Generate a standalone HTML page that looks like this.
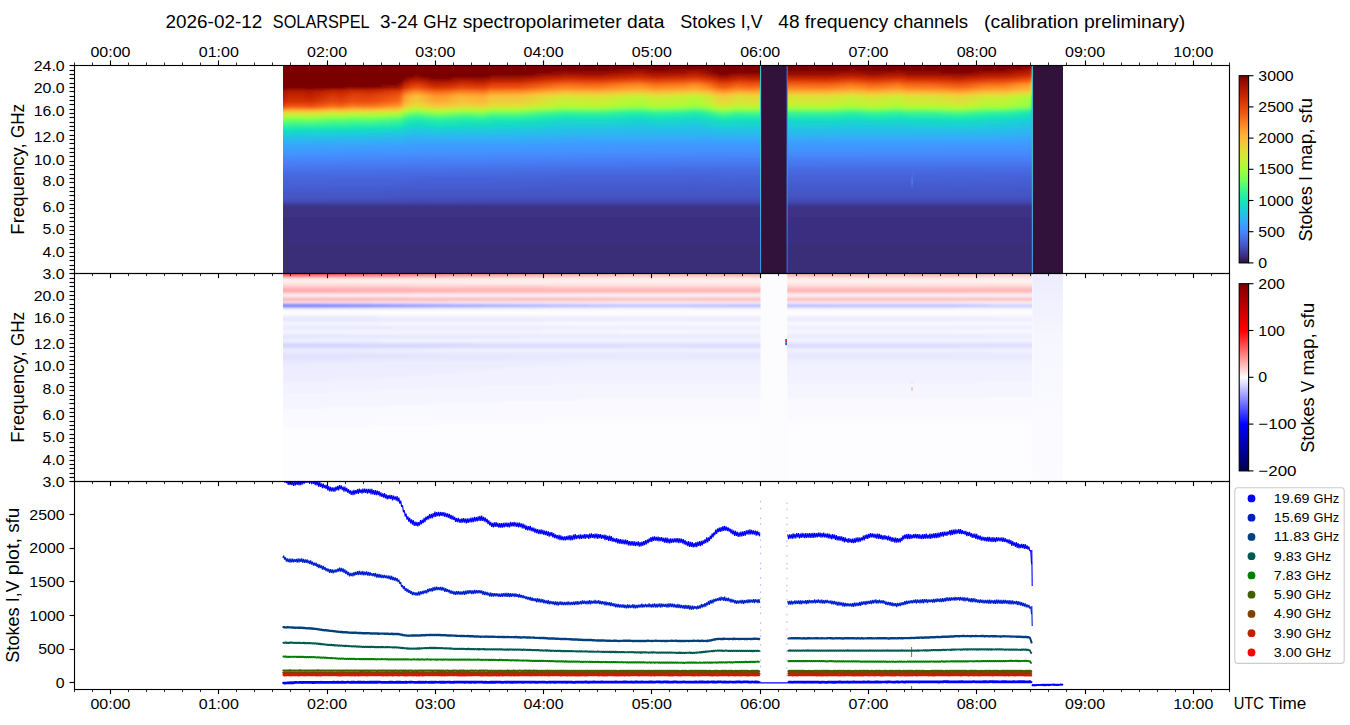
<!DOCTYPE html>
<html><head><meta charset="utf-8"><style>html,body{margin:0;padding:0;background:#fff;}svg{display:block;}</style></head>
<body><svg width="1350" height="725" viewBox="0 0 1350 725"><defs><linearGradient id="cbg0" x1="0" y1="0" x2="0" y2="1"><stop offset="0.000" stop-color="#7a0403"/><stop offset="0.031" stop-color="#920b01"/><stop offset="0.062" stop-color="#a91601"/><stop offset="0.094" stop-color="#be2102"/><stop offset="0.125" stop-color="#d02f05"/><stop offset="0.156" stop-color="#df3f08"/><stop offset="0.188" stop-color="#eb500e"/><stop offset="0.219" stop-color="#f46617"/><stop offset="0.250" stop-color="#fb7e21"/><stop offset="0.281" stop-color="#fe962b"/><stop offset="0.312" stop-color="#fdac34"/><stop offset="0.344" stop-color="#f8be39"/><stop offset="0.375" stop-color="#eecf3a"/><stop offset="0.406" stop-color="#dfdf37"/><stop offset="0.438" stop-color="#cdec34"/><stop offset="0.469" stop-color="#b9f635"/><stop offset="0.500" stop-color="#a4fc3c"/><stop offset="0.531" stop-color="#8bff4b"/><stop offset="0.562" stop-color="#6dfe62"/><stop offset="0.594" stop-color="#4ef97d"/><stop offset="0.625" stop-color="#32f298"/><stop offset="0.656" stop-color="#1fe9af"/><stop offset="0.688" stop-color="#18ddc2"/><stop offset="0.719" stop-color="#1ccdd8"/><stop offset="0.750" stop-color="#28bceb"/><stop offset="0.781" stop-color="#37a8fa"/><stop offset="0.812" stop-color="#4294ff"/><stop offset="0.844" stop-color="#4680f6"/><stop offset="0.875" stop-color="#466be3"/><stop offset="0.906" stop-color="#4456c7"/><stop offset="0.938" stop-color="#4040a2"/><stop offset="0.969" stop-color="#392a73"/><stop offset="1.000" stop-color="#30123b"/></linearGradient><linearGradient id="cbg1" x1="0" y1="0" x2="0" y2="1"><stop offset="0.000" stop-color="#800000"/><stop offset="0.031" stop-color="#8e0000"/><stop offset="0.062" stop-color="#9e0000"/><stop offset="0.094" stop-color="#ae0000"/><stop offset="0.125" stop-color="#be0000"/><stop offset="0.156" stop-color="#ce0000"/><stop offset="0.188" stop-color="#de0000"/><stop offset="0.219" stop-color="#ee0000"/><stop offset="0.250" stop-color="#fe0000"/><stop offset="0.281" stop-color="#ff1d1d"/><stop offset="0.312" stop-color="#ff3d3d"/><stop offset="0.344" stop-color="#ff5d5d"/><stop offset="0.375" stop-color="#ff7d7d"/><stop offset="0.406" stop-color="#ff9d9d"/><stop offset="0.438" stop-color="#ffbdbd"/><stop offset="0.469" stop-color="#ffdddd"/><stop offset="0.500" stop-color="#fffdfd"/><stop offset="0.531" stop-color="#e1e1ff"/><stop offset="0.562" stop-color="#c1c1ff"/><stop offset="0.594" stop-color="#a1a1ff"/><stop offset="0.625" stop-color="#8181ff"/><stop offset="0.656" stop-color="#6161ff"/><stop offset="0.688" stop-color="#4141ff"/><stop offset="0.719" stop-color="#2121ff"/><stop offset="0.750" stop-color="#0101ff"/><stop offset="0.781" stop-color="#0000e9"/><stop offset="0.812" stop-color="#0000d3"/><stop offset="0.844" stop-color="#0000bc"/><stop offset="0.875" stop-color="#0000a6"/><stop offset="0.906" stop-color="#000090"/><stop offset="0.938" stop-color="#000079"/><stop offset="0.969" stop-color="#000063"/><stop offset="1.000" stop-color="#00004c"/></linearGradient><linearGradient id="s0" gradientUnits="userSpaceOnUse" x1="282.8" y1="0" x2="1032.3" y2="0"><stop offset="0.0000" stop-color="#7a0403"/><stop offset="0.9980" stop-color="#7a0403"/><stop offset="1.0000" stop-color="#c12302"/></linearGradient><linearGradient id="s1" gradientUnits="userSpaceOnUse" x1="282.8" y1="0" x2="1032.3" y2="0"><stop offset="0.0000" stop-color="#7a0403"/><stop offset="0.9980" stop-color="#7a0403"/><stop offset="1.0000" stop-color="#cc2b04"/></linearGradient><linearGradient id="s2" gradientUnits="userSpaceOnUse" x1="282.8" y1="0" x2="1032.3" y2="0"><stop offset="0.0000" stop-color="#7a0403"/><stop offset="0.9953" stop-color="#7a0403"/><stop offset="0.9980" stop-color="#880802"/><stop offset="1.0000" stop-color="#d63506"/></linearGradient><linearGradient id="s3" gradientUnits="userSpaceOnUse" x1="282.8" y1="0" x2="1032.3" y2="0"><stop offset="0.0000" stop-color="#7a0403"/><stop offset="0.5444" stop-color="#7a0403"/><stop offset="0.5497" stop-color="#7e0502"/><stop offset="0.5684" stop-color="#7a0403"/><stop offset="0.9767" stop-color="#7a0403"/><stop offset="0.9953" stop-color="#8b0902"/><stop offset="0.9980" stop-color="#a11201"/><stop offset="1.0000" stop-color="#e14109"/></linearGradient><linearGradient id="s4" gradientUnits="userSpaceOnUse" x1="282.8" y1="0" x2="1032.3" y2="0"><stop offset="0.0000" stop-color="#7a0403"/><stop offset="0.4350" stop-color="#7a0403"/><stop offset="0.4643" stop-color="#8e0a01"/><stop offset="0.4777" stop-color="#920b01"/><stop offset="0.4963" stop-color="#7e0502"/><stop offset="0.5097" stop-color="#810602"/><stop offset="0.5337" stop-color="#880802"/><stop offset="0.5470" stop-color="#950d01"/><stop offset="0.5550" stop-color="#920b01"/><stop offset="0.5710" stop-color="#7a0403"/><stop offset="0.7418" stop-color="#7a0403"/><stop offset="0.7605" stop-color="#850702"/><stop offset="0.7792" stop-color="#7a0403"/><stop offset="0.8085" stop-color="#7a0403"/><stop offset="0.8219" stop-color="#850702"/><stop offset="0.8272" stop-color="#7a0403"/><stop offset="0.9313" stop-color="#7a0403"/><stop offset="0.9500" stop-color="#7e0502"/><stop offset="0.9633" stop-color="#810602"/><stop offset="0.9767" stop-color="#950d01"/><stop offset="0.9953" stop-color="#a11201"/><stop offset="0.9980" stop-color="#b41b01"/><stop offset="1.0000" stop-color="#eb500e"/></linearGradient><linearGradient id="s5" gradientUnits="userSpaceOnUse" x1="282.8" y1="0" x2="1032.3" y2="0"><stop offset="0.0000" stop-color="#7a0403"/><stop offset="0.3496" stop-color="#7a0403"/><stop offset="0.3736" stop-color="#8e0a01"/><stop offset="0.4163" stop-color="#880802"/><stop offset="0.4296" stop-color="#8b0902"/><stop offset="0.4563" stop-color="#9e1001"/><stop offset="0.4777" stop-color="#a41301"/><stop offset="0.4830" stop-color="#a11201"/><stop offset="0.4937" stop-color="#920b01"/><stop offset="0.5284" stop-color="#980e01"/><stop offset="0.5470" stop-color="#a71401"/><stop offset="0.5577" stop-color="#a11201"/><stop offset="0.5684" stop-color="#920b01"/><stop offset="0.5764" stop-color="#7a0403"/><stop offset="0.6031" stop-color="#7a0403"/><stop offset="0.6084" stop-color="#810602"/><stop offset="0.6217" stop-color="#7a0403"/><stop offset="0.6378" stop-color="#7e0502"/><stop offset="0.6644" stop-color="#880802"/><stop offset="0.7258" stop-color="#850702"/><stop offset="0.7552" stop-color="#980e01"/><stop offset="0.7685" stop-color="#950d01"/><stop offset="0.7872" stop-color="#850702"/><stop offset="0.8112" stop-color="#920b01"/><stop offset="0.8192" stop-color="#980e01"/><stop offset="0.8245" stop-color="#950d01"/><stop offset="0.8326" stop-color="#880802"/><stop offset="0.8672" stop-color="#880802"/><stop offset="0.8939" stop-color="#7a0403"/><stop offset="0.9153" stop-color="#7e0502"/><stop offset="0.9340" stop-color="#920b01"/><stop offset="0.9660" stop-color="#980e01"/><stop offset="0.9767" stop-color="#a71401"/><stop offset="0.9953" stop-color="#b21a01"/><stop offset="0.9980" stop-color="#c32503"/><stop offset="1.0000" stop-color="#f15d13"/></linearGradient><linearGradient id="s6" gradientUnits="userSpaceOnUse" x1="282.8" y1="0" x2="1032.3" y2="0"><stop offset="0.0000" stop-color="#7a0403"/><stop offset="0.3282" stop-color="#7a0403"/><stop offset="0.3442" stop-color="#8b0902"/><stop offset="0.3656" stop-color="#9b0f01"/><stop offset="0.3763" stop-color="#a11201"/><stop offset="0.4083" stop-color="#9b0f01"/><stop offset="0.4296" stop-color="#9e1001"/><stop offset="0.4590" stop-color="#af1801"/><stop offset="0.4777" stop-color="#b41b01"/><stop offset="0.4963" stop-color="#a41301"/><stop offset="0.5284" stop-color="#a91601"/><stop offset="0.5497" stop-color="#b71d02"/><stop offset="0.5657" stop-color="#a71401"/><stop offset="0.5737" stop-color="#980e01"/><stop offset="0.5817" stop-color="#810602"/><stop offset="0.5924" stop-color="#7e0502"/><stop offset="0.6084" stop-color="#950d01"/><stop offset="0.6217" stop-color="#8b0902"/><stop offset="0.6671" stop-color="#9b0f01"/><stop offset="0.7205" stop-color="#950d01"/><stop offset="0.7605" stop-color="#a91601"/><stop offset="0.7765" stop-color="#9e1001"/><stop offset="0.7845" stop-color="#980e01"/><stop offset="0.8112" stop-color="#a41301"/><stop offset="0.8219" stop-color="#a91601"/><stop offset="0.8352" stop-color="#9b0f01"/><stop offset="0.8726" stop-color="#980e01"/><stop offset="0.9019" stop-color="#880802"/><stop offset="0.9366" stop-color="#a41301"/><stop offset="0.9633" stop-color="#a71401"/><stop offset="0.9847" stop-color="#b91e02"/><stop offset="0.9953" stop-color="#c12302"/><stop offset="0.9980" stop-color="#ce2d04"/><stop offset="1.0000" stop-color="#f66c19"/></linearGradient><linearGradient id="s7" gradientUnits="userSpaceOnUse" x1="282.8" y1="0" x2="1032.3" y2="0"><stop offset="0.0000" stop-color="#7a0403"/><stop offset="0.1708" stop-color="#7a0403"/><stop offset="0.1761" stop-color="#850702"/><stop offset="0.1815" stop-color="#850702"/><stop offset="0.1868" stop-color="#7a0403"/><stop offset="0.2722" stop-color="#7a0403"/><stop offset="0.2802" stop-color="#880802"/><stop offset="0.3122" stop-color="#850702"/><stop offset="0.3469" stop-color="#a41301"/><stop offset="0.3629" stop-color="#af1801"/><stop offset="0.3789" stop-color="#b41b01"/><stop offset="0.4216" stop-color="#af1801"/><stop offset="0.4643" stop-color="#c32503"/><stop offset="0.4830" stop-color="#c32503"/><stop offset="0.4963" stop-color="#b71d02"/><stop offset="0.5337" stop-color="#be2102"/><stop offset="0.5470" stop-color="#c82803"/><stop offset="0.5604" stop-color="#c12302"/><stop offset="0.5710" stop-color="#b21a01"/><stop offset="0.5817" stop-color="#9b0f01"/><stop offset="0.5897" stop-color="#950d01"/><stop offset="0.5924" stop-color="#950d01"/><stop offset="0.6031" stop-color="#a71401"/><stop offset="0.6137" stop-color="#a71401"/><stop offset="0.6244" stop-color="#a11201"/><stop offset="0.6644" stop-color="#af1801"/><stop offset="0.7312" stop-color="#af1801"/><stop offset="0.7578" stop-color="#bc2002"/><stop offset="0.7792" stop-color="#b21a01"/><stop offset="0.7872" stop-color="#ac1701"/><stop offset="0.8219" stop-color="#bc2002"/><stop offset="0.8352" stop-color="#af1801"/><stop offset="0.8753" stop-color="#ac1701"/><stop offset="0.8993" stop-color="#a11201"/><stop offset="0.9099" stop-color="#a41301"/><stop offset="0.9393" stop-color="#b91e02"/><stop offset="0.9660" stop-color="#bc2002"/><stop offset="0.9820" stop-color="#ca2a04"/><stop offset="0.9953" stop-color="#d02f05"/><stop offset="0.9980" stop-color="#dc3b07"/><stop offset="1.0000" stop-color="#fb8122"/></linearGradient><linearGradient id="s8" gradientUnits="userSpaceOnUse" x1="282.8" y1="0" x2="1032.3" y2="0"><stop offset="0.0000" stop-color="#7a0403"/><stop offset="0.1628" stop-color="#7a0403"/><stop offset="0.1734" stop-color="#980e01"/><stop offset="0.1761" stop-color="#9e1001"/><stop offset="0.1841" stop-color="#9b0f01"/><stop offset="0.1948" stop-color="#850702"/><stop offset="0.2055" stop-color="#7a0403"/><stop offset="0.2215" stop-color="#7e0502"/><stop offset="0.2348" stop-color="#920b01"/><stop offset="0.2562" stop-color="#8e0a01"/><stop offset="0.2668" stop-color="#880802"/><stop offset="0.2775" stop-color="#a11201"/><stop offset="0.3149" stop-color="#a11201"/><stop offset="0.3442" stop-color="#b91e02"/><stop offset="0.3763" stop-color="#ca2a04"/><stop offset="0.4243" stop-color="#c52603"/><stop offset="0.4723" stop-color="#d83706"/><stop offset="0.4990" stop-color="#cc2b04"/><stop offset="0.5364" stop-color="#d43305"/><stop offset="0.5524" stop-color="#da3907"/><stop offset="0.5710" stop-color="#c82803"/><stop offset="0.5817" stop-color="#b21a01"/><stop offset="0.5897" stop-color="#ac1701"/><stop offset="0.6084" stop-color="#be2102"/><stop offset="0.6271" stop-color="#b91e02"/><stop offset="0.6698" stop-color="#c52603"/><stop offset="0.7231" stop-color="#c12302"/><stop offset="0.7605" stop-color="#d02f05"/><stop offset="0.7872" stop-color="#c32503"/><stop offset="0.8219" stop-color="#d02f05"/><stop offset="0.8352" stop-color="#c52603"/><stop offset="0.8726" stop-color="#c32503"/><stop offset="0.9019" stop-color="#b71d02"/><stop offset="0.9366" stop-color="#cc2b04"/><stop offset="0.9633" stop-color="#ce2d04"/><stop offset="0.9953" stop-color="#e14109"/><stop offset="0.9980" stop-color="#eb500e"/><stop offset="1.0000" stop-color="#fe9e2f"/></linearGradient><linearGradient id="s9" gradientUnits="userSpaceOnUse" x1="282.8" y1="0" x2="1032.3" y2="0"><stop offset="0.0000" stop-color="#7a0403"/><stop offset="0.1601" stop-color="#7a0403"/><stop offset="0.1628" stop-color="#920b01"/><stop offset="0.1708" stop-color="#a91601"/><stop offset="0.1761" stop-color="#b41b01"/><stop offset="0.1815" stop-color="#b41b01"/><stop offset="0.2028" stop-color="#920b01"/><stop offset="0.2188" stop-color="#950d01"/><stop offset="0.2348" stop-color="#a91601"/><stop offset="0.2535" stop-color="#a71401"/><stop offset="0.2668" stop-color="#a11201"/><stop offset="0.2722" stop-color="#a71401"/><stop offset="0.2802" stop-color="#b71d02"/><stop offset="0.3149" stop-color="#b71d02"/><stop offset="0.3496" stop-color="#ce2d04"/><stop offset="0.3763" stop-color="#da3907"/><stop offset="0.4243" stop-color="#d63506"/><stop offset="0.4723" stop-color="#e5470b"/><stop offset="0.4857" stop-color="#e2430a"/><stop offset="0.4990" stop-color="#dc3b07"/><stop offset="0.5364" stop-color="#e2430a"/><stop offset="0.5497" stop-color="#e84b0c"/><stop offset="0.5684" stop-color="#dc3b07"/><stop offset="0.5844" stop-color="#c32503"/><stop offset="0.5924" stop-color="#c32503"/><stop offset="0.6084" stop-color="#d23105"/><stop offset="0.6271" stop-color="#cc2b04"/><stop offset="0.6724" stop-color="#d63506"/><stop offset="0.7258" stop-color="#d43305"/><stop offset="0.7605" stop-color="#df3f08"/><stop offset="0.7819" stop-color="#d63506"/><stop offset="0.8032" stop-color="#d83706"/><stop offset="0.8219" stop-color="#df3f08"/><stop offset="0.8352" stop-color="#d63506"/><stop offset="0.8726" stop-color="#d43305"/><stop offset="0.9019" stop-color="#ca2a04"/><stop offset="0.9420" stop-color="#dd3d08"/><stop offset="0.9633" stop-color="#df3f08"/><stop offset="0.9900" stop-color="#eb500e"/><stop offset="0.9953" stop-color="#ed5510"/><stop offset="0.9980" stop-color="#f46617"/><stop offset="1.0000" stop-color="#fbb637"/></linearGradient><linearGradient id="s10" gradientUnits="userSpaceOnUse" x1="282.8" y1="0" x2="1032.3" y2="0"><stop offset="0.0000" stop-color="#7a0403"/><stop offset="0.1548" stop-color="#7a0403"/><stop offset="0.1574" stop-color="#7e0502"/><stop offset="0.1628" stop-color="#a91601"/><stop offset="0.1681" stop-color="#b91e02"/><stop offset="0.1761" stop-color="#c82803"/><stop offset="0.1841" stop-color="#c52603"/><stop offset="0.2028" stop-color="#a91601"/><stop offset="0.2188" stop-color="#ac1701"/><stop offset="0.2402" stop-color="#c12302"/><stop offset="0.2668" stop-color="#b71d02"/><stop offset="0.2775" stop-color="#ca2a04"/><stop offset="0.3175" stop-color="#cc2b04"/><stop offset="0.3522" stop-color="#e14109"/><stop offset="0.3789" stop-color="#ea4e0d"/><stop offset="0.4189" stop-color="#e5470b"/><stop offset="0.4723" stop-color="#f26014"/><stop offset="0.4830" stop-color="#f05b12"/><stop offset="0.4963" stop-color="#eb500e"/><stop offset="0.5337" stop-color="#ef5811"/><stop offset="0.5470" stop-color="#f36315"/><stop offset="0.5577" stop-color="#f15d13"/><stop offset="0.5710" stop-color="#e84b0c"/><stop offset="0.5817" stop-color="#d83706"/><stop offset="0.5924" stop-color="#d63506"/><stop offset="0.6084" stop-color="#e2430a"/><stop offset="0.6271" stop-color="#dd3d08"/><stop offset="0.6724" stop-color="#e7490c"/><stop offset="0.7258" stop-color="#e4450a"/><stop offset="0.7605" stop-color="#ed5510"/><stop offset="0.7872" stop-color="#e4450a"/><stop offset="0.8219" stop-color="#ed5510"/><stop offset="0.8299" stop-color="#e7490c"/><stop offset="0.8699" stop-color="#e5470b"/><stop offset="0.9019" stop-color="#dc3b07"/><stop offset="0.9393" stop-color="#eb500e"/><stop offset="0.9633" stop-color="#ec530f"/><stop offset="0.9847" stop-color="#f56918"/><stop offset="0.9927" stop-color="#f66c19"/><stop offset="0.9953" stop-color="#f8721c"/><stop offset="0.9980" stop-color="#fc8725"/><stop offset="1.0000" stop-color="#eecf3a"/></linearGradient><linearGradient id="s11" gradientUnits="userSpaceOnUse" x1="282.8" y1="0" x2="1032.3" y2="0"><stop offset="0.0000" stop-color="#7a0403"/><stop offset="0.1441" stop-color="#7a0403"/><stop offset="0.1521" stop-color="#810602"/><stop offset="0.1548" stop-color="#880802"/><stop offset="0.1574" stop-color="#950d01"/><stop offset="0.1628" stop-color="#bc2002"/><stop offset="0.1708" stop-color="#d23105"/><stop offset="0.1815" stop-color="#da3907"/><stop offset="0.2001" stop-color="#c12302"/><stop offset="0.2081" stop-color="#bc2002"/><stop offset="0.2268" stop-color="#c82803"/><stop offset="0.2402" stop-color="#d23105"/><stop offset="0.2588" stop-color="#cc2b04"/><stop offset="0.2695" stop-color="#cc2b04"/><stop offset="0.2802" stop-color="#dc3b07"/><stop offset="0.3149" stop-color="#dc3b07"/><stop offset="0.3629" stop-color="#f15d13"/><stop offset="0.3789" stop-color="#f46617"/><stop offset="0.4109" stop-color="#f15d13"/><stop offset="0.4270" stop-color="#f26014"/><stop offset="0.4590" stop-color="#f9781e"/><stop offset="0.4803" stop-color="#fa7b1f"/><stop offset="0.4937" stop-color="#f56918"/><stop offset="0.5097" stop-color="#f66c19"/><stop offset="0.5337" stop-color="#f8721c"/><stop offset="0.5497" stop-color="#fb8122"/><stop offset="0.5577" stop-color="#fa7b1f"/><stop offset="0.5710" stop-color="#f36315"/><stop offset="0.5817" stop-color="#e5470b"/><stop offset="0.5951" stop-color="#e5470b"/><stop offset="0.6084" stop-color="#ef5811"/><stop offset="0.6244" stop-color="#eb500e"/><stop offset="0.6644" stop-color="#f15d13"/><stop offset="0.6858" stop-color="#f15d13"/><stop offset="0.7312" stop-color="#f15d13"/><stop offset="0.7552" stop-color="#f76f1a"/><stop offset="0.7712" stop-color="#f56918"/><stop offset="0.7872" stop-color="#f05b12"/><stop offset="0.8112" stop-color="#f56918"/><stop offset="0.8219" stop-color="#f76f1a"/><stop offset="0.8299" stop-color="#f26014"/><stop offset="0.8672" stop-color="#f15d13"/><stop offset="0.9019" stop-color="#ea4e0d"/><stop offset="0.9233" stop-color="#f15d13"/><stop offset="0.9366" stop-color="#f56918"/><stop offset="0.9633" stop-color="#f66c19"/><stop offset="0.9820" stop-color="#fc8423"/><stop offset="0.9953" stop-color="#fd8d27"/><stop offset="0.9980" stop-color="#fea431"/><stop offset="1.0000" stop-color="#d9e436"/></linearGradient><linearGradient id="s12" gradientUnits="userSpaceOnUse" x1="282.8" y1="0" x2="1032.3" y2="0"><stop offset="0.0000" stop-color="#7a0403"/><stop offset="0.1227" stop-color="#7a0403"/><stop offset="0.1308" stop-color="#810602"/><stop offset="0.1388" stop-color="#8e0a01"/><stop offset="0.1521" stop-color="#950d01"/><stop offset="0.1574" stop-color="#a71401"/><stop offset="0.1628" stop-color="#cc2b04"/><stop offset="0.1708" stop-color="#dd3d08"/><stop offset="0.1788" stop-color="#e5470b"/><stop offset="0.2028" stop-color="#cc2b04"/><stop offset="0.2215" stop-color="#d02f05"/><stop offset="0.2375" stop-color="#dd3d08"/><stop offset="0.2588" stop-color="#da3907"/><stop offset="0.2695" stop-color="#da3907"/><stop offset="0.2775" stop-color="#e5470b"/><stop offset="0.3175" stop-color="#e7490c"/><stop offset="0.3469" stop-color="#f36315"/><stop offset="0.3656" stop-color="#f8721c"/><stop offset="0.3763" stop-color="#fa7b1f"/><stop offset="0.4029" stop-color="#f8721c"/><stop offset="0.4296" stop-color="#f9751d"/><stop offset="0.4510" stop-color="#fc8725"/><stop offset="0.4777" stop-color="#fe9029"/><stop offset="0.4990" stop-color="#fa7b1f"/><stop offset="0.5203" stop-color="#fc8423"/><stop offset="0.5337" stop-color="#fc8725"/><stop offset="0.5497" stop-color="#fe962b"/><stop offset="0.5657" stop-color="#fb8122"/><stop offset="0.5764" stop-color="#f46617"/><stop offset="0.5844" stop-color="#ed5510"/><stop offset="0.5924" stop-color="#ed5510"/><stop offset="0.6057" stop-color="#f56918"/><stop offset="0.6244" stop-color="#f26014"/><stop offset="0.6564" stop-color="#f76f1a"/><stop offset="0.7018" stop-color="#f76f1a"/><stop offset="0.7285" stop-color="#f76f1a"/><stop offset="0.7578" stop-color="#fc8423"/><stop offset="0.7765" stop-color="#f9781e"/><stop offset="0.7819" stop-color="#f76f1a"/><stop offset="0.8005" stop-color="#f9751d"/><stop offset="0.8192" stop-color="#fb8122"/><stop offset="0.8272" stop-color="#fa7b1f"/><stop offset="0.8326" stop-color="#f8721c"/><stop offset="0.8726" stop-color="#f76f1a"/><stop offset="0.8993" stop-color="#f26014"/><stop offset="0.9099" stop-color="#f36315"/><stop offset="0.9393" stop-color="#fb7e21"/><stop offset="0.9633" stop-color="#fb8122"/><stop offset="0.9793" stop-color="#fe962b"/><stop offset="0.9953" stop-color="#fea130"/><stop offset="0.9980" stop-color="#fcb336"/><stop offset="1.0000" stop-color="#c8ef34"/></linearGradient><linearGradient id="s13" gradientUnits="userSpaceOnUse" x1="282.8" y1="0" x2="1032.3" y2="0"><stop offset="0.0000" stop-color="#7a0403"/><stop offset="0.0587" stop-color="#7a0403"/><stop offset="0.0667" stop-color="#810602"/><stop offset="0.0774" stop-color="#7a0403"/><stop offset="0.0907" stop-color="#8e0a01"/><stop offset="0.1094" stop-color="#880802"/><stop offset="0.1227" stop-color="#8e0a01"/><stop offset="0.1441" stop-color="#a41301"/><stop offset="0.1521" stop-color="#a71401"/><stop offset="0.1574" stop-color="#b71d02"/><stop offset="0.1628" stop-color="#d63506"/><stop offset="0.1734" stop-color="#ea4e0d"/><stop offset="0.1788" stop-color="#ec530f"/><stop offset="0.2028" stop-color="#d83706"/><stop offset="0.2135" stop-color="#d83706"/><stop offset="0.2402" stop-color="#e7490c"/><stop offset="0.2668" stop-color="#e14109"/><stop offset="0.2775" stop-color="#ec530f"/><stop offset="0.3149" stop-color="#ed5510"/><stop offset="0.3549" stop-color="#f9781e"/><stop offset="0.3736" stop-color="#fc8725"/><stop offset="0.4083" stop-color="#fb8122"/><stop offset="0.4189" stop-color="#fb7e21"/><stop offset="0.4403" stop-color="#fd8d27"/><stop offset="0.4643" stop-color="#fe9b2d"/><stop offset="0.4803" stop-color="#fe9b2d"/><stop offset="0.4963" stop-color="#fd8a26"/><stop offset="0.5230" stop-color="#fe9029"/><stop offset="0.5364" stop-color="#fe962b"/><stop offset="0.5470" stop-color="#fea130"/><stop offset="0.5577" stop-color="#fe9b2d"/><stop offset="0.5710" stop-color="#fc8423"/><stop offset="0.5791" stop-color="#f66c19"/><stop offset="0.5897" stop-color="#f26014"/><stop offset="0.6057" stop-color="#f9781e"/><stop offset="0.6137" stop-color="#f9751d"/><stop offset="0.6244" stop-color="#f76f1a"/><stop offset="0.6564" stop-color="#fb7e21"/><stop offset="0.6805" stop-color="#fb8122"/><stop offset="0.7205" stop-color="#fa7b1f"/><stop offset="0.7445" stop-color="#fd8a26"/><stop offset="0.7605" stop-color="#fe9029"/><stop offset="0.7738" stop-color="#fd8a26"/><stop offset="0.7819" stop-color="#fb7e21"/><stop offset="0.7979" stop-color="#fb8122"/><stop offset="0.8192" stop-color="#fe9029"/><stop offset="0.8245" stop-color="#fd8d27"/><stop offset="0.8326" stop-color="#fb8122"/><stop offset="0.8699" stop-color="#fb7e21"/><stop offset="0.8993" stop-color="#f76f1a"/><stop offset="0.9099" stop-color="#f8721c"/><stop offset="0.9393" stop-color="#fd8d27"/><stop offset="0.9633" stop-color="#fe9029"/><stop offset="0.9873" stop-color="#fea732"/><stop offset="0.9953" stop-color="#fdac34"/><stop offset="0.9980" stop-color="#f8be39"/><stop offset="1.0000" stop-color="#bef434"/></linearGradient><linearGradient id="s14" gradientUnits="userSpaceOnUse" x1="282.8" y1="0" x2="1032.3" y2="0"><stop offset="0.0000" stop-color="#950d01"/><stop offset="0.0080" stop-color="#a41301"/><stop offset="0.0240" stop-color="#a41301"/><stop offset="0.0374" stop-color="#9e1001"/><stop offset="0.0667" stop-color="#b71d02"/><stop offset="0.0774" stop-color="#b21a01"/><stop offset="0.0934" stop-color="#c12302"/><stop offset="0.1121" stop-color="#bc2002"/><stop offset="0.1361" stop-color="#ca2a04"/><stop offset="0.1548" stop-color="#d23105"/><stop offset="0.1601" stop-color="#e2430a"/><stop offset="0.1628" stop-color="#ec530f"/><stop offset="0.1734" stop-color="#f76f1a"/><stop offset="0.1841" stop-color="#f76f1a"/><stop offset="0.1921" stop-color="#f26014"/><stop offset="0.2055" stop-color="#ec530f"/><stop offset="0.2215" stop-color="#ef5811"/><stop offset="0.2375" stop-color="#f56918"/><stop offset="0.2668" stop-color="#f26014"/><stop offset="0.2722" stop-color="#f46617"/><stop offset="0.2775" stop-color="#f9751d"/><stop offset="0.3175" stop-color="#f9781e"/><stop offset="0.3469" stop-color="#fe9029"/><stop offset="0.3736" stop-color="#fea130"/><stop offset="0.4189" stop-color="#fe9b2d"/><stop offset="0.4670" stop-color="#fcb136"/><stop offset="0.4803" stop-color="#fcb136"/><stop offset="0.4963" stop-color="#fea431"/><stop offset="0.5337" stop-color="#fdac34"/><stop offset="0.5497" stop-color="#fbb637"/><stop offset="0.5684" stop-color="#fea431"/><stop offset="0.5817" stop-color="#fc8725"/><stop offset="0.5897" stop-color="#fb8122"/><stop offset="0.6031" stop-color="#fe932a"/><stop offset="0.6137" stop-color="#fe932a"/><stop offset="0.6244" stop-color="#fd8d27"/><stop offset="0.6538" stop-color="#fe992c"/><stop offset="0.7312" stop-color="#fe9b2d"/><stop offset="0.7605" stop-color="#fea933"/><stop offset="0.7765" stop-color="#fea130"/><stop offset="0.7845" stop-color="#fe992c"/><stop offset="0.8112" stop-color="#fea431"/><stop offset="0.8219" stop-color="#fea933"/><stop offset="0.8352" stop-color="#fe9b2d"/><stop offset="0.8753" stop-color="#fe992c"/><stop offset="0.8993" stop-color="#fd8d27"/><stop offset="0.9099" stop-color="#fe9029"/><stop offset="0.9366" stop-color="#fea431"/><stop offset="0.9660" stop-color="#fea933"/><stop offset="0.9847" stop-color="#fbb838"/><stop offset="0.9953" stop-color="#f8be39"/><stop offset="0.9980" stop-color="#f1cb3a"/><stop offset="1.0000" stop-color="#b9f635"/></linearGradient><linearGradient id="s15" gradientUnits="userSpaceOnUse" x1="282.8" y1="0" x2="1032.3" y2="0"><stop offset="0.0000" stop-color="#a91601"/><stop offset="0.0107" stop-color="#b91e02"/><stop offset="0.0347" stop-color="#b21a01"/><stop offset="0.0667" stop-color="#ca2a04"/><stop offset="0.0774" stop-color="#c52603"/><stop offset="0.0934" stop-color="#d23105"/><stop offset="0.1174" stop-color="#ce2d04"/><stop offset="0.1548" stop-color="#e14109"/><stop offset="0.1574" stop-color="#e5470b"/><stop offset="0.1628" stop-color="#f56918"/><stop offset="0.1734" stop-color="#fc8725"/><stop offset="0.1788" stop-color="#fd8d27"/><stop offset="0.1868" stop-color="#fb8122"/><stop offset="0.2001" stop-color="#f66c19"/><stop offset="0.2161" stop-color="#f66c19"/><stop offset="0.2268" stop-color="#f9751d"/><stop offset="0.2348" stop-color="#fb8122"/><stop offset="0.2535" stop-color="#fb7e21"/><stop offset="0.2668" stop-color="#f9781e"/><stop offset="0.2722" stop-color="#fb7e21"/><stop offset="0.2775" stop-color="#fd8d27"/><stop offset="0.3175" stop-color="#fe9029"/><stop offset="0.3496" stop-color="#fea933"/><stop offset="0.3763" stop-color="#fbb838"/><stop offset="0.4216" stop-color="#fcb136"/><stop offset="0.4616" stop-color="#f6c33a"/><stop offset="0.4830" stop-color="#f6c33a"/><stop offset="0.4963" stop-color="#fbb838"/><stop offset="0.5390" stop-color="#f6c33a"/><stop offset="0.5524" stop-color="#f4c73a"/><stop offset="0.5684" stop-color="#faba39"/><stop offset="0.5844" stop-color="#fe9b2d"/><stop offset="0.5924" stop-color="#fe9b2d"/><stop offset="0.6084" stop-color="#fdac34"/><stop offset="0.6271" stop-color="#fea732"/><stop offset="0.6698" stop-color="#fcb336"/><stop offset="0.7231" stop-color="#fdae35"/><stop offset="0.7578" stop-color="#f8be39"/><stop offset="0.7792" stop-color="#fcb336"/><stop offset="0.7979" stop-color="#fcb336"/><stop offset="0.8219" stop-color="#f9bc39"/><stop offset="0.8326" stop-color="#fcb336"/><stop offset="0.8699" stop-color="#fcb136"/><stop offset="0.9046" stop-color="#fea431"/><stop offset="0.9393" stop-color="#faba39"/><stop offset="0.9633" stop-color="#f9bc39"/><stop offset="0.9873" stop-color="#f1cb3a"/><stop offset="0.9953" stop-color="#eecf3a"/><stop offset="0.9980" stop-color="#e1dd37"/><stop offset="1.0000" stop-color="#a1fd3d"/></linearGradient><linearGradient id="s16" gradientUnits="userSpaceOnUse" x1="282.8" y1="0" x2="1032.3" y2="0"><stop offset="0.0000" stop-color="#af1801"/><stop offset="0.0080" stop-color="#be2102"/><stop offset="0.0240" stop-color="#be2102"/><stop offset="0.0374" stop-color="#b91e02"/><stop offset="0.0694" stop-color="#d23105"/><stop offset="0.0774" stop-color="#cc2b04"/><stop offset="0.0961" stop-color="#da3907"/><stop offset="0.1147" stop-color="#d63506"/><stop offset="0.1521" stop-color="#e7490c"/><stop offset="0.1574" stop-color="#ed5510"/><stop offset="0.1628" stop-color="#fb7e21"/><stop offset="0.1681" stop-color="#fe932a"/><stop offset="0.1788" stop-color="#fea732"/><stop offset="0.1895" stop-color="#fe962b"/><stop offset="0.2055" stop-color="#fb7e21"/><stop offset="0.2188" stop-color="#fc8423"/><stop offset="0.2348" stop-color="#fe992c"/><stop offset="0.2562" stop-color="#fe962b"/><stop offset="0.2668" stop-color="#fe9029"/><stop offset="0.2722" stop-color="#fe962b"/><stop offset="0.2775" stop-color="#fea732"/><stop offset="0.3175" stop-color="#fea933"/><stop offset="0.3442" stop-color="#f8be39"/><stop offset="0.3789" stop-color="#eecf3a"/><stop offset="0.4189" stop-color="#f2c93a"/><stop offset="0.4750" stop-color="#e1dd37"/><stop offset="0.4990" stop-color="#eecf3a"/><stop offset="0.5364" stop-color="#e5d938"/><stop offset="0.5524" stop-color="#dfdf37"/><stop offset="0.5710" stop-color="#efcd3a"/><stop offset="0.5791" stop-color="#faba39"/><stop offset="0.5897" stop-color="#fcb336"/><stop offset="0.6084" stop-color="#f5c53a"/><stop offset="0.6271" stop-color="#f8be39"/><stop offset="0.6698" stop-color="#f2c93a"/><stop offset="0.7258" stop-color="#f4c73a"/><stop offset="0.7605" stop-color="#e9d539"/><stop offset="0.7872" stop-color="#f4c73a"/><stop offset="0.8219" stop-color="#ebd339"/><stop offset="0.8352" stop-color="#f2c93a"/><stop offset="0.8726" stop-color="#f4c73a"/><stop offset="0.9046" stop-color="#f9bc39"/><stop offset="0.9393" stop-color="#ecd13a"/><stop offset="0.9633" stop-color="#ebd339"/><stop offset="0.9847" stop-color="#dbe236"/><stop offset="0.9927" stop-color="#d9e436"/><stop offset="0.9953" stop-color="#d4e735"/><stop offset="0.9980" stop-color="#c3f134"/><stop offset="1.0000" stop-color="#69fd66"/></linearGradient><linearGradient id="s17" gradientUnits="userSpaceOnUse" x1="282.8" y1="0" x2="1032.3" y2="0"><stop offset="0.0000" stop-color="#b41b01"/><stop offset="0.0080" stop-color="#c32503"/><stop offset="0.0187" stop-color="#c82803"/><stop offset="0.0347" stop-color="#be2102"/><stop offset="0.0667" stop-color="#da3907"/><stop offset="0.0774" stop-color="#d43305"/><stop offset="0.0934" stop-color="#e14109"/><stop offset="0.1121" stop-color="#dd3d08"/><stop offset="0.1361" stop-color="#e84b0c"/><stop offset="0.1521" stop-color="#ed5510"/><stop offset="0.1548" stop-color="#f05b12"/><stop offset="0.1574" stop-color="#f56918"/><stop offset="0.1628" stop-color="#fe962b"/><stop offset="0.1654" stop-color="#fea431"/><stop offset="0.1734" stop-color="#fbb838"/><stop offset="0.1788" stop-color="#f8be39"/><stop offset="0.1841" stop-color="#faba39"/><stop offset="0.2028" stop-color="#fe992c"/><stop offset="0.2161" stop-color="#fe9b2d"/><stop offset="0.2375" stop-color="#fcb336"/><stop offset="0.2562" stop-color="#fdae35"/><stop offset="0.2668" stop-color="#fea933"/><stop offset="0.2775" stop-color="#f8be39"/><stop offset="0.3149" stop-color="#f7c13a"/><stop offset="0.3496" stop-color="#e5d938"/><stop offset="0.3763" stop-color="#d7e535"/><stop offset="0.4216" stop-color="#dde037"/><stop offset="0.4643" stop-color="#c3f134"/><stop offset="0.4803" stop-color="#c3f134"/><stop offset="0.4990" stop-color="#d4e735"/><stop offset="0.5203" stop-color="#cdec34"/><stop offset="0.5337" stop-color="#cbed34"/><stop offset="0.5470" stop-color="#bef434"/><stop offset="0.5577" stop-color="#c3f134"/><stop offset="0.5737" stop-color="#dfdf37"/><stop offset="0.5817" stop-color="#eecf3a"/><stop offset="0.5897" stop-color="#f1cb3a"/><stop offset="0.6084" stop-color="#e1dd37"/><stop offset="0.6271" stop-color="#e7d739"/><stop offset="0.6751" stop-color="#dbe236"/><stop offset="0.7258" stop-color="#dfdf37"/><stop offset="0.7578" stop-color="#cdec34"/><stop offset="0.7765" stop-color="#d7e535"/><stop offset="0.7845" stop-color="#dde037"/><stop offset="0.8112" stop-color="#d4e735"/><stop offset="0.8219" stop-color="#cdec34"/><stop offset="0.8326" stop-color="#dbe236"/><stop offset="0.8699" stop-color="#dde037"/><stop offset="0.9046" stop-color="#e9d539"/><stop offset="0.9393" stop-color="#d2e935"/><stop offset="0.9633" stop-color="#d0ea34"/><stop offset="0.9793" stop-color="#bcf534"/><stop offset="0.9953" stop-color="#b1f936"/><stop offset="0.9980" stop-color="#9cfe40"/><stop offset="1.0000" stop-color="#25eca7"/></linearGradient><linearGradient id="s18" gradientUnits="userSpaceOnUse" x1="282.8" y1="0" x2="1032.3" y2="0"><stop offset="0.0000" stop-color="#bc2002"/><stop offset="0.0080" stop-color="#ca2a04"/><stop offset="0.0240" stop-color="#ca2a04"/><stop offset="0.0374" stop-color="#c52603"/><stop offset="0.0667" stop-color="#dd3d08"/><stop offset="0.0774" stop-color="#d83706"/><stop offset="0.0934" stop-color="#e5470b"/><stop offset="0.1067" stop-color="#e14109"/><stop offset="0.1281" stop-color="#e7490c"/><stop offset="0.1441" stop-color="#ef5811"/><stop offset="0.1521" stop-color="#f05b12"/><stop offset="0.1548" stop-color="#f26014"/><stop offset="0.1574" stop-color="#f76f1a"/><stop offset="0.1628" stop-color="#fe9e2f"/><stop offset="0.1708" stop-color="#fbb838"/><stop offset="0.1788" stop-color="#f6c33a"/><stop offset="0.2028" stop-color="#fe9e2f"/><stop offset="0.2161" stop-color="#fea130"/><stop offset="0.2375" stop-color="#fbb838"/><stop offset="0.2562" stop-color="#fcb336"/><stop offset="0.2668" stop-color="#fdae35"/><stop offset="0.2775" stop-color="#f6c33a"/><stop offset="0.3149" stop-color="#f5c53a"/><stop offset="0.3576" stop-color="#dde037"/><stop offset="0.3736" stop-color="#d2e935"/><stop offset="0.4243" stop-color="#d9e436"/><stop offset="0.4670" stop-color="#bef434"/><stop offset="0.4830" stop-color="#c1f334"/><stop offset="0.4937" stop-color="#d0ea34"/><stop offset="0.5337" stop-color="#c6f034"/><stop offset="0.5497" stop-color="#b9f635"/><stop offset="0.5604" stop-color="#c3f134"/><stop offset="0.5737" stop-color="#dbe236"/><stop offset="0.5817" stop-color="#ebd339"/><stop offset="0.5924" stop-color="#eecf3a"/><stop offset="0.6057" stop-color="#dfdf37"/><stop offset="0.6271" stop-color="#e3db38"/><stop offset="0.6724" stop-color="#d7e535"/><stop offset="0.7205" stop-color="#dde037"/><stop offset="0.7578" stop-color="#c8ef34"/><stop offset="0.7792" stop-color="#d7e535"/><stop offset="0.7872" stop-color="#dbe236"/><stop offset="0.8219" stop-color="#cbed34"/><stop offset="0.8326" stop-color="#d7e535"/><stop offset="0.8672" stop-color="#d9e436"/><stop offset="0.9019" stop-color="#e7d739"/><stop offset="0.9420" stop-color="#cdec34"/><stop offset="0.9633" stop-color="#cbed34"/><stop offset="0.9873" stop-color="#b4f836"/><stop offset="0.9953" stop-color="#acfb38"/><stop offset="0.9980" stop-color="#96fe44"/><stop offset="1.0000" stop-color="#22ebaa"/></linearGradient><linearGradient id="s19" gradientUnits="userSpaceOnUse" x1="282.8" y1="0" x2="1032.3" y2="0"><stop offset="0.0000" stop-color="#c12302"/><stop offset="0.0080" stop-color="#d02f05"/><stop offset="0.0213" stop-color="#d02f05"/><stop offset="0.0374" stop-color="#cc2b04"/><stop offset="0.0667" stop-color="#e2430a"/><stop offset="0.0774" stop-color="#dd3d08"/><stop offset="0.0934" stop-color="#e84b0c"/><stop offset="0.1147" stop-color="#e5470b"/><stop offset="0.1281" stop-color="#ea4e0d"/><stop offset="0.1441" stop-color="#f15d13"/><stop offset="0.1548" stop-color="#f56918"/><stop offset="0.1574" stop-color="#f9751d"/><stop offset="0.1628" stop-color="#fea431"/><stop offset="0.1708" stop-color="#f9bc39"/><stop offset="0.1788" stop-color="#f4c73a"/><stop offset="0.2028" stop-color="#fea431"/><stop offset="0.2161" stop-color="#fea732"/><stop offset="0.2375" stop-color="#f9bc39"/><stop offset="0.2588" stop-color="#fbb637"/><stop offset="0.2695" stop-color="#fbb637"/><stop offset="0.2775" stop-color="#f4c73a"/><stop offset="0.3175" stop-color="#f2c93a"/><stop offset="0.3522" stop-color="#dde037"/><stop offset="0.3763" stop-color="#cdec34"/><stop offset="0.4109" stop-color="#d4e735"/><stop offset="0.4323" stop-color="#d0ea34"/><stop offset="0.4643" stop-color="#bcf534"/><stop offset="0.4803" stop-color="#bcf534"/><stop offset="0.4963" stop-color="#cbed34"/><stop offset="0.5337" stop-color="#c3f134"/><stop offset="0.5470" stop-color="#b7f735"/><stop offset="0.5577" stop-color="#bcf534"/><stop offset="0.5737" stop-color="#d7e535"/><stop offset="0.5817" stop-color="#e9d539"/><stop offset="0.5924" stop-color="#ebd339"/><stop offset="0.6057" stop-color="#dbe236"/><stop offset="0.6271" stop-color="#e1dd37"/><stop offset="0.6671" stop-color="#d4e735"/><stop offset="0.7231" stop-color="#d9e436"/><stop offset="0.7578" stop-color="#c6f034"/><stop offset="0.7738" stop-color="#cdec34"/><stop offset="0.7845" stop-color="#d7e535"/><stop offset="0.8112" stop-color="#cbed34"/><stop offset="0.8219" stop-color="#c6f034"/><stop offset="0.8326" stop-color="#d4e735"/><stop offset="0.8726" stop-color="#d7e535"/><stop offset="0.9046" stop-color="#e3db38"/><stop offset="0.9366" stop-color="#cbed34"/><stop offset="0.9633" stop-color="#c8ef34"/><stop offset="0.9793" stop-color="#b4f836"/><stop offset="0.9953" stop-color="#a9fb39"/><stop offset="0.9980" stop-color="#92ff47"/><stop offset="1.0000" stop-color="#20eaac"/></linearGradient><linearGradient id="s20" gradientUnits="userSpaceOnUse" x1="282.8" y1="0" x2="1032.3" y2="0"><stop offset="0.0000" stop-color="#cc2b04"/><stop offset="0.0080" stop-color="#d83706"/><stop offset="0.0240" stop-color="#d83706"/><stop offset="0.0400" stop-color="#d63506"/><stop offset="0.0667" stop-color="#e84b0c"/><stop offset="0.0774" stop-color="#e4450a"/><stop offset="0.0934" stop-color="#ed5510"/><stop offset="0.1121" stop-color="#eb500e"/><stop offset="0.1281" stop-color="#ef5811"/><stop offset="0.1441" stop-color="#f56918"/><stop offset="0.1521" stop-color="#f76f1a"/><stop offset="0.1548" stop-color="#f9751d"/><stop offset="0.1574" stop-color="#fb8122"/><stop offset="0.1628" stop-color="#fdac34"/><stop offset="0.1708" stop-color="#f6c33a"/><stop offset="0.1788" stop-color="#efcd3a"/><stop offset="0.1868" stop-color="#f6c33a"/><stop offset="0.2055" stop-color="#fdac34"/><stop offset="0.2215" stop-color="#fcb336"/><stop offset="0.2375" stop-color="#f6c33a"/><stop offset="0.2562" stop-color="#f8be39"/><stop offset="0.2668" stop-color="#f9bc39"/><stop offset="0.2722" stop-color="#f7c13a"/><stop offset="0.2775" stop-color="#efcd3a"/><stop offset="0.3149" stop-color="#eecf3a"/><stop offset="0.3682" stop-color="#cbed34"/><stop offset="0.3763" stop-color="#c6f034"/><stop offset="0.4056" stop-color="#cdec34"/><stop offset="0.4243" stop-color="#cdec34"/><stop offset="0.4616" stop-color="#b7f735"/><stop offset="0.4830" stop-color="#b7f735"/><stop offset="0.4990" stop-color="#c6f034"/><stop offset="0.5203" stop-color="#bef434"/><stop offset="0.5337" stop-color="#bcf534"/><stop offset="0.5497" stop-color="#affa37"/><stop offset="0.5630" stop-color="#bcf534"/><stop offset="0.5764" stop-color="#d9e436"/><stop offset="0.5844" stop-color="#e5d938"/><stop offset="0.5951" stop-color="#e1dd37"/><stop offset="0.6084" stop-color="#d4e735"/><stop offset="0.6271" stop-color="#dbe236"/><stop offset="0.6698" stop-color="#cdec34"/><stop offset="0.7231" stop-color="#d2e935"/><stop offset="0.7578" stop-color="#bef434"/><stop offset="0.7765" stop-color="#c8ef34"/><stop offset="0.7845" stop-color="#d0ea34"/><stop offset="0.8059" stop-color="#c8ef34"/><stop offset="0.8219" stop-color="#bef434"/><stop offset="0.8326" stop-color="#cdec34"/><stop offset="0.8699" stop-color="#d0ea34"/><stop offset="0.9046" stop-color="#dde037"/><stop offset="0.9393" stop-color="#c3f134"/><stop offset="0.9633" stop-color="#c1f334"/><stop offset="0.9873" stop-color="#a9fb39"/><stop offset="0.9953" stop-color="#a1fd3d"/><stop offset="0.9980" stop-color="#8bff4b"/><stop offset="1.0000" stop-color="#1de7b2"/></linearGradient><linearGradient id="s21" gradientUnits="userSpaceOnUse" x1="282.8" y1="0" x2="1032.3" y2="0"><stop offset="0.0000" stop-color="#da3907"/><stop offset="0.0080" stop-color="#e4450a"/><stop offset="0.0240" stop-color="#e4450a"/><stop offset="0.0374" stop-color="#e14109"/><stop offset="0.0667" stop-color="#f05b12"/><stop offset="0.0801" stop-color="#ed5510"/><stop offset="0.0907" stop-color="#f46617"/><stop offset="0.1094" stop-color="#f26014"/><stop offset="0.1254" stop-color="#f56918"/><stop offset="0.1441" stop-color="#fa7b1f"/><stop offset="0.1521" stop-color="#fb8122"/><stop offset="0.1574" stop-color="#fe932a"/><stop offset="0.1628" stop-color="#fbb838"/><stop offset="0.1681" stop-color="#f2c93a"/><stop offset="0.1788" stop-color="#e7d739"/><stop offset="0.1868" stop-color="#eecf3a"/><stop offset="0.2028" stop-color="#faba39"/><stop offset="0.2215" stop-color="#f8be39"/><stop offset="0.2375" stop-color="#efcd3a"/><stop offset="0.2562" stop-color="#f2c93a"/><stop offset="0.2695" stop-color="#f2c93a"/><stop offset="0.2722" stop-color="#f1cb3a"/><stop offset="0.2775" stop-color="#e7d739"/><stop offset="0.3175" stop-color="#e5d938"/><stop offset="0.3656" stop-color="#c1f334"/><stop offset="0.3789" stop-color="#bcf534"/><stop offset="0.4163" stop-color="#c3f134"/><stop offset="0.4270" stop-color="#c1f334"/><stop offset="0.4643" stop-color="#a9fb39"/><stop offset="0.4803" stop-color="#a9fb39"/><stop offset="0.4963" stop-color="#b9f635"/><stop offset="0.5337" stop-color="#b1f936"/><stop offset="0.5470" stop-color="#a4fc3c"/><stop offset="0.5577" stop-color="#a9fb39"/><stop offset="0.5710" stop-color="#bef434"/><stop offset="0.5817" stop-color="#d9e436"/><stop offset="0.5897" stop-color="#dde037"/><stop offset="0.6057" stop-color="#cbed34"/><stop offset="0.6298" stop-color="#d0ea34"/><stop offset="0.6644" stop-color="#c3f134"/><stop offset="0.6858" stop-color="#c3f134"/><stop offset="0.7205" stop-color="#c6f034"/><stop offset="0.7418" stop-color="#bcf534"/><stop offset="0.7578" stop-color="#b4f836"/><stop offset="0.7738" stop-color="#bcf534"/><stop offset="0.7872" stop-color="#c6f034"/><stop offset="0.8112" stop-color="#b9f635"/><stop offset="0.8219" stop-color="#b4f836"/><stop offset="0.8299" stop-color="#c1f334"/><stop offset="0.8672" stop-color="#c3f134"/><stop offset="0.9019" stop-color="#d2e935"/><stop offset="0.9206" stop-color="#c6f034"/><stop offset="0.9366" stop-color="#b9f635"/><stop offset="0.9633" stop-color="#b7f735"/><stop offset="0.9873" stop-color="#9ffd3f"/><stop offset="0.9927" stop-color="#9cfe40"/><stop offset="0.9953" stop-color="#96fe44"/><stop offset="0.9980" stop-color="#7dff56"/><stop offset="1.0000" stop-color="#19e3b9"/></linearGradient><linearGradient id="s22" gradientUnits="userSpaceOnUse" x1="282.8" y1="0" x2="1032.3" y2="0"><stop offset="0.0000" stop-color="#e4450a"/><stop offset="0.0080" stop-color="#ec530f"/><stop offset="0.0267" stop-color="#ec530f"/><stop offset="0.0374" stop-color="#ea4e0d"/><stop offset="0.0667" stop-color="#f66c19"/><stop offset="0.0774" stop-color="#f46617"/><stop offset="0.0934" stop-color="#fa7b1f"/><stop offset="0.1067" stop-color="#f8721c"/><stop offset="0.1254" stop-color="#fa7b1f"/><stop offset="0.1441" stop-color="#fd8d27"/><stop offset="0.1548" stop-color="#fe962b"/><stop offset="0.1574" stop-color="#fea130"/><stop offset="0.1628" stop-color="#f5c53a"/><stop offset="0.1708" stop-color="#e7d739"/><stop offset="0.1788" stop-color="#dde037"/><stop offset="0.2001" stop-color="#f2c93a"/><stop offset="0.2108" stop-color="#f5c53a"/><stop offset="0.2295" stop-color="#ecd13a"/><stop offset="0.2402" stop-color="#e7d739"/><stop offset="0.2668" stop-color="#ecd13a"/><stop offset="0.2722" stop-color="#e9d539"/><stop offset="0.2775" stop-color="#dde037"/><stop offset="0.3175" stop-color="#dbe236"/><stop offset="0.3549" stop-color="#bef434"/><stop offset="0.3736" stop-color="#b1f936"/><stop offset="0.4163" stop-color="#b7f735"/><stop offset="0.4323" stop-color="#b1f936"/><stop offset="0.4643" stop-color="#9ffd3f"/><stop offset="0.4803" stop-color="#9ffd3f"/><stop offset="0.4990" stop-color="#affa37"/><stop offset="0.5284" stop-color="#a7fc3a"/><stop offset="0.5470" stop-color="#99fe42"/><stop offset="0.5577" stop-color="#9ffd3f"/><stop offset="0.5737" stop-color="#b9f635"/><stop offset="0.5791" stop-color="#c8ef34"/><stop offset="0.5897" stop-color="#d2e935"/><stop offset="0.6057" stop-color="#bef434"/><stop offset="0.6244" stop-color="#c6f034"/><stop offset="0.6671" stop-color="#b7f735"/><stop offset="0.7231" stop-color="#bcf534"/><stop offset="0.7578" stop-color="#a9fb39"/><stop offset="0.7738" stop-color="#affa37"/><stop offset="0.7845" stop-color="#b9f635"/><stop offset="0.8059" stop-color="#b1f936"/><stop offset="0.8219" stop-color="#a9fb39"/><stop offset="0.8352" stop-color="#b7f735"/><stop offset="0.8699" stop-color="#b9f635"/><stop offset="0.8993" stop-color="#c6f034"/><stop offset="0.9099" stop-color="#c3f134"/><stop offset="0.9393" stop-color="#acfb38"/><stop offset="0.9633" stop-color="#a9fb39"/><stop offset="0.9847" stop-color="#92ff47"/><stop offset="0.9927" stop-color="#8fff49"/><stop offset="0.9953" stop-color="#88ff4e"/><stop offset="0.9980" stop-color="#6dfe62"/><stop offset="1.0000" stop-color="#18dec0"/></linearGradient><linearGradient id="s23" gradientUnits="userSpaceOnUse" x1="282.8" y1="0" x2="1032.3" y2="0"><stop offset="0.0000" stop-color="#f46617"/><stop offset="0.0107" stop-color="#f9781e"/><stop offset="0.0240" stop-color="#f9751d"/><stop offset="0.0374" stop-color="#f76f1a"/><stop offset="0.0667" stop-color="#fe9029"/><stop offset="0.0774" stop-color="#fc8725"/><stop offset="0.0934" stop-color="#fe9b2d"/><stop offset="0.1094" stop-color="#fe962b"/><stop offset="0.1254" stop-color="#fe9b2d"/><stop offset="0.1441" stop-color="#fdac34"/><stop offset="0.1521" stop-color="#fdae35"/><stop offset="0.1574" stop-color="#f9bc39"/><stop offset="0.1601" stop-color="#f2c93a"/><stop offset="0.1628" stop-color="#e5d938"/><stop offset="0.1734" stop-color="#cdec34"/><stop offset="0.1788" stop-color="#c8ef34"/><stop offset="0.2028" stop-color="#e5d938"/><stop offset="0.2241" stop-color="#dfdf37"/><stop offset="0.2402" stop-color="#d2e935"/><stop offset="0.2668" stop-color="#dbe236"/><stop offset="0.2775" stop-color="#c8ef34"/><stop offset="0.3175" stop-color="#c6f034"/><stop offset="0.3442" stop-color="#affa37"/><stop offset="0.3602" stop-color="#a4fc3c"/><stop offset="0.3763" stop-color="#99fe42"/><stop offset="0.4056" stop-color="#a1fd3d"/><stop offset="0.4270" stop-color="#9ffd3f"/><stop offset="0.4590" stop-color="#88ff4e"/><stop offset="0.4777" stop-color="#80ff53"/><stop offset="0.4963" stop-color="#99fe42"/><stop offset="0.5230" stop-color="#8fff49"/><stop offset="0.5337" stop-color="#8bff4b"/><stop offset="0.5470" stop-color="#7dff56"/><stop offset="0.5550" stop-color="#80ff53"/><stop offset="0.5710" stop-color="#9cfe40"/><stop offset="0.5791" stop-color="#b4f836"/><stop offset="0.5897" stop-color="#bcf534"/><stop offset="0.6084" stop-color="#a7fc3a"/><stop offset="0.6244" stop-color="#affa37"/><stop offset="0.6644" stop-color="#a1fd3d"/><stop offset="0.7312" stop-color="#a1fd3d"/><stop offset="0.7525" stop-color="#92ff47"/><stop offset="0.7578" stop-color="#8fff49"/><stop offset="0.7765" stop-color="#9cfe40"/><stop offset="0.7872" stop-color="#a4fc3c"/><stop offset="0.8139" stop-color="#96fe44"/><stop offset="0.8219" stop-color="#92ff47"/><stop offset="0.8326" stop-color="#a1fd3d"/><stop offset="0.8726" stop-color="#a4fc3c"/><stop offset="0.9046" stop-color="#b1f936"/><stop offset="0.9366" stop-color="#96fe44"/><stop offset="0.9633" stop-color="#92ff47"/><stop offset="0.9820" stop-color="#79fe59"/><stop offset="0.9927" stop-color="#71fe5f"/><stop offset="0.9953" stop-color="#6dfe62"/><stop offset="0.9980" stop-color="#52fa7a"/><stop offset="1.0000" stop-color="#19d5cd"/></linearGradient><linearGradient id="s24" gradientUnits="userSpaceOnUse" x1="282.8" y1="0" x2="1032.3" y2="0"><stop offset="0.0000" stop-color="#fe992c"/><stop offset="0.0107" stop-color="#fea933"/><stop offset="0.0294" stop-color="#fea431"/><stop offset="0.0400" stop-color="#fea431"/><stop offset="0.0667" stop-color="#faba39"/><stop offset="0.0774" stop-color="#fbb637"/><stop offset="0.0961" stop-color="#f6c33a"/><stop offset="0.1121" stop-color="#f8be39"/><stop offset="0.1361" stop-color="#f1cb3a"/><stop offset="0.1521" stop-color="#ecd13a"/><stop offset="0.1574" stop-color="#e3db38"/><stop offset="0.1628" stop-color="#c6f034"/><stop offset="0.1681" stop-color="#b7f735"/><stop offset="0.1788" stop-color="#a7fc3a"/><stop offset="0.1868" stop-color="#affa37"/><stop offset="0.1975" stop-color="#bef434"/><stop offset="0.2081" stop-color="#c6f034"/><stop offset="0.2268" stop-color="#bcf534"/><stop offset="0.2375" stop-color="#b1f936"/><stop offset="0.2562" stop-color="#b4f836"/><stop offset="0.2668" stop-color="#b9f635"/><stop offset="0.2722" stop-color="#b4f836"/><stop offset="0.2802" stop-color="#a4fc3c"/><stop offset="0.3149" stop-color="#a4fc3c"/><stop offset="0.3629" stop-color="#79fe59"/><stop offset="0.3736" stop-color="#6dfe62"/><stop offset="0.3976" stop-color="#75fe5c"/><stop offset="0.4189" stop-color="#79fe59"/><stop offset="0.4403" stop-color="#69fd66"/><stop offset="0.4616" stop-color="#59fb73"/><stop offset="0.4803" stop-color="#55fa76"/><stop offset="0.4963" stop-color="#6dfe62"/><stop offset="0.5177" stop-color="#65fd69"/><stop offset="0.5284" stop-color="#65fd69"/><stop offset="0.5497" stop-color="#4ef97d"/><stop offset="0.5577" stop-color="#55fa76"/><stop offset="0.5710" stop-color="#71fe5f"/><stop offset="0.5791" stop-color="#8fff49"/><stop offset="0.5897" stop-color="#99fe42"/><stop offset="0.6004" stop-color="#8bff4b"/><stop offset="0.6057" stop-color="#80ff53"/><stop offset="0.6191" stop-color="#88ff4e"/><stop offset="0.6244" stop-color="#8bff4b"/><stop offset="0.6404" stop-color="#80ff53"/><stop offset="0.6644" stop-color="#79fe59"/><stop offset="0.6751" stop-color="#75fe5c"/><stop offset="0.6858" stop-color="#79fe59"/><stop offset="0.7205" stop-color="#7dff56"/><stop offset="0.7312" stop-color="#79fe59"/><stop offset="0.7552" stop-color="#65fd69"/><stop offset="0.7658" stop-color="#65fd69"/><stop offset="0.7845" stop-color="#79fe59"/><stop offset="0.7952" stop-color="#79fe59"/><stop offset="0.8192" stop-color="#65fd69"/><stop offset="0.8272" stop-color="#6dfe62"/><stop offset="0.8299" stop-color="#75fe5c"/><stop offset="0.8619" stop-color="#75fe5c"/><stop offset="0.8859" stop-color="#84ff51"/><stop offset="0.9019" stop-color="#8bff4b"/><stop offset="0.9153" stop-color="#80ff53"/><stop offset="0.9366" stop-color="#69fd66"/><stop offset="0.9606" stop-color="#69fd66"/><stop offset="0.9793" stop-color="#4ef97d"/><stop offset="0.9927" stop-color="#46f884"/><stop offset="0.9953" stop-color="#3ff68a"/><stop offset="0.9980" stop-color="#2cf09e"/><stop offset="1.0000" stop-color="#23c3e4"/></linearGradient><linearGradient id="s25" gradientUnits="userSpaceOnUse" x1="282.8" y1="0" x2="1032.3" y2="0"><stop offset="0.0000" stop-color="#f6c33a"/><stop offset="0.0133" stop-color="#efcd3a"/><stop offset="0.0400" stop-color="#f1cb3a"/><stop offset="0.0694" stop-color="#e3db38"/><stop offset="0.0801" stop-color="#e7d739"/><stop offset="0.0934" stop-color="#dde037"/><stop offset="0.1227" stop-color="#dde037"/><stop offset="0.1468" stop-color="#d0ea34"/><stop offset="0.1548" stop-color="#cbed34"/><stop offset="0.1601" stop-color="#b4f836"/><stop offset="0.1654" stop-color="#99fe42"/><stop offset="0.1761" stop-color="#80ff53"/><stop offset="0.1788" stop-color="#7dff56"/><stop offset="0.1895" stop-color="#8fff49"/><stop offset="0.2028" stop-color="#a1fd3d"/><stop offset="0.2188" stop-color="#9ffd3f"/><stop offset="0.2375" stop-color="#8bff4b"/><stop offset="0.2562" stop-color="#8fff49"/><stop offset="0.2642" stop-color="#96fe44"/><stop offset="0.2695" stop-color="#92ff47"/><stop offset="0.2775" stop-color="#7dff56"/><stop offset="0.2989" stop-color="#79fe59"/><stop offset="0.3095" stop-color="#7dff56"/><stop offset="0.3202" stop-color="#75fe5c"/><stop offset="0.3416" stop-color="#5dfc6f"/><stop offset="0.3576" stop-color="#52fa7a"/><stop offset="0.3736" stop-color="#43f787"/><stop offset="0.3949" stop-color="#46f884"/><stop offset="0.4083" stop-color="#4af880"/><stop offset="0.4243" stop-color="#4af880"/><stop offset="0.4563" stop-color="#32f298"/><stop offset="0.4803" stop-color="#2ff19b"/><stop offset="0.4963" stop-color="#3ff68a"/><stop offset="0.5097" stop-color="#3cf58e"/><stop offset="0.5337" stop-color="#35f394"/><stop offset="0.5497" stop-color="#2aefa1"/><stop offset="0.5630" stop-color="#35f394"/><stop offset="0.5764" stop-color="#55fa76"/><stop offset="0.5791" stop-color="#61fc6c"/><stop offset="0.5897" stop-color="#6dfe62"/><stop offset="0.6057" stop-color="#52fa7a"/><stop offset="0.6164" stop-color="#55fa76"/><stop offset="0.6271" stop-color="#59fb73"/><stop offset="0.6431" stop-color="#52fa7a"/><stop offset="0.6644" stop-color="#4af880"/><stop offset="0.6858" stop-color="#4af880"/><stop offset="0.6965" stop-color="#4ef97d"/><stop offset="0.7258" stop-color="#4ef97d"/><stop offset="0.7578" stop-color="#38f491"/><stop offset="0.7765" stop-color="#43f787"/><stop offset="0.7872" stop-color="#4ef97d"/><stop offset="0.8112" stop-color="#3ff68a"/><stop offset="0.8219" stop-color="#38f491"/><stop offset="0.8326" stop-color="#4af880"/><stop offset="0.8672" stop-color="#4af880"/><stop offset="0.9019" stop-color="#5dfc6f"/><stop offset="0.9126" stop-color="#55fa76"/><stop offset="0.9366" stop-color="#3ff68a"/><stop offset="0.9660" stop-color="#38f491"/><stop offset="0.9847" stop-color="#27eea4"/><stop offset="0.9953" stop-color="#22ebaa"/><stop offset="0.9980" stop-color="#19e3b9"/><stop offset="1.0000" stop-color="#31aff5"/></linearGradient><linearGradient id="s26" gradientUnits="userSpaceOnUse" x1="282.8" y1="0" x2="1032.3" y2="0"><stop offset="0.0000" stop-color="#dbe236"/><stop offset="0.0053" stop-color="#d2e935"/><stop offset="0.0294" stop-color="#d2e935"/><stop offset="0.0400" stop-color="#d2e935"/><stop offset="0.0667" stop-color="#c1f334"/><stop offset="0.0774" stop-color="#c6f034"/><stop offset="0.0934" stop-color="#b9f635"/><stop offset="0.1121" stop-color="#bef434"/><stop offset="0.1334" stop-color="#b4f836"/><stop offset="0.1548" stop-color="#a9fb39"/><stop offset="0.1574" stop-color="#a1fd3d"/><stop offset="0.1628" stop-color="#80ff53"/><stop offset="0.1708" stop-color="#65fd69"/><stop offset="0.1788" stop-color="#59fb73"/><stop offset="0.2001" stop-color="#7dff56"/><stop offset="0.2108" stop-color="#80ff53"/><stop offset="0.2215" stop-color="#79fe59"/><stop offset="0.2322" stop-color="#69fd66"/><stop offset="0.2428" stop-color="#65fd69"/><stop offset="0.2668" stop-color="#71fe5f"/><stop offset="0.2748" stop-color="#61fc6c"/><stop offset="0.2775" stop-color="#59fb73"/><stop offset="0.3149" stop-color="#59fb73"/><stop offset="0.3389" stop-color="#43f787"/><stop offset="0.3763" stop-color="#2cf09e"/><stop offset="0.4003" stop-color="#32f298"/><stop offset="0.4323" stop-color="#2ff19b"/><stop offset="0.4563" stop-color="#25eca7"/><stop offset="0.4777" stop-color="#20eaac"/><stop offset="0.4963" stop-color="#2cf09e"/><stop offset="0.5257" stop-color="#27eea4"/><stop offset="0.5364" stop-color="#25eca7"/><stop offset="0.5497" stop-color="#1fe9af"/><stop offset="0.5710" stop-color="#2ff19b"/><stop offset="0.5817" stop-color="#46f884"/><stop offset="0.5897" stop-color="#4ef97d"/><stop offset="0.6057" stop-color="#38f491"/><stop offset="0.6271" stop-color="#3ff68a"/><stop offset="0.6538" stop-color="#35f394"/><stop offset="0.6805" stop-color="#32f298"/><stop offset="0.7151" stop-color="#35f394"/><stop offset="0.7338" stop-color="#32f298"/><stop offset="0.7578" stop-color="#27eea4"/><stop offset="0.7765" stop-color="#2ff19b"/><stop offset="0.7845" stop-color="#35f394"/><stop offset="0.8165" stop-color="#2aefa1"/><stop offset="0.8245" stop-color="#2aefa1"/><stop offset="0.8299" stop-color="#32f298"/><stop offset="0.8672" stop-color="#32f298"/><stop offset="0.9019" stop-color="#43f787"/><stop offset="0.9420" stop-color="#2aefa1"/><stop offset="0.9660" stop-color="#27eea4"/><stop offset="0.9873" stop-color="#1de7b2"/><stop offset="0.9953" stop-color="#1ae4b6"/><stop offset="0.9980" stop-color="#18ddc2"/><stop offset="1.0000" stop-color="#31aff5"/></linearGradient><linearGradient id="s27" gradientUnits="userSpaceOnUse" x1="282.8" y1="0" x2="1032.3" y2="0"><stop offset="0.0000" stop-color="#b9f635"/><stop offset="0.0107" stop-color="#affa37"/><stop offset="0.0347" stop-color="#b4f836"/><stop offset="0.0694" stop-color="#a1fd3d"/><stop offset="0.0774" stop-color="#a7fc3a"/><stop offset="0.0934" stop-color="#9cfe40"/><stop offset="0.1227" stop-color="#9cfe40"/><stop offset="0.1548" stop-color="#88ff4e"/><stop offset="0.1574" stop-color="#80ff53"/><stop offset="0.1628" stop-color="#5dfc6f"/><stop offset="0.1708" stop-color="#4af880"/><stop offset="0.1788" stop-color="#3ff68a"/><stop offset="0.1841" stop-color="#43f787"/><stop offset="0.1948" stop-color="#55fa76"/><stop offset="0.2055" stop-color="#5dfc6f"/><stop offset="0.2215" stop-color="#59fb73"/><stop offset="0.2348" stop-color="#4af880"/><stop offset="0.2535" stop-color="#4af880"/><stop offset="0.2642" stop-color="#52fa7a"/><stop offset="0.2722" stop-color="#4af880"/><stop offset="0.2775" stop-color="#3ff68a"/><stop offset="0.3149" stop-color="#3ff68a"/><stop offset="0.3389" stop-color="#2ff19b"/><stop offset="0.3789" stop-color="#20eaac"/><stop offset="0.4189" stop-color="#25eca7"/><stop offset="0.4750" stop-color="#1ae4b6"/><stop offset="0.5017" stop-color="#20eaac"/><stop offset="0.5417" stop-color="#1ae4b6"/><stop offset="0.5577" stop-color="#1ae4b6"/><stop offset="0.5764" stop-color="#2aefa1"/><stop offset="0.5844" stop-color="#35f394"/><stop offset="0.5951" stop-color="#32f298"/><stop offset="0.6084" stop-color="#27eea4"/><stop offset="0.6271" stop-color="#2cf09e"/><stop offset="0.6644" stop-color="#25eca7"/><stop offset="0.7312" stop-color="#25eca7"/><stop offset="0.7578" stop-color="#1de7b2"/><stop offset="0.7899" stop-color="#25eca7"/><stop offset="0.8245" stop-color="#1fe9af"/><stop offset="0.8352" stop-color="#25eca7"/><stop offset="0.8806" stop-color="#27eea4"/><stop offset="0.8993" stop-color="#2cf09e"/><stop offset="0.9153" stop-color="#2aefa1"/><stop offset="0.9393" stop-color="#1fe9af"/><stop offset="0.9686" stop-color="#1de7b2"/><stop offset="0.9953" stop-color="#18dec0"/><stop offset="0.9980" stop-color="#18d7ca"/><stop offset="1.0000" stop-color="#31aff5"/></linearGradient><linearGradient id="s28" gradientUnits="userSpaceOnUse" x1="282.8" y1="0" x2="1032.3" y2="0"><stop offset="0.0000" stop-color="#9cfe40"/><stop offset="0.0053" stop-color="#92ff47"/><stop offset="0.0187" stop-color="#8fff49"/><stop offset="0.0374" stop-color="#96fe44"/><stop offset="0.0614" stop-color="#84ff51"/><stop offset="0.0694" stop-color="#80ff53"/><stop offset="0.0801" stop-color="#84ff51"/><stop offset="0.0934" stop-color="#79fe59"/><stop offset="0.1174" stop-color="#7dff56"/><stop offset="0.1414" stop-color="#6dfe62"/><stop offset="0.1521" stop-color="#69fd66"/><stop offset="0.1574" stop-color="#5dfc6f"/><stop offset="0.1628" stop-color="#43f787"/><stop offset="0.1708" stop-color="#32f298"/><stop offset="0.1788" stop-color="#2cf09e"/><stop offset="0.2081" stop-color="#43f787"/><stop offset="0.2268" stop-color="#38f491"/><stop offset="0.2402" stop-color="#32f298"/><stop offset="0.2588" stop-color="#35f394"/><stop offset="0.2668" stop-color="#38f491"/><stop offset="0.2829" stop-color="#2aefa1"/><stop offset="0.3095" stop-color="#2cf09e"/><stop offset="0.3469" stop-color="#1fe9af"/><stop offset="0.3816" stop-color="#19e3b9"/><stop offset="0.4216" stop-color="#1ce6b4"/><stop offset="0.4777" stop-color="#18ddc2"/><stop offset="0.5017" stop-color="#19e3b9"/><stop offset="0.5337" stop-color="#18e0bd"/><stop offset="0.5524" stop-color="#18ddc2"/><stop offset="0.5737" stop-color="#1ce6b4"/><stop offset="0.5871" stop-color="#25eca7"/><stop offset="0.6111" stop-color="#1de7b2"/><stop offset="0.6431" stop-color="#1de7b2"/><stop offset="0.6778" stop-color="#1ae4b6"/><stop offset="0.7392" stop-color="#1ae4b6"/><stop offset="0.7605" stop-color="#19e2bb"/><stop offset="0.7738" stop-color="#19e3b9"/><stop offset="0.7925" stop-color="#1ce6b4"/><stop offset="0.8245" stop-color="#19e2bb"/><stop offset="0.8379" stop-color="#1ae4b6"/><stop offset="0.8753" stop-color="#1ce6b4"/><stop offset="0.9019" stop-color="#20eaac"/><stop offset="0.9446" stop-color="#19e2bb"/><stop offset="0.9686" stop-color="#18e0bd"/><stop offset="0.9847" stop-color="#18dbc5"/><stop offset="0.9953" stop-color="#18d7ca"/><stop offset="0.9980" stop-color="#1ad2d2"/><stop offset="1.0000" stop-color="#33adf7"/></linearGradient><linearGradient id="s29" gradientUnits="userSpaceOnUse" x1="282.8" y1="0" x2="1032.3" y2="0"><stop offset="0.0000" stop-color="#7dff56"/><stop offset="0.0107" stop-color="#71fe5f"/><stop offset="0.0160" stop-color="#6dfe62"/><stop offset="0.0374" stop-color="#75fe5c"/><stop offset="0.0480" stop-color="#6dfe62"/><stop offset="0.0694" stop-color="#61fc6c"/><stop offset="0.0801" stop-color="#65fd69"/><stop offset="0.0907" stop-color="#59fb73"/><stop offset="0.1174" stop-color="#5dfc6f"/><stop offset="0.1414" stop-color="#4ef97d"/><stop offset="0.1521" stop-color="#4af880"/><stop offset="0.1574" stop-color="#43f787"/><stop offset="0.1628" stop-color="#2cf09e"/><stop offset="0.1761" stop-color="#1fe9af"/><stop offset="0.1921" stop-color="#25eca7"/><stop offset="0.2081" stop-color="#2cf09e"/><stop offset="0.2295" stop-color="#25eca7"/><stop offset="0.2722" stop-color="#22ebaa"/><stop offset="0.2802" stop-color="#1de7b2"/><stop offset="0.3175" stop-color="#1de7b2"/><stop offset="0.3789" stop-color="#18dbc5"/><stop offset="0.4376" stop-color="#18dbc5"/><stop offset="0.4696" stop-color="#19d5cd"/><stop offset="0.4883" stop-color="#18d7ca"/><stop offset="0.5017" stop-color="#18dbc5"/><stop offset="0.5364" stop-color="#18d7ca"/><stop offset="0.5524" stop-color="#1ad4d0"/><stop offset="0.5710" stop-color="#18dbc5"/><stop offset="0.5871" stop-color="#1ae4b6"/><stop offset="0.6084" stop-color="#18dec0"/><stop offset="0.6271" stop-color="#19e2bb"/><stop offset="0.6778" stop-color="#18ddc2"/><stop offset="0.7365" stop-color="#18ddc2"/><stop offset="0.7605" stop-color="#18d9c8"/><stop offset="0.7819" stop-color="#18ddc2"/><stop offset="0.8005" stop-color="#18ddc2"/><stop offset="0.8245" stop-color="#18d9c8"/><stop offset="0.8352" stop-color="#18ddc2"/><stop offset="0.8806" stop-color="#18dec0"/><stop offset="0.9073" stop-color="#19e2bb"/><stop offset="0.9446" stop-color="#18d9c8"/><stop offset="0.9686" stop-color="#18d7ca"/><stop offset="0.9873" stop-color="#1ad2d2"/><stop offset="0.9953" stop-color="#1bd0d5"/><stop offset="0.9980" stop-color="#20c7df"/><stop offset="1.0000" stop-color="#38a5fb"/></linearGradient><linearGradient id="s30" gradientUnits="userSpaceOnUse" x1="282.8" y1="0" x2="1032.3" y2="0"><stop offset="0.0000" stop-color="#61fc6c"/><stop offset="0.0107" stop-color="#55fa76"/><stop offset="0.0213" stop-color="#55fa76"/><stop offset="0.0320" stop-color="#59fb73"/><stop offset="0.0480" stop-color="#55fa76"/><stop offset="0.0640" stop-color="#4af880"/><stop offset="0.0774" stop-color="#4ef97d"/><stop offset="0.0934" stop-color="#43f787"/><stop offset="0.1174" stop-color="#46f884"/><stop offset="0.1468" stop-color="#38f491"/><stop offset="0.1548" stop-color="#35f394"/><stop offset="0.1654" stop-color="#1de7b2"/><stop offset="0.1788" stop-color="#19e2bb"/><stop offset="0.2081" stop-color="#20eaac"/><stop offset="0.2455" stop-color="#1ae4b6"/><stop offset="0.2695" stop-color="#1ce6b4"/><stop offset="0.2829" stop-color="#19e2bb"/><stop offset="0.3229" stop-color="#18e0bd"/><stop offset="0.3789" stop-color="#1ad4d0"/><stop offset="0.4403" stop-color="#1ad4d0"/><stop offset="0.4750" stop-color="#1ccdd8"/><stop offset="0.5043" stop-color="#1ad4d0"/><stop offset="0.5390" stop-color="#1bd0d5"/><stop offset="0.5604" stop-color="#1bd0d5"/><stop offset="0.5871" stop-color="#18dec0"/><stop offset="0.6111" stop-color="#18d9c8"/><stop offset="0.6404" stop-color="#18d9c8"/><stop offset="0.6805" stop-color="#19d5cd"/><stop offset="0.7392" stop-color="#19d5cd"/><stop offset="0.7632" stop-color="#1ad2d2"/><stop offset="0.7925" stop-color="#18d7ca"/><stop offset="0.8219" stop-color="#1ad2d2"/><stop offset="0.8379" stop-color="#19d5cd"/><stop offset="0.8779" stop-color="#18d7ca"/><stop offset="0.9073" stop-color="#18dbc5"/><stop offset="0.9393" stop-color="#1ad4d0"/><stop offset="0.9660" stop-color="#1ad2d2"/><stop offset="0.9873" stop-color="#1ecbda"/><stop offset="0.9953" stop-color="#1fc9dd"/><stop offset="0.9980" stop-color="#23c3e4"/><stop offset="1.0000" stop-color="#3aa3fc"/></linearGradient><linearGradient id="s31" gradientUnits="userSpaceOnUse" x1="282.8" y1="0" x2="1032.3" y2="0"><stop offset="0.0000" stop-color="#4af880"/><stop offset="0.0080" stop-color="#43f787"/><stop offset="0.0294" stop-color="#43f787"/><stop offset="0.0374" stop-color="#46f884"/><stop offset="0.0560" stop-color="#3cf58e"/><stop offset="0.0747" stop-color="#38f491"/><stop offset="0.0774" stop-color="#3cf58e"/><stop offset="0.0961" stop-color="#32f298"/><stop offset="0.1174" stop-color="#35f394"/><stop offset="0.1441" stop-color="#2cf09e"/><stop offset="0.1574" stop-color="#25eca7"/><stop offset="0.1654" stop-color="#19e3b9"/><stop offset="0.1788" stop-color="#18dec0"/><stop offset="0.2108" stop-color="#1ce6b4"/><stop offset="0.2455" stop-color="#18e0bd"/><stop offset="0.2722" stop-color="#19e2bb"/><stop offset="0.2802" stop-color="#18ddc2"/><stop offset="0.3202" stop-color="#18ddc2"/><stop offset="0.3736" stop-color="#1ad2d2"/><stop offset="0.4350" stop-color="#1ad2d2"/><stop offset="0.4777" stop-color="#1ecbda"/><stop offset="0.5070" stop-color="#1bd0d5"/><stop offset="0.5364" stop-color="#1ccdd8"/><stop offset="0.5497" stop-color="#1fc9dd"/><stop offset="0.5737" stop-color="#1ad4d0"/><stop offset="0.5844" stop-color="#18d9c8"/><stop offset="0.5951" stop-color="#18d9c8"/><stop offset="0.6111" stop-color="#19d5cd"/><stop offset="0.6431" stop-color="#19d5cd"/><stop offset="0.7418" stop-color="#1ad2d2"/><stop offset="0.7792" stop-color="#1ad2d2"/><stop offset="0.8085" stop-color="#1ad2d2"/><stop offset="0.8299" stop-color="#1ad2d2"/><stop offset="0.8913" stop-color="#19d5cd"/><stop offset="0.9153" stop-color="#19d5cd"/><stop offset="0.9446" stop-color="#1bd0d5"/><stop offset="0.9713" stop-color="#1ccdd8"/><stop offset="0.9953" stop-color="#20c7df"/><stop offset="0.9980" stop-color="#25c0e7"/><stop offset="1.0000" stop-color="#38a5fb"/></linearGradient><linearGradient id="s32" gradientUnits="userSpaceOnUse" x1="282.8" y1="0" x2="1032.3" y2="0"><stop offset="0.0000" stop-color="#32f298"/><stop offset="0.0187" stop-color="#2cf09e"/><stop offset="0.0400" stop-color="#2ff19b"/><stop offset="0.0694" stop-color="#27eea4"/><stop offset="0.0881" stop-color="#25eca7"/><stop offset="0.1308" stop-color="#22ebaa"/><stop offset="0.1574" stop-color="#1ce6b4"/><stop offset="0.1654" stop-color="#18ddc2"/><stop offset="0.1815" stop-color="#18d7ca"/><stop offset="0.2028" stop-color="#18dec0"/><stop offset="0.2268" stop-color="#18ddc2"/><stop offset="0.2428" stop-color="#18d9c8"/><stop offset="0.2668" stop-color="#18dbc5"/><stop offset="0.2909" stop-color="#18d7ca"/><stop offset="0.3256" stop-color="#19d5cd"/><stop offset="0.3816" stop-color="#1ecbda"/><stop offset="0.4403" stop-color="#1ecbda"/><stop offset="0.4830" stop-color="#20c7df"/><stop offset="0.5070" stop-color="#1ecbda"/><stop offset="0.5524" stop-color="#22c5e2"/><stop offset="0.5764" stop-color="#1bd0d5"/><stop offset="0.5871" stop-color="#1ad4d0"/><stop offset="0.6164" stop-color="#1bd0d5"/><stop offset="0.6484" stop-color="#1bd0d5"/><stop offset="0.7365" stop-color="#1ccdd8"/><stop offset="0.7658" stop-color="#1fc9dd"/><stop offset="0.7952" stop-color="#1ccdd8"/><stop offset="0.8219" stop-color="#1fc9dd"/><stop offset="0.8406" stop-color="#1ccdd8"/><stop offset="0.8886" stop-color="#1bd0d5"/><stop offset="0.9179" stop-color="#1bd0d5"/><stop offset="0.9420" stop-color="#1ecbda"/><stop offset="0.9686" stop-color="#1fc9dd"/><stop offset="0.9953" stop-color="#23c3e4"/><stop offset="0.9980" stop-color="#27bee9"/><stop offset="1.0000" stop-color="#38a5fb"/></linearGradient><linearGradient id="s33" gradientUnits="userSpaceOnUse" x1="282.8" y1="0" x2="1032.3" y2="0"><stop offset="0.0000" stop-color="#20eaac"/><stop offset="0.0560" stop-color="#1de7b2"/><stop offset="0.0694" stop-color="#1ce6b4"/><stop offset="0.0987" stop-color="#1ae4b6"/><stop offset="0.1548" stop-color="#18e0bd"/><stop offset="0.1708" stop-color="#1ad2d2"/><stop offset="0.1868" stop-color="#1ad2d2"/><stop offset="0.2108" stop-color="#18d7ca"/><stop offset="0.2482" stop-color="#1ad2d2"/><stop offset="0.2748" stop-color="#1ad2d2"/><stop offset="0.3309" stop-color="#1ccdd8"/><stop offset="0.3843" stop-color="#22c5e2"/><stop offset="0.4430" stop-color="#22c5e2"/><stop offset="0.4803" stop-color="#25c0e7"/><stop offset="0.5070" stop-color="#22c5e2"/><stop offset="0.5577" stop-color="#25c0e7"/><stop offset="0.5897" stop-color="#1ccdd8"/><stop offset="0.6137" stop-color="#1fc9dd"/><stop offset="0.7498" stop-color="#22c5e2"/><stop offset="0.7765" stop-color="#22c5e2"/><stop offset="0.8165" stop-color="#22c5e2"/><stop offset="0.8272" stop-color="#22c5e2"/><stop offset="0.9046" stop-color="#1fc9dd"/><stop offset="0.9606" stop-color="#22c5e2"/><stop offset="0.9953" stop-color="#27bee9"/><stop offset="0.9980" stop-color="#2ab9ee"/><stop offset="1.0000" stop-color="#38a5fb"/></linearGradient><linearGradient id="s34" gradientUnits="userSpaceOnUse" x1="282.8" y1="0" x2="1032.3" y2="0"><stop offset="0.0000" stop-color="#19e3b9"/><stop offset="0.0213" stop-color="#18e0bd"/><stop offset="0.0507" stop-color="#18e0bd"/><stop offset="0.0694" stop-color="#18ddc2"/><stop offset="0.0881" stop-color="#18ddc2"/><stop offset="0.1334" stop-color="#18dbc5"/><stop offset="0.1574" stop-color="#19d5cd"/><stop offset="0.1734" stop-color="#1fc9dd"/><stop offset="0.1975" stop-color="#1ccdd8"/><stop offset="0.2295" stop-color="#1ccdd8"/><stop offset="0.2722" stop-color="#1ecbda"/><stop offset="0.3309" stop-color="#20c7df"/><stop offset="0.3843" stop-color="#25c0e7"/><stop offset="0.4563" stop-color="#27bee9"/><stop offset="0.4937" stop-color="#27bee9"/><stop offset="0.5657" stop-color="#27bee9"/><stop offset="0.5924" stop-color="#20c7df"/><stop offset="0.6191" stop-color="#23c3e4"/><stop offset="0.7445" stop-color="#25c0e7"/><stop offset="0.7819" stop-color="#25c0e7"/><stop offset="0.8699" stop-color="#25c0e7"/><stop offset="0.9073" stop-color="#22c5e2"/><stop offset="0.9553" stop-color="#27bee9"/><stop offset="0.9953" stop-color="#2ab9ee"/><stop offset="0.9980" stop-color="#2eb4f2"/><stop offset="1.0000" stop-color="#3aa3fc"/></linearGradient><linearGradient id="s35" gradientUnits="userSpaceOnUse" x1="282.8" y1="0" x2="1032.3" y2="0"><stop offset="0.0000" stop-color="#18dbc5"/><stop offset="0.0160" stop-color="#18d7ca"/><stop offset="0.0560" stop-color="#18d7ca"/><stop offset="0.1281" stop-color="#1ad4d0"/><stop offset="0.1548" stop-color="#1bd0d5"/><stop offset="0.1708" stop-color="#22c5e2"/><stop offset="0.1895" stop-color="#22c5e2"/><stop offset="0.2161" stop-color="#1fc9dd"/><stop offset="0.2535" stop-color="#22c5e2"/><stop offset="0.2748" stop-color="#22c5e2"/><stop offset="0.3976" stop-color="#28bceb"/><stop offset="0.4857" stop-color="#2ab9ee"/><stop offset="0.5390" stop-color="#2ab9ee"/><stop offset="0.5657" stop-color="#2ab9ee"/><stop offset="0.5871" stop-color="#25c0e7"/><stop offset="0.7098" stop-color="#28bceb"/><stop offset="0.7445" stop-color="#28bceb"/><stop offset="0.8726" stop-color="#28bceb"/><stop offset="0.9340" stop-color="#28bceb"/><stop offset="0.9953" stop-color="#2eb4f2"/><stop offset="0.9980" stop-color="#2fb2f4"/><stop offset="1.0000" stop-color="#3aa3fc"/></linearGradient><linearGradient id="s36" gradientUnits="userSpaceOnUse" x1="282.8" y1="0" x2="1032.3" y2="0"><stop offset="0.0000" stop-color="#1ad2d2"/><stop offset="0.0534" stop-color="#1bd0d5"/><stop offset="0.1574" stop-color="#20c7df"/><stop offset="0.1734" stop-color="#27bee9"/><stop offset="0.2188" stop-color="#23c3e4"/><stop offset="0.2455" stop-color="#27bee9"/><stop offset="0.3175" stop-color="#27bee9"/><stop offset="0.3949" stop-color="#2cb7f0"/><stop offset="0.5737" stop-color="#2cb7f0"/><stop offset="0.5951" stop-color="#28bceb"/><stop offset="0.6965" stop-color="#2cb7f0"/><stop offset="0.7525" stop-color="#2cb7f0"/><stop offset="0.8699" stop-color="#2cb7f0"/><stop offset="0.9633" stop-color="#2cb7f0"/><stop offset="0.9980" stop-color="#31aff5"/><stop offset="1.0000" stop-color="#3aa3fc"/></linearGradient><linearGradient id="s37" gradientUnits="userSpaceOnUse" x1="282.8" y1="0" x2="1032.3" y2="0"><stop offset="0.0000" stop-color="#1fc9dd"/><stop offset="0.0560" stop-color="#20c7df"/><stop offset="0.1574" stop-color="#25c0e7"/><stop offset="0.1761" stop-color="#2cb7f0"/><stop offset="0.2188" stop-color="#28bceb"/><stop offset="0.4083" stop-color="#2fb2f4"/><stop offset="0.5684" stop-color="#31aff5"/><stop offset="0.5951" stop-color="#2eb4f2"/><stop offset="0.7872" stop-color="#2fb2f4"/><stop offset="0.8886" stop-color="#2fb2f4"/><stop offset="0.9313" stop-color="#2fb2f4"/><stop offset="0.9980" stop-color="#35abf8"/><stop offset="1.0000" stop-color="#3ba0fd"/></linearGradient><linearGradient id="s38" gradientUnits="userSpaceOnUse" x1="282.8" y1="0" x2="1032.3" y2="0"><stop offset="0.0000" stop-color="#25c0e7"/><stop offset="0.1574" stop-color="#2ab9ee"/><stop offset="0.1708" stop-color="#2fb2f4"/><stop offset="0.1948" stop-color="#2fb2f4"/><stop offset="0.2748" stop-color="#2fb2f4"/><stop offset="0.3896" stop-color="#35abf8"/><stop offset="0.4670" stop-color="#35abf8"/><stop offset="0.5710" stop-color="#35abf8"/><stop offset="0.5951" stop-color="#31aff5"/><stop offset="0.7765" stop-color="#35abf8"/><stop offset="0.9713" stop-color="#35abf8"/><stop offset="0.9980" stop-color="#38a5fb"/><stop offset="1.0000" stop-color="#3d9efe"/></linearGradient><linearGradient id="s39" gradientUnits="userSpaceOnUse" x1="282.8" y1="0" x2="1032.3" y2="0"><stop offset="0.0000" stop-color="#2ab9ee"/><stop offset="0.1574" stop-color="#2fb2f4"/><stop offset="0.1761" stop-color="#35abf8"/><stop offset="0.3256" stop-color="#35abf8"/><stop offset="0.4163" stop-color="#38a5fb"/><stop offset="0.5710" stop-color="#38a5fb"/><stop offset="0.9740" stop-color="#38a5fb"/><stop offset="0.9980" stop-color="#3ba0fd"/><stop offset="1.0000" stop-color="#4099ff"/></linearGradient><linearGradient id="s40" gradientUnits="userSpaceOnUse" x1="282.8" y1="0" x2="1032.3" y2="0"><stop offset="0.0000" stop-color="#2fb2f4"/><stop offset="0.1574" stop-color="#35abf8"/><stop offset="0.1761" stop-color="#38a5fb"/><stop offset="0.3175" stop-color="#38a5fb"/><stop offset="0.4216" stop-color="#3ba0fd"/><stop offset="0.5737" stop-color="#3ba0fd"/><stop offset="0.9740" stop-color="#3ba0fd"/><stop offset="0.9980" stop-color="#3e9bfe"/><stop offset="1.0000" stop-color="#4196ff"/></linearGradient><linearGradient id="s41" gradientUnits="userSpaceOnUse" x1="282.8" y1="0" x2="1032.3" y2="0"><stop offset="0.0000" stop-color="#35abf8"/><stop offset="0.1574" stop-color="#38a5fb"/><stop offset="0.1761" stop-color="#3ba0fd"/><stop offset="0.3149" stop-color="#3ba0fd"/><stop offset="0.4323" stop-color="#3e9bfe"/><stop offset="0.9820" stop-color="#3e9bfe"/><stop offset="0.9980" stop-color="#4099ff"/><stop offset="1.0000" stop-color="#4391fe"/></linearGradient><linearGradient id="s42" gradientUnits="userSpaceOnUse" x1="282.8" y1="0" x2="1032.3" y2="0"><stop offset="0.0000" stop-color="#38a5fb"/><stop offset="0.1574" stop-color="#3ba0fd"/><stop offset="0.1815" stop-color="#3e9bfe"/><stop offset="0.3309" stop-color="#3e9bfe"/><stop offset="0.4857" stop-color="#4196ff"/><stop offset="0.5817" stop-color="#4099ff"/><stop offset="0.9953" stop-color="#4196ff"/><stop offset="1.0000" stop-color="#448ffe"/></linearGradient><linearGradient id="s43" gradientUnits="userSpaceOnUse" x1="282.8" y1="0" x2="1032.3" y2="0"><stop offset="0.0000" stop-color="#3ba0fd"/><stop offset="0.1601" stop-color="#3e9bfe"/><stop offset="0.3682" stop-color="#4196ff"/><stop offset="0.9953" stop-color="#4294ff"/><stop offset="1.0000" stop-color="#458cfd"/></linearGradient><linearGradient id="s44" gradientUnits="userSpaceOnUse" x1="282.8" y1="0" x2="1032.3" y2="0"><stop offset="0.0000" stop-color="#3e9bfe"/><stop offset="0.1574" stop-color="#4099ff"/><stop offset="0.1868" stop-color="#4294ff"/><stop offset="0.3549" stop-color="#4294ff"/><stop offset="0.9927" stop-color="#4391fe"/><stop offset="1.0000" stop-color="#458afc"/></linearGradient><linearGradient id="s45" gradientUnits="userSpaceOnUse" x1="282.8" y1="0" x2="1032.3" y2="0"><stop offset="0.0000" stop-color="#4099ff"/><stop offset="0.1601" stop-color="#4294ff"/><stop offset="0.4937" stop-color="#448ffe"/><stop offset="0.9980" stop-color="#458cfd"/><stop offset="1.0000" stop-color="#4687fb"/></linearGradient><linearGradient id="s46" gradientUnits="userSpaceOnUse" x1="282.8" y1="0" x2="1032.3" y2="0"><stop offset="0.0000" stop-color="#4294ff"/><stop offset="0.1654" stop-color="#448ffe"/><stop offset="0.5737" stop-color="#458afc"/><stop offset="0.9953" stop-color="#458afc"/><stop offset="1.0000" stop-color="#4685fa"/></linearGradient><linearGradient id="s47" gradientUnits="userSpaceOnUse" x1="282.8" y1="0" x2="1032.3" y2="0"><stop offset="0.0000" stop-color="#448ffe"/><stop offset="0.1734" stop-color="#458afc"/><stop offset="0.5203" stop-color="#4687fb"/><stop offset="0.9980" stop-color="#4685fa"/><stop offset="1.0000" stop-color="#4680f6"/></linearGradient><linearGradient id="s48" gradientUnits="userSpaceOnUse" x1="282.8" y1="0" x2="1032.3" y2="0"><stop offset="0.0000" stop-color="#458afc"/><stop offset="0.5604" stop-color="#4682f8"/><stop offset="0.9980" stop-color="#4680f6"/><stop offset="1.0000" stop-color="#467df4"/></linearGradient><linearGradient id="s49" gradientUnits="userSpaceOnUse" x1="282.8" y1="0" x2="1032.3" y2="0"><stop offset="0.0000" stop-color="#4685fa"/><stop offset="0.1654" stop-color="#4682f8"/><stop offset="0.5657" stop-color="#467df4"/><stop offset="0.9980" stop-color="#467df4"/><stop offset="1.0000" stop-color="#477bf2"/></linearGradient><linearGradient id="s50" gradientUnits="userSpaceOnUse" x1="282.8" y1="0" x2="1032.3" y2="0"><stop offset="0.0000" stop-color="#4682f8"/><stop offset="0.5390" stop-color="#477bf2"/><stop offset="0.9980" stop-color="#4778f0"/><stop offset="1.0000" stop-color="#4776ee"/></linearGradient><linearGradient id="s51" gradientUnits="userSpaceOnUse" x1="282.8" y1="0" x2="1032.3" y2="0"><stop offset="0.0000" stop-color="#467df4"/><stop offset="0.1628" stop-color="#477bf2"/><stop offset="0.4189" stop-color="#4778f0"/><stop offset="0.9980" stop-color="#4776ee"/><stop offset="1.0000" stop-color="#4773eb"/></linearGradient><linearGradient id="s52" gradientUnits="userSpaceOnUse" x1="282.8" y1="0" x2="1032.3" y2="0"><stop offset="0.0000" stop-color="#477bf2"/><stop offset="0.5310" stop-color="#4773eb"/><stop offset="0.9980" stop-color="#4771e9"/><stop offset="1.0000" stop-color="#476ee6"/></linearGradient><linearGradient id="s53" gradientUnits="userSpaceOnUse" x1="282.8" y1="0" x2="1032.3" y2="0"><stop offset="0.0000" stop-color="#4776ee"/><stop offset="0.1628" stop-color="#4773eb"/><stop offset="0.4857" stop-color="#476ee6"/><stop offset="0.9980" stop-color="#476ee6"/><stop offset="1.0000" stop-color="#466be3"/></linearGradient><linearGradient id="s54" gradientUnits="userSpaceOnUse" x1="282.8" y1="0" x2="1032.3" y2="0"><stop offset="0.0000" stop-color="#4773eb"/><stop offset="0.5577" stop-color="#466be3"/><stop offset="0.9980" stop-color="#466be3"/><stop offset="1.0000" stop-color="#4669e0"/></linearGradient><linearGradient id="s55" gradientUnits="userSpaceOnUse" x1="282.8" y1="0" x2="1032.3" y2="0"><stop offset="0.0000" stop-color="#476ee6"/><stop offset="0.5844" stop-color="#4669e0"/><stop offset="0.5897" stop-color="#466be3"/><stop offset="0.8886" stop-color="#4669e0"/><stop offset="0.9980" stop-color="#4669e0"/><stop offset="1.0000" stop-color="#4666dd"/></linearGradient><linearGradient id="s56" gradientUnits="userSpaceOnUse" x1="282.8" y1="0" x2="1032.3" y2="0"><stop offset="0.0000" stop-color="#466be3"/><stop offset="0.3229" stop-color="#4669e0"/><stop offset="0.3709" stop-color="#4666dd"/><stop offset="0.9980" stop-color="#4666dd"/><stop offset="1.0000" stop-color="#4664da"/></linearGradient><linearGradient id="s57" gradientUnits="userSpaceOnUse" x1="282.8" y1="0" x2="1032.3" y2="0"><stop offset="0.0000" stop-color="#4669e0"/><stop offset="0.1494" stop-color="#4669e0"/><stop offset="0.1975" stop-color="#4666dd"/><stop offset="0.3309" stop-color="#4666dd"/><stop offset="0.3576" stop-color="#4664da"/><stop offset="0.5844" stop-color="#4664da"/><stop offset="0.5924" stop-color="#4666dd"/><stop offset="0.6191" stop-color="#4664da"/><stop offset="0.9980" stop-color="#4664da"/><stop offset="1.0000" stop-color="#4661d6"/></linearGradient><linearGradient id="s58" gradientUnits="userSpaceOnUse" x1="282.8" y1="0" x2="1032.3" y2="0"><stop offset="0.0000" stop-color="#4666dd"/><stop offset="0.1574" stop-color="#4666dd"/><stop offset="0.1841" stop-color="#4664da"/><stop offset="0.3576" stop-color="#4664da"/><stop offset="0.3763" stop-color="#4661d6"/><stop offset="0.5737" stop-color="#4661d6"/><stop offset="0.5924" stop-color="#4664da"/><stop offset="0.6458" stop-color="#4664da"/><stop offset="0.6644" stop-color="#4661d6"/><stop offset="0.8753" stop-color="#4661d6"/><stop offset="0.8939" stop-color="#4664da"/><stop offset="0.9179" stop-color="#4664da"/><stop offset="0.9366" stop-color="#4661d6"/><stop offset="0.9980" stop-color="#4661d6"/><stop offset="1.0000" stop-color="#455ed3"/></linearGradient><linearGradient id="s59" gradientUnits="userSpaceOnUse" x1="282.8" y1="0" x2="1032.3" y2="0"><stop offset="0.0000" stop-color="#4664da"/><stop offset="0.1601" stop-color="#4664da"/><stop offset="0.1788" stop-color="#4661d6"/><stop offset="0.5417" stop-color="#4661d6"/><stop offset="0.5524" stop-color="#455ed3"/><stop offset="0.5657" stop-color="#4661d6"/><stop offset="0.9740" stop-color="#4661d6"/><stop offset="0.9873" stop-color="#455ed3"/><stop offset="1.0000" stop-color="#455ed3"/></linearGradient><linearGradient id="s60" gradientUnits="userSpaceOnUse" x1="282.8" y1="0" x2="1032.3" y2="0"><stop offset="0.0000" stop-color="#4664da"/><stop offset="0.0534" stop-color="#4664da"/><stop offset="0.0720" stop-color="#4661d6"/><stop offset="0.1708" stop-color="#4661d6"/><stop offset="0.1841" stop-color="#455ed3"/><stop offset="0.1975" stop-color="#4661d6"/><stop offset="0.2722" stop-color="#4661d6"/><stop offset="0.2855" stop-color="#455ed3"/><stop offset="0.9980" stop-color="#455ed3"/><stop offset="1.0000" stop-color="#455ccf"/></linearGradient><linearGradient id="s61" gradientUnits="userSpaceOnUse" x1="282.8" y1="0" x2="1032.3" y2="0"><stop offset="0.0000" stop-color="#4661d6"/><stop offset="0.1441" stop-color="#4661d6"/><stop offset="0.1574" stop-color="#455ed3"/><stop offset="0.3549" stop-color="#455ed3"/><stop offset="0.3682" stop-color="#455ccf"/><stop offset="0.5737" stop-color="#455ccf"/><stop offset="0.5871" stop-color="#455ed3"/><stop offset="0.6057" stop-color="#455ed3"/><stop offset="0.6084" stop-color="#455ccf"/><stop offset="0.6217" stop-color="#455ed3"/><stop offset="0.6378" stop-color="#455ed3"/><stop offset="0.6511" stop-color="#455ccf"/><stop offset="0.8806" stop-color="#455ccf"/><stop offset="0.8939" stop-color="#455ed3"/><stop offset="0.9126" stop-color="#455ed3"/><stop offset="0.9260" stop-color="#455ccf"/><stop offset="0.9980" stop-color="#455ccf"/><stop offset="1.0000" stop-color="#4559cb"/></linearGradient><linearGradient id="s62" gradientUnits="userSpaceOnUse" x1="282.8" y1="0" x2="1032.3" y2="0"><stop offset="0.0000" stop-color="#455ed3"/><stop offset="0.1601" stop-color="#455ed3"/><stop offset="0.1734" stop-color="#455ccf"/><stop offset="0.9953" stop-color="#455ccf"/><stop offset="1.0000" stop-color="#4559cb"/></linearGradient><linearGradient id="s63" gradientUnits="userSpaceOnUse" x1="282.8" y1="0" x2="1032.3" y2="0"><stop offset="0.0000" stop-color="#455ed3"/><stop offset="0.0240" stop-color="#455ccf"/><stop offset="0.0374" stop-color="#455ed3"/><stop offset="0.0640" stop-color="#455ccf"/><stop offset="0.3202" stop-color="#455ccf"/><stop offset="0.3309" stop-color="#4559cb"/><stop offset="0.9980" stop-color="#4559cb"/><stop offset="1.0000" stop-color="#4456c7"/></linearGradient><linearGradient id="s64" gradientUnits="userSpaceOnUse" x1="282.8" y1="0" x2="1032.3" y2="0"><stop offset="0.0000" stop-color="#455ccf"/><stop offset="0.1281" stop-color="#455ccf"/><stop offset="0.1388" stop-color="#4559cb"/><stop offset="0.5444" stop-color="#4559cb"/><stop offset="0.5497" stop-color="#4456c7"/><stop offset="0.5577" stop-color="#4559cb"/><stop offset="0.9767" stop-color="#4559cb"/><stop offset="0.9847" stop-color="#4456c7"/><stop offset="1.0000" stop-color="#4456c7"/></linearGradient><linearGradient id="s65" gradientUnits="userSpaceOnUse" x1="282.8" y1="0" x2="1032.3" y2="0"><stop offset="0.0000" stop-color="#4559cb"/><stop offset="0.1601" stop-color="#4559cb"/><stop offset="0.1681" stop-color="#4456c7"/><stop offset="0.9980" stop-color="#4456c7"/><stop offset="1.0000" stop-color="#4454c3"/></linearGradient><linearGradient id="s66" gradientUnits="userSpaceOnUse" x1="282.8" y1="0" x2="1032.3" y2="0"><stop offset="0.0000" stop-color="#4456c7"/><stop offset="0.3602" stop-color="#4456c7"/><stop offset="0.3682" stop-color="#4454c3"/><stop offset="0.5737" stop-color="#4454c3"/><stop offset="0.5817" stop-color="#4456c7"/><stop offset="0.6511" stop-color="#4456c7"/><stop offset="0.6591" stop-color="#4454c3"/><stop offset="0.6991" stop-color="#4454c3"/><stop offset="0.7071" stop-color="#4456c7"/><stop offset="0.7231" stop-color="#4456c7"/><stop offset="0.7312" stop-color="#4454c3"/><stop offset="0.8726" stop-color="#4454c3"/><stop offset="0.8806" stop-color="#4456c7"/><stop offset="0.9179" stop-color="#4456c7"/><stop offset="0.9260" stop-color="#4454c3"/><stop offset="1.0000" stop-color="#4454c3"/></linearGradient><linearGradient id="s67" gradientUnits="userSpaceOnUse" x1="282.8" y1="0" x2="1032.3" y2="0"><stop offset="0.0000" stop-color="#4456c7"/><stop offset="0.0534" stop-color="#4456c7"/><stop offset="0.0614" stop-color="#4454c3"/><stop offset="0.9980" stop-color="#4454c3"/><stop offset="1.0000" stop-color="#4451bf"/></linearGradient><linearGradient id="s68" gradientUnits="userSpaceOnUse" x1="282.8" y1="0" x2="1032.3" y2="0"><stop offset="0.0000" stop-color="#4454c3"/><stop offset="0.1414" stop-color="#4454c3"/><stop offset="0.1494" stop-color="#4451bf"/><stop offset="1.0000" stop-color="#4451bf"/></linearGradient><linearGradient id="s69" gradientUnits="userSpaceOnUse" x1="282.8" y1="0" x2="1032.3" y2="0"><stop offset="0.0000" stop-color="#4451bf"/><stop offset="0.0507" stop-color="#4451bf"/><stop offset="0.0587" stop-color="#434eba"/><stop offset="1.0000" stop-color="#434eba"/></linearGradient><linearGradient id="s70" gradientUnits="userSpaceOnUse" x1="282.8" y1="0" x2="1032.3" y2="0"><stop offset="0.0000" stop-color="#424bb5"/><stop offset="0.1681" stop-color="#424bb5"/><stop offset="0.1734" stop-color="#4249b1"/><stop offset="0.1868" stop-color="#4249b1"/><stop offset="0.1921" stop-color="#424bb5"/><stop offset="0.2322" stop-color="#424bb5"/><stop offset="0.2375" stop-color="#4249b1"/><stop offset="0.2508" stop-color="#4249b1"/><stop offset="0.2562" stop-color="#424bb5"/><stop offset="0.2695" stop-color="#424bb5"/><stop offset="0.2748" stop-color="#4249b1"/><stop offset="1.0000" stop-color="#4249b1"/></linearGradient><linearGradient id="s71" gradientUnits="userSpaceOnUse" x1="282.8" y1="0" x2="1032.3" y2="0"><stop offset="0.0000" stop-color="#3f3e9c"/><stop offset="1.0000" stop-color="#3f3e9c"/></linearGradient><linearGradient id="s72" gradientUnits="userSpaceOnUse" x1="282.8" y1="0" x2="1032.3" y2="0"><stop offset="0.0000" stop-color="#3d358b"/><stop offset="1.0000" stop-color="#3d358b"/></linearGradient><linearGradient id="s73" gradientUnits="userSpaceOnUse" x1="282.8" y1="0" x2="1032.3" y2="0"><stop offset="0.0000" stop-color="#3c3286"/><stop offset="1.0000" stop-color="#3c3286"/></linearGradient><linearGradient id="s74" gradientUnits="userSpaceOnUse" x1="282.8" y1="0" x2="1032.3" y2="0"><stop offset="0.0000" stop-color="#3c3286"/><stop offset="1.0000" stop-color="#3c3286"/></linearGradient><linearGradient id="s75" gradientUnits="userSpaceOnUse" x1="282.8" y1="0" x2="1032.3" y2="0"><stop offset="0.0000" stop-color="#3c3286"/><stop offset="1.0000" stop-color="#3c3286"/></linearGradient><linearGradient id="s76" gradientUnits="userSpaceOnUse" x1="282.8" y1="0" x2="1032.3" y2="0"><stop offset="0.0000" stop-color="#3c3286"/><stop offset="1.0000" stop-color="#3c3286"/></linearGradient><linearGradient id="s77" gradientUnits="userSpaceOnUse" x1="282.8" y1="0" x2="1032.3" y2="0"><stop offset="0.0000" stop-color="#3c3286"/><stop offset="1.0000" stop-color="#3c3286"/></linearGradient><linearGradient id="s78" gradientUnits="userSpaceOnUse" x1="282.8" y1="0" x2="1032.3" y2="0"><stop offset="0.0000" stop-color="#3b2f80"/><stop offset="1.0000" stop-color="#3b2f80"/></linearGradient><linearGradient id="s79" gradientUnits="userSpaceOnUse" x1="282.8" y1="0" x2="1032.3" y2="0"><stop offset="0.0000" stop-color="#3b2f80"/><stop offset="1.0000" stop-color="#3b2f80"/></linearGradient><linearGradient id="s80" gradientUnits="userSpaceOnUse" x1="282.8" y1="0" x2="1032.3" y2="0"><stop offset="0.0000" stop-color="#3b2f80"/><stop offset="1.0000" stop-color="#3b2f80"/></linearGradient><linearGradient id="s81" gradientUnits="userSpaceOnUse" x1="282.8" y1="0" x2="1032.3" y2="0"><stop offset="0.0000" stop-color="#3b2f80"/><stop offset="1.0000" stop-color="#3b2f80"/></linearGradient><linearGradient id="s82" gradientUnits="userSpaceOnUse" x1="282.8" y1="0" x2="1032.3" y2="0"><stop offset="0.0000" stop-color="#3b2f80"/><stop offset="1.0000" stop-color="#3b2f80"/></linearGradient><linearGradient id="s83" gradientUnits="userSpaceOnUse" x1="282.8" y1="0" x2="1032.3" y2="0"><stop offset="0.0000" stop-color="#3b2f80"/><stop offset="1.0000" stop-color="#3b2f80"/></linearGradient><linearGradient id="s84" gradientUnits="userSpaceOnUse" x1="282.8" y1="0" x2="1032.3" y2="0"><stop offset="0.0000" stop-color="#3b2f80"/><stop offset="1.0000" stop-color="#3b2f80"/></linearGradient><linearGradient id="s85" gradientUnits="userSpaceOnUse" x1="282.8" y1="0" x2="1032.3" y2="0"><stop offset="0.0000" stop-color="#3b2f80"/><stop offset="1.0000" stop-color="#3b2f80"/></linearGradient><linearGradient id="s86" gradientUnits="userSpaceOnUse" x1="282.8" y1="0" x2="1032.3" y2="0"><stop offset="0.0000" stop-color="#3b2f80"/><stop offset="1.0000" stop-color="#3b2f80"/></linearGradient><linearGradient id="s87" gradientUnits="userSpaceOnUse" x1="282.8" y1="0" x2="1032.3" y2="0"><stop offset="0.0000" stop-color="#3b2f80"/><stop offset="1.0000" stop-color="#3b2f80"/></linearGradient><linearGradient id="s88" gradientUnits="userSpaceOnUse" x1="282.8" y1="0" x2="1032.3" y2="0"><stop offset="0.0000" stop-color="#3b2f80"/><stop offset="1.0000" stop-color="#3b2f80"/></linearGradient><linearGradient id="s89" gradientUnits="userSpaceOnUse" x1="282.8" y1="0" x2="1032.3" y2="0"><stop offset="0.0000" stop-color="#3b2f80"/><stop offset="1.0000" stop-color="#3b2f80"/></linearGradient><linearGradient id="s90" gradientUnits="userSpaceOnUse" x1="282.8" y1="0" x2="1032.3" y2="0"><stop offset="0.0000" stop-color="#3b2f80"/><stop offset="1.0000" stop-color="#3b2f80"/></linearGradient><linearGradient id="s91" gradientUnits="userSpaceOnUse" x1="282.8" y1="0" x2="1032.3" y2="0"><stop offset="0.0000" stop-color="#3a2d79"/><stop offset="1.0000" stop-color="#3a2d79"/></linearGradient><linearGradient id="s92" gradientUnits="userSpaceOnUse" x1="282.8" y1="0" x2="1032.3" y2="0"><stop offset="0.0000" stop-color="#3a2d79"/><stop offset="1.0000" stop-color="#3a2d79"/></linearGradient><linearGradient id="s93" gradientUnits="userSpaceOnUse" x1="282.8" y1="0" x2="1032.3" y2="0"><stop offset="0.0000" stop-color="#3a2d79"/><stop offset="1.0000" stop-color="#3a2d79"/></linearGradient><linearGradient id="s94" gradientUnits="userSpaceOnUse" x1="282.8" y1="0" x2="1032.3" y2="0"><stop offset="0.0000" stop-color="#3a2d79"/><stop offset="1.0000" stop-color="#3a2d79"/></linearGradient><linearGradient id="s95" gradientUnits="userSpaceOnUse" x1="282.8" y1="0" x2="1032.3" y2="0"><stop offset="0.0000" stop-color="#3a2d79"/><stop offset="1.0000" stop-color="#3a2d79"/></linearGradient><linearGradient id="s96" gradientUnits="userSpaceOnUse" x1="282.8" y1="0" x2="1032.3" y2="0"><stop offset="0.0000" stop-color="#3a2d79"/><stop offset="1.0000" stop-color="#3a2d79"/></linearGradient><linearGradient id="s97" gradientUnits="userSpaceOnUse" x1="282.8" y1="0" x2="1032.3" y2="0"><stop offset="0.0000" stop-color="#3a2d79"/><stop offset="1.0000" stop-color="#3a2d79"/></linearGradient><linearGradient id="s98" gradientUnits="userSpaceOnUse" x1="282.8" y1="0" x2="1032.3" y2="0"><stop offset="0.0000" stop-color="#3a2d79"/><stop offset="1.0000" stop-color="#3a2d79"/></linearGradient><linearGradient id="s99" gradientUnits="userSpaceOnUse" x1="282.8" y1="0" x2="1032.3" y2="0"><stop offset="0.0000" stop-color="#3a2d79"/><stop offset="1.0000" stop-color="#3a2d79"/></linearGradient><linearGradient id="s100" gradientUnits="userSpaceOnUse" x1="282.8" y1="0" x2="1032.3" y2="0"><stop offset="0.0000" stop-color="#3a2d79"/><stop offset="1.0000" stop-color="#3a2d79"/></linearGradient><linearGradient id="s101" gradientUnits="userSpaceOnUse" x1="282.8" y1="0" x2="1032.3" y2="0"><stop offset="0.0000" stop-color="#3a2d79"/><stop offset="1.0000" stop-color="#3a2d79"/></linearGradient><linearGradient id="s102" gradientUnits="userSpaceOnUse" x1="282.8" y1="0" x2="1032.3" y2="0"><stop offset="0.0000" stop-color="#3a2d79"/><stop offset="1.0000" stop-color="#3a2d79"/></linearGradient><linearGradient id="s103" gradientUnits="userSpaceOnUse" x1="282.8" y1="0" x2="1032.3" y2="0"><stop offset="0.0000" stop-color="#3a2d79"/><stop offset="1.0000" stop-color="#3a2d79"/></linearGradient><linearGradient id="s104" gradientUnits="userSpaceOnUse" x1="282.8" y1="0" x2="1032.3" y2="0"><stop offset="0.0000" stop-color="#3a2d79"/><stop offset="1.0000" stop-color="#3a2d79"/></linearGradient><linearGradient id="s105" gradientUnits="userSpaceOnUse" x1="282.8" y1="0" x2="1032.3" y2="0"><stop offset="0.0000" stop-color="#3a2d79"/><stop offset="1.0000" stop-color="#3a2d79"/></linearGradient><linearGradient id="s106" gradientUnits="userSpaceOnUse" x1="282.8" y1="0" x2="1032.3" y2="0"><stop offset="0.0000" stop-color="#3a2d79"/><stop offset="1.0000" stop-color="#3a2d79"/></linearGradient><linearGradient id="s107" gradientUnits="userSpaceOnUse" x1="282.8" y1="0" x2="1032.3" y2="0"><stop offset="0.0000" stop-color="#3a2d79"/><stop offset="1.0000" stop-color="#3a2d79"/></linearGradient><linearGradient id="s108" gradientUnits="userSpaceOnUse" x1="282.8" y1="0" x2="1032.3" y2="0"><stop offset="0.0000" stop-color="#3a2d79"/><stop offset="1.0000" stop-color="#3a2d79"/></linearGradient><filter id="vb" x="-1%" y="-5%" width="102%" height="110%"><feGaussianBlur stdDeviation="0 1.3"/></filter><clipPath id="cps"><rect x="282.80" y="65.30" width="749.50" height="208.00"/></clipPath><clipPath id="cpv"><rect x="282.80" y="273.30" width="749.50" height="208.00"/></clipPath><linearGradient id="eg1" x1="0" y1="0" x2="0" y2="1"><stop offset="0" stop-color="#38d8d8"/><stop offset="0.5" stop-color="#40c8e8"/><stop offset="1" stop-color="#3c98f8"/></linearGradient><linearGradient id="eg2" x1="0" y1="0" x2="0" y2="1"><stop offset="0" stop-color="#3c88ff"/><stop offset="0.5" stop-color="#40a0ff"/><stop offset="1" stop-color="#4070e8"/></linearGradient><linearGradient id="stk" x1="0" y1="0" x2="0" y2="1"><stop offset="0" stop-color="#4878e8" stop-opacity="0"/><stop offset="0.6" stop-color="#4a80f4" stop-opacity="0.9"/><stop offset="1" stop-color="#4a80f4" stop-opacity="0"/></linearGradient><linearGradient id="v0" gradientUnits="userSpaceOnUse" x1="282.8" y1="0" x2="1032.3" y2="0"><stop offset="0.0000" stop-color="#ff6565"/><stop offset="0.0240" stop-color="#ff6565"/><stop offset="0.0347" stop-color="#ff6969"/><stop offset="0.0454" stop-color="#ff6969"/><stop offset="0.0534" stop-color="#ff6d6d"/><stop offset="0.0640" stop-color="#ff6d6d"/><stop offset="0.0747" stop-color="#ff7171"/><stop offset="0.1067" stop-color="#ff7979"/><stop offset="0.1147" stop-color="#ff7d7d"/><stop offset="0.1441" stop-color="#ff8585"/><stop offset="0.1521" stop-color="#ff8989"/><stop offset="0.1895" stop-color="#ff9595"/><stop offset="0.2215" stop-color="#ff9d9d"/><stop offset="0.2428" stop-color="#ffa1a1"/><stop offset="0.2535" stop-color="#ffa5a5"/><stop offset="0.2642" stop-color="#ffa5a5"/><stop offset="0.2722" stop-color="#ffa9a9"/><stop offset="0.2855" stop-color="#ffa9a9"/><stop offset="0.2935" stop-color="#ffadad"/><stop offset="0.3069" stop-color="#ffadad"/><stop offset="0.3175" stop-color="#ffb1b1"/><stop offset="0.3496" stop-color="#ffb5b5"/><stop offset="0.3576" stop-color="#ffb9b9"/><stop offset="0.3709" stop-color="#ffb9b9"/><stop offset="0.3816" stop-color="#ffbdbd"/><stop offset="0.3976" stop-color="#ffbdbd"/><stop offset="0.4083" stop-color="#ffc1c1"/><stop offset="0.4350" stop-color="#ffc1c1"/><stop offset="0.4456" stop-color="#ffc5c5"/><stop offset="0.5444" stop-color="#ffc5c5"/><stop offset="0.5550" stop-color="#ffc1c1"/><stop offset="0.5977" stop-color="#ffc1c1"/><stop offset="0.6084" stop-color="#ffbdbd"/><stop offset="0.7018" stop-color="#ffbdbd"/><stop offset="0.7125" stop-color="#ffc1c1"/><stop offset="0.8913" stop-color="#ffc1c1"/><stop offset="0.9019" stop-color="#ffc5c5"/><stop offset="0.9126" stop-color="#ffc5c5"/><stop offset="0.9233" stop-color="#ffc9c9"/><stop offset="0.9526" stop-color="#ffd1d1"/><stop offset="1.0000" stop-color="#ffd1d1"/></linearGradient><linearGradient id="v1" gradientUnits="userSpaceOnUse" x1="282.8" y1="0" x2="1032.3" y2="0"><stop offset="0.0000" stop-color="#ff6565"/><stop offset="0.0240" stop-color="#ff6565"/><stop offset="0.0347" stop-color="#ff6969"/><stop offset="0.0454" stop-color="#ff6969"/><stop offset="0.0534" stop-color="#ff6d6d"/><stop offset="0.0640" stop-color="#ff6d6d"/><stop offset="0.0747" stop-color="#ff7171"/><stop offset="0.1067" stop-color="#ff7979"/><stop offset="0.1147" stop-color="#ff7d7d"/><stop offset="0.1441" stop-color="#ff8585"/><stop offset="0.1521" stop-color="#ff8989"/><stop offset="0.1895" stop-color="#ff9595"/><stop offset="0.2215" stop-color="#ff9d9d"/><stop offset="0.2428" stop-color="#ffa1a1"/><stop offset="0.2535" stop-color="#ffa5a5"/><stop offset="0.2642" stop-color="#ffa5a5"/><stop offset="0.2722" stop-color="#ffa9a9"/><stop offset="0.2855" stop-color="#ffa9a9"/><stop offset="0.2935" stop-color="#ffadad"/><stop offset="0.3069" stop-color="#ffadad"/><stop offset="0.3175" stop-color="#ffb1b1"/><stop offset="0.3496" stop-color="#ffb5b5"/><stop offset="0.3576" stop-color="#ffb9b9"/><stop offset="0.3709" stop-color="#ffb9b9"/><stop offset="0.3816" stop-color="#ffbdbd"/><stop offset="0.3976" stop-color="#ffbdbd"/><stop offset="0.4083" stop-color="#ffc1c1"/><stop offset="0.4350" stop-color="#ffc1c1"/><stop offset="0.4456" stop-color="#ffc5c5"/><stop offset="0.5444" stop-color="#ffc5c5"/><stop offset="0.5550" stop-color="#ffc1c1"/><stop offset="0.5977" stop-color="#ffc1c1"/><stop offset="0.6084" stop-color="#ffbdbd"/><stop offset="0.7018" stop-color="#ffbdbd"/><stop offset="0.7125" stop-color="#ffc1c1"/><stop offset="0.8913" stop-color="#ffc1c1"/><stop offset="0.9019" stop-color="#ffc5c5"/><stop offset="0.9126" stop-color="#ffc5c5"/><stop offset="0.9233" stop-color="#ffc9c9"/><stop offset="0.9526" stop-color="#ffd1d1"/><stop offset="1.0000" stop-color="#ffd1d1"/></linearGradient><linearGradient id="v2" gradientUnits="userSpaceOnUse" x1="282.8" y1="0" x2="1032.3" y2="0"><stop offset="0.0000" stop-color="#ff6161"/><stop offset="0.0187" stop-color="#ff6161"/><stop offset="0.0267" stop-color="#ff6565"/><stop offset="0.0400" stop-color="#ff6565"/><stop offset="0.0507" stop-color="#ff6969"/><stop offset="0.0587" stop-color="#ff6969"/><stop offset="0.0667" stop-color="#ff6d6d"/><stop offset="0.0907" stop-color="#ff7171"/><stop offset="0.0987" stop-color="#ff7575"/><stop offset="0.1494" stop-color="#ff8585"/><stop offset="0.1574" stop-color="#ff8989"/><stop offset="0.2001" stop-color="#ff9595"/><stop offset="0.2081" stop-color="#ff9999"/><stop offset="0.2322" stop-color="#ff9d9d"/><stop offset="0.2428" stop-color="#ffa1a1"/><stop offset="0.2535" stop-color="#ffa1a1"/><stop offset="0.2642" stop-color="#ffa5a5"/><stop offset="0.2722" stop-color="#ffa5a5"/><stop offset="0.2802" stop-color="#ffa9a9"/><stop offset="0.2935" stop-color="#ffa9a9"/><stop offset="0.3015" stop-color="#ffadad"/><stop offset="0.3149" stop-color="#ffadad"/><stop offset="0.3256" stop-color="#ffb1b1"/><stop offset="0.3576" stop-color="#ffb5b5"/><stop offset="0.3656" stop-color="#ffb9b9"/><stop offset="0.3789" stop-color="#ffb9b9"/><stop offset="0.3896" stop-color="#ffbdbd"/><stop offset="0.4083" stop-color="#ffbdbd"/><stop offset="0.4189" stop-color="#ffc1c1"/><stop offset="0.4536" stop-color="#ffc1c1"/><stop offset="0.4643" stop-color="#ffc5c5"/><stop offset="0.5257" stop-color="#ffc5c5"/><stop offset="0.5364" stop-color="#ffc1c1"/><stop offset="0.5791" stop-color="#ffc1c1"/><stop offset="0.5897" stop-color="#ffbdbd"/><stop offset="0.7392" stop-color="#ffbdbd"/><stop offset="0.7498" stop-color="#ffc1c1"/><stop offset="0.8272" stop-color="#ffc1c1"/><stop offset="0.8379" stop-color="#ffbdbd"/><stop offset="0.8539" stop-color="#ffbdbd"/><stop offset="0.8646" stop-color="#ffc1c1"/><stop offset="0.8993" stop-color="#ffc1c1"/><stop offset="0.9099" stop-color="#ffc5c5"/><stop offset="0.9313" stop-color="#ffc9c9"/><stop offset="0.9526" stop-color="#ffd1d1"/><stop offset="1.0000" stop-color="#ffd1d1"/></linearGradient><linearGradient id="v3" gradientUnits="userSpaceOnUse" x1="282.8" y1="0" x2="1032.3" y2="0"><stop offset="0.0000" stop-color="#ff6161"/><stop offset="0.0160" stop-color="#ff6161"/><stop offset="0.0240" stop-color="#ff6565"/><stop offset="0.0400" stop-color="#ff6565"/><stop offset="0.0507" stop-color="#ff6969"/><stop offset="0.0587" stop-color="#ff6969"/><stop offset="0.0667" stop-color="#ff6d6d"/><stop offset="0.0881" stop-color="#ff7171"/><stop offset="0.0961" stop-color="#ff7575"/><stop offset="0.1147" stop-color="#ff7979"/><stop offset="0.1227" stop-color="#ff7d7d"/><stop offset="0.1708" stop-color="#ff8d8d"/><stop offset="0.2001" stop-color="#ff9595"/><stop offset="0.2081" stop-color="#ff9999"/><stop offset="0.2322" stop-color="#ff9d9d"/><stop offset="0.2428" stop-color="#ffa1a1"/><stop offset="0.2722" stop-color="#ffa5a5"/><stop offset="0.2802" stop-color="#ffa9a9"/><stop offset="0.2935" stop-color="#ffa9a9"/><stop offset="0.3015" stop-color="#ffadad"/><stop offset="0.3122" stop-color="#ffadad"/><stop offset="0.3229" stop-color="#ffb1b1"/><stop offset="0.3336" stop-color="#ffb1b1"/><stop offset="0.3442" stop-color="#ffb5b5"/><stop offset="0.3549" stop-color="#ffb5b5"/><stop offset="0.3629" stop-color="#ffb9b9"/><stop offset="0.3789" stop-color="#ffb9b9"/><stop offset="0.3896" stop-color="#ffbdbd"/><stop offset="0.4083" stop-color="#ffbdbd"/><stop offset="0.4189" stop-color="#ffc1c1"/><stop offset="0.4510" stop-color="#ffc1c1"/><stop offset="0.4616" stop-color="#ffc5c5"/><stop offset="0.5284" stop-color="#ffc5c5"/><stop offset="0.5390" stop-color="#ffc1c1"/><stop offset="0.5791" stop-color="#ffc1c1"/><stop offset="0.5897" stop-color="#ffbdbd"/><stop offset="0.7338" stop-color="#ffbdbd"/><stop offset="0.7445" stop-color="#ffc1c1"/><stop offset="0.8352" stop-color="#ffc1c1"/><stop offset="0.8459" stop-color="#ffbdbd"/><stop offset="0.8566" stop-color="#ffc1c1"/><stop offset="0.8993" stop-color="#ffc1c1"/><stop offset="0.9099" stop-color="#ffc5c5"/><stop offset="0.9313" stop-color="#ffc9c9"/><stop offset="0.9526" stop-color="#ffd1d1"/><stop offset="1.0000" stop-color="#ffd1d1"/></linearGradient><linearGradient id="v4" gradientUnits="userSpaceOnUse" x1="282.8" y1="0" x2="1032.3" y2="0"><stop offset="0.0000" stop-color="#ffd5d5"/><stop offset="0.0854" stop-color="#ffd5d5"/><stop offset="0.0961" stop-color="#ffd9d9"/><stop offset="0.1468" stop-color="#ffd9d9"/><stop offset="0.1574" stop-color="#ffdddd"/><stop offset="0.2081" stop-color="#ffdddd"/><stop offset="0.2188" stop-color="#ffe1e1"/><stop offset="0.3015" stop-color="#ffe1e1"/><stop offset="0.3122" stop-color="#ffe5e5"/><stop offset="0.4216" stop-color="#ffe5e5"/><stop offset="0.4323" stop-color="#ffe9e9"/><stop offset="0.5604" stop-color="#ffe9e9"/><stop offset="0.5710" stop-color="#ffe5e5"/><stop offset="0.8806" stop-color="#ffe5e5"/><stop offset="0.8913" stop-color="#ffe9e9"/><stop offset="1.0000" stop-color="#ffe9e9"/></linearGradient><linearGradient id="v5" gradientUnits="userSpaceOnUse" x1="282.8" y1="0" x2="1032.3" y2="0"><stop offset="0.0000" stop-color="#ffeded"/><stop offset="0.9313" stop-color="#ffeded"/><stop offset="0.9420" stop-color="#fff1f1"/><stop offset="1.0000" stop-color="#fff1f1"/></linearGradient><linearGradient id="v6" gradientUnits="userSpaceOnUse" x1="282.8" y1="0" x2="1032.3" y2="0"><stop offset="0.0000" stop-color="#ffeded"/><stop offset="0.2322" stop-color="#ffeded"/><stop offset="0.2428" stop-color="#fff1f1"/><stop offset="1.0000" stop-color="#fff1f1"/></linearGradient><linearGradient id="v7" gradientUnits="userSpaceOnUse" x1="282.8" y1="0" x2="1032.3" y2="0"><stop offset="0.0000" stop-color="#ffe1e1"/><stop offset="0.1681" stop-color="#ffe1e1"/><stop offset="0.1788" stop-color="#ffe5e5"/><stop offset="1.0000" stop-color="#ffe5e5"/></linearGradient><linearGradient id="v8" gradientUnits="userSpaceOnUse" x1="282.8" y1="0" x2="1032.3" y2="0"><stop offset="0.0000" stop-color="#ffd1d1"/><stop offset="0.0934" stop-color="#ffd1d1"/><stop offset="0.1041" stop-color="#ffd5d5"/><stop offset="0.3469" stop-color="#ffd5d5"/><stop offset="0.3576" stop-color="#ffd9d9"/><stop offset="1.0000" stop-color="#ffd9d9"/></linearGradient><linearGradient id="v9" gradientUnits="userSpaceOnUse" x1="282.8" y1="0" x2="1032.3" y2="0"><stop offset="0.0000" stop-color="#ffbdbd"/><stop offset="0.1654" stop-color="#ffbdbd"/><stop offset="0.1761" stop-color="#ffc1c1"/><stop offset="0.3576" stop-color="#ffc1c1"/><stop offset="0.3682" stop-color="#ffc5c5"/><stop offset="1.0000" stop-color="#ffc5c5"/></linearGradient><linearGradient id="v10" gradientUnits="userSpaceOnUse" x1="282.8" y1="0" x2="1032.3" y2="0"><stop offset="0.0000" stop-color="#ffa9a9"/><stop offset="0.0720" stop-color="#ffa9a9"/><stop offset="0.0801" stop-color="#ffadad"/><stop offset="0.1788" stop-color="#ffadad"/><stop offset="0.1895" stop-color="#ffb1b1"/><stop offset="0.3336" stop-color="#ffb1b1"/><stop offset="0.3442" stop-color="#ffb5b5"/><stop offset="1.0000" stop-color="#ffb5b5"/></linearGradient><linearGradient id="v11" gradientUnits="userSpaceOnUse" x1="282.8" y1="0" x2="1032.3" y2="0"><stop offset="0.0000" stop-color="#ffb5b5"/><stop offset="0.1014" stop-color="#ffb5b5"/><stop offset="0.1094" stop-color="#ffb9b9"/><stop offset="0.2268" stop-color="#ffb9b9"/><stop offset="0.2375" stop-color="#ffbdbd"/><stop offset="0.9099" stop-color="#ffbdbd"/><stop offset="0.9206" stop-color="#ffc1c1"/><stop offset="1.0000" stop-color="#ffc1c1"/></linearGradient><linearGradient id="v12" gradientUnits="userSpaceOnUse" x1="282.8" y1="0" x2="1032.3" y2="0"><stop offset="0.0000" stop-color="#ffe1e1"/><stop offset="0.1681" stop-color="#ffe1e1"/><stop offset="0.1788" stop-color="#ffe5e5"/><stop offset="1.0000" stop-color="#ffe5e5"/></linearGradient><linearGradient id="v13" gradientUnits="userSpaceOnUse" x1="282.8" y1="0" x2="1032.3" y2="0"><stop offset="0.0000" stop-color="#f1f1ff"/><stop offset="1.0000" stop-color="#f1f1ff"/></linearGradient><linearGradient id="v14" gradientUnits="userSpaceOnUse" x1="282.8" y1="0" x2="1032.3" y2="0"><stop offset="0.0000" stop-color="#ffc5c5"/><stop offset="0.1628" stop-color="#ffc5c5"/><stop offset="0.1734" stop-color="#ffc9c9"/><stop offset="0.3896" stop-color="#ffc9c9"/><stop offset="0.4003" stop-color="#ffcdcd"/><stop offset="0.6244" stop-color="#ffcdcd"/><stop offset="0.6351" stop-color="#ffc9c9"/><stop offset="0.6618" stop-color="#ffc9c9"/><stop offset="0.6724" stop-color="#ffcdcd"/><stop offset="1.0000" stop-color="#ffcdcd"/></linearGradient><linearGradient id="v15" gradientUnits="userSpaceOnUse" x1="282.8" y1="0" x2="1032.3" y2="0"><stop offset="0.0000" stop-color="#ffb1b1"/><stop offset="0.0987" stop-color="#ffb1b1"/><stop offset="0.1094" stop-color="#ffb5b5"/><stop offset="0.2161" stop-color="#ffb5b5"/><stop offset="0.2241" stop-color="#ffb9b9"/><stop offset="0.4243" stop-color="#ffb9b9"/><stop offset="0.4350" stop-color="#ffbdbd"/><stop offset="0.5577" stop-color="#ffbdbd"/><stop offset="0.5684" stop-color="#ffb9b9"/><stop offset="0.8833" stop-color="#ffb9b9"/><stop offset="0.8939" stop-color="#ffbdbd"/><stop offset="1.0000" stop-color="#ffbdbd"/></linearGradient><linearGradient id="v16" gradientUnits="userSpaceOnUse" x1="282.8" y1="0" x2="1032.3" y2="0"><stop offset="0.0000" stop-color="#ffe1e1"/><stop offset="0.1147" stop-color="#ffe1e1"/><stop offset="0.1254" stop-color="#ffe5e5"/><stop offset="0.2295" stop-color="#ffe5e5"/><stop offset="0.2402" stop-color="#ffe9e9"/><stop offset="0.4376" stop-color="#ffe9e9"/><stop offset="0.4456" stop-color="#ffeded"/><stop offset="0.5417" stop-color="#ffeded"/><stop offset="0.5497" stop-color="#ffe9e9"/><stop offset="0.8939" stop-color="#ffe9e9"/><stop offset="0.9019" stop-color="#ffeded"/><stop offset="1.0000" stop-color="#ffeded"/></linearGradient><linearGradient id="v17" gradientUnits="userSpaceOnUse" x1="282.8" y1="0" x2="1032.3" y2="0"><stop offset="0.0000" stop-color="#b1b1ff"/><stop offset="0.0480" stop-color="#b1b1ff"/><stop offset="0.0587" stop-color="#b5b5ff"/><stop offset="0.0827" stop-color="#b5b5ff"/><stop offset="0.0934" stop-color="#b9b9ff"/><stop offset="0.1121" stop-color="#b9b9ff"/><stop offset="0.1227" stop-color="#bdbdff"/><stop offset="0.1361" stop-color="#bdbdff"/><stop offset="0.1468" stop-color="#c1c1ff"/><stop offset="0.1601" stop-color="#c1c1ff"/><stop offset="0.1708" stop-color="#c5c5ff"/><stop offset="0.1868" stop-color="#c5c5ff"/><stop offset="0.1975" stop-color="#c9c9ff"/><stop offset="0.2188" stop-color="#c9c9ff"/><stop offset="0.2268" stop-color="#cdcdff"/><stop offset="0.2588" stop-color="#cdcdff"/><stop offset="0.2695" stop-color="#d1d1ff"/><stop offset="0.3042" stop-color="#d1d1ff"/><stop offset="0.3122" stop-color="#d5d5ff"/><stop offset="0.3469" stop-color="#d5d5ff"/><stop offset="0.3576" stop-color="#d9d9ff"/><stop offset="0.4003" stop-color="#d9d9ff"/><stop offset="0.4109" stop-color="#ddddff"/><stop offset="0.5924" stop-color="#ddddff"/><stop offset="0.6031" stop-color="#d9d9ff"/><stop offset="0.7098" stop-color="#d9d9ff"/><stop offset="0.7205" stop-color="#ddddff"/><stop offset="0.9153" stop-color="#ddddff"/><stop offset="0.9260" stop-color="#e1e1ff"/><stop offset="0.9420" stop-color="#e1e1ff"/><stop offset="0.9526" stop-color="#e5e5ff"/><stop offset="1.0000" stop-color="#e5e5ff"/></linearGradient><linearGradient id="v18" gradientUnits="userSpaceOnUse" x1="282.8" y1="0" x2="1032.3" y2="0"><stop offset="0.0000" stop-color="#6161ff"/><stop offset="0.0347" stop-color="#6161ff"/><stop offset="0.0454" stop-color="#6565ff"/><stop offset="0.0720" stop-color="#6969ff"/><stop offset="0.0801" stop-color="#6d6dff"/><stop offset="0.1014" stop-color="#7171ff"/><stop offset="0.1121" stop-color="#7575ff"/><stop offset="0.1494" stop-color="#8181ff"/><stop offset="0.1734" stop-color="#8989ff"/><stop offset="0.2028" stop-color="#9191ff"/><stop offset="0.2241" stop-color="#9595ff"/><stop offset="0.2348" stop-color="#9999ff"/><stop offset="0.2642" stop-color="#9d9dff"/><stop offset="0.2748" stop-color="#a1a1ff"/><stop offset="0.2855" stop-color="#a1a1ff"/><stop offset="0.2962" stop-color="#a5a5ff"/><stop offset="0.3069" stop-color="#a5a5ff"/><stop offset="0.3175" stop-color="#a9a9ff"/><stop offset="0.3282" stop-color="#a9a9ff"/><stop offset="0.3362" stop-color="#adadff"/><stop offset="0.3522" stop-color="#adadff"/><stop offset="0.3629" stop-color="#b1b1ff"/><stop offset="0.3763" stop-color="#b1b1ff"/><stop offset="0.3869" stop-color="#b5b5ff"/><stop offset="0.4056" stop-color="#b5b5ff"/><stop offset="0.4163" stop-color="#b9b9ff"/><stop offset="0.4510" stop-color="#b9b9ff"/><stop offset="0.4616" stop-color="#bdbdff"/><stop offset="0.5257" stop-color="#bdbdff"/><stop offset="0.5364" stop-color="#b9b9ff"/><stop offset="0.5844" stop-color="#b9b9ff"/><stop offset="0.5951" stop-color="#b5b5ff"/><stop offset="0.7285" stop-color="#b5b5ff"/><stop offset="0.7392" stop-color="#b9b9ff"/><stop offset="0.8993" stop-color="#b9b9ff"/><stop offset="0.9099" stop-color="#bdbdff"/><stop offset="0.9313" stop-color="#c1c1ff"/><stop offset="0.9526" stop-color="#c9c9ff"/><stop offset="1.0000" stop-color="#c9c9ff"/></linearGradient><linearGradient id="v19" gradientUnits="userSpaceOnUse" x1="282.8" y1="0" x2="1032.3" y2="0"><stop offset="0.0000" stop-color="#d1d1ff"/><stop offset="0.0560" stop-color="#d1d1ff"/><stop offset="0.0667" stop-color="#d5d5ff"/><stop offset="0.1094" stop-color="#d5d5ff"/><stop offset="0.1201" stop-color="#d9d9ff"/><stop offset="0.1521" stop-color="#d9d9ff"/><stop offset="0.1628" stop-color="#ddddff"/><stop offset="0.1975" stop-color="#ddddff"/><stop offset="0.2081" stop-color="#e1e1ff"/><stop offset="0.2588" stop-color="#e1e1ff"/><stop offset="0.2695" stop-color="#e5e5ff"/><stop offset="0.3362" stop-color="#e5e5ff"/><stop offset="0.3469" stop-color="#e9e9ff"/><stop offset="0.4376" stop-color="#e9e9ff"/><stop offset="0.4456" stop-color="#ededff"/><stop offset="0.5417" stop-color="#ededff"/><stop offset="0.5497" stop-color="#e9e9ff"/><stop offset="0.8913" stop-color="#e9e9ff"/><stop offset="0.8993" stop-color="#ededff"/><stop offset="1.0000" stop-color="#ededff"/></linearGradient><linearGradient id="v20" gradientUnits="userSpaceOnUse" x1="282.8" y1="0" x2="1032.3" y2="0"><stop offset="0.0000" stop-color="#f9f9ff"/><stop offset="1.0000" stop-color="#f9f9ff"/></linearGradient><linearGradient id="v21" gradientUnits="userSpaceOnUse" x1="282.8" y1="0" x2="1032.3" y2="0"><stop offset="0.0000" stop-color="#fffdfd"/><stop offset="1.0000" stop-color="#fffdfd"/></linearGradient><linearGradient id="v22" gradientUnits="userSpaceOnUse" x1="282.8" y1="0" x2="1032.3" y2="0"><stop offset="0.0000" stop-color="#fffdfd"/><stop offset="1.0000" stop-color="#fffdfd"/></linearGradient><linearGradient id="v23" gradientUnits="userSpaceOnUse" x1="282.8" y1="0" x2="1032.3" y2="0"><stop offset="0.0000" stop-color="#f1f1ff"/><stop offset="0.1227" stop-color="#f1f1ff"/><stop offset="0.1334" stop-color="#f5f5ff"/><stop offset="1.0000" stop-color="#f5f5ff"/></linearGradient><linearGradient id="v24" gradientUnits="userSpaceOnUse" x1="282.8" y1="0" x2="1032.3" y2="0"><stop offset="0.0000" stop-color="#e9e9ff"/><stop offset="0.1227" stop-color="#e9e9ff"/><stop offset="0.1308" stop-color="#ededff"/><stop offset="0.9420" stop-color="#ededff"/><stop offset="0.9526" stop-color="#f1f1ff"/><stop offset="1.0000" stop-color="#f1f1ff"/></linearGradient><linearGradient id="v25" gradientUnits="userSpaceOnUse" x1="282.8" y1="0" x2="1032.3" y2="0"><stop offset="0.0000" stop-color="#e5e5ff"/><stop offset="0.1227" stop-color="#e5e5ff"/><stop offset="0.1334" stop-color="#e9e9ff"/><stop offset="0.4430" stop-color="#e9e9ff"/><stop offset="0.4510" stop-color="#ededff"/><stop offset="0.5364" stop-color="#ededff"/><stop offset="0.5444" stop-color="#e9e9ff"/><stop offset="0.8939" stop-color="#e9e9ff"/><stop offset="0.9019" stop-color="#ededff"/><stop offset="1.0000" stop-color="#ededff"/></linearGradient><linearGradient id="v26" gradientUnits="userSpaceOnUse" x1="282.8" y1="0" x2="1032.3" y2="0"><stop offset="0.0000" stop-color="#f1f1ff"/><stop offset="0.3389" stop-color="#f1f1ff"/><stop offset="0.3496" stop-color="#f5f5ff"/><stop offset="1.0000" stop-color="#f5f5ff"/></linearGradient><linearGradient id="v27" gradientUnits="userSpaceOnUse" x1="282.8" y1="0" x2="1032.3" y2="0"><stop offset="0.0000" stop-color="#f5f5ff"/><stop offset="0.1227" stop-color="#f5f5ff"/><stop offset="0.1334" stop-color="#f9f9ff"/><stop offset="1.0000" stop-color="#f9f9ff"/></linearGradient><linearGradient id="v28" gradientUnits="userSpaceOnUse" x1="282.8" y1="0" x2="1032.3" y2="0"><stop offset="0.0000" stop-color="#ededff"/><stop offset="0.3736" stop-color="#ededff"/><stop offset="0.3843" stop-color="#f1f1ff"/><stop offset="1.0000" stop-color="#f1f1ff"/></linearGradient><linearGradient id="v29" gradientUnits="userSpaceOnUse" x1="282.8" y1="0" x2="1032.3" y2="0"><stop offset="0.0000" stop-color="#e9e9ff"/><stop offset="0.1441" stop-color="#e9e9ff"/><stop offset="0.1521" stop-color="#ededff"/><stop offset="1.0000" stop-color="#ededff"/></linearGradient><linearGradient id="v30" gradientUnits="userSpaceOnUse" x1="282.8" y1="0" x2="1032.3" y2="0"><stop offset="0.0000" stop-color="#f1f1ff"/><stop offset="0.3389" stop-color="#f1f1ff"/><stop offset="0.3496" stop-color="#f5f5ff"/><stop offset="1.0000" stop-color="#f5f5ff"/></linearGradient><linearGradient id="v31" gradientUnits="userSpaceOnUse" x1="282.8" y1="0" x2="1032.3" y2="0"><stop offset="0.0000" stop-color="#f5f5ff"/><stop offset="0.4430" stop-color="#f5f5ff"/><stop offset="0.4536" stop-color="#f9f9ff"/><stop offset="0.5364" stop-color="#f9f9ff"/><stop offset="0.5470" stop-color="#f5f5ff"/><stop offset="0.8939" stop-color="#f5f5ff"/><stop offset="0.9046" stop-color="#f9f9ff"/><stop offset="1.0000" stop-color="#f9f9ff"/></linearGradient><linearGradient id="v32" gradientUnits="userSpaceOnUse" x1="282.8" y1="0" x2="1032.3" y2="0"><stop offset="0.0000" stop-color="#ededff"/><stop offset="0.0827" stop-color="#ededff"/><stop offset="0.0934" stop-color="#f1f1ff"/><stop offset="1.0000" stop-color="#f1f1ff"/></linearGradient><linearGradient id="v33" gradientUnits="userSpaceOnUse" x1="282.8" y1="0" x2="1032.3" y2="0"><stop offset="0.0000" stop-color="#e5e5ff"/><stop offset="0.1548" stop-color="#e5e5ff"/><stop offset="0.1654" stop-color="#e9e9ff"/><stop offset="0.9313" stop-color="#e9e9ff"/><stop offset="0.9393" stop-color="#ededff"/><stop offset="1.0000" stop-color="#ededff"/></linearGradient><linearGradient id="v34" gradientUnits="userSpaceOnUse" x1="282.8" y1="0" x2="1032.3" y2="0"><stop offset="0.0000" stop-color="#e5e5ff"/><stop offset="0.0347" stop-color="#e5e5ff"/><stop offset="0.0454" stop-color="#e9e9ff"/><stop offset="0.3095" stop-color="#e9e9ff"/><stop offset="0.3175" stop-color="#ededff"/><stop offset="1.0000" stop-color="#ededff"/></linearGradient><linearGradient id="v35" gradientUnits="userSpaceOnUse" x1="282.8" y1="0" x2="1032.3" y2="0"><stop offset="0.0000" stop-color="#f1f1ff"/><stop offset="0.1227" stop-color="#f1f1ff"/><stop offset="0.1334" stop-color="#f5f5ff"/><stop offset="1.0000" stop-color="#f5f5ff"/></linearGradient><linearGradient id="v36" gradientUnits="userSpaceOnUse" x1="282.8" y1="0" x2="1032.3" y2="0"><stop offset="0.0000" stop-color="#e9e9ff"/><stop offset="0.1281" stop-color="#e9e9ff"/><stop offset="0.1361" stop-color="#ededff"/><stop offset="1.0000" stop-color="#ededff"/></linearGradient><linearGradient id="v37" gradientUnits="userSpaceOnUse" x1="282.8" y1="0" x2="1032.3" y2="0"><stop offset="0.0000" stop-color="#d9d9ff"/><stop offset="0.0907" stop-color="#d9d9ff"/><stop offset="0.1014" stop-color="#ddddff"/><stop offset="0.2482" stop-color="#ddddff"/><stop offset="0.2588" stop-color="#e1e1ff"/><stop offset="1.0000" stop-color="#e1e1ff"/></linearGradient><linearGradient id="v38" gradientUnits="userSpaceOnUse" x1="282.8" y1="0" x2="1032.3" y2="0"><stop offset="0.0000" stop-color="#d1d1ff"/><stop offset="0.1014" stop-color="#d1d1ff"/><stop offset="0.1121" stop-color="#d5d5ff"/><stop offset="0.2215" stop-color="#d5d5ff"/><stop offset="0.2322" stop-color="#d9d9ff"/><stop offset="0.4430" stop-color="#d9d9ff"/><stop offset="0.4536" stop-color="#ddddff"/><stop offset="0.5364" stop-color="#ddddff"/><stop offset="0.5470" stop-color="#d9d9ff"/><stop offset="0.8939" stop-color="#d9d9ff"/><stop offset="0.9046" stop-color="#ddddff"/><stop offset="1.0000" stop-color="#ddddff"/></linearGradient><linearGradient id="v39" gradientUnits="userSpaceOnUse" x1="282.8" y1="0" x2="1032.3" y2="0"><stop offset="0.0000" stop-color="#e1e1ff"/><stop offset="0.2081" stop-color="#e1e1ff"/><stop offset="0.2188" stop-color="#e5e5ff"/><stop offset="0.9446" stop-color="#e5e5ff"/><stop offset="0.9553" stop-color="#e9e9ff"/><stop offset="1.0000" stop-color="#e9e9ff"/></linearGradient><linearGradient id="v40" gradientUnits="userSpaceOnUse" x1="282.8" y1="0" x2="1032.3" y2="0"><stop offset="0.0000" stop-color="#ededff"/><stop offset="0.1815" stop-color="#ededff"/><stop offset="0.1921" stop-color="#f1f1ff"/><stop offset="1.0000" stop-color="#f1f1ff"/></linearGradient><linearGradient id="v41" gradientUnits="userSpaceOnUse" x1="282.8" y1="0" x2="1032.3" y2="0"><stop offset="0.0000" stop-color="#e9e9ff"/><stop offset="0.1174" stop-color="#e9e9ff"/><stop offset="0.1254" stop-color="#ededff"/><stop offset="0.9393" stop-color="#ededff"/><stop offset="0.9500" stop-color="#f1f1ff"/><stop offset="1.0000" stop-color="#f1f1ff"/></linearGradient><linearGradient id="v42" gradientUnits="userSpaceOnUse" x1="282.8" y1="0" x2="1032.3" y2="0"><stop offset="0.0000" stop-color="#e5e5ff"/><stop offset="0.2081" stop-color="#e5e5ff"/><stop offset="0.2188" stop-color="#e9e9ff"/><stop offset="1.0000" stop-color="#e9e9ff"/></linearGradient><linearGradient id="v43" gradientUnits="userSpaceOnUse" x1="282.8" y1="0" x2="1032.3" y2="0"><stop offset="0.0000" stop-color="#e1e1ff"/><stop offset="0.1574" stop-color="#e1e1ff"/><stop offset="0.1681" stop-color="#e5e5ff"/><stop offset="0.4430" stop-color="#e5e5ff"/><stop offset="0.4536" stop-color="#e9e9ff"/><stop offset="0.5364" stop-color="#e9e9ff"/><stop offset="0.5470" stop-color="#e5e5ff"/><stop offset="0.8939" stop-color="#e5e5ff"/><stop offset="0.9046" stop-color="#e9e9ff"/><stop offset="1.0000" stop-color="#e9e9ff"/></linearGradient><linearGradient id="v44" gradientUnits="userSpaceOnUse" x1="282.8" y1="0" x2="1032.3" y2="0"><stop offset="0.0000" stop-color="#e1e1ff"/><stop offset="0.0774" stop-color="#e1e1ff"/><stop offset="0.0881" stop-color="#e5e5ff"/><stop offset="0.2989" stop-color="#e5e5ff"/><stop offset="0.3095" stop-color="#e9e9ff"/><stop offset="1.0000" stop-color="#e9e9ff"/></linearGradient><linearGradient id="v45" gradientUnits="userSpaceOnUse" x1="282.8" y1="0" x2="1032.3" y2="0"><stop offset="0.0000" stop-color="#e5e5ff"/><stop offset="0.0881" stop-color="#e5e5ff"/><stop offset="0.0987" stop-color="#e9e9ff"/><stop offset="0.3656" stop-color="#e9e9ff"/><stop offset="0.3736" stop-color="#ededff"/><stop offset="1.0000" stop-color="#ededff"/></linearGradient><linearGradient id="v46" gradientUnits="userSpaceOnUse" x1="282.8" y1="0" x2="1032.3" y2="0"><stop offset="0.0000" stop-color="#e9e9ff"/><stop offset="0.1254" stop-color="#e9e9ff"/><stop offset="0.1334" stop-color="#ededff"/><stop offset="1.0000" stop-color="#ededff"/></linearGradient><linearGradient id="v47" gradientUnits="userSpaceOnUse" x1="282.8" y1="0" x2="1032.3" y2="0"><stop offset="0.0000" stop-color="#e9e9ff"/><stop offset="0.0294" stop-color="#e9e9ff"/><stop offset="0.0374" stop-color="#ededff"/><stop offset="0.3869" stop-color="#ededff"/><stop offset="0.3976" stop-color="#f1f1ff"/><stop offset="1.0000" stop-color="#f1f1ff"/></linearGradient><linearGradient id="v48" gradientUnits="userSpaceOnUse" x1="282.8" y1="0" x2="1032.3" y2="0"><stop offset="0.0000" stop-color="#ededff"/><stop offset="0.3309" stop-color="#ededff"/><stop offset="0.3416" stop-color="#f1f1ff"/><stop offset="1.0000" stop-color="#f1f1ff"/></linearGradient><linearGradient id="v49" gradientUnits="userSpaceOnUse" x1="282.8" y1="0" x2="1032.3" y2="0"><stop offset="0.0000" stop-color="#ededff"/><stop offset="0.2909" stop-color="#ededff"/><stop offset="0.3015" stop-color="#f1f1ff"/><stop offset="1.0000" stop-color="#f1f1ff"/></linearGradient><linearGradient id="v50" gradientUnits="userSpaceOnUse" x1="282.8" y1="0" x2="1032.3" y2="0"><stop offset="0.0000" stop-color="#ededff"/><stop offset="0.2588" stop-color="#ededff"/><stop offset="0.2695" stop-color="#f1f1ff"/><stop offset="1.0000" stop-color="#f1f1ff"/></linearGradient><linearGradient id="v51" gradientUnits="userSpaceOnUse" x1="282.8" y1="0" x2="1032.3" y2="0"><stop offset="0.0000" stop-color="#ededff"/><stop offset="0.2295" stop-color="#ededff"/><stop offset="0.2402" stop-color="#f1f1ff"/><stop offset="1.0000" stop-color="#f1f1ff"/></linearGradient><linearGradient id="v52" gradientUnits="userSpaceOnUse" x1="282.8" y1="0" x2="1032.3" y2="0"><stop offset="0.0000" stop-color="#ededff"/><stop offset="0.1975" stop-color="#ededff"/><stop offset="0.2081" stop-color="#f1f1ff"/><stop offset="1.0000" stop-color="#f1f1ff"/></linearGradient><linearGradient id="v53" gradientUnits="userSpaceOnUse" x1="282.8" y1="0" x2="1032.3" y2="0"><stop offset="0.0000" stop-color="#ededff"/><stop offset="0.1628" stop-color="#ededff"/><stop offset="0.1734" stop-color="#f1f1ff"/><stop offset="1.0000" stop-color="#f1f1ff"/></linearGradient><linearGradient id="v54" gradientUnits="userSpaceOnUse" x1="282.8" y1="0" x2="1032.3" y2="0"><stop offset="0.0000" stop-color="#ededff"/><stop offset="0.1201" stop-color="#ededff"/><stop offset="0.1308" stop-color="#f1f1ff"/><stop offset="1.0000" stop-color="#f1f1ff"/></linearGradient><linearGradient id="v55" gradientUnits="userSpaceOnUse" x1="282.8" y1="0" x2="1032.3" y2="0"><stop offset="0.0000" stop-color="#ededff"/><stop offset="0.0614" stop-color="#ededff"/><stop offset="0.0720" stop-color="#f1f1ff"/><stop offset="1.0000" stop-color="#f1f1ff"/></linearGradient><linearGradient id="v56" gradientUnits="userSpaceOnUse" x1="282.8" y1="0" x2="1032.3" y2="0"><stop offset="0.0000" stop-color="#f1f1ff"/><stop offset="0.9206" stop-color="#f1f1ff"/><stop offset="0.9313" stop-color="#f5f5ff"/><stop offset="1.0000" stop-color="#f5f5ff"/></linearGradient><linearGradient id="v57" gradientUnits="userSpaceOnUse" x1="282.8" y1="0" x2="1032.3" y2="0"><stop offset="0.0000" stop-color="#f1f1ff"/><stop offset="0.3549" stop-color="#f1f1ff"/><stop offset="0.3656" stop-color="#f5f5ff"/><stop offset="1.0000" stop-color="#f5f5ff"/></linearGradient><linearGradient id="v58" gradientUnits="userSpaceOnUse" x1="282.8" y1="0" x2="1032.3" y2="0"><stop offset="0.0000" stop-color="#f1f1ff"/><stop offset="0.2588" stop-color="#f1f1ff"/><stop offset="0.2695" stop-color="#f5f5ff"/><stop offset="1.0000" stop-color="#f5f5ff"/></linearGradient><linearGradient id="v59" gradientUnits="userSpaceOnUse" x1="282.8" y1="0" x2="1032.3" y2="0"><stop offset="0.0000" stop-color="#f1f1ff"/><stop offset="0.1815" stop-color="#f1f1ff"/><stop offset="0.1921" stop-color="#f5f5ff"/><stop offset="1.0000" stop-color="#f5f5ff"/></linearGradient><linearGradient id="v60" gradientUnits="userSpaceOnUse" x1="282.8" y1="0" x2="1032.3" y2="0"><stop offset="0.0000" stop-color="#f1f1ff"/><stop offset="0.1227" stop-color="#f1f1ff"/><stop offset="0.1334" stop-color="#f5f5ff"/><stop offset="1.0000" stop-color="#f5f5ff"/></linearGradient><linearGradient id="v61" gradientUnits="userSpaceOnUse" x1="282.8" y1="0" x2="1032.3" y2="0"><stop offset="0.0000" stop-color="#f1f1ff"/><stop offset="0.0560" stop-color="#f1f1ff"/><stop offset="0.0667" stop-color="#f5f5ff"/><stop offset="1.0000" stop-color="#f5f5ff"/></linearGradient><linearGradient id="v62" gradientUnits="userSpaceOnUse" x1="282.8" y1="0" x2="1032.3" y2="0"><stop offset="0.0000" stop-color="#f5f5ff"/><stop offset="1.0000" stop-color="#f5f5ff"/></linearGradient><linearGradient id="v63" gradientUnits="userSpaceOnUse" x1="282.8" y1="0" x2="1032.3" y2="0"><stop offset="0.0000" stop-color="#f5f5ff"/><stop offset="1.0000" stop-color="#f5f5ff"/></linearGradient><linearGradient id="v64" gradientUnits="userSpaceOnUse" x1="282.8" y1="0" x2="1032.3" y2="0"><stop offset="0.0000" stop-color="#f5f5ff"/><stop offset="0.9366" stop-color="#f5f5ff"/><stop offset="0.9473" stop-color="#f9f9ff"/><stop offset="1.0000" stop-color="#f9f9ff"/></linearGradient><linearGradient id="v65" gradientUnits="userSpaceOnUse" x1="282.8" y1="0" x2="1032.3" y2="0"><stop offset="0.0000" stop-color="#f5f5ff"/><stop offset="0.3869" stop-color="#f5f5ff"/><stop offset="0.3976" stop-color="#f9f9ff"/><stop offset="1.0000" stop-color="#f9f9ff"/></linearGradient><linearGradient id="v66" gradientUnits="userSpaceOnUse" x1="282.8" y1="0" x2="1032.3" y2="0"><stop offset="0.0000" stop-color="#f5f5ff"/><stop offset="0.2855" stop-color="#f5f5ff"/><stop offset="0.2962" stop-color="#f9f9ff"/><stop offset="1.0000" stop-color="#f9f9ff"/></linearGradient><linearGradient id="v67" gradientUnits="userSpaceOnUse" x1="282.8" y1="0" x2="1032.3" y2="0"><stop offset="0.0000" stop-color="#f5f5ff"/><stop offset="0.1948" stop-color="#f5f5ff"/><stop offset="0.2055" stop-color="#f9f9ff"/><stop offset="1.0000" stop-color="#f9f9ff"/></linearGradient><linearGradient id="v68" gradientUnits="userSpaceOnUse" x1="282.8" y1="0" x2="1032.3" y2="0"><stop offset="0.0000" stop-color="#f5f5ff"/><stop offset="0.1308" stop-color="#f5f5ff"/><stop offset="0.1414" stop-color="#f9f9ff"/><stop offset="1.0000" stop-color="#f9f9ff"/></linearGradient><linearGradient id="v69" gradientUnits="userSpaceOnUse" x1="282.8" y1="0" x2="1032.3" y2="0"><stop offset="0.0000" stop-color="#f5f5ff"/><stop offset="0.0507" stop-color="#f5f5ff"/><stop offset="0.0614" stop-color="#f9f9ff"/><stop offset="1.0000" stop-color="#f9f9ff"/></linearGradient><linearGradient id="v70" gradientUnits="userSpaceOnUse" x1="282.8" y1="0" x2="1032.3" y2="0"><stop offset="0.0000" stop-color="#f9f9ff"/><stop offset="1.0000" stop-color="#f9f9ff"/></linearGradient><linearGradient id="v71" gradientUnits="userSpaceOnUse" x1="282.8" y1="0" x2="1032.3" y2="0"><stop offset="0.0000" stop-color="#f9f9ff"/><stop offset="1.0000" stop-color="#f9f9ff"/></linearGradient><linearGradient id="v72" gradientUnits="userSpaceOnUse" x1="282.8" y1="0" x2="1032.3" y2="0"><stop offset="0.0000" stop-color="#f9f9ff"/><stop offset="1.0000" stop-color="#f9f9ff"/></linearGradient><linearGradient id="v73" gradientUnits="userSpaceOnUse" x1="282.8" y1="0" x2="1032.3" y2="0"><stop offset="0.0000" stop-color="#f9f9ff"/><stop offset="1.0000" stop-color="#f9f9ff"/></linearGradient><linearGradient id="v74" gradientUnits="userSpaceOnUse" x1="282.8" y1="0" x2="1032.3" y2="0"><stop offset="0.0000" stop-color="#f9f9ff"/><stop offset="1.0000" stop-color="#f9f9ff"/></linearGradient><linearGradient id="v75" gradientUnits="userSpaceOnUse" x1="282.8" y1="0" x2="1032.3" y2="0"><stop offset="0.0000" stop-color="#f9f9ff"/><stop offset="1.0000" stop-color="#f9f9ff"/></linearGradient><linearGradient id="v76" gradientUnits="userSpaceOnUse" x1="282.8" y1="0" x2="1032.3" y2="0"><stop offset="0.0000" stop-color="#f9f9ff"/><stop offset="0.3389" stop-color="#f9f9ff"/><stop offset="0.3496" stop-color="#fdfdff"/><stop offset="1.0000" stop-color="#fdfdff"/></linearGradient><linearGradient id="v77" gradientUnits="userSpaceOnUse" x1="282.8" y1="0" x2="1032.3" y2="0"><stop offset="0.0000" stop-color="#f9f9ff"/><stop offset="0.1975" stop-color="#f9f9ff"/><stop offset="0.2081" stop-color="#fdfdff"/><stop offset="1.0000" stop-color="#fdfdff"/></linearGradient><linearGradient id="v78" gradientUnits="userSpaceOnUse" x1="282.8" y1="0" x2="1032.3" y2="0"><stop offset="0.0000" stop-color="#f9f9ff"/><stop offset="0.1121" stop-color="#f9f9ff"/><stop offset="0.1227" stop-color="#fdfdff"/><stop offset="1.0000" stop-color="#fdfdff"/></linearGradient><linearGradient id="v79" gradientUnits="userSpaceOnUse" x1="282.8" y1="0" x2="1032.3" y2="0"><stop offset="0.0000" stop-color="#fdfdff"/><stop offset="1.0000" stop-color="#fdfdff"/></linearGradient><linearGradient id="v80" gradientUnits="userSpaceOnUse" x1="282.8" y1="0" x2="1032.3" y2="0"><stop offset="0.0000" stop-color="#fdfdff"/><stop offset="1.0000" stop-color="#fdfdff"/></linearGradient><linearGradient id="v81" gradientUnits="userSpaceOnUse" x1="282.8" y1="0" x2="1032.3" y2="0"><stop offset="0.0000" stop-color="#fdfdff"/><stop offset="1.0000" stop-color="#fdfdff"/></linearGradient><linearGradient id="v82" gradientUnits="userSpaceOnUse" x1="282.8" y1="0" x2="1032.3" y2="0"><stop offset="0.0000" stop-color="#fdfdff"/><stop offset="1.0000" stop-color="#fdfdff"/></linearGradient><linearGradient id="v83" gradientUnits="userSpaceOnUse" x1="282.8" y1="0" x2="1032.3" y2="0"><stop offset="0.0000" stop-color="#fdfdff"/><stop offset="1.0000" stop-color="#fdfdff"/></linearGradient><linearGradient id="v84" gradientUnits="userSpaceOnUse" x1="282.8" y1="0" x2="1032.3" y2="0"><stop offset="0.0000" stop-color="#fdfdff"/><stop offset="1.0000" stop-color="#fdfdff"/></linearGradient><linearGradient id="v85" gradientUnits="userSpaceOnUse" x1="282.8" y1="0" x2="1032.3" y2="0"><stop offset="0.0000" stop-color="#fdfdff"/><stop offset="1.0000" stop-color="#fdfdff"/></linearGradient><linearGradient id="v86" gradientUnits="userSpaceOnUse" x1="282.8" y1="0" x2="1032.3" y2="0"><stop offset="0.0000" stop-color="#fdfdff"/><stop offset="1.0000" stop-color="#fdfdff"/></linearGradient><linearGradient id="v87" gradientUnits="userSpaceOnUse" x1="282.8" y1="0" x2="1032.3" y2="0"><stop offset="0.0000" stop-color="#fdfdff"/><stop offset="1.0000" stop-color="#fdfdff"/></linearGradient><linearGradient id="v88" gradientUnits="userSpaceOnUse" x1="282.8" y1="0" x2="1032.3" y2="0"><stop offset="0.0000" stop-color="#fdfdff"/><stop offset="1.0000" stop-color="#fdfdff"/></linearGradient><linearGradient id="v89" gradientUnits="userSpaceOnUse" x1="282.8" y1="0" x2="1032.3" y2="0"><stop offset="0.0000" stop-color="#fdfdff"/><stop offset="1.0000" stop-color="#fdfdff"/></linearGradient><linearGradient id="v90" gradientUnits="userSpaceOnUse" x1="282.8" y1="0" x2="1032.3" y2="0"><stop offset="0.0000" stop-color="#fdfdff"/><stop offset="1.0000" stop-color="#fdfdff"/></linearGradient><linearGradient id="v91" gradientUnits="userSpaceOnUse" x1="282.8" y1="0" x2="1032.3" y2="0"><stop offset="0.0000" stop-color="#fdfdff"/><stop offset="1.0000" stop-color="#fdfdff"/></linearGradient><linearGradient id="v92" gradientUnits="userSpaceOnUse" x1="282.8" y1="0" x2="1032.3" y2="0"><stop offset="0.0000" stop-color="#fdfdff"/><stop offset="1.0000" stop-color="#fdfdff"/></linearGradient><linearGradient id="v93" gradientUnits="userSpaceOnUse" x1="282.8" y1="0" x2="1032.3" y2="0"><stop offset="0.0000" stop-color="#fdfdff"/><stop offset="1.0000" stop-color="#fdfdff"/></linearGradient><linearGradient id="v94" gradientUnits="userSpaceOnUse" x1="282.8" y1="0" x2="1032.3" y2="0"><stop offset="0.0000" stop-color="#fdfdff"/><stop offset="1.0000" stop-color="#fdfdff"/></linearGradient><linearGradient id="v95" gradientUnits="userSpaceOnUse" x1="282.8" y1="0" x2="1032.3" y2="0"><stop offset="0.0000" stop-color="#fdfdff"/><stop offset="1.0000" stop-color="#fdfdff"/></linearGradient><linearGradient id="v96" gradientUnits="userSpaceOnUse" x1="282.8" y1="0" x2="1032.3" y2="0"><stop offset="0.0000" stop-color="#fdfdff"/><stop offset="1.0000" stop-color="#fdfdff"/></linearGradient><linearGradient id="v97" gradientUnits="userSpaceOnUse" x1="282.8" y1="0" x2="1032.3" y2="0"><stop offset="0.0000" stop-color="#fdfdff"/><stop offset="1.0000" stop-color="#fdfdff"/></linearGradient><linearGradient id="v98" gradientUnits="userSpaceOnUse" x1="282.8" y1="0" x2="1032.3" y2="0"><stop offset="0.0000" stop-color="#fdfdff"/><stop offset="1.0000" stop-color="#fdfdff"/></linearGradient><linearGradient id="v99" gradientUnits="userSpaceOnUse" x1="282.8" y1="0" x2="1032.3" y2="0"><stop offset="0.0000" stop-color="#fdfdff"/><stop offset="1.0000" stop-color="#fdfdff"/></linearGradient><linearGradient id="v100" gradientUnits="userSpaceOnUse" x1="282.8" y1="0" x2="1032.3" y2="0"><stop offset="0.0000" stop-color="#fdfdff"/><stop offset="1.0000" stop-color="#fdfdff"/></linearGradient><linearGradient id="v101" gradientUnits="userSpaceOnUse" x1="282.8" y1="0" x2="1032.3" y2="0"><stop offset="0.0000" stop-color="#fdfdff"/><stop offset="1.0000" stop-color="#fdfdff"/></linearGradient><linearGradient id="v102" gradientUnits="userSpaceOnUse" x1="282.8" y1="0" x2="1032.3" y2="0"><stop offset="0.0000" stop-color="#fdfdff"/><stop offset="1.0000" stop-color="#fdfdff"/></linearGradient><linearGradient id="v103" gradientUnits="userSpaceOnUse" x1="282.8" y1="0" x2="1032.3" y2="0"><stop offset="0.0000" stop-color="#fdfdff"/><stop offset="1.0000" stop-color="#fdfdff"/></linearGradient><linearGradient id="v104" gradientUnits="userSpaceOnUse" x1="282.8" y1="0" x2="1032.3" y2="0"><stop offset="0.0000" stop-color="#fdfdff"/><stop offset="1.0000" stop-color="#fdfdff"/></linearGradient><linearGradient id="v105" gradientUnits="userSpaceOnUse" x1="282.8" y1="0" x2="1032.3" y2="0"><stop offset="0.0000" stop-color="#fdfdff"/><stop offset="1.0000" stop-color="#fdfdff"/></linearGradient><linearGradient id="v106" gradientUnits="userSpaceOnUse" x1="282.8" y1="0" x2="1032.3" y2="0"><stop offset="0.0000" stop-color="#fdfdff"/><stop offset="1.0000" stop-color="#fdfdff"/></linearGradient><linearGradient id="v107" gradientUnits="userSpaceOnUse" x1="282.8" y1="0" x2="1032.3" y2="0"><stop offset="0.0000" stop-color="#fdfdff"/><stop offset="1.0000" stop-color="#fdfdff"/></linearGradient><linearGradient id="v108" gradientUnits="userSpaceOnUse" x1="282.8" y1="0" x2="1032.3" y2="0"><stop offset="0.0000" stop-color="#fdfdff"/><stop offset="1.0000" stop-color="#fdfdff"/></linearGradient><linearGradient id="lav" x1="0" y1="0" x2="0" y2="1"><stop offset="0" stop-color="#ececff"/><stop offset="0.3" stop-color="#f6f6ff"/><stop offset="1" stop-color="#fcfcff"/></linearGradient><clipPath id="cp3"><rect x="74.40" y="481.30" width="1155.00" height="208.00"/></clipPath></defs><rect x="0" y="0" width="1350" height="725" fill="#fff"/><g clip-path="url(#cps)"><g filter="url(#vb)" shape-rendering="crispEdges"><rect x="282.80" y="61" width="749.50" height="2" fill="url(#s0)"/><rect x="282.80" y="63" width="749.50" height="2" fill="url(#s1)"/><rect x="282.80" y="65" width="749.50" height="2" fill="url(#s2)"/><rect x="282.80" y="67" width="749.50" height="2" fill="url(#s3)"/><rect x="282.80" y="69" width="749.50" height="2" fill="url(#s4)"/><rect x="282.80" y="71" width="749.50" height="2" fill="url(#s5)"/><rect x="282.80" y="73" width="749.50" height="2" fill="url(#s6)"/><rect x="282.80" y="75" width="749.50" height="2" fill="url(#s7)"/><rect x="282.80" y="77" width="749.50" height="2" fill="url(#s8)"/><rect x="282.80" y="79" width="749.50" height="2" fill="url(#s9)"/><rect x="282.80" y="81" width="749.50" height="2" fill="url(#s10)"/><rect x="282.80" y="83" width="749.50" height="2" fill="url(#s11)"/><rect x="282.80" y="85" width="749.50" height="2" fill="url(#s12)"/><rect x="282.80" y="87" width="749.50" height="2" fill="url(#s13)"/><rect x="282.80" y="89" width="749.50" height="2" fill="url(#s14)"/><rect x="282.80" y="91" width="749.50" height="2" fill="url(#s15)"/><rect x="282.80" y="93" width="749.50" height="2" fill="url(#s16)"/><rect x="282.80" y="95" width="749.50" height="2" fill="url(#s17)"/><rect x="282.80" y="97" width="749.50" height="2" fill="url(#s18)"/><rect x="282.80" y="99" width="749.50" height="2" fill="url(#s19)"/><rect x="282.80" y="101" width="749.50" height="2" fill="url(#s20)"/><rect x="282.80" y="103" width="749.50" height="2" fill="url(#s21)"/><rect x="282.80" y="105" width="749.50" height="2" fill="url(#s22)"/><rect x="282.80" y="107" width="749.50" height="2" fill="url(#s23)"/><rect x="282.80" y="109" width="749.50" height="2" fill="url(#s24)"/><rect x="282.80" y="111" width="749.50" height="2" fill="url(#s25)"/><rect x="282.80" y="113" width="749.50" height="2" fill="url(#s26)"/><rect x="282.80" y="115" width="749.50" height="2" fill="url(#s27)"/><rect x="282.80" y="117" width="749.50" height="2" fill="url(#s28)"/><rect x="282.80" y="119" width="749.50" height="2" fill="url(#s29)"/><rect x="282.80" y="121" width="749.50" height="2" fill="url(#s30)"/><rect x="282.80" y="123" width="749.50" height="2" fill="url(#s31)"/><rect x="282.80" y="125" width="749.50" height="2" fill="url(#s32)"/><rect x="282.80" y="127" width="749.50" height="2" fill="url(#s33)"/><rect x="282.80" y="129" width="749.50" height="2" fill="url(#s34)"/><rect x="282.80" y="131" width="749.50" height="2" fill="url(#s35)"/><rect x="282.80" y="133" width="749.50" height="2" fill="url(#s36)"/><rect x="282.80" y="135" width="749.50" height="2" fill="url(#s37)"/><rect x="282.80" y="137" width="749.50" height="2" fill="url(#s38)"/><rect x="282.80" y="139" width="749.50" height="2" fill="url(#s39)"/><rect x="282.80" y="141" width="749.50" height="2" fill="url(#s40)"/><rect x="282.80" y="143" width="749.50" height="2" fill="url(#s41)"/><rect x="282.80" y="145" width="749.50" height="2" fill="url(#s42)"/><rect x="282.80" y="147" width="749.50" height="2" fill="url(#s43)"/><rect x="282.80" y="149" width="749.50" height="2" fill="url(#s44)"/><rect x="282.80" y="151" width="749.50" height="2" fill="url(#s45)"/><rect x="282.80" y="153" width="749.50" height="2" fill="url(#s46)"/><rect x="282.80" y="155" width="749.50" height="2" fill="url(#s47)"/><rect x="282.80" y="157" width="749.50" height="2" fill="url(#s48)"/><rect x="282.80" y="159" width="749.50" height="2" fill="url(#s49)"/><rect x="282.80" y="161" width="749.50" height="2" fill="url(#s50)"/><rect x="282.80" y="163" width="749.50" height="2" fill="url(#s51)"/><rect x="282.80" y="165" width="749.50" height="2" fill="url(#s52)"/><rect x="282.80" y="167" width="749.50" height="2" fill="url(#s53)"/><rect x="282.80" y="169" width="749.50" height="2" fill="url(#s54)"/><rect x="282.80" y="171" width="749.50" height="2" fill="url(#s55)"/><rect x="282.80" y="173" width="749.50" height="2" fill="url(#s56)"/><rect x="282.80" y="175" width="749.50" height="2" fill="url(#s57)"/><rect x="282.80" y="177" width="749.50" height="2" fill="url(#s58)"/><rect x="282.80" y="179" width="749.50" height="2" fill="url(#s59)"/><rect x="282.80" y="181" width="749.50" height="2" fill="url(#s60)"/><rect x="282.80" y="183" width="749.50" height="2" fill="url(#s61)"/><rect x="282.80" y="185" width="749.50" height="2" fill="url(#s62)"/><rect x="282.80" y="187" width="749.50" height="2" fill="url(#s63)"/><rect x="282.80" y="189" width="749.50" height="2" fill="url(#s64)"/><rect x="282.80" y="191" width="749.50" height="2" fill="url(#s65)"/><rect x="282.80" y="193" width="749.50" height="2" fill="url(#s66)"/><rect x="282.80" y="195" width="749.50" height="2" fill="url(#s67)"/><rect x="282.80" y="197" width="749.50" height="2" fill="url(#s68)"/><rect x="282.80" y="199" width="749.50" height="2" fill="url(#s69)"/><rect x="282.80" y="201" width="749.50" height="2" fill="url(#s70)"/><rect x="282.80" y="203" width="749.50" height="2" fill="url(#s71)"/><rect x="282.80" y="205" width="749.50" height="2" fill="url(#s72)"/><rect x="282.80" y="207" width="749.50" height="2" fill="url(#s73)"/><rect x="282.80" y="209" width="749.50" height="2" fill="url(#s74)"/><rect x="282.80" y="211" width="749.50" height="2" fill="url(#s75)"/><rect x="282.80" y="213" width="749.50" height="2" fill="url(#s76)"/><rect x="282.80" y="215" width="749.50" height="2" fill="url(#s77)"/><rect x="282.80" y="217" width="749.50" height="2" fill="url(#s78)"/><rect x="282.80" y="219" width="749.50" height="2" fill="url(#s79)"/><rect x="282.80" y="221" width="749.50" height="2" fill="url(#s80)"/><rect x="282.80" y="223" width="749.50" height="2" fill="url(#s81)"/><rect x="282.80" y="225" width="749.50" height="2" fill="url(#s82)"/><rect x="282.80" y="227" width="749.50" height="2" fill="url(#s83)"/><rect x="282.80" y="229" width="749.50" height="2" fill="url(#s84)"/><rect x="282.80" y="231" width="749.50" height="2" fill="url(#s85)"/><rect x="282.80" y="233" width="749.50" height="2" fill="url(#s86)"/><rect x="282.80" y="235" width="749.50" height="2" fill="url(#s87)"/><rect x="282.80" y="237" width="749.50" height="2" fill="url(#s88)"/><rect x="282.80" y="239" width="749.50" height="2" fill="url(#s89)"/><rect x="282.80" y="241" width="749.50" height="2" fill="url(#s90)"/><rect x="282.80" y="243" width="749.50" height="2" fill="url(#s91)"/><rect x="282.80" y="245" width="749.50" height="2" fill="url(#s92)"/><rect x="282.80" y="247" width="749.50" height="2" fill="url(#s93)"/><rect x="282.80" y="249" width="749.50" height="2" fill="url(#s94)"/><rect x="282.80" y="251" width="749.50" height="2" fill="url(#s95)"/><rect x="282.80" y="253" width="749.50" height="2" fill="url(#s96)"/><rect x="282.80" y="255" width="749.50" height="2" fill="url(#s97)"/><rect x="282.80" y="257" width="749.50" height="2" fill="url(#s98)"/><rect x="282.80" y="259" width="749.50" height="2" fill="url(#s99)"/><rect x="282.80" y="261" width="749.50" height="2" fill="url(#s100)"/><rect x="282.80" y="263" width="749.50" height="2" fill="url(#s101)"/><rect x="282.80" y="265" width="749.50" height="2" fill="url(#s102)"/><rect x="282.80" y="267" width="749.50" height="2" fill="url(#s103)"/><rect x="282.80" y="269" width="749.50" height="2" fill="url(#s104)"/><rect x="282.80" y="271" width="749.50" height="2" fill="url(#s105)"/><rect x="282.80" y="273" width="749.50" height="2" fill="url(#s106)"/><rect x="282.80" y="275" width="749.50" height="2" fill="url(#s107)"/><rect x="282.80" y="277" width="749.50" height="1" fill="url(#s108)"/></g></g><rect x="760.50" y="65.30" width="26.70" height="208.00" fill="#30123b"/><rect x="1032.30" y="65.30" width="30.70" height="208.00" fill="#30123b"/><rect x="760.00" y="65.30" width="1.1" height="208.00" fill="url(#eg1)" opacity="0.9"/><rect x="786.60" y="65.30" width="1.1" height="208.00" fill="url(#eg2)" opacity="0.9"/><rect x="1031.80" y="65.30" width="1.1" height="208.00" fill="url(#eg1)" opacity="0.9"/><rect x="911.3" y="171" width="1.6" height="18" fill="url(#stk)"/><g clip-path="url(#cpv)"><g filter="url(#vb)" shape-rendering="crispEdges"><rect x="282.80" y="269" width="749.50" height="2" fill="url(#v0)"/><rect x="282.80" y="271" width="749.50" height="2" fill="url(#v1)"/><rect x="282.80" y="273" width="749.50" height="2" fill="url(#v2)"/><rect x="282.80" y="275" width="749.50" height="2" fill="url(#v3)"/><rect x="282.80" y="277" width="749.50" height="2" fill="url(#v4)"/><rect x="282.80" y="279" width="749.50" height="2" fill="url(#v5)"/><rect x="282.80" y="281" width="749.50" height="2" fill="url(#v6)"/><rect x="282.80" y="283" width="749.50" height="2" fill="url(#v7)"/><rect x="282.80" y="285" width="749.50" height="2" fill="url(#v8)"/><rect x="282.80" y="287" width="749.50" height="2" fill="url(#v9)"/><rect x="282.80" y="289" width="749.50" height="2" fill="url(#v10)"/><rect x="282.80" y="291" width="749.50" height="2" fill="url(#v11)"/><rect x="282.80" y="293" width="749.50" height="2" fill="url(#v12)"/><rect x="282.80" y="295" width="749.50" height="2" fill="url(#v13)"/><rect x="282.80" y="297" width="749.50" height="2" fill="url(#v14)"/><rect x="282.80" y="299" width="749.50" height="2" fill="url(#v15)"/><rect x="282.80" y="301" width="749.50" height="2" fill="url(#v16)"/><rect x="282.80" y="303" width="749.50" height="2" fill="url(#v17)"/><rect x="282.80" y="305" width="749.50" height="2" fill="url(#v18)"/><rect x="282.80" y="307" width="749.50" height="2" fill="url(#v19)"/><rect x="282.80" y="309" width="749.50" height="2" fill="url(#v20)"/><rect x="282.80" y="311" width="749.50" height="2" fill="url(#v21)"/><rect x="282.80" y="313" width="749.50" height="2" fill="url(#v22)"/><rect x="282.80" y="315" width="749.50" height="2" fill="url(#v23)"/><rect x="282.80" y="317" width="749.50" height="2" fill="url(#v24)"/><rect x="282.80" y="319" width="749.50" height="2" fill="url(#v25)"/><rect x="282.80" y="321" width="749.50" height="2" fill="url(#v26)"/><rect x="282.80" y="323" width="749.50" height="2" fill="url(#v27)"/><rect x="282.80" y="325" width="749.50" height="2" fill="url(#v28)"/><rect x="282.80" y="327" width="749.50" height="2" fill="url(#v29)"/><rect x="282.80" y="329" width="749.50" height="2" fill="url(#v30)"/><rect x="282.80" y="331" width="749.50" height="2" fill="url(#v31)"/><rect x="282.80" y="333" width="749.50" height="2" fill="url(#v32)"/><rect x="282.80" y="335" width="749.50" height="2" fill="url(#v33)"/><rect x="282.80" y="337" width="749.50" height="2" fill="url(#v34)"/><rect x="282.80" y="339" width="749.50" height="2" fill="url(#v35)"/><rect x="282.80" y="341" width="749.50" height="2" fill="url(#v36)"/><rect x="282.80" y="343" width="749.50" height="2" fill="url(#v37)"/><rect x="282.80" y="345" width="749.50" height="2" fill="url(#v38)"/><rect x="282.80" y="347" width="749.50" height="2" fill="url(#v39)"/><rect x="282.80" y="349" width="749.50" height="2" fill="url(#v40)"/><rect x="282.80" y="351" width="749.50" height="2" fill="url(#v41)"/><rect x="282.80" y="353" width="749.50" height="2" fill="url(#v42)"/><rect x="282.80" y="355" width="749.50" height="2" fill="url(#v43)"/><rect x="282.80" y="357" width="749.50" height="2" fill="url(#v44)"/><rect x="282.80" y="359" width="749.50" height="2" fill="url(#v45)"/><rect x="282.80" y="361" width="749.50" height="2" fill="url(#v46)"/><rect x="282.80" y="363" width="749.50" height="2" fill="url(#v47)"/><rect x="282.80" y="365" width="749.50" height="2" fill="url(#v48)"/><rect x="282.80" y="367" width="749.50" height="2" fill="url(#v49)"/><rect x="282.80" y="369" width="749.50" height="2" fill="url(#v50)"/><rect x="282.80" y="371" width="749.50" height="2" fill="url(#v51)"/><rect x="282.80" y="373" width="749.50" height="2" fill="url(#v52)"/><rect x="282.80" y="375" width="749.50" height="2" fill="url(#v53)"/><rect x="282.80" y="377" width="749.50" height="2" fill="url(#v54)"/><rect x="282.80" y="379" width="749.50" height="2" fill="url(#v55)"/><rect x="282.80" y="381" width="749.50" height="2" fill="url(#v56)"/><rect x="282.80" y="383" width="749.50" height="2" fill="url(#v57)"/><rect x="282.80" y="385" width="749.50" height="2" fill="url(#v58)"/><rect x="282.80" y="387" width="749.50" height="2" fill="url(#v59)"/><rect x="282.80" y="389" width="749.50" height="2" fill="url(#v60)"/><rect x="282.80" y="391" width="749.50" height="2" fill="url(#v61)"/><rect x="282.80" y="393" width="749.50" height="2" fill="url(#v62)"/><rect x="282.80" y="395" width="749.50" height="2" fill="url(#v63)"/><rect x="282.80" y="397" width="749.50" height="2" fill="url(#v64)"/><rect x="282.80" y="399" width="749.50" height="2" fill="url(#v65)"/><rect x="282.80" y="401" width="749.50" height="2" fill="url(#v66)"/><rect x="282.80" y="403" width="749.50" height="2" fill="url(#v67)"/><rect x="282.80" y="405" width="749.50" height="2" fill="url(#v68)"/><rect x="282.80" y="407" width="749.50" height="2" fill="url(#v69)"/><rect x="282.80" y="409" width="749.50" height="2" fill="url(#v70)"/><rect x="282.80" y="411" width="749.50" height="2" fill="url(#v71)"/><rect x="282.80" y="413" width="749.50" height="2" fill="url(#v72)"/><rect x="282.80" y="415" width="749.50" height="2" fill="url(#v73)"/><rect x="282.80" y="417" width="749.50" height="2" fill="url(#v74)"/><rect x="282.80" y="419" width="749.50" height="2" fill="url(#v75)"/><rect x="282.80" y="421" width="749.50" height="2" fill="url(#v76)"/><rect x="282.80" y="423" width="749.50" height="2" fill="url(#v77)"/><rect x="282.80" y="425" width="749.50" height="2" fill="url(#v78)"/><rect x="282.80" y="427" width="749.50" height="2" fill="url(#v79)"/><rect x="282.80" y="429" width="749.50" height="2" fill="url(#v80)"/><rect x="282.80" y="431" width="749.50" height="2" fill="url(#v81)"/><rect x="282.80" y="433" width="749.50" height="2" fill="url(#v82)"/><rect x="282.80" y="435" width="749.50" height="2" fill="url(#v83)"/><rect x="282.80" y="437" width="749.50" height="2" fill="url(#v84)"/><rect x="282.80" y="439" width="749.50" height="2" fill="url(#v85)"/><rect x="282.80" y="441" width="749.50" height="2" fill="url(#v86)"/><rect x="282.80" y="443" width="749.50" height="2" fill="url(#v87)"/><rect x="282.80" y="445" width="749.50" height="2" fill="url(#v88)"/><rect x="282.80" y="447" width="749.50" height="2" fill="url(#v89)"/><rect x="282.80" y="449" width="749.50" height="2" fill="url(#v90)"/><rect x="282.80" y="451" width="749.50" height="2" fill="url(#v91)"/><rect x="282.80" y="453" width="749.50" height="2" fill="url(#v92)"/><rect x="282.80" y="455" width="749.50" height="2" fill="url(#v93)"/><rect x="282.80" y="457" width="749.50" height="2" fill="url(#v94)"/><rect x="282.80" y="459" width="749.50" height="2" fill="url(#v95)"/><rect x="282.80" y="461" width="749.50" height="2" fill="url(#v96)"/><rect x="282.80" y="463" width="749.50" height="2" fill="url(#v97)"/><rect x="282.80" y="465" width="749.50" height="2" fill="url(#v98)"/><rect x="282.80" y="467" width="749.50" height="2" fill="url(#v99)"/><rect x="282.80" y="469" width="749.50" height="2" fill="url(#v100)"/><rect x="282.80" y="471" width="749.50" height="2" fill="url(#v101)"/><rect x="282.80" y="473" width="749.50" height="2" fill="url(#v102)"/><rect x="282.80" y="475" width="749.50" height="2" fill="url(#v103)"/><rect x="282.80" y="477" width="749.50" height="2" fill="url(#v104)"/><rect x="282.80" y="479" width="749.50" height="2" fill="url(#v105)"/><rect x="282.80" y="481" width="749.50" height="2" fill="url(#v106)"/><rect x="282.80" y="483" width="749.50" height="2" fill="url(#v107)"/><rect x="282.80" y="485" width="749.50" height="1" fill="url(#v108)"/></g></g><rect x="760.50" y="273.30" width="26.70" height="208.00" fill="#fcfcff"/><rect x="785.2" y="339" width="1.8" height="3.2" fill="#ff2020"/><rect x="785.2" y="342.2" width="1.8" height="3" fill="#4050ff"/><rect x="911.4" y="381" width="1.2" height="3" fill="#e8e8ff"/><rect x="911.4" y="387" width="1.2" height="4" fill="#ffb0b0"/><rect x="1032.30" y="273.30" width="30.70" height="208.00" fill="url(#lav)"/><g clip-path="url(#cp3)"><path d="M282.8 675.5 283.8 674.8 284.8 675.6 285.8 674.9 286.8 675.5 287.8 674.8 288.8 675.4 289.8 674.8 290.8 675.6 291.8 674.9 292.8 675.5 293.8 674.9 294.8 675.5 295.8 674.9 296.8 675.5 297.8 674.9 298.8 675.6 299.8 674.8 300.8 675.5 301.8 674.8 302.8 675.5 303.8 674.9 304.8 675.5 305.8 675.0 306.8 675.4 307.8 674.9 308.8 675.5 309.8 674.8 310.8 675.5 311.8 674.9 312.8 675.5 313.8 674.9 314.8 675.4 315.8 674.9 316.8 675.6 317.8 674.9 318.8 675.5 319.8 675.0 320.8 675.6 321.8 674.9 322.8 675.5 323.8 674.8 324.8 675.5 325.8 674.8 326.8 675.5 327.8 674.8 328.8 675.5 329.8 674.9 330.8 675.5 331.8 674.8 332.8 675.5 333.8 674.9 334.8 675.4 335.8 674.9 336.8 675.5 337.8 674.9 338.8 675.6 339.8 674.9 340.8 675.6 341.8 674.9 342.8 675.5 343.8 674.9 344.8 675.5 345.8 674.9 346.8 675.5 347.8 674.9 348.8 675.5 349.8 674.9 350.8 675.6 351.8 674.9 352.8 675.5 353.8 674.9 354.8 675.6 355.8 674.9 356.8 675.5 357.8 674.8 358.8 675.6 359.8 674.8 360.8 675.5 361.8 674.9 362.8 675.5 363.8 674.8 364.8 675.5 365.8 674.9 366.8 675.6 367.8 674.9 368.8 675.5 369.8 674.9 370.8 675.5 371.8 674.9 372.8 675.4 373.8 674.8 374.8 675.5 375.8 674.9 376.8 675.5 377.8 674.8 378.8 675.4 379.8 674.9 380.8 675.4 381.8 674.9 382.8 675.6 383.8 674.9 384.8 675.5 385.8 674.9 386.8 675.6 387.8 674.9 388.8 675.5 389.8 674.9 390.8 675.5 391.8 674.9 392.8 675.6 393.8 674.8 394.8 675.5 395.8 674.8 396.8 675.4 397.8 674.8 398.8 675.6 399.8 674.9 400.8 675.5 401.8 674.8 402.8 675.4 403.8 674.9 404.8 675.6 405.8 674.9 406.8 675.6 407.8 674.9 408.8 675.5 409.8 674.9 410.8 675.5 411.8 674.9 412.8 675.6 413.8 674.9 414.8 675.5 415.8 674.9 416.8 675.6 417.8 674.9 418.8 675.6 419.8 674.9 420.8 675.5 421.8 674.8 422.8 675.6 423.8 674.9 424.8 675.5 425.8 674.8 426.8 675.5 427.8 674.8 428.8 675.5 429.8 674.9 430.8 675.5 431.8 674.8 432.8 675.5 433.8 674.8 434.8 675.5 435.8 674.8 436.8 675.5 437.8 674.8 438.8 675.5 439.8 674.9 440.8 675.5 441.8 675.0 442.8 675.5 443.8 674.8 444.8 675.6 445.8 674.9 446.8 675.5 447.8 674.9 448.8 675.5 449.8 674.9 450.8 675.5 451.8 674.8 452.8 675.5 453.8 674.9 454.8 675.5 455.8 674.9 456.8 675.4 457.8 674.9 458.8 675.6 459.8 674.8 460.8 675.6 461.8 674.9 462.8 675.6 463.8 674.8 464.8 675.6 465.8 674.9 466.8 675.6 467.8 675.0 468.8 675.4 469.8 675.0 470.8 675.5 471.8 674.9 472.8 675.5 473.8 674.9 474.8 675.4 475.8 674.9 476.8 675.5 477.8 674.9 478.8 675.4 479.8 674.9 480.8 675.6 481.8 674.9 482.8 675.6 483.8 674.9 484.8 675.5 485.8 674.9 486.8 675.5 487.8 675.0 488.8 675.6 489.8 674.8 490.8 675.6 491.8 675.0 492.8 675.5 493.8 674.9 494.8 675.5 495.8 674.9 496.8 675.6 497.8 674.9 498.8 675.6 499.8 674.8 500.8 675.5 501.8 674.8 502.8 675.6 503.8 674.9 504.8 675.5 505.8 674.9 506.8 675.5 507.8 674.9 508.8 675.5 509.8 674.9 510.8 675.6 511.8 674.8 512.8 675.5 513.8 674.8 514.8 675.6 515.8 674.8 516.8 675.5 517.8 675.0 518.8 675.5 519.8 674.9 520.8 675.5 521.8 674.8 522.8 675.5 523.8 674.9 524.8 675.5 525.8 674.9 526.8 675.5 527.8 674.9 528.8 675.5 529.8 674.9 530.8 675.6 531.8 674.9 532.8 675.5 533.8 674.9 534.8 675.5 535.8 674.9 536.8 675.5 537.8 674.9 538.8 675.5 539.8 674.8 540.8 675.5 541.8 674.9 542.8 675.5 543.8 674.8 544.8 675.5 545.8 674.9 546.8 675.5 547.8 674.9 548.8 675.6 549.8 674.9 550.8 675.5 551.8 674.8 552.8 675.5 553.8 674.9 554.8 675.5 555.8 674.8 556.8 675.5 557.8 674.8 558.8 675.5 559.8 674.8 560.8 675.6 561.8 674.8 562.8 675.5 563.8 674.9 564.8 675.5 565.8 674.9 566.8 675.6 567.8 674.9 568.8 675.5 569.8 674.9 570.8 675.6 571.8 674.8 572.8 675.5 573.8 674.9 574.8 675.6 575.8 674.9 576.8 675.6 577.8 674.8 578.8 675.6 579.8 674.8 580.8 675.6 581.8 674.9 582.8 675.5 583.8 674.9 584.8 675.6 585.8 674.8 586.8 675.6 587.8 674.9 588.8 675.5 589.8 674.9 590.8 675.4 591.8 674.8 592.8 675.5 593.8 674.9 594.8 675.5 595.8 674.8 596.8 675.5 597.8 674.8 598.8 675.6 599.8 674.9 600.8 675.5 601.8 674.8 602.8 675.6 603.8 674.9 604.8 675.6 605.8 674.8 606.8 675.6 607.8 674.9 608.8 675.5 609.8 674.8 610.8 675.5 611.8 674.9 612.8 675.5 613.8 674.9 614.8 675.6 615.8 674.9 616.8 675.6 617.8 674.9 618.8 675.6 619.8 674.9 620.8 675.5 621.8 675.0 622.8 675.5 623.8 674.9 624.8 675.6 625.8 674.9 626.8 675.4 627.8 674.8 628.8 675.6 629.8 674.8 630.8 675.5 631.8 674.9 632.8 675.5 633.8 674.9 634.8 675.4 635.8 674.9 636.8 675.5 637.8 674.9 638.8 675.6 639.8 674.9 640.8 675.5 641.8 674.9 642.8 675.5 643.8 674.9 644.8 675.5 645.8 674.9 646.8 675.5 647.8 674.9 648.8 675.5 649.8 674.8 650.8 675.6 651.8 674.9 652.8 675.5 653.8 674.9 654.8 675.6 655.8 674.8 656.8 675.5 657.8 674.8 658.8 675.5 659.8 674.9 660.8 675.5 661.8 674.8 662.8 675.4 663.8 674.9 664.8 675.5 665.8 674.9 666.8 675.5 667.8 674.9 668.8 675.6 669.8 674.8 670.8 675.6 671.8 674.8 672.8 675.6 673.8 674.8 674.8 675.5 675.8 674.8 676.8 675.5 677.8 674.9 678.8 675.6 679.8 674.9 680.8 675.6 681.8 674.9 682.8 675.5 683.8 674.8 684.8 675.5 685.8 674.9 686.8 675.5 687.8 674.8 688.8 675.5 689.8 674.8 690.8 675.5 691.8 674.8 692.8 675.6 693.8 674.9 694.8 675.6 695.8 674.9 696.8 675.5 697.8 674.8 698.8 675.6 699.8 674.9 700.8 675.5 701.8 674.9 702.8 675.5 703.8 674.8 704.8 675.5 705.8 674.8 706.8 675.4 707.8 674.8 708.8 675.5 709.8 674.9 710.8 675.6 711.8 674.9 712.8 675.6 713.8 674.9 714.8 675.5 715.8 674.9 716.8 675.6 717.8 675.0 718.8 675.5 719.8 674.9 720.8 675.5 721.8 674.9 722.8 675.5 723.8 674.9 724.8 675.5 725.8 674.8 726.8 675.5 727.8 674.9 728.8 675.6 729.8 674.8 730.8 675.5 731.8 674.8 732.8 675.5 733.8 674.9 734.8 675.6 735.8 674.9 736.8 675.5 737.8 674.9 738.8 675.5 739.8 674.9 740.8 675.6 741.8 674.9 742.8 675.5 743.8 674.8 744.8 675.5 745.8 674.9 746.8 675.6 747.8 674.9 748.8 675.6 749.8 674.8 750.8 675.5 751.8 674.8 752.8 675.4 753.8 674.9 754.8 675.6 755.8 674.9 756.8 675.5 757.8 674.9 758.8 675.5 759.8 674.9 M787.8 674.9 788.8 675.5 789.8 674.9 790.8 675.5 791.8 674.9 792.8 675.6 793.8 674.8 794.8 675.4 795.8 674.8 796.8 675.6 797.8 674.9 798.8 675.4 799.8 674.9 800.8 675.5 801.8 674.9 802.8 675.5 803.8 674.9 804.8 675.5 805.8 674.9 806.8 675.5 807.8 674.9 808.8 675.5 809.8 674.8 810.8 675.5 811.8 674.9 812.8 675.5 813.8 674.9 814.8 675.5 815.8 674.8 816.8 675.6 817.8 674.9 818.8 675.5 819.8 674.9 820.8 675.6 821.8 674.9 822.8 675.6 823.8 674.9 824.8 675.5 825.8 674.8 826.8 675.6 827.8 674.9 828.8 675.5 829.8 674.9 830.8 675.5 831.8 674.9 832.8 675.5 833.8 674.9 834.8 675.5 835.8 674.9 836.8 675.5 837.8 674.9 838.8 675.6 839.8 675.0 840.8 675.5 841.8 674.9 842.8 675.5 843.8 675.0 844.8 675.5 845.8 674.9 846.8 675.5 847.8 674.8 848.8 675.5 849.8 674.9 850.8 675.5 851.8 674.9 852.8 675.6 853.8 674.9 854.8 675.6 855.8 674.8 856.8 675.5 857.8 675.0 858.8 675.5 859.8 674.9 860.8 675.6 861.8 674.9 862.8 675.6 863.8 674.8 864.8 675.5 865.8 674.9 866.8 675.4 867.8 674.8 868.8 675.6 869.8 674.8 870.8 675.5 871.8 674.9 872.8 675.5 873.8 674.9 874.8 675.6 875.8 674.9 876.8 675.5 877.8 674.9 878.8 675.4 879.8 674.8 880.8 675.6 881.8 674.9 882.8 675.6 883.8 674.8 884.8 675.5 885.8 674.9 886.8 675.5 887.8 674.9 888.8 675.5 889.8 674.9 890.8 675.6 891.8 674.9 892.8 675.6 893.8 674.9 894.8 675.6 895.8 674.9 896.8 675.4 897.8 674.8 898.8 675.5 899.8 674.9 900.8 675.6 901.8 674.9 902.8 675.5 903.8 674.9 904.8 675.6 905.8 674.9 906.8 675.6 907.8 674.9 908.8 675.6 909.8 674.9 910.8 675.5 911.8 675.0 912.8 675.5 913.8 674.8 914.8 675.5 915.8 674.9 916.8 675.6 917.8 674.9 918.8 675.5 919.8 674.9 920.8 675.5 921.8 674.8 922.8 675.5 923.8 674.8 924.8 675.5 925.8 674.8 926.8 675.5 927.8 674.8 928.8 675.6 929.8 674.9 930.8 675.4 931.8 674.8 932.8 675.6 933.8 674.9 934.8 675.6 935.8 674.9 936.8 675.5 937.8 674.8 938.8 675.5 939.8 674.9 940.8 675.5 941.8 674.9 942.8 675.5 943.8 674.9 944.8 675.5 945.8 674.9 946.8 675.5 947.8 674.9 948.8 675.6 949.8 674.8 950.8 675.5 951.8 674.9 952.8 675.5 953.8 674.9 954.8 675.5 955.8 674.8 956.8 675.5 957.8 674.8 958.8 675.5 959.8 674.9 960.8 675.6 961.8 674.8 962.8 675.4 963.8 674.9 964.8 675.5 965.8 674.8 966.8 675.5 967.8 674.9 968.8 675.6 969.8 674.9 970.8 675.5 971.8 674.8 972.8 675.5 973.8 675.0 974.8 675.5 975.8 674.9 976.8 675.5 977.8 674.9 978.8 675.6 979.8 674.9 980.8 675.5 981.8 674.9 982.8 675.5 983.8 674.8 984.8 675.5 985.8 674.8 986.8 675.5 987.8 674.9 988.8 675.5 989.8 674.9 990.8 675.5 991.8 674.9 992.8 675.6 993.8 674.9 994.8 675.5 995.8 674.8 996.8 675.5 997.8 674.9 998.8 675.5 999.8 674.9 1000.8 675.5 1001.8 674.9 1002.8 675.5 1003.8 674.8 1004.8 675.6 1005.8 674.9 1006.8 675.5 1007.8 674.9 1008.8 675.6 1009.8 674.8 1010.8 675.4 1011.8 674.9 1012.8 675.5 1013.8 674.9 1014.8 675.6 1015.8 674.9 1016.8 675.5 1017.8 674.9 1018.8 675.5 1019.8 674.8 1020.8 675.5 1021.8 674.9 1022.8 675.5 1023.8 674.8 1024.8 675.6 1025.8 674.9 1026.8 675.6 1027.8 674.9 1028.8 675.6 1029.8 675.0 1030.8 675.6 1031.8 674.9" fill="none" stroke="#ff0000" stroke-width="2.00" stroke-linejoin="bevel"/><path d="M282.8 674.1 283.8 673.5 284.8 674.1 285.8 673.5 286.8 674.1 287.8 673.5 288.8 674.0 289.8 673.5 290.8 674.1 291.8 673.5 292.8 674.1 293.8 673.5 294.8 674.1 295.8 673.6 296.8 674.1 297.8 673.4 298.8 674.1 299.8 673.5 300.8 674.2 301.8 673.5 302.8 674.2 303.8 673.4 304.8 674.1 305.8 673.4 306.8 674.1 307.8 673.5 308.8 674.1 309.8 673.5 310.8 674.2 311.8 673.5 312.8 674.2 313.8 673.5 314.8 674.1 315.8 673.4 316.8 674.2 317.8 673.5 318.8 674.2 319.8 673.5 320.8 674.1 321.8 673.5 322.8 674.2 323.8 673.6 324.8 674.2 325.8 673.5 326.8 674.1 327.8 673.5 328.8 674.1 329.8 673.5 330.8 674.2 331.8 673.5 332.8 674.2 333.8 673.5 334.8 674.2 335.8 673.5 336.8 674.2 337.8 673.4 338.8 674.2 339.8 673.5 340.8 674.1 341.8 673.4 342.8 674.2 343.8 673.5 344.8 674.2 345.8 673.5 346.8 674.1 347.8 673.4 348.8 674.1 349.8 673.5 350.8 674.1 351.8 673.5 352.8 674.1 353.8 673.6 354.8 674.2 355.8 673.5 356.8 674.1 357.8 673.4 358.8 674.1 359.8 673.5 360.8 674.1 361.8 673.5 362.8 674.2 363.8 673.5 364.8 674.1 365.8 673.5 366.8 674.1 367.8 673.5 368.8 674.2 369.8 673.4 370.8 674.1 371.8 673.5 372.8 674.0 373.8 673.5 374.8 674.1 375.8 673.5 376.8 674.1 377.8 673.5 378.8 674.1 379.8 673.5 380.8 674.2 381.8 673.5 382.8 674.2 383.8 673.5 384.8 674.1 385.8 673.5 386.8 674.2 387.8 673.5 388.8 674.1 389.8 673.4 390.8 674.2 391.8 673.6 392.8 674.1 393.8 673.5 394.8 674.2 395.8 673.5 396.8 674.1 397.8 673.6 398.8 674.0 399.8 673.5 400.8 674.1 401.8 673.5 402.8 674.1 403.8 673.5 404.8 674.0 405.8 673.4 406.8 674.1 407.8 673.5 408.8 674.2 409.8 673.6 410.8 674.1 411.8 673.4 412.8 674.2 413.8 673.5 414.8 674.1 415.8 673.5 416.8 674.0 417.8 673.5 418.8 674.0 419.8 673.5 420.8 674.1 421.8 673.5 422.8 674.1 423.8 673.4 424.8 674.1 425.8 673.5 426.8 674.1 427.8 673.4 428.8 674.1 429.8 673.5 430.8 674.1 431.8 673.5 432.8 674.1 433.8 673.5 434.8 674.2 435.8 673.4 436.8 674.1 437.8 673.5 438.8 674.0 439.8 673.4 440.8 674.1 441.8 673.5 442.8 674.2 443.8 673.4 444.8 674.2 445.8 673.5 446.8 674.1 447.8 673.6 448.8 674.2 449.8 673.4 450.8 674.1 451.8 673.4 452.8 674.1 453.8 673.5 454.8 674.1 455.8 673.6 456.8 674.1 457.8 673.5 458.8 674.2 459.8 673.5 460.8 674.2 461.8 673.4 462.8 674.1 463.8 673.5 464.8 674.2 465.8 673.5 466.8 674.1 467.8 673.6 468.8 674.2 469.8 673.5 470.8 674.0 471.8 673.5 472.8 674.1 473.8 673.5 474.8 674.2 475.8 673.4 476.8 674.1 477.8 673.5 478.8 674.1 479.8 673.4 480.8 674.1 481.8 673.4 482.8 674.1 483.8 673.5 484.8 674.2 485.8 673.6 486.8 674.2 487.8 673.5 488.8 674.1 489.8 673.4 490.8 674.1 491.8 673.6 492.8 674.1 493.8 673.5 494.8 674.0 495.8 673.5 496.8 674.0 497.8 673.5 498.8 674.1 499.8 673.5 500.8 674.1 501.8 673.5 502.8 674.1 503.8 673.4 504.8 674.2 505.8 673.5 506.8 674.1 507.8 673.4 508.8 674.1 509.8 673.4 510.8 674.1 511.8 673.4 512.8 674.1 513.8 673.5 514.8 674.2 515.8 673.6 516.8 674.2 517.8 673.5 518.8 674.1 519.8 673.5 520.8 674.1 521.8 673.5 522.8 674.1 523.8 673.5 524.8 674.1 525.8 673.4 526.8 674.2 527.8 673.4 528.8 674.2 529.8 673.5 530.8 674.2 531.8 673.5 532.8 674.2 533.8 673.4 534.8 674.1 535.8 673.5 536.8 674.1 537.8 673.5 538.8 674.1 539.8 673.5 540.8 674.1 541.8 673.4 542.8 674.2 543.8 673.5 544.8 674.0 545.8 673.5 546.8 674.1 547.8 673.5 548.8 674.1 549.8 673.5 550.8 674.1 551.8 673.5 552.8 674.1 553.8 673.5 554.8 674.1 555.8 673.5 556.8 674.2 557.8 673.5 558.8 674.2 559.8 673.5 560.8 674.2 561.8 673.5 562.8 674.1 563.8 673.4 564.8 674.1 565.8 673.5 566.8 674.1 567.8 673.4 568.8 674.0 569.8 673.5 570.8 674.2 571.8 673.6 572.8 674.1 573.8 673.5 574.8 674.1 575.8 673.5 576.8 674.1 577.8 673.5 578.8 674.1 579.8 673.4 580.8 674.2 581.8 673.5 582.8 674.1 583.8 673.5 584.8 674.1 585.8 673.5 586.8 674.2 587.8 673.5 588.8 674.1 589.8 673.5 590.8 674.1 591.8 673.4 592.8 674.2 593.8 673.5 594.8 674.2 595.8 673.4 596.8 674.1 597.8 673.5 598.8 674.2 599.8 673.5 600.8 674.1 601.8 673.4 602.8 674.1 603.8 673.4 604.8 674.1 605.8 673.5 606.8 674.1 607.8 673.4 608.8 674.1 609.8 673.4 610.8 674.1 611.8 673.4 612.8 674.2 613.8 673.6 614.8 674.2 615.8 673.5 616.8 674.1 617.8 673.5 618.8 674.0 619.8 673.5 620.8 674.1 621.8 673.5 622.8 674.1 623.8 673.5 624.8 674.2 625.8 673.4 626.8 674.1 627.8 673.5 628.8 674.0 629.8 673.5 630.8 674.2 631.8 673.5 632.8 674.2 633.8 673.5 634.8 674.1 635.8 673.4 636.8 674.1 637.8 673.4 638.8 674.1 639.8 673.5 640.8 674.2 641.8 673.5 642.8 674.1 643.8 673.5 644.8 674.1 645.8 673.5 646.8 674.2 647.8 673.4 648.8 674.0 649.8 673.5 650.8 674.2 651.8 673.5 652.8 674.2 653.8 673.5 654.8 674.2 655.8 673.5 656.8 674.2 657.8 673.4 658.8 674.2 659.8 673.6 660.8 674.2 661.8 673.5 662.8 674.1 663.8 673.5 664.8 674.1 665.8 673.5 666.8 674.2 667.8 673.6 668.8 674.1 669.8 673.5 670.8 674.2 671.8 673.5 672.8 674.1 673.8 673.4 674.8 674.1 675.8 673.5 676.8 674.1 677.8 673.5 678.8 674.2 679.8 673.5 680.8 674.0 681.8 673.5 682.8 674.1 683.8 673.5 684.8 674.1 685.8 673.4 686.8 674.1 687.8 673.5 688.8 674.1 689.8 673.4 690.8 674.2 691.8 673.5 692.8 674.2 693.8 673.5 694.8 674.2 695.8 673.5 696.8 674.1 697.8 673.4 698.8 674.1 699.8 673.4 700.8 674.1 701.8 673.5 702.8 674.1 703.8 673.4 704.8 674.1 705.8 673.4 706.8 674.2 707.8 673.5 708.8 674.1 709.8 673.4 710.8 674.1 711.8 673.5 712.8 674.1 713.8 673.5 714.8 674.1 715.8 673.5 716.8 674.2 717.8 673.4 718.8 674.1 719.8 673.5 720.8 674.1 721.8 673.4 722.8 674.1 723.8 673.5 724.8 674.2 725.8 673.5 726.8 674.1 727.8 673.5 728.8 674.1 729.8 673.4 730.8 674.1 731.8 673.5 732.8 674.1 733.8 673.4 734.8 674.1 735.8 673.4 736.8 674.2 737.8 673.4 738.8 674.1 739.8 673.6 740.8 674.1 741.8 673.4 742.8 674.2 743.8 673.6 744.8 674.2 745.8 673.4 746.8 674.2 747.8 673.4 748.8 674.2 749.8 673.4 750.8 674.1 751.8 673.5 752.8 674.2 753.8 673.5 754.8 674.1 755.8 673.4 756.8 674.1 757.8 673.5 758.8 674.2 759.8 673.5 M787.8 673.5 788.8 674.1 789.8 673.5 790.8 674.2 791.8 673.4 792.8 674.2 793.8 673.5 794.8 674.1 795.8 673.4 796.8 674.2 797.8 673.6 798.8 674.2 799.8 673.5 800.8 674.1 801.8 673.5 802.8 674.1 803.8 673.4 804.8 674.1 805.8 673.5 806.8 674.2 807.8 673.5 808.8 674.1 809.8 673.5 810.8 674.1 811.8 673.5 812.8 674.1 813.8 673.5 814.8 674.1 815.8 673.5 816.8 674.2 817.8 673.4 818.8 674.1 819.8 673.5 820.8 674.2 821.8 673.5 822.8 674.1 823.8 673.5 824.8 674.1 825.8 673.4 826.8 674.1 827.8 673.4 828.8 674.1 829.8 673.4 830.8 674.1 831.8 673.4 832.8 674.1 833.8 673.4 834.8 674.1 835.8 673.5 836.8 674.1 837.8 673.5 838.8 674.0 839.8 673.4 840.8 674.2 841.8 673.5 842.8 674.1 843.8 673.5 844.8 674.1 845.8 673.5 846.8 674.1 847.8 673.5 848.8 674.1 849.8 673.5 850.8 674.2 851.8 673.5 852.8 674.2 853.8 673.5 854.8 674.1 855.8 673.5 856.8 674.1 857.8 673.4 858.8 674.2 859.8 673.6 860.8 674.2 861.8 673.5 862.8 674.2 863.8 673.5 864.8 674.1 865.8 673.5 866.8 674.1 867.8 673.4 868.8 674.1 869.8 673.5 870.8 674.1 871.8 673.5 872.8 674.1 873.8 673.5 874.8 674.1 875.8 673.5 876.8 674.0 877.8 673.5 878.8 674.1 879.8 673.5 880.8 674.1 881.8 673.5 882.8 674.2 883.8 673.5 884.8 674.1 885.8 673.5 886.8 674.1 887.8 673.4 888.8 674.1 889.8 673.5 890.8 674.1 891.8 673.5 892.8 674.1 893.8 673.5 894.8 674.2 895.8 673.4 896.8 674.1 897.8 673.4 898.8 674.1 899.8 673.5 900.8 674.1 901.8 673.5 902.8 674.2 903.8 673.4 904.8 674.1 905.8 673.5 906.8 674.2 907.8 673.4 908.8 674.1 909.8 673.4 910.8 674.2 911.8 673.4 912.8 674.1 913.8 673.5 914.8 674.1 915.8 673.5 916.8 674.2 917.8 673.5 918.8 674.1 919.8 673.6 920.8 674.2 921.8 673.5 922.8 674.2 923.8 673.5 924.8 674.1 925.8 673.5 926.8 674.1 927.8 673.5 928.8 674.1 929.8 673.4 930.8 674.1 931.8 673.5 932.8 674.1 933.8 673.5 934.8 674.2 935.8 673.4 936.8 674.2 937.8 673.4 938.8 674.1 939.8 673.5 940.8 674.2 941.8 673.4 942.8 674.2 943.8 673.4 944.8 674.2 945.8 673.5 946.8 674.1 947.8 673.5 948.8 674.1 949.8 673.5 950.8 674.1 951.8 673.5 952.8 674.1 953.8 673.5 954.8 674.2 955.8 673.5 956.8 674.1 957.8 673.4 958.8 674.1 959.8 673.5 960.8 674.1 961.8 673.5 962.8 674.2 963.8 673.5 964.8 674.2 965.8 673.4 966.8 674.1 967.8 673.4 968.8 674.1 969.8 673.5 970.8 674.1 971.8 673.5 972.8 674.1 973.8 673.5 974.8 674.2 975.8 673.5 976.8 674.1 977.8 673.4 978.8 674.1 979.8 673.4 980.8 674.2 981.8 673.5 982.8 674.1 983.8 673.5 984.8 674.1 985.8 673.5 986.8 674.1 987.8 673.5 988.8 674.2 989.8 673.5 990.8 674.2 991.8 673.4 992.8 674.1 993.8 673.5 994.8 674.1 995.8 673.6 996.8 674.2 997.8 673.5 998.8 674.1 999.8 673.5 1000.8 674.1 1001.8 673.5 1002.8 674.0 1003.8 673.4 1004.8 674.1 1005.8 673.4 1006.8 674.1 1007.8 673.5 1008.8 674.1 1009.8 673.5 1010.8 674.2 1011.8 673.4 1012.8 674.1 1013.8 673.5 1014.8 674.1 1015.8 673.5 1016.8 674.1 1017.8 673.5 1018.8 674.2 1019.8 673.4 1020.8 674.2 1021.8 673.4 1022.8 674.1 1023.8 673.5 1024.8 674.1 1025.8 673.5 1026.8 674.1 1027.8 673.4 1028.8 674.1 1029.8 673.5 1030.8 674.1 1031.8 673.5" fill="none" stroke="#c02000" stroke-width="1.40" stroke-linejoin="bevel"/><path d="M282.8 671.1 283.8 670.1 284.8 671.0 285.8 670.2 286.8 671.0 287.8 670.2 288.8 671.1 289.8 670.0 290.8 671.1 291.8 670.2 292.8 671.0 293.8 670.1 294.8 671.2 295.8 670.1 296.8 671.1 297.8 670.2 298.8 671.1 299.8 670.0 300.8 671.1 301.8 670.2 302.8 671.0 303.8 670.2 304.8 671.2 305.8 670.1 306.8 671.2 307.8 670.2 308.8 671.1 309.8 670.1 310.8 671.1 311.8 670.3 312.8 671.1 313.8 670.1 314.8 671.2 315.8 670.2 316.8 671.0 317.8 670.0 318.8 671.1 319.8 670.1 320.8 671.1 321.8 670.3 322.8 671.1 323.8 670.3 324.8 671.0 325.8 670.2 326.8 671.1 327.8 670.2 328.8 671.1 329.8 670.1 330.8 671.0 331.8 670.3 332.8 671.2 333.8 670.2 334.8 671.1 335.8 670.2 336.8 671.1 337.8 670.2 338.8 671.2 339.8 670.1 340.8 671.1 341.8 670.3 342.8 671.2 343.8 670.2 344.8 671.2 345.8 670.1 346.8 671.2 347.8 670.1 348.8 671.1 349.8 670.1 350.8 671.1 351.8 670.2 352.8 671.1 353.8 670.2 354.8 671.2 355.8 670.1 356.8 671.1 357.8 670.3 358.8 671.1 359.8 670.2 360.8 671.3 361.8 670.1 362.8 671.3 363.8 670.1 364.8 671.2 365.8 670.3 366.8 671.1 367.8 670.3 368.8 671.2 369.8 670.3 370.8 671.1 371.8 670.3 372.8 671.1 373.8 670.2 374.8 671.1 375.8 670.3 376.8 671.3 377.8 670.1 378.8 671.2 379.8 670.2 380.8 671.1 381.8 670.1 382.8 671.2 383.8 670.2 384.8 671.1 385.8 670.3 386.8 671.2 387.8 670.3 388.8 671.1 389.8 670.2 390.8 671.2 391.8 670.3 392.8 671.2 393.8 670.3 394.8 671.2 395.8 670.2 396.8 671.2 397.8 670.3 398.8 671.3 399.8 670.2 400.8 671.2 401.8 670.2 402.8 671.3 403.8 670.2 404.8 671.3 405.8 670.2 406.8 671.3 407.8 670.3 408.8 671.2 409.8 670.3 410.8 671.1 411.8 670.3 412.8 671.2 413.8 670.4 414.8 671.2 415.8 670.2 416.8 671.3 417.8 670.3 418.8 671.2 419.8 670.2 420.8 671.1 421.8 670.3 422.8 671.2 423.8 670.3 424.8 671.1 425.8 670.2 426.8 671.2 427.8 670.2 428.8 671.2 429.8 670.2 430.8 671.2 431.8 670.2 432.8 671.3 433.8 670.2 434.8 671.1 435.8 670.2 436.8 671.2 437.8 670.3 438.8 671.2 439.8 670.3 440.8 671.2 441.8 670.3 442.8 671.2 443.8 670.3 444.8 671.3 445.8 670.3 446.8 671.1 447.8 670.3 448.8 671.2 449.8 670.4 450.8 671.4 451.8 670.3 452.8 671.2 453.8 670.3 454.8 671.1 455.8 670.2 456.8 671.3 457.8 670.4 458.8 671.2 459.8 670.3 460.8 671.2 461.8 670.2 462.8 671.3 463.8 670.2 464.8 671.3 465.8 670.4 466.8 671.2 467.8 670.3 468.8 671.3 469.8 670.3 470.8 671.2 471.8 670.2 472.8 671.1 473.8 670.4 474.8 671.2 475.8 670.2 476.8 671.2 477.8 670.4 478.8 671.2 479.8 670.3 480.8 671.2 481.8 670.2 482.8 671.2 483.8 670.3 484.8 671.2 485.8 670.2 486.8 671.2 487.8 670.3 488.8 671.4 489.8 670.4 490.8 671.2 491.8 670.3 492.8 671.3 493.8 670.3 494.8 671.3 495.8 670.3 496.8 671.3 497.8 670.3 498.8 671.3 499.8 670.3 500.8 671.2 501.8 670.4 502.8 671.2 503.8 670.4 504.8 671.4 505.8 670.4 506.8 671.2 507.8 670.3 508.8 671.2 509.8 670.4 510.8 671.3 511.8 670.3 512.8 671.3 513.8 670.2 514.8 671.4 515.8 670.4 516.8 671.3 517.8 670.4 518.8 671.2 519.8 670.2 520.8 671.2 521.8 670.4 522.8 671.3 523.8 670.3 524.8 671.2 525.8 670.2 526.8 671.3 527.8 670.3 528.8 671.2 529.8 670.3 530.8 671.2 531.8 670.4 532.8 671.4 533.8 670.2 534.8 671.4 535.8 670.3 536.8 671.2 537.8 670.5 538.8 671.3 539.8 670.5 540.8 671.4 541.8 670.5 542.8 671.3 543.8 670.4 544.8 671.2 545.8 670.4 546.8 671.2 547.8 670.3 548.8 671.4 549.8 670.4 550.8 671.4 551.8 670.3 552.8 671.3 553.8 670.3 554.8 671.4 555.8 670.3 556.8 671.3 557.8 670.3 558.8 671.4 559.8 670.4 560.8 671.2 561.8 670.3 562.8 671.4 563.8 670.4 564.8 671.4 565.8 670.4 566.8 671.4 567.8 670.4 568.8 671.3 569.8 670.5 570.8 671.3 571.8 670.3 572.8 671.3 573.8 670.4 574.8 671.5 575.8 670.5 576.8 671.3 577.8 670.3 578.8 671.3 579.8 670.3 580.8 671.4 581.8 670.5 582.8 671.4 583.8 670.4 584.8 671.4 585.8 670.4 586.8 671.3 587.8 670.5 588.8 671.3 589.8 670.5 590.8 671.5 591.8 670.3 592.8 671.3 593.8 670.4 594.8 671.4 595.8 670.5 596.8 671.3 597.8 670.3 598.8 671.3 599.8 670.4 600.8 671.5 601.8 670.5 602.8 671.5 603.8 670.5 604.8 671.4 605.8 670.4 606.8 671.5 607.8 670.3 608.8 671.4 609.8 670.3 610.8 671.3 611.8 670.4 612.8 671.3 613.8 670.5 614.8 671.4 615.8 670.4 616.8 671.5 617.8 670.6 618.8 671.5 619.8 670.5 620.8 671.3 621.8 670.4 622.8 671.5 623.8 670.4 624.8 671.4 625.8 670.5 626.8 671.5 627.8 670.5 628.8 671.5 629.8 670.4 630.8 671.4 631.8 670.4 632.8 671.4 633.8 670.4 634.8 671.4 635.8 670.5 636.8 671.4 637.8 670.4 638.8 671.4 639.8 670.5 640.8 671.5 641.8 670.3 642.8 671.3 643.8 670.4 644.8 671.4 645.8 670.6 646.8 671.5 647.8 670.5 648.8 671.5 649.8 670.4 650.8 671.4 651.8 670.6 652.8 671.5 653.8 670.4 654.8 671.5 655.8 670.5 656.8 671.5 657.8 670.4 658.8 671.4 659.8 670.5 660.8 671.4 661.8 670.6 662.8 671.4 663.8 670.5 664.8 671.3 665.8 670.4 666.8 671.4 667.8 670.5 668.8 671.4 669.8 670.5 670.8 671.5 671.8 670.5 672.8 671.5 673.8 670.5 674.8 671.5 675.8 670.4 676.8 671.4 677.8 670.5 678.8 671.5 679.8 670.6 680.8 671.6 681.8 670.5 682.8 671.4 683.8 670.4 684.8 671.5 685.8 670.5 686.8 671.6 687.8 670.6 688.8 671.5 689.8 670.4 690.8 671.6 691.8 670.5 692.8 671.5 693.8 670.5 694.8 671.5 695.8 670.5 696.8 671.6 697.8 670.4 698.8 671.5 699.8 670.4 700.8 671.4 701.8 670.4 702.8 671.5 703.8 670.4 704.8 671.4 705.8 670.5 706.8 671.5 707.8 670.6 708.8 671.4 709.8 670.5 710.8 671.6 711.8 670.6 712.8 671.5 713.8 670.6 714.8 671.4 715.8 670.5 716.8 671.5 717.8 670.4 718.8 671.6 719.8 670.6 720.8 671.5 721.8 670.5 722.8 671.4 723.8 670.4 724.8 671.6 725.8 670.5 726.8 671.6 727.8 670.6 728.8 671.4 729.8 670.5 730.8 671.4 731.8 670.5 732.8 671.5 733.8 670.6 734.8 671.5 735.8 670.5 736.8 671.4 737.8 670.6 738.8 671.5 739.8 670.4 740.8 671.6 741.8 670.5 742.8 671.4 743.8 670.5 744.8 671.4 745.8 670.5 746.8 671.4 747.8 670.6 748.8 671.5 749.8 670.6 750.8 671.5 751.8 670.5 752.8 671.5 753.8 670.4 754.8 671.6 755.8 670.5 756.8 671.6 757.8 670.5 758.8 671.6 759.8 670.6 M787.8 670.5 788.8 671.5 789.8 670.5 790.8 671.4 791.8 670.6 792.8 671.4 793.8 670.5 794.8 671.5 795.8 670.4 796.8 671.4 797.8 670.4 798.8 671.5 799.8 670.4 800.8 671.5 801.8 670.5 802.8 671.6 803.8 670.5 804.8 671.5 805.8 670.6 806.8 671.5 807.8 670.6 808.8 671.4 809.8 670.6 810.8 671.5 811.8 670.6 812.8 671.5 813.8 670.6 814.8 671.4 815.8 670.4 816.8 671.4 817.8 670.5 818.8 671.4 819.8 670.6 820.8 671.5 821.8 670.5 822.8 671.4 823.8 670.4 824.8 671.6 825.8 670.5 826.8 671.4 827.8 670.6 828.8 671.4 829.8 670.6 830.8 671.6 831.8 670.6 832.8 671.5 833.8 670.5 834.8 671.4 835.8 670.6 836.8 671.5 837.8 670.5 838.8 671.4 839.8 670.4 840.8 671.4 841.8 670.5 842.8 671.4 843.8 670.5 844.8 671.4 845.8 670.6 846.8 671.5 847.8 670.5 848.8 671.5 849.8 670.5 850.8 671.5 851.8 670.6 852.8 671.5 853.8 670.6 854.8 671.4 855.8 670.5 856.8 671.4 857.8 670.6 858.8 671.5 859.8 670.5 860.8 671.4 861.8 670.5 862.8 671.4 863.8 670.5 864.8 671.5 865.8 670.4 866.8 671.4 867.8 670.4 868.8 671.6 869.8 670.6 870.8 671.5 871.8 670.4 872.8 671.5 873.8 670.6 874.8 671.5 875.8 670.4 876.8 671.4 877.8 670.5 878.8 671.4 879.8 670.4 880.8 671.5 881.8 670.6 882.8 671.5 883.8 670.5 884.8 671.4 885.8 670.5 886.8 671.5 887.8 670.6 888.8 671.5 889.8 670.4 890.8 671.5 891.8 670.5 892.8 671.4 893.8 670.6 894.8 671.6 895.8 670.5 896.8 671.6 897.8 670.5 898.8 671.5 899.8 670.5 900.8 671.5 901.8 670.6 902.8 671.5 903.8 670.5 904.8 671.5 905.8 670.6 906.8 671.4 907.8 670.6 908.8 671.4 909.8 670.4 910.8 671.5 911.8 670.5 912.8 671.5 913.8 670.6 914.8 671.5 915.8 670.4 916.8 671.5 917.8 670.5 918.8 671.4 919.8 670.6 920.8 671.5 921.8 670.5 922.8 671.4 923.8 670.6 924.8 671.5 925.8 670.6 926.8 671.5 927.8 670.6 928.8 671.5 929.8 670.6 930.8 671.5 931.8 670.4 932.8 671.5 933.8 670.5 934.8 671.4 935.8 670.4 936.8 671.5 937.8 670.4 938.8 671.6 939.8 670.5 940.8 671.6 941.8 670.5 942.8 671.5 943.8 670.6 944.8 671.6 945.8 670.4 946.8 671.4 947.8 670.6 948.8 671.5 949.8 670.5 950.8 671.4 951.8 670.4 952.8 671.4 953.8 670.4 954.8 671.5 955.8 670.5 956.8 671.4 957.8 670.6 958.8 671.4 959.8 670.5 960.8 671.5 961.8 670.4 962.8 671.4 963.8 670.4 964.8 671.4 965.8 670.4 966.8 671.6 967.8 670.6 968.8 671.6 969.8 670.5 970.8 671.5 971.8 670.4 972.8 671.5 973.8 670.5 974.8 671.4 975.8 670.4 976.8 671.6 977.8 670.6 978.8 671.5 979.8 670.6 980.8 671.4 981.8 670.6 982.8 671.5 983.8 670.6 984.8 671.4 985.8 670.6 986.8 671.4 987.8 670.5 988.8 671.4 989.8 670.5 990.8 671.5 991.8 670.6 992.8 671.4 993.8 670.4 994.8 671.6 995.8 670.4 996.8 671.4 997.8 670.5 998.8 671.5 999.8 670.6 1000.8 671.5 1001.8 670.4 1002.8 671.6 1003.8 670.5 1004.8 671.4 1005.8 670.4 1006.8 671.6 1007.8 670.5 1008.8 671.4 1009.8 670.5 1010.8 671.5 1011.8 670.5 1012.8 671.4 1013.8 670.6 1014.8 671.4 1015.8 670.6 1016.8 671.4 1017.8 670.4 1018.8 671.4 1019.8 670.5 1020.8 671.5 1021.8 670.5 1022.8 671.5 1023.8 670.6 1024.8 671.5 1025.8 670.5 1026.8 671.5 1027.8 670.5 1028.8 671.6 1029.8 670.4 1030.8 671.5 1031.8 670.5" fill="none" stroke="#406000" stroke-width="1.90" stroke-linejoin="bevel"/><path d="M282.8 673.2 283.8 672.3 284.8 673.2 285.8 672.3 286.8 673.2 287.8 672.3 288.8 673.1 289.8 672.4 290.8 673.1 291.8 672.5 292.8 673.3 293.8 672.5 294.8 673.2 295.8 672.5 296.8 673.3 297.8 672.5 298.8 673.2 299.8 672.3 300.8 673.2 301.8 672.4 302.8 673.3 303.8 672.5 304.8 673.2 305.8 672.4 306.8 673.3 307.8 672.4 308.8 673.1 309.8 672.5 310.8 673.3 311.8 672.4 312.8 673.2 313.8 672.5 314.8 673.2 315.8 672.5 316.8 673.3 317.8 672.4 318.8 673.3 319.8 672.5 320.8 673.2 321.8 672.5 322.8 673.3 323.8 672.4 324.8 673.2 325.8 672.3 326.8 673.3 327.8 672.5 328.8 673.3 329.8 672.4 330.8 673.3 331.8 672.5 332.8 673.3 333.8 672.5 334.8 673.3 335.8 672.5 336.8 673.2 337.8 672.4 338.8 673.1 339.8 672.5 340.8 673.1 341.8 672.4 342.8 673.2 343.8 672.4 344.8 673.2 345.8 672.5 346.8 673.3 347.8 672.4 348.8 673.3 349.8 672.4 350.8 673.3 351.8 672.5 352.8 673.1 353.8 672.4 354.8 673.2 355.8 672.5 356.8 673.3 357.8 672.4 358.8 673.2 359.8 672.5 360.8 673.3 361.8 672.4 362.8 673.2 363.8 672.3 364.8 673.3 365.8 672.4 366.8 673.3 367.8 672.4 368.8 673.2 369.8 672.4 370.8 673.2 371.8 672.4 372.8 673.2 373.8 672.5 374.8 673.3 375.8 672.5 376.8 673.3 377.8 672.4 378.8 673.3 379.8 672.4 380.8 673.3 381.8 672.4 382.8 673.3 383.8 672.4 384.8 673.2 385.8 672.5 386.8 673.2 387.8 672.5 388.8 673.2 389.8 672.4 390.8 673.2 391.8 672.5 392.8 673.3 393.8 672.5 394.8 673.2 395.8 672.4 396.8 673.3 397.8 672.5 398.8 673.2 399.8 672.5 400.8 673.4 401.8 672.4 402.8 673.2 403.8 672.4 404.8 673.2 405.8 672.4 406.8 673.2 407.8 672.5 408.8 673.2 409.8 672.5 410.8 673.3 411.8 672.4 412.8 673.3 413.8 672.4 414.8 673.2 415.8 672.5 416.8 673.3 417.8 672.4 418.8 673.3 419.8 672.4 420.8 673.4 421.8 672.4 422.8 673.2 423.8 672.4 424.8 673.2 425.8 672.5 426.8 673.3 427.8 672.5 428.8 673.2 429.8 672.4 430.8 673.3 431.8 672.4 432.8 673.2 433.8 672.5 434.8 673.3 435.8 672.4 436.8 673.3 437.8 672.5 438.8 673.3 439.8 672.4 440.8 673.3 441.8 672.4 442.8 673.3 443.8 672.5 444.8 673.4 445.8 672.4 446.8 673.3 447.8 672.5 448.8 673.2 449.8 672.5 450.8 673.4 451.8 672.4 452.8 673.3 453.8 672.4 454.8 673.3 455.8 672.5 456.8 673.3 457.8 672.5 458.8 673.2 459.8 672.5 460.8 673.2 461.8 672.5 462.8 673.2 463.8 672.4 464.8 673.2 465.8 672.5 466.8 673.3 467.8 672.6 468.8 673.3 469.8 672.5 470.8 673.3 471.8 672.4 472.8 673.3 473.8 672.6 474.8 673.4 475.8 672.5 476.8 673.3 477.8 672.6 478.8 673.3 479.8 672.5 480.8 673.4 481.8 672.4 482.8 673.2 483.8 672.4 484.8 673.3 485.8 672.5 486.8 673.4 487.8 672.5 488.8 673.4 489.8 672.4 490.8 673.4 491.8 672.5 492.8 673.3 493.8 672.6 494.8 673.3 495.8 672.4 496.8 673.2 497.8 672.5 498.8 673.3 499.8 672.6 500.8 673.4 501.8 672.5 502.8 673.3 503.8 672.6 504.8 673.4 505.8 672.5 506.8 673.3 507.8 672.6 508.8 673.3 509.8 672.5 510.8 673.4 511.8 672.5 512.8 673.3 513.8 672.6 514.8 673.2 515.8 672.4 516.8 673.4 517.8 672.5 518.8 673.4 519.8 672.5 520.8 673.3 521.8 672.5 522.8 673.3 523.8 672.5 524.8 673.3 525.8 672.5 526.8 673.3 527.8 672.6 528.8 673.3 529.8 672.6 530.8 673.3 531.8 672.5 532.8 673.3 533.8 672.5 534.8 673.3 535.8 672.6 536.8 673.3 537.8 672.4 538.8 673.4 539.8 672.6 540.8 673.2 541.8 672.4 542.8 673.4 543.8 672.5 544.8 673.4 545.8 672.5 546.8 673.4 547.8 672.6 548.8 673.3 549.8 672.5 550.8 673.3 551.8 672.5 552.8 673.3 553.8 672.5 554.8 673.4 555.8 672.5 556.8 673.4 557.8 672.5 558.8 673.4 559.8 672.6 560.8 673.3 561.8 672.5 562.8 673.4 563.8 672.5 564.8 673.4 565.8 672.6 566.8 673.4 567.8 672.5 568.8 673.4 569.8 672.5 570.8 673.4 571.8 672.6 572.8 673.4 573.8 672.5 574.8 673.3 575.8 672.6 576.8 673.2 577.8 672.6 578.8 673.4 579.8 672.6 580.8 673.3 581.8 672.6 582.8 673.3 583.8 672.5 584.8 673.4 585.8 672.5 586.8 673.4 587.8 672.5 588.8 673.3 589.8 672.6 590.8 673.4 591.8 672.6 592.8 673.4 593.8 672.6 594.8 673.4 595.8 672.6 596.8 673.3 597.8 672.6 598.8 673.4 599.8 672.5 600.8 673.4 601.8 672.6 602.8 673.3 603.8 672.5 604.8 673.4 605.8 672.5 606.8 673.5 607.8 672.5 608.8 673.3 609.8 672.5 610.8 673.3 611.8 672.6 612.8 673.3 613.8 672.5 614.8 673.4 615.8 672.5 616.8 673.3 617.8 672.5 618.8 673.4 619.8 672.5 620.8 673.4 621.8 672.5 622.8 673.4 623.8 672.6 624.8 673.3 625.8 672.5 626.8 673.3 627.8 672.6 628.8 673.3 629.8 672.6 630.8 673.3 631.8 672.7 632.8 673.4 633.8 672.6 634.8 673.4 635.8 672.5 636.8 673.4 637.8 672.5 638.8 673.4 639.8 672.5 640.8 673.3 641.8 672.6 642.8 673.5 643.8 672.6 644.8 673.5 645.8 672.6 646.8 673.3 647.8 672.5 648.8 673.4 649.8 672.6 650.8 673.5 651.8 672.6 652.8 673.5 653.8 672.6 654.8 673.3 655.8 672.6 656.8 673.4 657.8 672.6 658.8 673.5 659.8 672.7 660.8 673.3 661.8 672.6 662.8 673.4 663.8 672.5 664.8 673.4 665.8 672.6 666.8 673.4 667.8 672.7 668.8 673.3 669.8 672.5 670.8 673.3 671.8 672.5 672.8 673.4 673.8 672.6 674.8 673.3 675.8 672.6 676.8 673.3 677.8 672.6 678.8 673.4 679.8 672.6 680.8 673.4 681.8 672.7 682.8 673.3 683.8 672.5 684.8 673.3 685.8 672.5 686.8 673.4 687.8 672.5 688.8 673.4 689.8 672.6 690.8 673.4 691.8 672.5 692.8 673.4 693.8 672.7 694.8 673.3 695.8 672.5 696.8 673.4 697.8 672.7 698.8 673.4 699.8 672.5 700.8 673.4 701.8 672.7 702.8 673.4 703.8 672.6 704.8 673.3 705.8 672.5 706.8 673.4 707.8 672.7 708.8 673.5 709.8 672.5 710.8 673.5 711.8 672.6 712.8 673.3 713.8 672.6 714.8 673.4 715.8 672.5 716.8 673.5 717.8 672.5 718.8 673.4 719.8 672.6 720.8 673.3 721.8 672.6 722.8 673.3 723.8 672.7 724.8 673.3 725.8 672.6 726.8 673.4 727.8 672.6 728.8 673.3 729.8 672.7 730.8 673.4 731.8 672.6 732.8 673.4 733.8 672.6 734.8 673.4 735.8 672.6 736.8 673.4 737.8 672.7 738.8 673.3 739.8 672.6 740.8 673.3 741.8 672.6 742.8 673.4 743.8 672.6 744.8 673.5 745.8 672.6 746.8 673.4 747.8 672.6 748.8 673.5 749.8 672.6 750.8 673.4 751.8 672.5 752.8 673.4 753.8 672.5 754.8 673.4 755.8 672.5 756.8 673.4 757.8 672.6 758.8 673.5 759.8 672.7 M787.8 672.7 788.8 673.4 789.8 672.7 790.8 673.5 791.8 672.6 792.8 673.3 793.8 672.7 794.8 673.4 795.8 672.6 796.8 673.4 797.8 672.6 798.8 673.4 799.8 672.5 800.8 673.4 801.8 672.5 802.8 673.4 803.8 672.6 804.8 673.4 805.8 672.6 806.8 673.4 807.8 672.6 808.8 673.3 809.8 672.6 810.8 673.5 811.8 672.6 812.8 673.5 813.8 672.5 814.8 673.4 815.8 672.7 816.8 673.5 817.8 672.6 818.8 673.4 819.8 672.5 820.8 673.4 821.8 672.7 822.8 673.3 823.8 672.7 824.8 673.4 825.8 672.5 826.8 673.3 827.8 672.7 828.8 673.4 829.8 672.6 830.8 673.4 831.8 672.5 832.8 673.5 833.8 672.5 834.8 673.5 835.8 672.7 836.8 673.3 837.8 672.6 838.8 673.5 839.8 672.7 840.8 673.4 841.8 672.6 842.8 673.4 843.8 672.6 844.8 673.4 845.8 672.7 846.8 673.3 847.8 672.6 848.8 673.4 849.8 672.6 850.8 673.4 851.8 672.5 852.8 673.4 853.8 672.5 854.8 673.4 855.8 672.6 856.8 673.5 857.8 672.6 858.8 673.4 859.8 672.6 860.8 673.3 861.8 672.6 862.8 673.3 863.8 672.7 864.8 673.4 865.8 672.5 866.8 673.5 867.8 672.6 868.8 673.3 869.8 672.6 870.8 673.4 871.8 672.6 872.8 673.5 873.8 672.6 874.8 673.4 875.8 672.6 876.8 673.4 877.8 672.6 878.8 673.5 879.8 672.5 880.8 673.5 881.8 672.5 882.8 673.3 883.8 672.6 884.8 673.5 885.8 672.6 886.8 673.4 887.8 672.7 888.8 673.3 889.8 672.6 890.8 673.3 891.8 672.6 892.8 673.3 893.8 672.5 894.8 673.4 895.8 672.6 896.8 673.5 897.8 672.6 898.8 673.3 899.8 672.7 900.8 673.4 901.8 672.7 902.8 673.3 903.8 672.6 904.8 673.4 905.8 672.6 906.8 673.4 907.8 672.6 908.8 673.3 909.8 672.6 910.8 673.4 911.8 672.5 912.8 673.3 913.8 672.6 914.8 673.3 915.8 672.6 916.8 673.5 917.8 672.7 918.8 673.5 919.8 672.6 920.8 673.3 921.8 672.5 922.8 673.4 923.8 672.5 924.8 673.3 925.8 672.6 926.8 673.4 927.8 672.5 928.8 673.5 929.8 672.6 930.8 673.3 931.8 672.6 932.8 673.4 933.8 672.5 934.8 673.4 935.8 672.6 936.8 673.4 937.8 672.5 938.8 673.3 939.8 672.5 940.8 673.4 941.8 672.6 942.8 673.4 943.8 672.6 944.8 673.3 945.8 672.6 946.8 673.3 947.8 672.7 948.8 673.4 949.8 672.5 950.8 673.3 951.8 672.6 952.8 673.5 953.8 672.5 954.8 673.5 955.8 672.6 956.8 673.4 957.8 672.6 958.8 673.4 959.8 672.6 960.8 673.4 961.8 672.7 962.8 673.3 963.8 672.6 964.8 673.5 965.8 672.6 966.8 673.3 967.8 672.5 968.8 673.3 969.8 672.5 970.8 673.4 971.8 672.6 972.8 673.4 973.8 672.5 974.8 673.3 975.8 672.7 976.8 673.4 977.8 672.6 978.8 673.4 979.8 672.6 980.8 673.3 981.8 672.5 982.8 673.4 983.8 672.7 984.8 673.4 985.8 672.6 986.8 673.4 987.8 672.6 988.8 673.5 989.8 672.7 990.8 673.5 991.8 672.6 992.8 673.3 993.8 672.6 994.8 673.4 995.8 672.5 996.8 673.4 997.8 672.7 998.8 673.4 999.8 672.6 1000.8 673.5 1001.8 672.7 1002.8 673.5 1003.8 672.5 1004.8 673.3 1005.8 672.6 1006.8 673.3 1007.8 672.6 1008.8 673.3 1009.8 672.5 1010.8 673.3 1011.8 672.6 1012.8 673.4 1013.8 672.6 1014.8 673.3 1015.8 672.5 1016.8 673.3 1017.8 672.6 1018.8 673.4 1019.8 672.6 1020.8 673.4 1021.8 672.7 1022.8 673.4 1023.8 672.6 1024.8 673.4 1025.8 672.6 1026.8 673.4 1027.8 672.7 1028.8 673.4 1029.8 672.6 1030.8 673.4 1031.8 672.5" fill="none" stroke="#804000" stroke-width="2.20" stroke-linejoin="bevel"/><path d="M282.8 657.0 283.8 656.2 284.8 657.2 285.8 656.2 286.8 657.2 287.8 656.4 288.8 657.2 289.8 656.4 290.8 657.2 291.8 656.3 292.8 657.2 293.8 656.4 294.8 657.1 295.8 656.4 296.8 657.2 297.8 656.5 298.8 657.3 299.8 656.4 300.8 657.4 301.8 656.5 302.8 657.3 303.8 656.6 304.8 657.5 305.8 656.7 306.8 657.6 307.8 656.7 308.8 657.5 309.8 656.7 310.8 657.6 311.8 656.8 312.8 657.6 313.8 656.8 314.8 657.6 315.8 657.0 316.8 657.7 317.8 657.1 318.8 657.8 319.8 657.1 320.8 658.0 321.8 657.3 322.8 658.0 323.8 657.2 324.8 658.1 325.8 657.3 326.8 658.3 327.8 657.6 328.8 658.4 329.8 657.6 330.8 658.5 331.8 657.7 332.8 658.7 333.8 657.8 334.8 658.7 335.8 657.9 336.8 658.8 337.8 658.2 338.8 658.9 339.8 658.2 340.8 659.1 341.8 658.3 342.8 659.1 343.8 658.3 344.8 659.2 345.8 658.5 346.8 659.3 347.8 658.5 348.8 659.2 349.8 658.5 350.8 659.4 351.8 658.4 352.8 659.3 353.8 658.5 354.8 659.4 355.8 658.7 356.8 659.4 357.8 658.6 358.8 659.4 359.8 658.7 360.8 659.5 361.8 658.7 362.8 659.5 363.8 658.7 364.8 659.6 365.8 658.7 366.8 659.5 367.8 658.7 368.8 659.5 369.8 658.7 370.8 659.5 371.8 658.7 372.8 659.6 373.8 658.7 374.8 659.6 375.8 658.9 376.8 659.7 377.8 658.8 378.8 659.6 379.8 659.0 380.8 659.6 381.8 658.8 382.8 659.6 383.8 659.0 384.8 659.6 385.8 658.8 386.8 659.7 387.8 658.9 388.8 659.8 389.8 658.9 390.8 659.8 391.8 658.9 392.8 659.8 393.8 659.0 394.8 659.7 395.8 658.9 396.8 659.7 397.8 659.0 398.8 659.9 399.8 659.0 400.8 659.7 401.8 659.0 402.8 659.8 403.8 659.1 404.8 659.8 405.8 659.0 406.8 659.8 407.8 658.9 408.8 659.9 409.8 659.1 410.8 659.9 411.8 659.2 412.8 659.8 413.8 659.0 414.8 659.9 415.8 659.1 416.8 659.9 417.8 659.0 418.8 659.9 419.8 659.2 420.8 659.8 421.8 659.1 422.8 659.8 423.8 659.2 424.8 659.9 425.8 659.1 426.8 659.8 427.8 659.1 428.8 659.9 429.8 659.1 430.8 660.0 431.8 659.1 432.8 659.9 433.8 659.1 434.8 659.9 435.8 659.2 436.8 660.0 437.8 659.2 438.8 659.9 439.8 659.1 440.8 659.9 441.8 659.2 442.8 660.1 443.8 659.2 444.8 659.9 445.8 659.1 446.8 659.9 447.8 659.2 448.8 660.1 449.8 659.2 450.8 660.1 451.8 659.1 452.8 660.1 453.8 659.3 454.8 660.0 455.8 659.2 456.8 660.1 457.8 659.3 458.8 660.0 459.8 659.3 460.8 660.0 461.8 659.3 462.8 660.0 463.8 659.2 464.8 660.0 465.8 659.3 466.8 660.0 467.8 659.3 468.8 660.0 469.8 659.2 470.8 660.1 471.8 659.4 472.8 660.1 473.8 659.2 474.8 660.2 475.8 659.3 476.8 660.1 477.8 659.3 478.8 660.1 479.8 659.3 480.8 660.2 481.8 659.4 482.8 660.2 483.8 659.3 484.8 660.2 485.8 659.4 486.8 660.1 487.8 659.5 488.8 660.3 489.8 659.4 490.8 660.3 491.8 659.4 492.8 660.3 493.8 659.5 494.8 660.3 495.8 659.6 496.8 660.4 497.8 659.6 498.8 660.5 499.8 659.5 500.8 660.3 501.8 659.6 502.8 660.5 503.8 659.8 504.8 660.5 505.8 659.7 506.8 660.6 507.8 659.7 508.8 660.6 509.8 659.9 510.8 660.7 511.8 659.9 512.8 660.6 513.8 660.0 514.8 660.7 515.8 660.0 516.8 660.8 517.8 660.0 518.8 660.9 519.8 660.1 520.8 660.9 521.8 660.1 522.8 661.0 523.8 660.1 524.8 660.9 525.8 660.1 526.8 661.0 527.8 660.3 528.8 661.1 529.8 660.3 530.8 661.2 531.8 660.4 532.8 661.3 533.8 660.4 534.8 661.3 535.8 660.4 536.8 661.2 537.8 660.6 538.8 661.3 539.8 660.5 540.8 661.3 541.8 660.6 542.8 661.3 543.8 660.6 544.8 661.4 545.8 660.6 546.8 661.4 547.8 660.6 548.8 661.6 549.8 660.8 550.8 661.6 551.8 660.8 552.8 661.6 553.8 660.8 554.8 661.7 555.8 661.0 556.8 661.8 557.8 661.0 558.8 661.7 559.8 661.0 560.8 661.8 561.8 661.0 562.8 661.8 563.8 661.1 564.8 662.0 565.8 661.0 566.8 661.9 567.8 661.2 568.8 662.0 569.8 661.2 570.8 662.0 571.8 661.2 572.8 661.9 573.8 661.2 574.8 662.1 575.8 661.3 576.8 662.0 577.8 661.3 578.8 662.1 579.8 661.3 580.8 662.2 581.8 661.4 582.8 662.2 583.8 661.4 584.8 662.1 585.8 661.4 586.8 662.2 587.8 661.3 588.8 662.2 589.8 661.5 590.8 662.4 591.8 661.5 592.8 662.4 593.8 661.6 594.8 662.3 595.8 661.6 596.8 662.4 597.8 661.5 598.8 662.3 599.8 661.7 600.8 662.4 601.8 661.7 602.8 662.4 603.8 661.6 604.8 662.4 605.8 661.7 606.8 662.4 607.8 661.7 608.8 662.6 609.8 661.8 610.8 662.6 611.8 661.8 612.8 662.6 613.8 661.7 614.8 662.5 615.8 661.7 616.8 662.7 617.8 661.8 618.8 662.6 619.8 661.9 620.8 662.6 621.8 661.8 622.8 662.7 623.8 661.9 624.8 662.6 625.8 661.9 626.8 662.7 627.8 661.9 628.8 662.8 629.8 661.9 630.8 662.8 631.8 661.9 632.8 662.8 633.8 661.9 634.8 662.7 635.8 662.0 636.8 662.7 637.8 662.0 638.8 662.8 639.8 662.0 640.8 662.8 641.8 662.0 642.8 662.9 643.8 662.0 644.8 662.9 645.8 662.1 646.8 662.9 647.8 662.2 648.8 662.8 649.8 662.1 650.8 663.0 651.8 662.1 652.8 662.9 653.8 662.1 654.8 663.0 655.8 662.1 656.8 662.9 657.8 662.1 658.8 663.0 659.8 662.1 660.8 663.1 661.8 662.1 662.8 663.1 663.8 662.1 664.8 663.1 665.8 662.2 666.8 663.0 667.8 662.2 668.8 663.1 669.8 662.2 670.8 663.0 671.8 662.3 672.8 663.1 673.8 662.2 674.8 663.1 675.8 662.3 676.8 663.1 677.8 662.3 678.8 663.0 679.8 662.4 680.8 663.1 681.8 662.3 682.8 663.2 683.8 662.4 684.8 663.2 685.8 662.3 686.8 663.1 687.8 662.3 688.8 663.0 689.8 662.2 690.8 663.2 691.8 662.2 692.8 663.0 693.8 662.3 694.8 663.1 695.8 662.2 696.8 663.0 697.8 662.4 698.8 663.1 699.8 662.3 700.8 663.0 701.8 662.4 702.8 663.1 703.8 662.2 704.8 663.1 705.8 662.2 706.8 662.9 707.8 662.1 708.8 663.1 709.8 662.1 710.8 663.0 711.8 662.2 712.8 662.9 713.8 662.1 714.8 662.9 715.8 662.1 716.8 663.0 717.8 662.1 718.8 662.9 719.8 662.0 720.8 662.9 721.8 662.0 722.8 662.8 723.8 662.1 724.8 662.9 725.8 661.9 726.8 662.8 727.8 662.0 728.8 662.6 729.8 661.8 730.8 662.8 731.8 661.9 732.8 662.7 733.8 661.9 734.8 662.6 735.8 661.8 736.8 662.5 737.8 661.7 738.8 662.6 739.8 661.8 740.8 662.5 741.8 661.7 742.8 662.4 743.8 661.7 744.8 662.4 745.8 661.5 746.8 662.4 747.8 661.7 748.8 662.2 749.8 661.4 750.8 662.3 751.8 661.5 752.8 662.2 753.8 661.4 754.8 662.2 755.8 661.4 756.8 662.1 757.8 661.3 758.8 662.1 759.8 661.4 M787.8 660.6 788.8 661.5 789.8 660.7 790.8 661.5 791.8 660.7 792.8 661.4 793.8 660.7 794.8 661.4 795.8 660.7 796.8 661.5 797.8 660.7 798.8 661.5 799.8 660.7 800.8 661.4 801.8 660.7 802.8 661.5 803.8 660.7 804.8 661.5 805.8 660.7 806.8 661.5 807.8 660.6 808.8 661.4 809.8 660.7 810.8 661.4 811.8 660.7 812.8 661.4 813.8 660.7 814.8 661.5 815.8 660.8 816.8 661.4 817.8 660.6 818.8 661.5 819.8 660.8 820.8 661.5 821.8 660.8 822.8 661.6 823.8 660.8 824.8 661.6 825.8 660.9 826.8 661.7 827.8 660.9 828.8 661.6 829.8 660.8 830.8 661.6 831.8 660.8 832.8 661.6 833.8 660.9 834.8 661.7 835.8 660.9 836.8 661.8 837.8 660.9 838.8 661.7 839.8 660.9 840.8 661.8 841.8 661.0 842.8 661.8 843.8 660.9 844.8 661.7 845.8 661.1 846.8 661.9 847.8 661.0 848.8 661.8 849.8 661.1 850.8 661.9 851.8 661.0 852.8 661.9 853.8 661.0 854.8 661.9 855.8 661.0 856.8 661.9 857.8 661.0 858.8 661.9 859.8 661.1 860.8 662.0 861.8 661.2 862.8 661.9 863.8 661.2 864.8 662.0 865.8 661.1 866.8 662.0 867.8 661.3 868.8 661.9 869.8 661.2 870.8 662.0 871.8 661.3 872.8 661.9 873.8 661.2 874.8 662.1 875.8 661.3 876.8 662.0 877.8 661.3 878.8 662.1 879.8 661.2 880.8 662.0 881.8 661.2 882.8 662.1 883.8 661.3 884.8 662.1 885.8 661.2 886.8 662.2 887.8 661.4 888.8 662.0 889.8 661.3 890.8 662.2 891.8 661.3 892.8 662.1 893.8 661.3 894.8 662.2 895.8 661.4 896.8 662.1 897.8 661.3 898.8 662.2 899.8 661.2 900.8 662.1 901.8 661.3 902.8 662.2 903.8 661.3 904.8 662.0 905.8 661.4 906.8 662.1 907.8 661.2 908.8 662.1 909.8 661.3 910.8 662.1 911.8 661.2 912.8 662.1 913.8 661.2 914.8 662.1 915.8 661.2 916.8 662.0 917.8 661.3 918.8 662.1 919.8 661.2 920.8 662.1 921.8 661.3 922.8 661.9 923.8 661.2 924.8 662.1 925.8 661.3 926.8 662.0 927.8 661.2 928.8 662.1 929.8 661.2 930.8 661.9 931.8 661.1 932.8 661.9 933.8 661.2 934.8 661.9 935.8 661.2 936.8 661.9 937.8 661.2 938.8 661.9 939.8 661.2 940.8 661.9 941.8 661.0 942.8 661.9 943.8 661.2 944.8 662.0 945.8 661.1 946.8 661.8 947.8 661.1 948.8 661.9 949.8 661.1 950.8 661.8 951.8 661.0 952.8 661.8 953.8 661.1 954.8 661.8 955.8 661.0 956.8 661.8 957.8 661.0 958.8 661.8 959.8 661.0 960.8 661.8 961.8 660.9 962.8 661.8 963.8 661.0 964.8 661.8 965.8 661.0 966.8 661.8 967.8 660.9 968.8 661.7 969.8 660.8 970.8 661.7 971.8 660.8 972.8 661.7 973.8 660.9 974.8 661.7 975.8 660.8 976.8 661.6 977.8 660.8 978.8 661.7 979.8 660.9 980.8 661.5 981.8 660.8 982.8 661.6 983.8 660.8 984.8 661.6 985.8 660.7 986.8 661.6 987.8 660.7 988.8 661.5 989.8 660.8 990.8 661.6 991.8 660.8 992.8 661.6 993.8 660.8 994.8 661.5 995.8 660.7 996.8 661.4 997.8 660.8 998.8 661.5 999.8 660.8 1000.8 661.4 1001.8 660.7 1002.8 661.4 1003.8 660.7 1004.8 661.4 1005.8 660.7 1006.8 661.4 1007.8 660.6 1008.8 661.4 1009.8 660.5 1010.8 661.4 1011.8 660.5 1012.8 661.3 1013.8 660.7 1014.8 661.3 1015.8 660.5 1016.8 661.4 1017.8 660.5 1018.8 661.5 1019.8 660.7 1020.8 661.4 1021.8 660.6 1022.8 661.4 1023.8 660.6 1024.8 661.3 1025.8 660.5 1026.8 661.4 1027.8 660.6 1028.8 661.4 1029.8 661.0 1030.8 662.8 1031.8 663.1" fill="none" stroke="#008000" stroke-width="1.80" stroke-linejoin="bevel"/><path d="M911.6 647 L911.6 657 M911.6 686 L911.6 692" stroke="#209020" stroke-width="0.9"/><path d="M282.8 643.3 283.8 642.4 284.8 643.2 285.8 642.2 286.8 643.3 287.8 642.4 288.8 643.4 289.8 642.2 290.8 643.2 291.8 642.2 292.8 643.2 293.8 642.4 294.8 643.3 295.8 642.5 296.8 643.4 297.8 642.4 298.8 643.4 299.8 642.4 300.8 643.5 301.8 642.6 302.8 643.4 303.8 642.5 304.8 643.5 305.8 642.6 306.8 643.6 307.8 642.6 308.8 643.7 309.8 642.6 310.8 643.7 311.8 642.8 312.8 643.9 313.8 642.9 314.8 643.9 315.8 643.0 316.8 644.1 317.8 643.2 318.8 644.4 319.8 643.4 320.8 644.6 321.8 643.6 322.8 644.7 323.8 644.0 324.8 644.9 325.8 644.1 326.8 645.2 327.8 644.4 328.8 645.3 329.8 644.4 330.8 645.5 331.8 644.5 332.8 645.6 333.8 644.6 334.8 645.8 335.8 644.9 336.8 645.8 337.8 645.1 338.8 646.0 339.8 645.1 340.8 646.1 341.8 645.3 342.8 646.2 343.8 645.4 344.8 646.5 345.8 645.5 346.8 646.4 347.8 645.6 348.8 646.5 349.8 645.8 350.8 646.7 351.8 645.9 352.8 646.7 353.8 645.8 354.8 646.9 355.8 645.9 356.8 647.0 357.8 646.1 358.8 647.0 359.8 646.2 360.8 647.2 361.8 646.3 362.8 647.3 363.8 646.4 364.8 647.2 365.8 646.4 366.8 647.4 367.8 646.3 368.8 647.4 369.8 646.5 370.8 647.5 371.8 646.4 372.8 647.4 373.8 646.5 374.8 647.6 375.8 646.6 376.8 647.5 377.8 646.6 378.8 647.5 379.8 646.7 380.8 647.6 381.8 646.5 382.8 647.5 383.8 646.8 384.8 647.7 385.8 646.6 386.8 647.6 387.8 646.7 388.8 647.6 389.8 646.8 390.8 647.7 391.8 646.8 392.8 647.8 393.8 646.8 394.8 647.8 395.8 647.0 396.8 647.9 397.8 647.1 398.8 648.0 399.8 647.3 400.8 648.3 401.8 647.4 402.8 648.6 403.8 647.6 404.8 648.7 405.8 647.8 406.8 649.0 407.8 648.0 408.8 649.0 409.8 648.2 410.8 649.1 411.8 648.2 412.8 649.1 413.8 648.2 414.8 649.1 415.8 648.1 416.8 649.0 417.8 648.0 418.8 649.0 419.8 648.0 420.8 648.9 421.8 647.9 422.8 648.7 423.8 647.8 424.8 648.6 425.8 647.7 426.8 648.5 427.8 647.7 428.8 648.4 429.8 647.5 430.8 648.5 431.8 647.5 432.8 648.5 433.8 647.5 434.8 648.5 435.8 647.5 436.8 648.5 437.8 647.6 438.8 648.7 439.8 647.6 440.8 648.6 441.8 647.6 442.8 648.6 443.8 647.9 444.8 648.9 445.8 647.8 446.8 648.8 447.8 648.1 448.8 648.9 449.8 648.0 450.8 649.0 451.8 648.1 452.8 649.2 453.8 648.3 454.8 649.3 455.8 648.4 456.8 649.3 457.8 648.4 458.8 649.3 459.8 648.4 460.8 649.3 461.8 648.5 462.8 649.4 463.8 648.5 464.8 649.4 465.8 648.6 466.8 649.6 467.8 648.4 468.8 649.5 469.8 648.5 470.8 649.6 471.8 648.7 472.8 649.5 473.8 648.6 474.8 649.6 475.8 648.8 476.8 649.7 477.8 648.7 478.8 649.8 479.8 648.7 480.8 649.7 481.8 648.8 482.8 649.6 483.8 648.7 484.8 649.8 485.8 648.9 486.8 649.7 487.8 648.9 488.8 649.7 489.8 648.8 490.8 649.9 491.8 648.9 492.8 649.9 493.8 648.8 494.8 649.8 495.8 648.8 496.8 649.9 497.8 648.9 498.8 649.8 499.8 649.0 500.8 649.8 501.8 648.9 502.8 650.0 503.8 649.1 504.8 650.0 505.8 649.1 506.8 650.0 507.8 649.0 508.8 650.1 509.8 649.0 510.8 649.9 511.8 649.1 512.8 650.1 513.8 649.0 514.8 650.1 515.8 649.2 516.8 650.1 517.8 649.2 518.8 650.1 519.8 649.3 520.8 650.1 521.8 649.3 522.8 650.3 523.8 649.2 524.8 650.2 525.8 649.3 526.8 650.4 527.8 649.5 528.8 650.4 529.8 649.5 530.8 650.4 531.8 649.6 532.8 650.6 533.8 649.7 534.8 650.6 535.8 649.6 536.8 650.6 537.8 649.6 538.8 650.7 539.8 649.9 540.8 650.9 541.8 649.9 542.8 651.0 543.8 650.1 544.8 650.9 545.8 650.0 546.8 651.0 547.8 650.0 548.8 651.1 549.8 650.2 550.8 651.3 551.8 650.3 552.8 651.1 553.8 650.4 554.8 651.3 555.8 650.4 556.8 651.3 557.8 650.3 558.8 651.4 559.8 650.4 560.8 651.5 561.8 650.5 562.8 651.6 563.8 650.5 564.8 651.5 565.8 650.7 566.8 651.5 567.8 650.7 568.8 651.7 569.8 650.7 570.8 651.6 571.8 650.6 572.8 651.7 573.8 650.8 574.8 651.7 575.8 650.8 576.8 651.9 577.8 650.8 578.8 651.8 579.8 650.9 580.8 651.9 581.8 650.9 582.8 651.9 583.8 651.1 584.8 651.9 585.8 651.0 586.8 651.9 587.8 651.1 588.8 652.1 589.8 651.1 590.8 652.2 591.8 651.2 592.8 652.0 593.8 651.3 594.8 652.2 595.8 651.3 596.8 652.2 597.8 651.2 598.8 652.2 599.8 651.3 600.8 652.2 601.8 651.3 602.8 652.4 603.8 651.3 604.8 652.4 605.8 651.3 606.8 652.3 607.8 651.5 608.8 652.4 609.8 651.5 610.8 652.5 611.8 651.5 612.8 652.4 613.8 651.5 614.8 652.5 615.8 651.5 616.8 652.5 617.8 651.7 618.8 652.5 619.8 651.7 620.8 652.6 621.8 651.7 622.8 652.5 623.8 651.7 624.8 652.7 625.8 651.8 626.8 652.7 627.8 651.8 628.8 652.6 629.8 651.8 630.8 652.7 631.8 651.7 632.8 652.6 633.8 651.8 634.8 652.8 635.8 651.9 636.8 652.8 637.8 651.9 638.8 652.8 639.8 652.0 640.8 653.0 641.8 652.0 642.8 652.8 643.8 651.9 644.8 652.9 645.8 652.0 646.8 652.9 647.8 652.1 648.8 653.0 649.8 652.1 650.8 652.9 651.8 652.0 652.8 653.0 653.8 651.9 654.8 652.9 655.8 652.1 656.8 653.1 657.8 652.1 658.8 653.1 659.8 652.2 660.8 653.1 661.8 652.1 662.8 653.0 663.8 652.1 664.8 653.1 665.8 652.2 666.8 653.2 667.8 652.2 668.8 653.2 669.8 652.1 670.8 653.2 671.8 652.1 672.8 653.2 673.8 652.3 674.8 653.1 675.8 652.4 676.8 653.2 677.8 652.4 678.8 653.3 679.8 652.2 680.8 653.3 681.8 652.3 682.8 653.3 683.8 652.4 684.8 653.4 685.8 652.4 686.8 653.2 687.8 652.3 688.8 653.2 689.8 652.2 690.8 653.3 691.8 652.4 692.8 653.2 693.8 652.4 694.8 653.2 695.8 652.3 696.8 653.0 697.8 652.1 698.8 652.9 699.8 651.8 700.8 652.8 701.8 651.7 702.8 652.7 703.8 651.4 704.8 652.3 705.8 651.2 706.8 652.0 707.8 651.1 708.8 651.8 709.8 650.9 710.8 651.6 711.8 650.7 712.8 651.5 713.8 650.5 714.8 651.2 715.8 650.3 716.8 651.2 717.8 650.2 718.8 651.1 719.8 650.2 720.8 651.1 721.8 650.2 722.8 651.3 723.8 650.3 724.8 651.2 725.8 650.2 726.8 651.1 727.8 650.4 728.8 651.3 729.8 650.3 730.8 651.3 731.8 650.3 732.8 651.3 733.8 650.4 734.8 651.2 735.8 650.3 736.8 651.3 737.8 650.4 738.8 651.2 739.8 650.3 740.8 651.3 741.8 650.4 742.8 651.3 743.8 650.3 744.8 651.4 745.8 650.4 746.8 651.3 747.8 650.4 748.8 651.3 749.8 650.4 750.8 651.5 751.8 650.5 752.8 651.5 753.8 650.5 754.8 651.3 755.8 650.5 756.8 651.3 757.8 650.3 758.8 651.5 759.8 650.3 M787.8 650.1 788.8 651.1 789.8 650.0 790.8 651.0 791.8 650.2 792.8 651.0 793.8 650.2 794.8 651.2 795.8 650.1 796.8 651.1 797.8 650.0 798.8 651.1 799.8 650.2 800.8 651.1 801.8 650.1 802.8 651.0 803.8 650.2 804.8 651.0 805.8 650.1 806.8 651.0 807.8 650.0 808.8 651.0 809.8 650.2 810.8 651.0 811.8 650.1 812.8 651.0 813.8 650.1 814.8 651.2 815.8 650.2 816.8 651.2 817.8 650.2 818.8 651.1 819.8 650.2 820.8 651.2 821.8 650.2 822.8 651.1 823.8 650.2 824.8 651.1 825.8 650.2 826.8 651.1 827.8 650.1 828.8 651.0 829.8 650.1 830.8 651.2 831.8 650.2 832.8 651.1 833.8 650.2 834.8 651.0 835.8 650.1 836.8 651.1 837.8 650.1 838.8 651.2 839.8 650.1 840.8 651.0 841.8 650.1 842.8 651.1 843.8 650.0 844.8 651.1 845.8 650.1 846.8 651.0 847.8 650.0 848.8 651.0 849.8 650.1 850.8 651.2 851.8 650.2 852.8 651.2 853.8 650.2 854.8 651.0 855.8 650.1 856.8 651.2 857.8 650.1 858.8 651.2 859.8 650.1 860.8 651.2 861.8 650.2 862.8 651.0 863.8 650.2 864.8 651.1 865.8 650.1 866.8 651.1 867.8 650.2 868.8 651.1 869.8 650.0 870.8 651.0 871.8 650.2 872.8 651.2 873.8 650.0 874.8 651.2 875.8 650.2 876.8 651.1 877.8 650.2 878.8 651.1 879.8 650.1 880.8 651.0 881.8 650.1 882.8 651.0 883.8 650.2 884.8 651.0 885.8 650.1 886.8 651.0 887.8 650.0 888.8 651.2 889.8 650.0 890.8 651.1 891.8 650.2 892.8 651.0 893.8 650.2 894.8 651.0 895.8 650.2 896.8 651.2 897.8 650.0 898.8 651.1 899.8 650.2 900.8 651.2 901.8 650.0 902.8 651.0 903.8 650.2 904.8 651.0 905.8 650.1 906.8 651.2 907.8 650.2 908.8 651.1 909.8 650.2 910.8 651.2 911.8 650.2 912.8 651.1 913.8 650.2 914.8 651.1 915.8 650.0 916.8 651.1 917.8 650.0 918.8 651.0 919.8 650.1 920.8 650.9 921.8 650.1 922.8 650.9 923.8 649.9 924.8 650.8 925.8 650.0 926.8 651.0 927.8 649.9 928.8 651.0 929.8 649.9 930.8 650.7 931.8 649.7 932.8 650.7 933.8 649.7 934.8 650.6 935.8 649.8 936.8 650.6 937.8 649.6 938.8 650.6 939.8 649.6 940.8 650.5 941.8 649.6 942.8 650.3 943.8 649.5 944.8 650.4 945.8 649.4 946.8 650.2 947.8 649.3 948.8 650.2 949.8 649.3 950.8 650.3 951.8 649.1 952.8 650.0 953.8 649.1 954.8 650.0 955.8 649.1 956.8 649.9 957.8 649.1 958.8 649.9 959.8 649.1 960.8 650.0 961.8 649.1 962.8 650.0 963.8 648.9 964.8 649.8 965.8 648.9 966.8 650.0 967.8 649.0 968.8 649.9 969.8 648.9 970.8 649.8 971.8 649.0 972.8 649.8 973.8 648.9 974.8 649.8 975.8 648.9 976.8 650.0 977.8 649.0 978.8 649.8 979.8 648.8 980.8 649.9 981.8 648.9 982.8 649.8 983.8 648.9 984.8 649.9 985.8 648.9 986.8 649.9 987.8 649.0 988.8 650.0 989.8 648.9 990.8 650.0 991.8 649.0 992.8 649.9 993.8 649.1 994.8 649.9 995.8 649.0 996.8 649.9 997.8 649.0 998.8 649.9 999.8 648.9 1000.8 650.0 1001.8 648.9 1002.8 649.9 1003.8 649.1 1004.8 650.1 1005.8 649.2 1006.8 649.9 1007.8 649.1 1008.8 650.0 1009.8 649.2 1010.8 650.1 1011.8 649.1 1012.8 650.0 1013.8 649.1 1014.8 650.1 1015.8 649.1 1016.8 650.0 1017.8 649.3 1018.8 650.2 1019.8 649.3 1020.8 650.3 1021.8 649.2 1022.8 650.2 1023.8 649.2 1024.8 650.2 1025.8 649.2 1026.8 650.3 1027.8 649.5 1028.8 650.3 1029.8 650.0 1030.8 652.5 1031.8 653.5" fill="none" stroke="#005a50" stroke-width="1.80" stroke-linejoin="bevel"/><path d="M282.8 627.9 283.8 626.7 284.8 627.9 285.8 626.8 286.8 628.0 287.8 626.7 288.8 627.9 289.8 626.9 290.8 627.9 291.8 627.0 292.8 628.0 293.8 627.1 294.8 628.3 295.8 627.1 296.8 628.2 297.8 627.3 298.8 628.3 299.8 627.2 300.8 628.3 301.8 627.2 302.8 628.4 303.8 627.5 304.8 628.7 305.8 627.6 306.8 628.9 307.8 627.8 308.8 628.8 309.8 627.8 310.8 629.1 311.8 627.9 312.8 629.2 313.8 628.2 314.8 629.4 315.8 628.4 316.8 629.6 317.8 628.6 318.8 630.0 319.8 629.1 320.8 630.2 321.8 629.3 322.8 630.7 323.8 629.6 324.8 630.8 325.8 629.7 326.8 631.0 327.8 629.9 328.8 631.2 329.8 630.4 330.8 631.4 331.8 630.4 332.8 631.7 333.8 630.6 334.8 631.9 335.8 630.8 336.8 632.1 337.8 631.1 338.8 632.4 339.8 631.3 340.8 632.5 341.8 631.4 342.8 632.8 343.8 631.7 344.8 632.8 345.8 631.7 346.8 633.0 347.8 631.8 348.8 633.2 349.8 632.1 350.8 633.3 351.8 632.2 352.8 633.4 353.8 632.2 354.8 633.4 355.8 632.2 356.8 633.5 357.8 632.4 358.8 633.6 359.8 632.5 360.8 633.7 361.8 632.5 362.8 633.8 363.8 632.5 364.8 633.8 365.8 632.6 366.8 633.9 367.8 632.6 368.8 633.7 369.8 632.9 370.8 634.0 371.8 632.9 372.8 634.1 373.8 632.9 374.8 634.1 375.8 633.0 376.8 634.1 377.8 632.9 378.8 634.3 379.8 633.1 380.8 634.2 381.8 633.1 382.8 634.2 383.8 633.1 384.8 634.4 385.8 633.1 386.8 634.3 387.8 633.2 388.8 634.5 389.8 633.3 390.8 634.5 391.8 633.2 392.8 634.6 393.8 633.5 394.8 634.7 395.8 633.3 396.8 634.6 397.8 633.5 398.8 634.7 399.8 633.8 400.8 635.2 401.8 634.1 402.8 635.6 403.8 634.7 404.8 635.8 405.8 634.9 406.8 636.1 407.8 635.2 408.8 636.2 409.8 635.1 410.8 636.2 411.8 635.0 412.8 636.2 413.8 635.0 414.8 636.2 415.8 634.9 416.8 636.0 417.8 634.9 418.8 636.0 419.8 634.8 420.8 636.0 421.8 634.6 422.8 635.8 423.8 634.7 424.8 635.8 425.8 634.5 426.8 635.6 427.8 634.6 428.8 635.5 429.8 634.5 430.8 635.5 431.8 634.5 432.8 635.4 433.8 634.5 434.8 635.5 435.8 634.6 436.8 635.5 437.8 634.5 438.8 635.7 439.8 634.4 440.8 635.7 441.8 634.7 442.8 635.7 443.8 634.6 444.8 635.8 445.8 634.7 446.8 636.0 447.8 634.8 448.8 636.1 449.8 635.0 450.8 636.0 451.8 635.1 452.8 636.2 453.8 635.1 454.8 636.2 455.8 635.3 456.8 636.3 457.8 635.4 458.8 636.3 459.8 635.4 460.8 636.6 461.8 635.4 462.8 636.6 463.8 635.5 464.8 636.6 465.8 635.6 466.8 636.6 467.8 635.5 468.8 636.7 469.8 635.7 470.8 636.9 471.8 635.6 472.8 636.8 473.8 635.8 474.8 637.0 475.8 635.9 476.8 637.0 477.8 636.0 478.8 637.2 479.8 636.1 480.8 637.3 481.8 636.1 482.8 637.1 483.8 636.2 484.8 637.3 485.8 636.0 486.8 637.2 487.8 636.2 488.8 637.3 489.8 636.2 490.8 637.3 491.8 636.1 492.8 637.3 493.8 636.2 494.8 637.4 495.8 636.3 496.8 637.4 497.8 636.4 498.8 637.5 499.8 636.4 500.8 637.4 501.8 636.5 502.8 637.7 503.8 636.5 504.8 637.5 505.8 636.6 506.8 637.7 507.8 636.4 508.8 637.6 509.8 636.6 510.8 637.6 511.8 636.7 512.8 637.6 513.8 636.7 514.8 637.7 515.8 636.5 516.8 637.7 517.8 636.7 518.8 637.7 519.8 636.9 520.8 638.0 521.8 636.9 522.8 637.8 523.8 636.7 524.8 637.9 525.8 636.9 526.8 638.1 527.8 637.0 528.8 638.2 529.8 637.0 530.8 638.2 531.8 637.1 532.8 638.2 533.8 637.0 534.8 638.4 535.8 637.3 536.8 638.4 537.8 637.4 538.8 638.4 539.8 637.5 540.8 638.6 541.8 637.4 542.8 638.7 543.8 637.5 544.8 638.7 545.8 637.7 546.8 638.7 547.8 637.8 548.8 639.0 549.8 637.9 550.8 639.0 551.8 637.8 552.8 639.2 553.8 638.0 554.8 639.2 555.8 638.2 556.8 639.3 557.8 638.2 558.8 639.4 559.8 638.4 560.8 639.6 561.8 638.4 562.8 639.6 563.8 638.3 564.8 639.5 565.8 638.4 566.8 639.7 567.8 638.6 568.8 639.7 569.8 638.7 570.8 639.8 571.8 638.8 572.8 640.0 573.8 638.8 574.8 640.1 575.8 639.0 576.8 640.1 577.8 639.0 578.8 640.3 579.8 639.2 580.8 640.3 581.8 639.3 582.8 640.5 583.8 639.5 584.8 640.6 585.8 639.3 586.8 640.5 587.8 639.4 588.8 640.6 589.8 639.5 590.8 640.7 591.8 639.5 592.8 640.8 593.8 639.7 594.8 640.9 595.8 639.9 596.8 641.1 597.8 640.0 598.8 641.2 599.8 639.8 600.8 641.2 601.8 640.0 602.8 641.2 603.8 640.0 604.8 641.2 605.8 640.1 606.8 641.4 607.8 640.1 608.8 641.3 609.8 640.2 610.8 641.3 611.8 640.4 612.8 641.3 613.8 640.2 614.8 641.4 615.8 640.2 616.8 641.3 617.8 640.4 618.8 641.6 619.8 640.4 620.8 641.4 621.8 640.3 622.8 641.4 623.8 640.2 624.8 641.4 625.8 640.2 626.8 641.5 627.8 640.2 628.8 641.4 629.8 640.2 630.8 641.4 631.8 640.4 632.8 641.5 633.8 640.3 634.8 641.5 635.8 640.3 636.8 641.4 637.8 640.5 638.8 641.5 639.8 640.3 640.8 641.5 641.8 640.3 642.8 641.6 643.8 640.4 644.8 641.6 645.8 640.4 646.8 641.5 647.8 640.2 648.8 641.4 649.8 640.3 650.8 641.4 651.8 640.5 652.8 641.4 653.8 640.3 654.8 641.4 655.8 640.2 656.8 641.3 657.8 640.4 658.8 641.4 659.8 640.4 660.8 641.4 661.8 640.5 662.8 641.4 663.8 640.4 664.8 641.5 665.8 640.4 666.8 641.5 667.8 640.4 668.8 641.4 669.8 640.4 670.8 641.4 671.8 640.2 672.8 641.4 673.8 640.4 674.8 641.4 675.8 640.2 676.8 641.5 677.8 640.3 678.8 641.5 679.8 640.4 680.8 641.5 681.8 640.5 682.8 641.5 683.8 640.4 684.8 641.5 685.8 640.4 686.8 641.4 687.8 640.3 688.8 641.6 689.8 640.4 690.8 641.4 691.8 640.4 692.8 641.5 693.8 640.2 694.8 641.3 695.8 640.4 696.8 641.4 697.8 640.2 698.8 641.4 699.8 640.5 700.8 641.5 701.8 640.2 702.8 641.5 703.8 640.4 704.8 641.4 705.8 640.3 706.8 641.6 707.8 640.2 708.8 641.2 709.8 640.0 710.8 641.0 711.8 639.6 712.8 640.5 713.8 639.0 714.8 640.1 715.8 638.6 716.8 639.7 717.8 638.5 718.8 639.4 719.8 638.4 720.8 639.5 721.8 638.3 722.8 639.6 723.8 638.2 724.8 639.4 725.8 638.4 726.8 639.4 727.8 638.3 728.8 639.6 729.8 638.3 730.8 639.4 731.8 638.4 732.8 639.6 733.8 638.2 734.8 639.5 735.8 638.4 736.8 639.4 737.8 638.3 738.8 639.6 739.8 638.4 740.8 639.4 741.8 638.5 742.8 639.3 743.8 638.4 744.8 639.5 745.8 638.3 746.8 639.5 747.8 638.4 748.8 639.4 749.8 638.3 750.8 639.5 751.8 638.5 752.8 639.5 753.8 638.2 754.8 639.3 755.8 638.2 756.8 639.3 757.8 638.4 758.8 639.6 759.8 638.2 M787.8 637.8 788.8 638.9 789.8 637.9 790.8 638.9 791.8 637.7 792.8 638.9 793.8 637.7 794.8 638.9 795.8 637.7 796.8 638.8 797.8 637.7 798.8 638.9 799.8 637.7 800.8 638.8 801.8 637.9 802.8 639.0 803.8 637.6 804.8 639.0 805.8 637.8 806.8 639.0 807.8 637.6 808.8 638.9 809.8 637.6 810.8 638.9 811.8 637.9 812.8 638.8 813.8 637.8 814.8 638.9 815.8 637.7 816.8 638.9 817.8 637.6 818.8 638.9 819.8 637.9 820.8 638.8 821.8 637.6 822.8 638.9 823.8 637.9 824.8 638.9 825.8 637.8 826.8 638.9 827.8 637.6 828.8 638.7 829.8 637.6 830.8 638.9 831.8 637.6 832.8 639.0 833.8 637.9 834.8 638.9 835.8 637.6 836.8 638.8 837.8 637.7 838.8 638.8 839.8 637.8 840.8 638.8 841.8 637.8 842.8 639.0 843.8 637.8 844.8 638.8 845.8 637.7 846.8 638.9 847.8 637.6 848.8 638.9 849.8 637.6 850.8 638.8 851.8 637.7 852.8 638.8 853.8 637.6 854.8 638.9 855.8 637.8 856.8 639.0 857.8 637.7 858.8 638.9 859.8 637.9 860.8 639.0 861.8 637.7 862.8 639.0 863.8 637.9 864.8 638.9 865.8 637.8 866.8 638.9 867.8 637.7 868.8 639.0 869.8 637.6 870.8 638.8 871.8 637.6 872.8 638.8 873.8 637.9 874.8 638.8 875.8 637.8 876.8 638.9 877.8 637.7 878.8 638.8 879.8 637.7 880.8 639.0 881.8 637.7 882.8 638.9 883.8 637.6 884.8 638.8 885.8 637.6 886.8 638.8 887.8 637.9 888.8 639.0 889.8 637.8 890.8 638.8 891.8 637.7 892.8 638.7 893.8 637.8 894.8 638.8 895.8 637.8 896.8 638.9 897.8 637.7 898.8 638.7 899.8 637.6 900.8 638.8 901.8 637.8 902.8 638.8 903.8 637.6 904.8 638.6 905.8 637.6 906.8 638.6 907.8 637.6 908.8 638.6 909.8 637.6 910.8 638.5 911.8 637.4 912.8 638.4 913.8 637.5 914.8 638.4 915.8 637.3 916.8 638.3 917.8 637.2 918.8 638.4 919.8 637.1 920.8 638.2 921.8 637.0 922.8 638.3 923.8 637.0 924.8 638.2 925.8 637.0 926.8 638.1 927.8 636.9 928.8 638.1 929.8 636.8 930.8 637.8 931.8 636.7 932.8 637.7 933.8 636.7 934.8 637.8 935.8 636.5 936.8 637.6 937.8 636.5 938.8 637.6 939.8 636.6 940.8 637.5 941.8 636.3 942.8 637.3 943.8 636.2 944.8 637.2 945.8 636.2 946.8 637.2 947.8 636.2 948.8 637.2 949.8 635.8 950.8 637.1 951.8 635.9 952.8 637.0 953.8 635.8 954.8 636.8 955.8 635.6 956.8 636.6 957.8 635.7 958.8 636.8 959.8 635.6 960.8 636.7 961.8 635.6 962.8 636.5 963.8 635.5 964.8 636.6 965.8 635.7 966.8 636.5 967.8 635.6 968.8 636.6 969.8 635.6 970.8 636.8 971.8 635.5 972.8 636.7 973.8 635.6 974.8 636.7 975.8 635.5 976.8 636.7 977.8 635.6 978.8 636.6 979.8 635.6 980.8 636.6 981.8 635.5 982.8 636.7 983.8 635.5 984.8 636.8 985.8 635.6 986.8 636.6 987.8 635.7 988.8 636.9 989.8 635.8 990.8 636.7 991.8 635.6 992.8 636.9 993.8 635.6 994.8 636.9 995.8 635.6 996.8 636.8 997.8 635.9 998.8 636.9 999.8 635.9 1000.8 637.0 1001.8 635.9 1002.8 636.8 1003.8 635.7 1004.8 636.9 1005.8 635.8 1006.8 636.9 1007.8 635.8 1008.8 636.9 1009.8 635.9 1010.8 637.2 1011.8 636.1 1012.8 637.0 1013.8 636.2 1014.8 637.1 1015.8 636.1 1016.8 637.3 1017.8 636.1 1018.8 637.4 1019.8 636.2 1020.8 637.3 1021.8 636.4 1022.8 637.6 1023.8 636.3 1024.8 637.6 1025.8 636.4 1026.8 637.7 1027.8 636.7 1028.8 637.7 1029.8 637.2 1030.8 640.2 1031.8 643.4" fill="none" stroke="#004080" stroke-width="2.00" stroke-linejoin="bevel"/><path d="M282.8 557.8 283.7 555.7 284.6 559.5 285.5 557.3 286.4 561.6 287.3 558.3 288.2 562.2 289.1 558.7 290.0 562.5 290.9 558.6 291.8 562.4 292.7 558.6 293.6 562.4 294.5 559.1 295.4 561.9 296.3 558.8 297.2 562.6 298.1 558.4 299.0 562.5 299.9 558.7 300.8 561.9 301.7 558.5 302.6 562.5 303.5 558.8 304.4 562.8 305.3 559.3 306.2 562.9 307.1 559.3 308.0 563.4 308.9 560.3 309.8 564.0 310.7 560.3 311.6 564.7 312.5 561.7 313.4 565.7 314.3 562.6 315.2 565.9 316.1 562.7 317.0 567.0 317.9 564.0 318.8 568.0 319.7 564.4 320.6 568.1 321.5 565.5 322.4 569.5 323.3 565.9 324.2 569.8 325.1 567.0 326.0 571.2 326.9 568.1 327.8 571.5 328.7 568.8 329.6 572.9 330.5 569.1 331.4 572.8 332.3 569.3 333.2 573.3 334.1 569.7 335.0 572.7 335.9 569.4 336.8 572.2 337.7 568.6 338.6 571.5 339.5 567.7 340.4 571.6 341.3 567.9 342.2 572.0 343.1 568.3 344.0 572.9 344.9 569.3 345.8 573.8 346.7 570.7 347.6 575.2 348.5 571.8 349.4 576.3 350.3 572.8 351.2 576.1 352.1 572.9 353.0 576.4 353.9 572.0 354.8 575.6 355.7 572.0 356.6 574.9 357.5 571.1 358.4 575.0 359.3 570.9 360.2 574.9 361.1 571.3 362.0 575.0 362.9 571.0 363.8 575.3 364.7 571.7 365.6 575.2 366.5 571.4 367.4 575.5 368.3 571.8 369.2 575.8 370.1 572.1 371.0 575.7 371.9 573.2 372.8 576.1 373.7 573.2 374.6 576.7 375.5 573.0 376.4 577.5 377.3 574.0 378.2 577.7 379.1 574.0 380.0 577.9 380.9 574.4 381.8 578.1 382.7 574.9 383.6 578.1 384.5 574.9 385.4 578.2 386.3 575.3 387.2 578.7 388.1 575.4 389.0 579.2 389.9 575.6 390.8 579.8 391.7 575.9 392.6 580.2 393.5 577.0 394.4 580.7 395.3 577.4 396.2 581.0 397.1 578.2 398.0 582.0 398.9 579.7 399.8 584.0 400.7 582.1 401.6 586.9 402.5 585.1 403.4 589.1 404.3 586.2 405.2 590.8 406.1 588.2 407.0 592.0 407.9 588.9 408.8 592.8 409.7 590.2 410.6 593.9 411.5 591.0 412.4 595.2 413.3 591.9 414.2 595.1 415.1 592.3 416.0 595.7 416.9 592.4 417.8 595.5 418.7 591.5 419.6 595.4 420.5 591.3 421.4 594.3 422.3 591.0 423.2 594.0 424.1 590.4 425.0 593.3 425.9 590.1 426.8 593.4 427.7 588.8 428.6 592.0 429.5 588.3 430.4 591.4 431.3 588.1 432.2 591.7 433.1 587.1 434.0 590.8 434.9 587.0 435.8 590.4 436.7 586.6 437.6 590.2 438.5 587.1 439.4 590.1 440.3 586.9 441.2 590.7 442.1 586.9 443.0 590.7 443.9 587.5 444.8 591.9 445.7 588.1 446.6 591.8 447.5 589.2 448.4 592.3 449.3 589.6 450.2 593.5 451.1 590.4 452.0 593.8 452.9 591.0 453.8 594.5 454.7 591.3 455.6 594.9 456.5 591.1 457.4 594.6 458.3 591.2 459.2 594.7 460.1 591.3 461.0 594.8 461.9 591.4 462.8 594.6 463.7 590.8 464.6 594.8 465.5 590.6 466.4 594.4 467.3 590.4 468.2 593.8 469.1 590.1 470.0 593.6 470.9 590.1 471.8 594.1 472.7 590.4 473.6 594.0 474.5 589.8 475.4 593.5 476.3 590.1 477.2 593.3 478.1 590.1 479.0 593.4 479.9 590.1 480.8 593.4 481.7 590.5 482.6 594.5 483.5 591.1 484.4 595.2 485.3 591.6 486.2 595.1 487.1 591.8 488.0 595.7 488.9 592.6 489.8 596.7 490.7 592.5 491.6 596.5 492.5 593.2 493.4 596.5 494.3 593.2 495.2 596.4 496.1 593.2 497.0 596.4 497.9 593.5 498.8 596.9 499.7 593.6 500.6 596.8 501.5 593.3 502.4 596.9 503.3 593.2 504.2 596.7 505.1 593.0 506.0 596.8 506.9 592.9 507.8 596.9 508.7 593.0 509.6 597.2 510.5 593.2 511.4 596.8 512.3 593.4 513.2 596.6 514.1 593.3 515.0 597.2 515.9 593.3 516.8 596.9 517.7 594.2 518.6 597.7 519.5 594.0 520.4 597.5 521.3 595.0 522.2 598.2 523.1 595.2 524.0 598.4 524.9 595.9 525.8 599.1 526.7 596.5 527.6 599.5 528.5 597.0 529.4 600.2 530.3 596.8 531.2 600.9 532.1 597.4 533.0 601.2 533.9 598.2 534.8 601.2 535.7 598.5 536.6 602.3 537.5 598.2 538.4 602.2 539.3 598.7 540.2 602.7 541.1 598.9 542.0 602.6 542.9 599.2 543.8 603.3 544.7 600.0 545.6 603.3 546.5 600.4 547.4 603.8 548.3 600.0 549.2 604.3 550.1 601.0 551.0 604.0 551.9 601.1 552.8 604.3 553.7 601.5 554.6 605.0 555.5 601.5 556.4 605.0 557.3 601.7 558.2 605.6 559.1 601.6 560.0 604.9 560.9 601.5 561.8 605.1 562.7 601.9 563.6 605.2 564.5 601.8 565.4 605.2 566.3 602.0 567.2 605.0 568.1 601.4 569.0 605.0 569.9 601.9 570.8 605.1 571.7 601.9 572.6 604.8 573.5 601.6 574.4 605.0 575.3 601.3 576.2 604.7 577.1 601.1 578.0 604.9 578.9 601.3 579.8 604.3 580.7 600.8 581.6 604.3 582.5 600.5 583.4 603.8 584.3 600.6 585.2 604.0 586.1 600.8 587.0 604.4 587.9 600.7 588.8 604.2 589.7 600.1 590.6 604.3 591.5 600.6 592.4 603.5 593.3 600.6 594.2 603.6 595.1 599.9 596.0 603.9 596.9 600.6 597.8 603.5 598.7 600.2 599.6 604.1 600.5 601.0 601.4 604.3 602.3 601.1 603.2 604.3 604.1 601.5 605.0 605.3 605.9 601.5 606.8 605.3 607.7 602.1 608.6 605.4 609.5 602.1 610.4 606.2 611.3 602.3 612.2 606.1 613.1 603.2 614.0 606.6 614.9 603.5 615.8 607.3 616.7 603.8 617.6 607.3 618.5 604.0 619.4 607.7 620.3 604.4 621.2 607.5 622.1 604.3 623.0 607.8 623.9 604.3 624.8 608.0 625.7 604.9 626.6 608.3 627.5 604.4 628.4 608.1 629.3 604.7 630.2 608.1 631.1 605.0 632.0 607.9 632.9 604.2 633.8 608.4 634.7 604.7 635.6 608.3 636.5 604.8 637.4 608.0 638.3 604.7 639.2 607.7 640.1 604.3 641.0 607.6 641.9 603.7 642.8 607.5 643.7 604.5 644.6 607.2 645.5 603.8 646.4 607.2 647.3 604.4 648.2 607.2 649.1 603.5 650.0 607.4 650.9 604.2 651.8 607.5 652.7 604.0 653.6 607.4 654.5 603.4 655.4 607.5 656.3 603.8 657.2 607.7 658.1 603.7 659.0 607.2 659.9 603.4 660.8 607.6 661.7 603.5 662.6 607.1 663.5 603.8 664.4 606.8 665.3 603.9 666.2 607.4 667.1 603.7 668.0 607.5 668.9 603.5 669.8 607.2 670.7 603.4 671.6 607.2 672.5 603.6 673.4 607.3 674.3 604.0 675.2 607.7 676.1 604.4 677.0 608.0 677.9 603.8 678.8 608.1 679.7 604.5 680.6 608.0 681.5 604.8 682.4 608.3 683.3 605.2 684.2 608.8 685.1 604.8 686.0 608.8 686.9 605.1 687.8 608.8 688.7 605.2 689.6 609.6 690.5 605.6 691.4 609.7 692.3 605.6 693.2 609.5 694.1 605.9 695.0 608.9 695.9 606.1 696.8 609.4 697.7 605.7 698.6 608.9 699.5 605.3 700.4 608.5 701.3 604.0 702.2 607.7 703.1 604.2 704.0 607.1 704.9 603.1 705.8 606.5 706.7 602.5 707.6 605.2 708.5 601.0 709.4 604.8 710.3 600.2 711.2 603.7 712.1 599.6 713.0 603.3 713.9 598.9 714.8 601.9 715.7 598.7 716.6 601.2 717.5 598.1 718.4 600.7 719.3 597.5 720.2 600.8 721.1 596.7 722.0 600.4 722.9 597.2 723.8 600.8 724.7 596.7 725.6 601.1 726.5 597.8 727.4 601.2 728.3 597.7 729.2 601.6 730.1 598.6 731.0 602.5 731.9 598.9 732.8 602.3 733.7 599.6 734.6 603.4 735.5 600.1 736.4 603.8 737.3 600.4 738.2 603.7 739.1 600.4 740.0 603.4 740.9 599.9 741.8 603.6 742.7 599.9 743.6 604.0 744.5 600.2 745.4 603.1 746.3 599.9 747.2 603.2 748.1 599.5 749.0 603.0 749.9 599.5 750.8 602.7 751.7 599.7 752.6 602.7 753.5 599.1 754.4 603.0 755.3 599.2 756.2 602.4 757.1 599.4 758.0 603.0 758.9 599.1 759.8 602.9 M787.7 600.8 788.6 604.5 789.5 600.9 790.4 604.7 791.3 600.7 792.2 604.5 793.1 601.2 794.0 604.1 794.9 600.3 795.8 604.2 796.7 600.6 797.6 603.8 798.5 600.5 799.4 604.2 800.3 600.3 801.2 604.4 802.1 600.4 803.0 603.7 803.9 600.6 804.8 603.6 805.7 600.2 806.6 604.1 807.5 600.1 808.4 603.7 809.3 599.8 810.2 603.1 811.1 600.2 812.0 603.4 812.9 600.2 813.8 603.0 814.7 599.5 815.6 603.4 816.5 600.0 817.4 602.9 818.3 599.4 819.2 603.2 820.1 599.8 821.0 603.4 821.9 599.5 822.8 603.6 823.7 600.1 824.6 603.5 825.5 599.9 826.4 603.2 827.3 600.0 828.2 603.2 829.1 600.6 830.0 603.6 830.9 600.3 831.8 604.4 832.7 601.0 833.6 604.3 834.5 600.9 835.4 604.7 836.3 601.6 837.2 605.5 838.1 601.7 839.0 605.5 839.9 602.0 840.8 605.3 841.7 602.5 842.6 606.3 843.5 602.5 844.4 606.6 845.3 603.0 846.2 606.4 847.1 603.2 848.0 606.3 848.9 603.5 849.8 606.4 850.7 603.4 851.6 606.6 852.5 603.2 853.4 606.8 854.3 602.7 855.2 606.4 856.1 602.6 857.0 606.1 857.9 602.6 858.8 605.8 859.7 602.0 860.6 605.9 861.5 601.6 862.4 604.8 863.3 601.4 864.2 604.6 865.1 601.2 866.0 605.0 866.9 600.9 867.8 604.1 868.7 600.9 869.6 603.9 870.5 600.3 871.4 604.1 872.3 600.0 873.2 603.5 874.1 599.9 875.0 603.1 875.9 599.4 876.8 603.7 877.7 600.2 878.6 603.3 879.5 599.6 880.4 603.2 881.3 600.4 882.2 603.3 883.1 600.2 884.0 603.7 884.9 600.9 885.8 604.8 886.7 601.6 887.6 605.2 888.5 601.8 889.4 605.4 890.3 602.2 891.2 605.8 892.1 602.3 893.0 606.4 893.9 603.0 894.8 606.2 895.7 603.1 896.6 607.1 897.5 602.8 898.4 606.2 899.3 603.0 900.2 606.2 901.1 602.5 902.0 605.3 902.9 602.1 903.8 605.1 904.7 601.1 905.6 604.7 906.5 600.6 907.4 604.2 908.3 600.8 909.2 603.5 910.1 600.3 911.0 603.4 911.9 600.1 912.8 603.4 913.7 600.0 914.6 602.9 915.5 599.4 916.4 603.6 917.3 599.5 918.2 602.9 919.1 599.6 920.0 603.4 920.9 599.4 921.8 603.1 922.7 599.2 923.6 603.3 924.5 599.2 925.4 602.4 926.3 599.2 927.2 603.1 928.1 599.5 929.0 602.2 929.9 599.5 930.8 602.2 931.7 599.3 932.6 602.7 933.5 598.8 934.4 602.6 935.3 598.8 936.2 602.2 937.1 598.5 938.0 601.9 938.9 598.7 939.8 602.0 940.7 598.3 941.6 602.1 942.5 598.2 943.4 601.8 944.3 598.2 945.2 601.5 946.1 597.5 947.0 601.2 947.9 597.4 948.8 601.0 949.7 597.4 950.6 600.9 951.5 597.5 952.4 600.4 953.3 597.3 954.2 600.5 955.1 596.8 956.0 600.6 956.9 597.1 957.8 600.2 958.7 597.2 959.6 600.5 960.5 597.0 961.4 600.3 962.3 597.3 963.2 601.0 964.1 597.2 965.0 601.3 965.9 597.6 966.8 600.8 967.7 597.5 968.6 601.7 969.5 598.3 970.4 602.0 971.3 598.2 972.2 602.3 973.1 598.2 974.0 602.2 974.9 598.5 975.8 602.3 976.7 599.2 977.6 602.7 978.5 599.6 979.4 603.0 980.3 599.3 981.2 602.8 982.1 599.7 983.0 603.3 983.9 600.0 984.8 603.4 985.7 600.0 986.6 603.4 987.5 599.8 988.4 603.6 989.3 599.5 990.2 603.8 991.1 599.9 992.0 603.3 992.9 600.2 993.8 603.8 994.7 599.8 995.6 603.8 996.5 599.7 997.4 603.6 998.3 599.7 999.2 603.7 1000.1 600.0 1001.0 603.9 1001.9 600.0 1002.8 603.9 1003.7 599.8 1004.6 603.6 1005.5 600.0 1006.4 603.6 1007.3 600.3 1008.2 604.2 1009.1 600.0 1010.0 604.4 1010.9 600.3 1011.8 604.4 1012.7 600.4 1013.6 604.4 1014.5 601.1 1015.4 604.1 1016.3 600.9 1017.2 605.0 1018.1 601.2 1019.0 605.2 1019.9 601.7 1020.8 605.7 1021.7 602.2 1022.6 606.1 1023.5 603.0 1024.4 606.6 1025.3 603.3 1026.2 607.3 1027.1 604.3 1028.0 607.7 1028.9 604.8 1029.8 608.5 1030.7 606.7 1031.6 614.2" fill="none" stroke="#0020d0" stroke-width="1.15" stroke-linejoin="bevel"/><path d="M1031.8 606 L1032.2 626" stroke="#0020d0" stroke-width="1.1"/><path d="M282.8 480.5 283.7 476.9 284.6 482.5 285.5 478.7 286.4 483.2 287.3 479.5 288.2 484.9 289.1 480.5 290.0 485.0 290.9 480.6 291.8 485.2 292.7 481.3 293.6 485.8 294.5 481.5 295.4 485.3 296.3 480.7 297.2 485.0 298.1 480.3 299.0 485.5 299.9 480.4 300.8 485.1 301.7 480.5 302.6 484.4 303.5 479.8 304.4 483.7 305.3 478.8 306.2 483.0 307.1 478.5 308.0 482.8 308.9 478.6 309.8 483.0 310.7 478.9 311.6 484.1 312.5 479.2 313.4 483.9 314.3 480.5 315.2 485.1 316.1 480.8 317.0 485.3 317.9 481.3 318.8 486.9 319.7 481.9 320.6 486.8 321.5 483.3 322.4 488.2 323.3 483.6 324.2 488.2 325.1 484.9 326.0 488.9 326.9 484.9 327.8 490.3 328.7 486.2 329.6 491.4 330.5 486.8 331.4 491.5 332.3 487.3 333.2 491.6 334.1 487.3 335.0 491.7 335.9 486.6 336.8 490.3 337.7 485.8 338.6 490.4 339.5 485.1 340.4 489.2 341.3 485.4 342.2 490.1 343.1 486.6 344.0 491.6 344.9 486.6 345.8 491.5 346.7 487.8 347.6 492.6 348.5 489.2 349.4 493.6 350.3 490.3 351.2 494.8 352.1 490.5 353.0 495.1 353.9 489.9 354.8 494.7 355.7 490.1 356.6 493.7 357.5 489.2 358.4 493.8 359.3 488.6 360.2 492.9 361.1 489.3 362.0 493.7 362.9 488.7 363.8 492.8 364.7 488.6 365.6 492.9 366.5 488.8 367.4 493.6 368.3 488.8 369.2 493.2 370.1 488.8 371.0 494.3 371.9 488.9 372.8 494.4 373.7 490.0 374.6 495.0 375.5 490.1 376.4 495.2 377.3 490.6 378.2 495.2 379.1 491.0 380.0 496.4 380.9 492.4 381.8 496.8 382.7 493.3 383.6 497.7 384.5 493.1 385.4 498.3 386.3 494.4 387.2 499.4 388.1 495.2 389.0 499.0 389.9 494.8 390.8 499.2 391.7 495.2 392.6 500.3 393.5 495.5 394.4 499.7 395.3 496.3 396.2 500.7 397.1 496.0 398.0 501.6 398.9 497.6 399.8 503.7 400.7 500.7 401.6 506.8 402.5 505.3 403.4 512.3 404.3 510.3 405.2 516.5 406.1 513.6 407.0 519.7 407.9 516.4 408.8 521.7 409.7 517.9 410.6 523.5 411.5 519.4 412.4 524.6 413.3 520.1 414.2 526.0 415.1 521.6 416.0 526.0 416.9 521.8 417.8 526.5 418.7 522.1 419.6 525.5 420.5 520.2 421.4 524.5 422.3 519.7 423.2 523.2 424.1 517.9 425.0 522.1 425.9 516.6 426.8 520.0 427.7 516.0 428.6 519.3 429.5 514.2 430.4 518.5 431.3 513.9 432.2 518.3 433.1 513.2 434.0 517.1 434.9 511.6 435.8 516.8 436.7 512.1 437.6 516.0 438.5 511.8 439.4 516.3 440.3 512.0 441.2 515.9 442.1 512.2 443.0 516.2 443.9 512.1 444.8 516.8 445.7 512.9 446.6 517.2 447.5 513.4 448.4 517.8 449.3 513.9 450.2 518.8 451.1 514.8 452.0 519.6 452.9 515.6 453.8 520.0 454.7 516.9 455.6 521.9 456.5 518.0 457.4 522.1 458.3 517.9 459.2 522.5 460.1 519.0 461.0 522.9 461.9 518.3 462.8 522.7 463.7 518.1 464.6 522.6 465.5 518.5 466.4 523.3 467.3 518.4 468.2 522.9 469.1 518.4 470.0 522.5 470.9 517.6 471.8 522.4 472.7 517.7 473.6 522.2 474.5 516.8 475.4 521.3 476.3 517.2 477.2 521.5 478.1 516.3 479.0 520.8 479.9 515.9 480.8 520.8 481.7 515.6 482.6 520.8 483.5 516.9 484.4 521.5 485.3 517.5 486.2 522.3 487.1 518.8 488.0 524.1 488.9 520.3 489.8 525.4 490.7 521.8 491.6 526.9 492.5 522.8 493.4 527.3 494.3 522.4 495.2 527.0 496.1 522.1 497.0 526.8 497.9 523.0 498.8 527.6 499.7 523.1 500.6 527.6 501.5 523.1 502.4 527.6 503.3 522.9 504.2 527.4 505.1 522.6 506.0 527.0 506.9 522.6 507.8 527.2 508.7 522.9 509.6 527.3 510.5 521.9 511.4 526.4 512.3 522.5 513.2 526.5 514.1 521.8 515.0 526.6 515.9 522.3 516.8 527.0 517.7 522.7 518.6 527.3 519.5 522.6 520.4 527.2 521.3 523.3 522.2 528.3 523.1 523.5 524.0 528.6 524.9 524.7 525.8 529.9 526.7 525.6 527.6 530.4 528.5 526.0 529.4 530.4 530.3 525.9 531.2 531.1 532.1 527.4 533.0 531.6 533.9 527.5 534.8 532.7 535.7 528.7 536.6 533.1 537.5 529.1 538.4 534.0 539.3 529.5 540.2 534.2 541.1 529.4 542.0 534.2 542.9 529.8 543.8 534.9 544.7 530.5 545.6 535.1 546.5 530.9 547.4 536.0 548.3 531.4 549.2 536.6 550.1 532.0 551.0 536.2 551.9 532.1 552.8 537.4 553.7 533.0 554.6 538.1 555.5 534.4 556.4 538.5 557.3 535.0 558.2 539.5 559.1 534.8 560.0 540.1 560.9 535.3 561.8 540.2 562.7 536.5 563.6 540.4 564.5 536.4 565.4 540.3 566.3 536.2 567.2 540.0 568.1 535.5 569.0 540.2 569.9 535.1 570.8 540.4 571.7 535.5 572.6 540.1 573.5 534.7 574.4 539.4 575.3 534.2 576.2 539.1 577.1 535.1 578.0 538.6 578.9 534.7 579.8 539.1 580.7 534.3 581.6 539.0 582.5 534.8 583.4 538.4 584.3 534.1 585.2 538.8 586.1 534.2 587.0 538.2 587.9 534.3 588.8 538.8 589.7 533.7 590.6 538.2 591.5 533.4 592.4 537.9 593.3 534.2 594.2 538.3 595.1 533.5 596.0 538.4 596.9 533.7 597.8 538.9 598.7 534.1 599.6 538.1 600.5 534.2 601.4 538.9 602.3 534.9 603.2 538.7 604.1 534.7 605.0 540.2 605.9 534.9 606.8 540.0 607.7 535.9 608.6 540.9 609.5 535.7 610.4 540.8 611.3 536.2 612.2 541.7 613.1 537.6 614.0 541.9 614.9 538.3 615.8 542.4 616.7 538.2 617.6 543.3 618.5 538.9 619.4 543.6 620.3 539.0 621.2 543.8 622.1 539.3 623.0 544.1 623.9 539.7 624.8 544.4 625.7 539.6 626.6 544.3 627.5 540.0 628.4 545.3 629.3 541.2 630.2 545.6 631.1 541.1 632.0 545.6 632.9 541.2 633.8 546.0 634.7 541.4 635.6 546.1 636.5 541.9 637.4 545.6 638.3 541.4 639.2 546.7 640.1 542.1 641.0 546.5 641.9 541.5 642.8 545.8 643.7 541.1 644.6 545.2 645.5 540.2 646.4 544.5 647.3 539.5 648.2 543.1 649.1 538.3 650.0 542.0 650.9 537.1 651.8 541.9 652.7 536.5 653.6 540.9 654.5 536.4 655.4 540.7 656.3 537.0 657.2 541.0 658.1 536.7 659.0 541.4 659.9 537.0 660.8 541.2 661.7 537.1 662.6 541.7 663.5 537.8 664.4 542.6 665.3 537.7 666.2 542.8 667.1 537.7 668.0 543.1 668.9 538.6 669.8 543.4 670.7 538.3 671.6 542.9 672.5 538.6 673.4 542.7 674.3 538.3 675.2 542.3 676.1 538.1 677.0 542.7 677.9 538.1 678.8 543.1 679.7 538.3 680.6 542.6 681.5 538.7 682.4 543.4 683.3 539.1 684.2 544.4 685.1 540.1 686.0 545.2 686.9 541.3 687.8 546.1 688.7 541.1 689.6 546.8 690.5 541.8 691.4 546.8 692.3 542.1 693.2 547.3 694.1 543.1 695.0 547.2 695.9 542.2 696.8 547.1 697.7 541.9 698.6 545.9 699.5 541.1 700.4 546.2 701.3 540.9 702.2 545.4 703.1 540.3 704.0 543.8 704.9 539.3 705.8 543.1 706.7 537.4 707.6 542.3 708.5 537.3 709.4 541.0 710.3 535.6 711.2 539.0 712.1 533.5 713.0 537.4 713.9 532.4 714.8 535.2 715.7 529.6 716.6 533.8 717.5 528.5 718.4 532.2 719.3 527.7 720.2 531.9 721.1 527.2 722.0 531.4 722.9 526.1 723.8 530.8 724.7 525.9 725.6 530.7 726.5 526.5 727.4 531.0 728.3 527.5 729.2 531.7 730.1 528.5 731.0 533.4 731.9 529.3 732.8 534.4 733.7 530.4 734.6 535.9 735.5 530.9 736.4 535.9 737.3 531.8 738.2 537.0 739.1 532.3 740.0 536.7 740.9 531.7 741.8 536.3 742.7 531.4 743.6 535.9 744.5 531.0 745.4 535.6 746.3 530.3 747.2 534.5 748.1 529.9 749.0 534.6 749.9 529.4 750.8 534.5 751.7 529.9 752.6 534.4 753.5 530.3 754.4 534.6 755.3 530.5 756.2 535.7 757.1 530.9 758.0 535.3 758.9 531.9 759.8 536.4 M787.7 534.5 788.6 539.2 789.5 534.3 790.4 538.3 791.3 534.3 792.2 538.9 793.1 533.4 794.0 538.3 794.9 533.8 795.8 538.3 796.7 533.2 797.6 537.5 798.5 533.2 799.4 538.5 800.3 533.5 801.2 537.8 802.1 532.8 803.0 537.7 803.9 533.4 804.8 538.1 805.7 533.2 806.6 537.8 807.5 533.3 808.4 537.7 809.3 533.2 810.2 537.8 811.1 533.0 812.0 537.9 812.9 532.8 813.8 537.8 814.7 532.9 815.6 537.5 816.5 533.1 817.4 537.4 818.3 532.6 819.2 536.9 820.1 532.7 821.0 537.7 821.9 533.1 822.8 537.3 823.7 532.5 824.6 537.4 825.5 533.6 826.4 537.7 827.3 533.4 828.2 538.5 829.1 533.6 830.0 538.7 830.9 534.3 831.8 539.3 832.7 534.2 833.6 538.7 834.5 534.7 835.4 540.0 836.3 535.1 837.2 540.5 838.1 536.0 839.0 540.6 839.9 536.2 840.8 540.7 841.7 536.4 842.6 541.4 843.5 537.1 844.4 542.3 845.3 537.4 846.2 541.9 847.1 538.6 848.0 543.0 848.9 538.1 849.8 542.4 850.7 538.8 851.6 542.8 852.5 538.6 853.4 543.2 854.3 538.4 855.2 543.0 856.1 537.6 857.0 542.2 857.9 537.3 858.8 542.1 859.7 537.5 860.6 541.5 861.5 537.3 862.4 540.4 863.3 535.6 864.2 540.5 865.1 535.0 866.0 538.9 866.9 534.3 867.8 538.8 868.7 533.8 869.6 537.9 870.5 533.1 871.4 537.3 872.3 533.4 873.2 537.6 874.1 533.6 875.0 538.1 875.9 533.8 876.8 538.7 877.7 533.5 878.6 538.9 879.5 533.9 880.4 538.9 881.3 534.8 882.2 539.6 883.1 535.4 884.0 539.7 884.9 535.1 885.8 539.5 886.7 536.0 887.6 540.5 888.5 535.6 889.4 540.7 890.3 536.5 891.2 541.6 892.1 537.0 893.0 541.8 893.9 537.5 894.8 542.6 895.7 537.7 896.6 542.7 897.5 538.1 898.4 542.4 899.3 538.4 900.2 542.5 901.1 537.5 902.0 541.0 902.9 535.5 903.8 539.5 904.7 534.7 905.6 538.7 906.5 534.1 907.4 539.1 908.3 533.9 909.2 539.1 910.1 534.2 911.0 538.8 911.9 534.6 912.8 538.3 913.7 534.0 914.6 538.2 915.5 533.8 916.4 538.4 917.3 534.0 918.2 538.7 919.1 534.1 920.0 539.0 920.9 534.5 921.8 539.1 922.7 534.0 923.6 538.8 924.5 534.2 925.4 538.6 926.3 533.7 927.2 538.6 928.1 534.5 929.0 538.7 929.9 533.7 930.8 539.0 931.7 533.9 932.6 538.2 933.5 533.4 934.4 538.1 935.3 533.0 936.2 538.1 937.1 532.8 938.0 537.9 938.9 532.5 939.8 537.5 940.7 532.2 941.6 536.3 942.5 531.8 943.4 536.6 944.3 531.7 945.2 535.6 946.1 531.5 947.0 536.0 947.9 531.3 948.8 534.7 949.7 530.2 950.6 535.4 951.5 529.8 952.4 534.9 953.3 529.6 954.2 534.3 955.1 529.4 956.0 534.2 956.9 529.6 957.8 533.5 958.7 529.1 959.6 534.0 960.5 529.0 961.4 534.1 962.3 530.0 963.2 534.1 964.1 530.9 965.0 534.7 965.9 530.8 966.8 536.2 967.7 531.9 968.6 535.9 969.5 531.9 970.4 536.6 971.3 533.2 972.2 537.8 973.1 533.6 974.0 537.9 974.9 533.5 975.8 538.9 976.7 533.9 977.6 539.4 978.5 535.5 979.4 539.5 980.3 535.6 981.2 540.6 982.1 536.6 983.0 540.7 983.9 536.9 984.8 541.2 985.7 537.2 986.6 541.5 987.5 536.9 988.4 541.6 989.3 536.8 990.2 541.6 991.1 537.4 992.0 542.1 992.9 537.0 993.8 542.0 994.7 537.5 995.6 542.2 996.5 537.0 997.4 541.5 998.3 537.4 999.2 541.2 1000.1 537.7 1001.0 541.3 1001.9 537.4 1002.8 541.9 1003.7 537.7 1004.6 541.8 1005.5 538.5 1006.4 542.4 1007.3 539.3 1008.2 543.4 1009.1 539.4 1010.0 544.1 1010.9 540.0 1011.8 545.9 1012.7 541.1 1013.6 545.7 1014.5 542.4 1015.4 546.9 1016.3 542.2 1017.2 548.0 1018.1 543.0 1019.0 548.3 1019.9 544.0 1020.8 548.2 1021.7 543.8 1022.6 548.1 1023.5 544.1 1024.4 548.9 1025.3 544.0 1026.2 548.8 1027.1 545.4 1028.0 549.7 1028.9 546.5 1029.8 551.0 1030.7 550.4 1031.6 564.3" fill="none" stroke="#0000ff" stroke-width="1.15" stroke-linejoin="bevel"/><path d="M1031.8 550 L1032.2 586" stroke="#0000ff" stroke-width="1.1"/><path d="M282.8 683.8 283.8 682.4 284.8 683.7 285.8 682.4 286.8 683.6 287.8 682.2 288.8 683.5 289.8 682.1 290.8 683.4 291.8 682.1 292.8 683.5 293.8 682.0 294.8 683.2 295.8 681.6 296.8 683.1 297.8 681.9 298.8 683.1 299.8 681.6 300.8 683.1 301.8 681.8 302.8 683.2 303.8 681.6 304.8 683.1 305.8 681.6 306.8 683.2 307.8 681.7 308.8 683.1 309.8 681.6 310.8 683.1 311.8 681.8 312.8 683.2 313.8 681.8 314.8 683.2 315.8 681.7 316.8 683.2 317.8 681.6 318.8 683.2 319.8 681.6 320.8 683.0 321.8 681.5 322.8 683.2 323.8 681.6 324.8 683.2 325.8 681.5 326.8 683.2 327.8 681.7 328.8 683.2 329.8 681.5 330.8 683.2 331.8 681.7 332.8 683.1 333.8 681.5 334.8 683.1 335.8 681.7 336.8 683.0 337.8 681.4 338.8 683.1 339.8 681.8 340.8 682.9 341.8 681.6 342.8 682.9 343.8 681.6 344.8 683.1 345.8 681.7 346.8 682.9 347.8 681.4 348.8 682.9 349.8 681.7 350.8 683.1 351.8 681.5 352.8 683.0 353.8 681.4 354.8 682.9 355.8 681.8 356.8 683.1 357.8 681.5 358.8 683.0 359.8 681.5 360.8 682.9 361.8 681.6 362.8 683.0 363.8 681.4 364.8 682.9 365.8 681.7 366.8 682.9 367.8 681.6 368.8 683.0 369.8 681.5 370.8 683.1 371.8 681.4 372.8 683.1 373.8 681.5 374.8 683.0 375.8 681.5 376.8 683.1 377.8 681.4 378.8 682.9 379.8 681.5 380.8 682.9 381.8 681.7 382.8 683.1 383.8 681.6 384.8 683.0 385.8 681.6 386.8 683.0 387.8 681.7 388.8 683.0 389.8 681.4 390.8 683.0 391.8 681.5 392.8 683.0 393.8 681.6 394.8 683.1 395.8 681.6 396.8 682.9 397.8 681.5 398.8 683.1 399.8 681.5 400.8 683.0 401.8 681.7 402.8 683.1 403.8 681.6 404.8 683.0 405.8 681.5 406.8 683.1 407.8 681.7 408.8 682.8 409.8 681.6 410.8 682.9 411.8 681.5 412.8 682.8 413.8 681.7 414.8 683.0 415.8 681.7 416.8 683.1 417.8 681.6 418.8 682.9 419.8 681.5 420.8 683.1 421.8 681.6 422.8 682.9 423.8 681.6 424.8 683.1 425.8 681.4 426.8 682.8 427.8 681.7 428.8 682.9 429.8 681.6 430.8 683.0 431.8 681.5 432.8 683.0 433.8 681.6 434.8 682.9 435.8 681.4 436.8 682.8 437.8 681.7 438.8 682.8 439.8 681.4 440.8 683.0 441.8 681.4 442.8 683.0 443.8 681.4 444.8 683.0 445.8 681.6 446.8 682.8 447.8 681.5 448.8 682.8 449.8 681.4 450.8 683.0 451.8 681.6 452.8 683.0 453.8 681.5 454.8 683.0 455.8 681.3 456.8 682.9 457.8 681.5 458.8 682.9 459.8 681.3 460.8 682.8 461.8 681.5 462.8 682.8 463.8 681.5 464.8 683.1 465.8 681.4 466.8 682.8 467.8 681.3 468.8 683.0 469.8 681.5 470.8 683.1 471.8 681.5 472.8 682.8 473.8 681.5 474.8 683.0 475.8 681.5 476.8 682.8 477.8 681.5 478.8 682.8 479.8 681.6 480.8 682.8 481.8 681.5 482.8 682.9 483.8 681.6 484.8 683.0 485.8 681.5 486.8 683.0 487.8 681.6 488.8 683.0 489.8 681.6 490.8 682.9 491.8 681.5 492.8 683.0 493.8 681.5 494.8 683.1 495.8 681.4 496.8 682.9 497.8 681.4 498.8 682.8 499.8 681.4 500.8 682.9 501.8 681.6 502.8 683.0 503.8 681.6 504.8 682.7 505.8 681.6 506.8 682.9 507.8 681.4 508.8 682.8 509.8 681.4 510.8 683.1 511.8 681.3 512.8 683.0 513.8 681.5 514.8 682.9 515.8 681.4 516.8 683.0 517.8 681.3 518.8 682.9 519.8 681.5 520.8 682.8 521.8 681.4 522.8 683.1 523.8 681.4 524.8 682.9 525.8 681.4 526.8 682.9 527.8 681.4 528.8 682.8 529.8 681.6 530.8 682.9 531.8 681.5 532.8 682.8 533.8 681.3 534.8 683.0 535.8 681.5 536.8 683.1 537.8 681.6 538.8 682.8 539.8 681.3 540.8 683.0 541.8 681.3 542.8 682.8 543.8 681.4 544.8 682.7 545.8 681.6 546.8 683.0 547.8 681.6 548.8 682.7 549.8 681.6 550.8 682.9 551.8 681.4 552.8 682.8 553.8 681.5 554.8 683.0 555.8 681.5 556.8 682.7 557.8 681.4 558.8 682.7 559.8 681.4 560.8 682.8 561.8 681.6 562.8 682.9 563.8 681.3 564.8 682.8 565.8 681.5 566.8 683.0 567.8 681.5 568.8 682.8 569.8 681.5 570.8 682.8 571.8 681.5 572.8 683.0 573.8 681.6 574.8 683.0 575.8 681.4 576.8 682.7 577.8 681.5 578.8 682.9 579.8 681.4 580.8 682.7 581.8 681.5 582.8 683.0 583.8 681.3 584.8 682.9 585.8 681.2 586.8 682.7 587.8 681.5 588.8 683.0 589.8 681.4 590.8 682.8 591.8 681.3 592.8 683.0 593.8 681.2 594.8 682.9 595.8 681.4 596.8 682.9 597.8 681.5 598.8 682.7 599.8 681.5 600.8 682.9 601.8 681.2 602.8 682.9 603.8 681.5 604.8 682.9 605.8 681.4 606.8 682.9 607.8 681.4 608.8 682.7 609.8 681.4 610.8 682.7 611.8 681.4 612.8 682.8 613.8 681.4 614.8 682.9 615.8 681.2 616.8 682.9 617.8 681.3 618.8 682.8 619.8 681.5 620.8 682.8 621.8 681.5 622.8 682.6 623.8 681.3 624.8 682.7 625.8 681.2 626.8 682.9 627.8 681.3 628.8 682.9 629.8 681.5 630.8 682.7 631.8 681.3 632.8 683.0 633.8 681.5 634.8 682.8 635.8 681.2 636.8 682.7 637.8 681.3 638.8 682.9 639.8 681.4 640.8 682.8 641.8 681.2 642.8 682.8 643.8 681.4 644.8 682.8 645.8 681.5 646.8 682.9 647.8 681.5 648.8 682.9 649.8 681.2 650.8 682.9 651.8 681.2 652.8 682.8 653.8 681.4 654.8 682.8 655.8 681.3 656.8 682.6 657.8 681.2 658.8 682.7 659.8 681.3 660.8 682.7 661.8 681.4 662.8 682.9 663.8 681.2 664.8 682.6 665.8 681.2 666.8 682.9 667.8 681.2 668.8 682.8 669.8 681.4 670.8 682.8 671.8 681.4 672.8 682.9 673.8 681.2 674.8 682.7 675.8 681.2 676.8 682.9 677.8 681.4 678.8 682.6 679.8 681.5 680.8 682.8 681.8 681.5 682.8 682.7 683.8 681.2 684.8 682.7 685.8 681.4 686.8 682.6 687.8 681.5 688.8 682.8 689.8 681.4 690.8 682.9 691.8 681.5 692.8 682.7 693.8 681.4 694.8 682.9 695.8 681.2 696.8 682.6 697.8 681.5 698.8 682.6 699.8 681.2 700.8 682.8 701.8 681.2 702.8 682.7 703.8 681.3 704.8 682.8 705.8 681.4 706.8 682.8 707.8 681.2 708.8 682.8 709.8 681.4 710.8 682.6 711.8 681.1 712.8 682.9 713.8 681.2 714.8 682.8 715.8 681.3 716.8 682.9 717.8 681.2 718.8 682.7 719.8 681.2 720.8 682.6 721.8 681.3 722.8 682.9 723.8 681.3 724.8 682.7 725.8 681.3 726.8 682.9 727.8 681.4 728.8 682.8 729.8 681.3 730.8 682.6 731.8 681.4 732.8 682.8 733.8 681.4 734.8 682.8 735.8 681.3 736.8 682.7 737.8 681.1 738.8 682.6 739.8 681.3 740.8 682.7 741.8 681.4 742.8 682.7 743.8 681.1 744.8 682.6 745.8 681.2 746.8 682.6 747.8 681.3 748.8 682.7 749.8 681.4 750.8 682.8 751.8 681.3 752.8 682.6 753.8 681.4 754.8 682.9 755.8 681.1 756.8 682.7 757.8 681.4 758.8 682.8 759.8 681.4 M787.8 681.6 788.8 682.8 789.8 681.5 790.8 682.8 791.8 681.6 792.8 683.0 793.8 681.3 794.8 682.8 795.8 681.5 796.8 682.8 797.8 681.5 798.8 682.9 799.8 681.5 800.8 682.7 801.8 681.4 802.8 682.9 803.8 681.4 804.8 683.0 805.8 681.3 806.8 682.9 807.8 681.3 808.8 682.8 809.8 681.5 810.8 682.8 811.8 681.5 812.8 683.0 813.8 681.3 814.8 682.9 815.8 681.5 816.8 682.8 817.8 681.3 818.8 682.9 819.8 681.6 820.8 683.0 821.8 681.4 822.8 682.9 823.8 681.3 824.8 683.0 825.8 681.6 826.8 683.1 827.8 681.5 828.8 682.8 829.8 681.3 830.8 682.8 831.8 681.4 832.8 683.0 833.8 681.5 834.8 683.0 835.8 681.4 836.8 682.7 837.8 681.4 838.8 682.7 839.8 681.2 840.8 682.9 841.8 681.5 842.8 683.0 843.8 681.3 844.8 682.9 845.8 681.5 846.8 682.7 847.8 681.3 848.8 683.0 849.8 681.5 850.8 682.8 851.8 681.4 852.8 682.7 853.8 681.2 854.8 682.8 855.8 681.3 856.8 682.9 857.8 681.5 858.8 682.7 859.8 681.5 860.8 682.8 861.8 681.3 862.8 683.0 863.8 681.2 864.8 682.9 865.8 681.4 866.8 682.7 867.8 681.3 868.8 682.7 869.8 681.3 870.8 682.9 871.8 681.5 872.8 682.9 873.8 681.5 874.8 682.7 875.8 681.2 876.8 682.8 877.8 681.2 878.8 682.9 879.8 681.4 880.8 682.9 881.8 681.4 882.8 682.6 883.8 681.4 884.8 682.6 885.8 681.3 886.8 682.8 887.8 681.2 888.8 682.7 889.8 681.2 890.8 682.6 891.8 681.4 892.8 682.8 893.8 681.3 894.8 682.9 895.8 681.3 896.8 682.6 897.8 681.1 898.8 682.8 899.8 681.4 900.8 682.6 901.8 681.3 902.8 682.5 903.8 681.3 904.8 682.8 905.8 681.1 906.8 682.6 907.8 681.3 908.8 682.6 909.8 681.2 910.8 682.5 911.8 681.1 912.8 682.5 913.8 681.2 914.8 682.7 915.8 681.1 916.8 682.7 917.8 681.1 918.8 682.7 919.8 681.3 920.8 682.6 921.8 681.2 922.8 682.7 923.8 681.1 924.8 682.6 925.8 681.2 926.8 682.6 927.8 681.2 928.8 682.4 929.8 681.2 930.8 682.6 931.8 681.1 932.8 682.6 933.8 681.1 934.8 682.6 935.8 681.2 936.8 682.5 937.8 681.1 938.8 682.8 939.8 681.1 940.8 682.5 941.8 681.1 942.8 682.6 943.8 681.0 944.8 682.4 945.8 681.0 946.8 682.6 947.8 681.0 948.8 682.6 949.8 681.3 950.8 682.6 951.8 681.1 952.8 682.5 953.8 681.3 954.8 682.5 955.8 681.1 956.8 682.6 957.8 681.3 958.8 682.4 959.8 681.1 960.8 682.6 961.8 681.0 962.8 682.5 963.8 681.2 964.8 682.7 965.8 681.2 966.8 682.4 967.8 681.2 968.8 682.5 969.8 681.2 970.8 682.7 971.8 681.2 972.8 682.4 973.8 681.0 974.8 682.4 975.8 681.2 976.8 682.5 977.8 681.2 978.8 682.6 979.8 681.2 980.8 682.6 981.8 681.2 982.8 682.6 983.8 680.9 984.8 682.6 985.8 680.9 986.8 682.5 987.8 681.2 988.8 682.5 989.8 681.0 990.8 682.4 991.8 681.0 992.8 682.5 993.8 680.9 994.8 682.5 995.8 681.1 996.8 682.4 997.8 681.1 998.8 682.7 999.8 681.1 1000.8 682.6 1001.8 681.1 1002.8 682.4 1003.8 681.0 1004.8 682.6 1005.8 681.0 1006.8 682.4 1007.8 681.2 1008.8 682.5 1009.8 681.2 1010.8 682.4 1011.8 681.2 1012.8 682.5 1013.8 680.9 1014.8 682.6 1015.8 681.1 1016.8 682.6 1017.8 681.1 1018.8 682.4 1019.8 681.0 1020.8 682.6 1021.8 681.0 1022.8 682.6 1023.8 681.0 1024.8 682.6 1025.8 681.2 1026.8 682.7 1027.8 681.0 1028.8 682.6 1029.8 681.0 1030.8 682.4 1031.8 681.2" fill="none" stroke="#0000ff" stroke-width="2.40" stroke-linejoin="bevel"/><path d="M760 682.8 L787.5 682.8" stroke="#0000ff" stroke-width="1.3"/><path d="M1032.0 686.0 1033.0 684.5 1034.0 685.9 1035.0 684.6 1036.0 685.8 1037.0 684.4 1038.0 685.6 1039.0 684.4 1040.0 685.6 1041.0 684.4 1042.0 685.5 1043.0 684.3 1044.0 685.7 1045.0 684.2 1046.0 685.7 1047.0 684.1 1048.0 685.7 1049.0 684.2 1050.0 685.4 1051.0 684.2 1052.0 685.3 1053.0 684.1 1054.0 685.4 1055.0 684.1 1056.0 685.5 1057.0 684.2 1058.0 685.5 1059.0 684.2 1060.0 685.3 1061.0 684.1 1062.0 685.1 1063.0 684.0" fill="none" stroke="#0000ff" stroke-width="1.60" stroke-linejoin="bevel"/><path d="M760.6 500.8v1.6M760.6 507.7v1.6M760.6 517.5v1.6M760.6 523.2v1.6M760.6 532.8v1.6M760.6 539.3v1.6M760.6 546.1v1.6M760.6 552.7v1.6M760.6 562.6v1.6M760.6 567.8v1.6M760.6 577.3v1.6M760.6 584.1v1.6M760.6 591.4v1.6M760.6 597.7v1.6M760.6 606.3v1.6M760.6 612.5v1.6M760.6 622.3v1.6M760.6 629.6v1.6M760.6 635.4v1.6M760.6 644.0v1.6M760.6 650.5v1.6M760.6 659.6v1.6M760.6 665.6v1.6M760.6 673.0v1.6M760.6 680.9v1.6M760.6 690.4v1.6M786.9 502.5v1.6M786.9 508.7v1.6M786.9 517.4v1.6M786.9 523.6v1.6M786.9 530.6v1.6M786.9 540.2v1.6M786.9 545.1v1.6M786.9 554.9v1.6M786.9 562.9v1.6M786.9 567.8v1.6M786.9 577.6v1.6M786.9 584.8v1.6M786.9 590.1v1.6M786.9 598.8v1.6M786.9 605.8v1.6M786.9 613.7v1.6M786.9 621.1v1.6M786.9 628.7v1.6M786.9 635.0v1.6M786.9 643.3v1.6M786.9 650.9v1.6M786.9 659.4v1.6M786.9 667.1v1.6M786.9 674.8v1.6M786.9 681.9v1.6M786.9 690.2v1.6" stroke="#5070ff" stroke-width="0.9" opacity="0.55"/></g><g><rect x="74.50" y="65.50" width="1155.00" height="208.00" fill="none" stroke="#000" stroke-width="1.11"/><rect x="74.50" y="273.50" width="1155.00" height="208.00" fill="none" stroke="#000" stroke-width="1.11"/><rect x="74.50" y="481.50" width="1155.00" height="208.00" fill="none" stroke="#000" stroke-width="1.11"/><line x1="74.50" y1="65.30" x2="74.50" y2="62.52" stroke="#000" stroke-width="0.83"/><line x1="74.50" y1="273.30" x2="74.50" y2="276.08" stroke="#000" stroke-width="0.83"/><line x1="74.50" y1="481.30" x2="74.50" y2="484.08" stroke="#000" stroke-width="0.83"/><line x1="74.50" y1="689.30" x2="74.50" y2="692.08" stroke="#000" stroke-width="0.83"/><line x1="92.50" y1="65.30" x2="92.50" y2="62.52" stroke="#000" stroke-width="0.83"/><line x1="92.50" y1="273.30" x2="92.50" y2="276.08" stroke="#000" stroke-width="0.83"/><line x1="92.50" y1="481.30" x2="92.50" y2="484.08" stroke="#000" stroke-width="0.83"/><line x1="92.50" y1="689.30" x2="92.50" y2="692.08" stroke="#000" stroke-width="0.83"/><line x1="110.50" y1="65.30" x2="110.50" y2="60.44" stroke="#000" stroke-width="1.11"/><line x1="110.50" y1="273.30" x2="110.50" y2="278.16" stroke="#000" stroke-width="1.11"/><line x1="110.50" y1="481.30" x2="110.50" y2="486.16" stroke="#000" stroke-width="1.11"/><line x1="110.50" y1="689.30" x2="110.50" y2="694.16" stroke="#000" stroke-width="1.11"/><line x1="128.50" y1="65.30" x2="128.50" y2="62.52" stroke="#000" stroke-width="0.83"/><line x1="128.50" y1="273.30" x2="128.50" y2="276.08" stroke="#000" stroke-width="0.83"/><line x1="128.50" y1="481.30" x2="128.50" y2="484.08" stroke="#000" stroke-width="0.83"/><line x1="128.50" y1="689.30" x2="128.50" y2="692.08" stroke="#000" stroke-width="0.83"/><line x1="146.50" y1="65.30" x2="146.50" y2="62.52" stroke="#000" stroke-width="0.83"/><line x1="146.50" y1="273.30" x2="146.50" y2="276.08" stroke="#000" stroke-width="0.83"/><line x1="146.50" y1="481.30" x2="146.50" y2="484.08" stroke="#000" stroke-width="0.83"/><line x1="146.50" y1="689.30" x2="146.50" y2="692.08" stroke="#000" stroke-width="0.83"/><line x1="164.50" y1="65.30" x2="164.50" y2="62.52" stroke="#000" stroke-width="0.83"/><line x1="164.50" y1="273.30" x2="164.50" y2="276.08" stroke="#000" stroke-width="0.83"/><line x1="164.50" y1="481.30" x2="164.50" y2="484.08" stroke="#000" stroke-width="0.83"/><line x1="164.50" y1="689.30" x2="164.50" y2="692.08" stroke="#000" stroke-width="0.83"/><line x1="182.50" y1="65.30" x2="182.50" y2="62.52" stroke="#000" stroke-width="0.83"/><line x1="182.50" y1="273.30" x2="182.50" y2="276.08" stroke="#000" stroke-width="0.83"/><line x1="182.50" y1="481.30" x2="182.50" y2="484.08" stroke="#000" stroke-width="0.83"/><line x1="182.50" y1="689.30" x2="182.50" y2="692.08" stroke="#000" stroke-width="0.83"/><line x1="200.50" y1="65.30" x2="200.50" y2="62.52" stroke="#000" stroke-width="0.83"/><line x1="200.50" y1="273.30" x2="200.50" y2="276.08" stroke="#000" stroke-width="0.83"/><line x1="200.50" y1="481.30" x2="200.50" y2="484.08" stroke="#000" stroke-width="0.83"/><line x1="200.50" y1="689.30" x2="200.50" y2="692.08" stroke="#000" stroke-width="0.83"/><line x1="218.50" y1="65.30" x2="218.50" y2="60.44" stroke="#000" stroke-width="1.11"/><line x1="218.50" y1="273.30" x2="218.50" y2="278.16" stroke="#000" stroke-width="1.11"/><line x1="218.50" y1="481.30" x2="218.50" y2="486.16" stroke="#000" stroke-width="1.11"/><line x1="218.50" y1="689.30" x2="218.50" y2="694.16" stroke="#000" stroke-width="1.11"/><line x1="236.50" y1="65.30" x2="236.50" y2="62.52" stroke="#000" stroke-width="0.83"/><line x1="236.50" y1="273.30" x2="236.50" y2="276.08" stroke="#000" stroke-width="0.83"/><line x1="236.50" y1="481.30" x2="236.50" y2="484.08" stroke="#000" stroke-width="0.83"/><line x1="236.50" y1="689.30" x2="236.50" y2="692.08" stroke="#000" stroke-width="0.83"/><line x1="254.50" y1="65.30" x2="254.50" y2="62.52" stroke="#000" stroke-width="0.83"/><line x1="254.50" y1="273.30" x2="254.50" y2="276.08" stroke="#000" stroke-width="0.83"/><line x1="254.50" y1="481.30" x2="254.50" y2="484.08" stroke="#000" stroke-width="0.83"/><line x1="254.50" y1="689.30" x2="254.50" y2="692.08" stroke="#000" stroke-width="0.83"/><line x1="272.50" y1="65.30" x2="272.50" y2="62.52" stroke="#000" stroke-width="0.83"/><line x1="272.50" y1="273.30" x2="272.50" y2="276.08" stroke="#000" stroke-width="0.83"/><line x1="272.50" y1="481.30" x2="272.50" y2="484.08" stroke="#000" stroke-width="0.83"/><line x1="272.50" y1="689.30" x2="272.50" y2="692.08" stroke="#000" stroke-width="0.83"/><line x1="290.50" y1="65.30" x2="290.50" y2="62.52" stroke="#000" stroke-width="0.83"/><line x1="290.50" y1="273.30" x2="290.50" y2="276.08" stroke="#000" stroke-width="0.83"/><line x1="290.50" y1="481.30" x2="290.50" y2="484.08" stroke="#000" stroke-width="0.83"/><line x1="290.50" y1="689.30" x2="290.50" y2="692.08" stroke="#000" stroke-width="0.83"/><line x1="309.50" y1="65.30" x2="309.50" y2="62.52" stroke="#000" stroke-width="0.83"/><line x1="309.50" y1="273.30" x2="309.50" y2="276.08" stroke="#000" stroke-width="0.83"/><line x1="309.50" y1="481.30" x2="309.50" y2="484.08" stroke="#000" stroke-width="0.83"/><line x1="309.50" y1="689.30" x2="309.50" y2="692.08" stroke="#000" stroke-width="0.83"/><line x1="327.50" y1="65.30" x2="327.50" y2="60.44" stroke="#000" stroke-width="1.11"/><line x1="327.50" y1="273.30" x2="327.50" y2="278.16" stroke="#000" stroke-width="1.11"/><line x1="327.50" y1="481.30" x2="327.50" y2="486.16" stroke="#000" stroke-width="1.11"/><line x1="327.50" y1="689.30" x2="327.50" y2="694.16" stroke="#000" stroke-width="1.11"/><line x1="345.50" y1="65.30" x2="345.50" y2="62.52" stroke="#000" stroke-width="0.83"/><line x1="345.50" y1="273.30" x2="345.50" y2="276.08" stroke="#000" stroke-width="0.83"/><line x1="345.50" y1="481.30" x2="345.50" y2="484.08" stroke="#000" stroke-width="0.83"/><line x1="345.50" y1="689.30" x2="345.50" y2="692.08" stroke="#000" stroke-width="0.83"/><line x1="363.50" y1="65.30" x2="363.50" y2="62.52" stroke="#000" stroke-width="0.83"/><line x1="363.50" y1="273.30" x2="363.50" y2="276.08" stroke="#000" stroke-width="0.83"/><line x1="363.50" y1="481.30" x2="363.50" y2="484.08" stroke="#000" stroke-width="0.83"/><line x1="363.50" y1="689.30" x2="363.50" y2="692.08" stroke="#000" stroke-width="0.83"/><line x1="381.50" y1="65.30" x2="381.50" y2="62.52" stroke="#000" stroke-width="0.83"/><line x1="381.50" y1="273.30" x2="381.50" y2="276.08" stroke="#000" stroke-width="0.83"/><line x1="381.50" y1="481.30" x2="381.50" y2="484.08" stroke="#000" stroke-width="0.83"/><line x1="381.50" y1="689.30" x2="381.50" y2="692.08" stroke="#000" stroke-width="0.83"/><line x1="399.50" y1="65.30" x2="399.50" y2="62.52" stroke="#000" stroke-width="0.83"/><line x1="399.50" y1="273.30" x2="399.50" y2="276.08" stroke="#000" stroke-width="0.83"/><line x1="399.50" y1="481.30" x2="399.50" y2="484.08" stroke="#000" stroke-width="0.83"/><line x1="399.50" y1="689.30" x2="399.50" y2="692.08" stroke="#000" stroke-width="0.83"/><line x1="417.50" y1="65.30" x2="417.50" y2="62.52" stroke="#000" stroke-width="0.83"/><line x1="417.50" y1="273.30" x2="417.50" y2="276.08" stroke="#000" stroke-width="0.83"/><line x1="417.50" y1="481.30" x2="417.50" y2="484.08" stroke="#000" stroke-width="0.83"/><line x1="417.50" y1="689.30" x2="417.50" y2="692.08" stroke="#000" stroke-width="0.83"/><line x1="435.50" y1="65.30" x2="435.50" y2="60.44" stroke="#000" stroke-width="1.11"/><line x1="435.50" y1="273.30" x2="435.50" y2="278.16" stroke="#000" stroke-width="1.11"/><line x1="435.50" y1="481.30" x2="435.50" y2="486.16" stroke="#000" stroke-width="1.11"/><line x1="435.50" y1="689.30" x2="435.50" y2="694.16" stroke="#000" stroke-width="1.11"/><line x1="453.50" y1="65.30" x2="453.50" y2="62.52" stroke="#000" stroke-width="0.83"/><line x1="453.50" y1="273.30" x2="453.50" y2="276.08" stroke="#000" stroke-width="0.83"/><line x1="453.50" y1="481.30" x2="453.50" y2="484.08" stroke="#000" stroke-width="0.83"/><line x1="453.50" y1="689.30" x2="453.50" y2="692.08" stroke="#000" stroke-width="0.83"/><line x1="471.50" y1="65.30" x2="471.50" y2="62.52" stroke="#000" stroke-width="0.83"/><line x1="471.50" y1="273.30" x2="471.50" y2="276.08" stroke="#000" stroke-width="0.83"/><line x1="471.50" y1="481.30" x2="471.50" y2="484.08" stroke="#000" stroke-width="0.83"/><line x1="471.50" y1="689.30" x2="471.50" y2="692.08" stroke="#000" stroke-width="0.83"/><line x1="489.50" y1="65.30" x2="489.50" y2="62.52" stroke="#000" stroke-width="0.83"/><line x1="489.50" y1="273.30" x2="489.50" y2="276.08" stroke="#000" stroke-width="0.83"/><line x1="489.50" y1="481.30" x2="489.50" y2="484.08" stroke="#000" stroke-width="0.83"/><line x1="489.50" y1="689.30" x2="489.50" y2="692.08" stroke="#000" stroke-width="0.83"/><line x1="507.50" y1="65.30" x2="507.50" y2="62.52" stroke="#000" stroke-width="0.83"/><line x1="507.50" y1="273.30" x2="507.50" y2="276.08" stroke="#000" stroke-width="0.83"/><line x1="507.50" y1="481.30" x2="507.50" y2="484.08" stroke="#000" stroke-width="0.83"/><line x1="507.50" y1="689.30" x2="507.50" y2="692.08" stroke="#000" stroke-width="0.83"/><line x1="525.50" y1="65.30" x2="525.50" y2="62.52" stroke="#000" stroke-width="0.83"/><line x1="525.50" y1="273.30" x2="525.50" y2="276.08" stroke="#000" stroke-width="0.83"/><line x1="525.50" y1="481.30" x2="525.50" y2="484.08" stroke="#000" stroke-width="0.83"/><line x1="525.50" y1="689.30" x2="525.50" y2="692.08" stroke="#000" stroke-width="0.83"/><line x1="543.50" y1="65.30" x2="543.50" y2="60.44" stroke="#000" stroke-width="1.11"/><line x1="543.50" y1="273.30" x2="543.50" y2="278.16" stroke="#000" stroke-width="1.11"/><line x1="543.50" y1="481.30" x2="543.50" y2="486.16" stroke="#000" stroke-width="1.11"/><line x1="543.50" y1="689.30" x2="543.50" y2="694.16" stroke="#000" stroke-width="1.11"/><line x1="561.50" y1="65.30" x2="561.50" y2="62.52" stroke="#000" stroke-width="0.83"/><line x1="561.50" y1="273.30" x2="561.50" y2="276.08" stroke="#000" stroke-width="0.83"/><line x1="561.50" y1="481.30" x2="561.50" y2="484.08" stroke="#000" stroke-width="0.83"/><line x1="561.50" y1="689.30" x2="561.50" y2="692.08" stroke="#000" stroke-width="0.83"/><line x1="579.50" y1="65.30" x2="579.50" y2="62.52" stroke="#000" stroke-width="0.83"/><line x1="579.50" y1="273.30" x2="579.50" y2="276.08" stroke="#000" stroke-width="0.83"/><line x1="579.50" y1="481.30" x2="579.50" y2="484.08" stroke="#000" stroke-width="0.83"/><line x1="579.50" y1="689.30" x2="579.50" y2="692.08" stroke="#000" stroke-width="0.83"/><line x1="597.50" y1="65.30" x2="597.50" y2="62.52" stroke="#000" stroke-width="0.83"/><line x1="597.50" y1="273.30" x2="597.50" y2="276.08" stroke="#000" stroke-width="0.83"/><line x1="597.50" y1="481.30" x2="597.50" y2="484.08" stroke="#000" stroke-width="0.83"/><line x1="597.50" y1="689.30" x2="597.50" y2="692.08" stroke="#000" stroke-width="0.83"/><line x1="615.50" y1="65.30" x2="615.50" y2="62.52" stroke="#000" stroke-width="0.83"/><line x1="615.50" y1="273.30" x2="615.50" y2="276.08" stroke="#000" stroke-width="0.83"/><line x1="615.50" y1="481.30" x2="615.50" y2="484.08" stroke="#000" stroke-width="0.83"/><line x1="615.50" y1="689.30" x2="615.50" y2="692.08" stroke="#000" stroke-width="0.83"/><line x1="633.50" y1="65.30" x2="633.50" y2="62.52" stroke="#000" stroke-width="0.83"/><line x1="633.50" y1="273.30" x2="633.50" y2="276.08" stroke="#000" stroke-width="0.83"/><line x1="633.50" y1="481.30" x2="633.50" y2="484.08" stroke="#000" stroke-width="0.83"/><line x1="633.50" y1="689.30" x2="633.50" y2="692.08" stroke="#000" stroke-width="0.83"/><line x1="651.50" y1="65.30" x2="651.50" y2="60.44" stroke="#000" stroke-width="1.11"/><line x1="651.50" y1="273.30" x2="651.50" y2="278.16" stroke="#000" stroke-width="1.11"/><line x1="651.50" y1="481.30" x2="651.50" y2="486.16" stroke="#000" stroke-width="1.11"/><line x1="651.50" y1="689.30" x2="651.50" y2="694.16" stroke="#000" stroke-width="1.11"/><line x1="669.50" y1="65.30" x2="669.50" y2="62.52" stroke="#000" stroke-width="0.83"/><line x1="669.50" y1="273.30" x2="669.50" y2="276.08" stroke="#000" stroke-width="0.83"/><line x1="669.50" y1="481.30" x2="669.50" y2="484.08" stroke="#000" stroke-width="0.83"/><line x1="669.50" y1="689.30" x2="669.50" y2="692.08" stroke="#000" stroke-width="0.83"/><line x1="687.50" y1="65.30" x2="687.50" y2="62.52" stroke="#000" stroke-width="0.83"/><line x1="687.50" y1="273.30" x2="687.50" y2="276.08" stroke="#000" stroke-width="0.83"/><line x1="687.50" y1="481.30" x2="687.50" y2="484.08" stroke="#000" stroke-width="0.83"/><line x1="687.50" y1="689.30" x2="687.50" y2="692.08" stroke="#000" stroke-width="0.83"/><line x1="706.50" y1="65.30" x2="706.50" y2="62.52" stroke="#000" stroke-width="0.83"/><line x1="706.50" y1="273.30" x2="706.50" y2="276.08" stroke="#000" stroke-width="0.83"/><line x1="706.50" y1="481.30" x2="706.50" y2="484.08" stroke="#000" stroke-width="0.83"/><line x1="706.50" y1="689.30" x2="706.50" y2="692.08" stroke="#000" stroke-width="0.83"/><line x1="724.50" y1="65.30" x2="724.50" y2="62.52" stroke="#000" stroke-width="0.83"/><line x1="724.50" y1="273.30" x2="724.50" y2="276.08" stroke="#000" stroke-width="0.83"/><line x1="724.50" y1="481.30" x2="724.50" y2="484.08" stroke="#000" stroke-width="0.83"/><line x1="724.50" y1="689.30" x2="724.50" y2="692.08" stroke="#000" stroke-width="0.83"/><line x1="742.50" y1="65.30" x2="742.50" y2="62.52" stroke="#000" stroke-width="0.83"/><line x1="742.50" y1="273.30" x2="742.50" y2="276.08" stroke="#000" stroke-width="0.83"/><line x1="742.50" y1="481.30" x2="742.50" y2="484.08" stroke="#000" stroke-width="0.83"/><line x1="742.50" y1="689.30" x2="742.50" y2="692.08" stroke="#000" stroke-width="0.83"/><line x1="760.50" y1="65.30" x2="760.50" y2="60.44" stroke="#000" stroke-width="1.11"/><line x1="760.50" y1="273.30" x2="760.50" y2="278.16" stroke="#000" stroke-width="1.11"/><line x1="760.50" y1="481.30" x2="760.50" y2="486.16" stroke="#000" stroke-width="1.11"/><line x1="760.50" y1="689.30" x2="760.50" y2="694.16" stroke="#000" stroke-width="1.11"/><line x1="778.50" y1="65.30" x2="778.50" y2="62.52" stroke="#000" stroke-width="0.83"/><line x1="778.50" y1="273.30" x2="778.50" y2="276.08" stroke="#000" stroke-width="0.83"/><line x1="778.50" y1="481.30" x2="778.50" y2="484.08" stroke="#000" stroke-width="0.83"/><line x1="778.50" y1="689.30" x2="778.50" y2="692.08" stroke="#000" stroke-width="0.83"/><line x1="796.50" y1="65.30" x2="796.50" y2="62.52" stroke="#000" stroke-width="0.83"/><line x1="796.50" y1="273.30" x2="796.50" y2="276.08" stroke="#000" stroke-width="0.83"/><line x1="796.50" y1="481.30" x2="796.50" y2="484.08" stroke="#000" stroke-width="0.83"/><line x1="796.50" y1="689.30" x2="796.50" y2="692.08" stroke="#000" stroke-width="0.83"/><line x1="814.50" y1="65.30" x2="814.50" y2="62.52" stroke="#000" stroke-width="0.83"/><line x1="814.50" y1="273.30" x2="814.50" y2="276.08" stroke="#000" stroke-width="0.83"/><line x1="814.50" y1="481.30" x2="814.50" y2="484.08" stroke="#000" stroke-width="0.83"/><line x1="814.50" y1="689.30" x2="814.50" y2="692.08" stroke="#000" stroke-width="0.83"/><line x1="832.50" y1="65.30" x2="832.50" y2="62.52" stroke="#000" stroke-width="0.83"/><line x1="832.50" y1="273.30" x2="832.50" y2="276.08" stroke="#000" stroke-width="0.83"/><line x1="832.50" y1="481.30" x2="832.50" y2="484.08" stroke="#000" stroke-width="0.83"/><line x1="832.50" y1="689.30" x2="832.50" y2="692.08" stroke="#000" stroke-width="0.83"/><line x1="850.50" y1="65.30" x2="850.50" y2="62.52" stroke="#000" stroke-width="0.83"/><line x1="850.50" y1="273.30" x2="850.50" y2="276.08" stroke="#000" stroke-width="0.83"/><line x1="850.50" y1="481.30" x2="850.50" y2="484.08" stroke="#000" stroke-width="0.83"/><line x1="850.50" y1="689.30" x2="850.50" y2="692.08" stroke="#000" stroke-width="0.83"/><line x1="868.50" y1="65.30" x2="868.50" y2="60.44" stroke="#000" stroke-width="1.11"/><line x1="868.50" y1="273.30" x2="868.50" y2="278.16" stroke="#000" stroke-width="1.11"/><line x1="868.50" y1="481.30" x2="868.50" y2="486.16" stroke="#000" stroke-width="1.11"/><line x1="868.50" y1="689.30" x2="868.50" y2="694.16" stroke="#000" stroke-width="1.11"/><line x1="886.50" y1="65.30" x2="886.50" y2="62.52" stroke="#000" stroke-width="0.83"/><line x1="886.50" y1="273.30" x2="886.50" y2="276.08" stroke="#000" stroke-width="0.83"/><line x1="886.50" y1="481.30" x2="886.50" y2="484.08" stroke="#000" stroke-width="0.83"/><line x1="886.50" y1="689.30" x2="886.50" y2="692.08" stroke="#000" stroke-width="0.83"/><line x1="904.50" y1="65.30" x2="904.50" y2="62.52" stroke="#000" stroke-width="0.83"/><line x1="904.50" y1="273.30" x2="904.50" y2="276.08" stroke="#000" stroke-width="0.83"/><line x1="904.50" y1="481.30" x2="904.50" y2="484.08" stroke="#000" stroke-width="0.83"/><line x1="904.50" y1="689.30" x2="904.50" y2="692.08" stroke="#000" stroke-width="0.83"/><line x1="922.50" y1="65.30" x2="922.50" y2="62.52" stroke="#000" stroke-width="0.83"/><line x1="922.50" y1="273.30" x2="922.50" y2="276.08" stroke="#000" stroke-width="0.83"/><line x1="922.50" y1="481.30" x2="922.50" y2="484.08" stroke="#000" stroke-width="0.83"/><line x1="922.50" y1="689.30" x2="922.50" y2="692.08" stroke="#000" stroke-width="0.83"/><line x1="940.50" y1="65.30" x2="940.50" y2="62.52" stroke="#000" stroke-width="0.83"/><line x1="940.50" y1="273.30" x2="940.50" y2="276.08" stroke="#000" stroke-width="0.83"/><line x1="940.50" y1="481.30" x2="940.50" y2="484.08" stroke="#000" stroke-width="0.83"/><line x1="940.50" y1="689.30" x2="940.50" y2="692.08" stroke="#000" stroke-width="0.83"/><line x1="958.50" y1="65.30" x2="958.50" y2="62.52" stroke="#000" stroke-width="0.83"/><line x1="958.50" y1="273.30" x2="958.50" y2="276.08" stroke="#000" stroke-width="0.83"/><line x1="958.50" y1="481.30" x2="958.50" y2="484.08" stroke="#000" stroke-width="0.83"/><line x1="958.50" y1="689.30" x2="958.50" y2="692.08" stroke="#000" stroke-width="0.83"/><line x1="976.50" y1="65.30" x2="976.50" y2="60.44" stroke="#000" stroke-width="1.11"/><line x1="976.50" y1="273.30" x2="976.50" y2="278.16" stroke="#000" stroke-width="1.11"/><line x1="976.50" y1="481.30" x2="976.50" y2="486.16" stroke="#000" stroke-width="1.11"/><line x1="976.50" y1="689.30" x2="976.50" y2="694.16" stroke="#000" stroke-width="1.11"/><line x1="994.50" y1="65.30" x2="994.50" y2="62.52" stroke="#000" stroke-width="0.83"/><line x1="994.50" y1="273.30" x2="994.50" y2="276.08" stroke="#000" stroke-width="0.83"/><line x1="994.50" y1="481.30" x2="994.50" y2="484.08" stroke="#000" stroke-width="0.83"/><line x1="994.50" y1="689.30" x2="994.50" y2="692.08" stroke="#000" stroke-width="0.83"/><line x1="1012.50" y1="65.30" x2="1012.50" y2="62.52" stroke="#000" stroke-width="0.83"/><line x1="1012.50" y1="273.30" x2="1012.50" y2="276.08" stroke="#000" stroke-width="0.83"/><line x1="1012.50" y1="481.30" x2="1012.50" y2="484.08" stroke="#000" stroke-width="0.83"/><line x1="1012.50" y1="689.30" x2="1012.50" y2="692.08" stroke="#000" stroke-width="0.83"/><line x1="1030.50" y1="65.30" x2="1030.50" y2="62.52" stroke="#000" stroke-width="0.83"/><line x1="1030.50" y1="273.30" x2="1030.50" y2="276.08" stroke="#000" stroke-width="0.83"/><line x1="1030.50" y1="481.30" x2="1030.50" y2="484.08" stroke="#000" stroke-width="0.83"/><line x1="1030.50" y1="689.30" x2="1030.50" y2="692.08" stroke="#000" stroke-width="0.83"/><line x1="1048.50" y1="65.30" x2="1048.50" y2="62.52" stroke="#000" stroke-width="0.83"/><line x1="1048.50" y1="273.30" x2="1048.50" y2="276.08" stroke="#000" stroke-width="0.83"/><line x1="1048.50" y1="481.30" x2="1048.50" y2="484.08" stroke="#000" stroke-width="0.83"/><line x1="1048.50" y1="689.30" x2="1048.50" y2="692.08" stroke="#000" stroke-width="0.83"/><line x1="1066.50" y1="65.30" x2="1066.50" y2="62.52" stroke="#000" stroke-width="0.83"/><line x1="1066.50" y1="273.30" x2="1066.50" y2="276.08" stroke="#000" stroke-width="0.83"/><line x1="1066.50" y1="481.30" x2="1066.50" y2="484.08" stroke="#000" stroke-width="0.83"/><line x1="1066.50" y1="689.30" x2="1066.50" y2="692.08" stroke="#000" stroke-width="0.83"/><line x1="1085.50" y1="65.30" x2="1085.50" y2="60.44" stroke="#000" stroke-width="1.11"/><line x1="1085.50" y1="273.30" x2="1085.50" y2="278.16" stroke="#000" stroke-width="1.11"/><line x1="1085.50" y1="481.30" x2="1085.50" y2="486.16" stroke="#000" stroke-width="1.11"/><line x1="1085.50" y1="689.30" x2="1085.50" y2="694.16" stroke="#000" stroke-width="1.11"/><line x1="1103.50" y1="65.30" x2="1103.50" y2="62.52" stroke="#000" stroke-width="0.83"/><line x1="1103.50" y1="273.30" x2="1103.50" y2="276.08" stroke="#000" stroke-width="0.83"/><line x1="1103.50" y1="481.30" x2="1103.50" y2="484.08" stroke="#000" stroke-width="0.83"/><line x1="1103.50" y1="689.30" x2="1103.50" y2="692.08" stroke="#000" stroke-width="0.83"/><line x1="1121.50" y1="65.30" x2="1121.50" y2="62.52" stroke="#000" stroke-width="0.83"/><line x1="1121.50" y1="273.30" x2="1121.50" y2="276.08" stroke="#000" stroke-width="0.83"/><line x1="1121.50" y1="481.30" x2="1121.50" y2="484.08" stroke="#000" stroke-width="0.83"/><line x1="1121.50" y1="689.30" x2="1121.50" y2="692.08" stroke="#000" stroke-width="0.83"/><line x1="1139.50" y1="65.30" x2="1139.50" y2="62.52" stroke="#000" stroke-width="0.83"/><line x1="1139.50" y1="273.30" x2="1139.50" y2="276.08" stroke="#000" stroke-width="0.83"/><line x1="1139.50" y1="481.30" x2="1139.50" y2="484.08" stroke="#000" stroke-width="0.83"/><line x1="1139.50" y1="689.30" x2="1139.50" y2="692.08" stroke="#000" stroke-width="0.83"/><line x1="1157.50" y1="65.30" x2="1157.50" y2="62.52" stroke="#000" stroke-width="0.83"/><line x1="1157.50" y1="273.30" x2="1157.50" y2="276.08" stroke="#000" stroke-width="0.83"/><line x1="1157.50" y1="481.30" x2="1157.50" y2="484.08" stroke="#000" stroke-width="0.83"/><line x1="1157.50" y1="689.30" x2="1157.50" y2="692.08" stroke="#000" stroke-width="0.83"/><line x1="1175.50" y1="65.30" x2="1175.50" y2="62.52" stroke="#000" stroke-width="0.83"/><line x1="1175.50" y1="273.30" x2="1175.50" y2="276.08" stroke="#000" stroke-width="0.83"/><line x1="1175.50" y1="481.30" x2="1175.50" y2="484.08" stroke="#000" stroke-width="0.83"/><line x1="1175.50" y1="689.30" x2="1175.50" y2="692.08" stroke="#000" stroke-width="0.83"/><line x1="1193.50" y1="65.30" x2="1193.50" y2="60.44" stroke="#000" stroke-width="1.11"/><line x1="1193.50" y1="273.30" x2="1193.50" y2="278.16" stroke="#000" stroke-width="1.11"/><line x1="1193.50" y1="481.30" x2="1193.50" y2="486.16" stroke="#000" stroke-width="1.11"/><line x1="1193.50" y1="689.30" x2="1193.50" y2="694.16" stroke="#000" stroke-width="1.11"/><line x1="1211.50" y1="65.30" x2="1211.50" y2="62.52" stroke="#000" stroke-width="0.83"/><line x1="1211.50" y1="273.30" x2="1211.50" y2="276.08" stroke="#000" stroke-width="0.83"/><line x1="1211.50" y1="481.30" x2="1211.50" y2="484.08" stroke="#000" stroke-width="0.83"/><line x1="1211.50" y1="689.30" x2="1211.50" y2="692.08" stroke="#000" stroke-width="0.83"/><line x1="1229.50" y1="65.30" x2="1229.50" y2="62.52" stroke="#000" stroke-width="0.83"/><line x1="1229.50" y1="273.30" x2="1229.50" y2="276.08" stroke="#000" stroke-width="0.83"/><line x1="1229.50" y1="481.30" x2="1229.50" y2="484.08" stroke="#000" stroke-width="0.83"/><line x1="1229.50" y1="689.30" x2="1229.50" y2="692.08" stroke="#000" stroke-width="0.83"/><line x1="74.40" y1="65.50" x2="69.54" y2="65.50" stroke="#000" stroke-width="1.11"/><line x1="74.40" y1="70.50" x2="69.54" y2="70.50" stroke="#000" stroke-width="1.11"/><line x1="74.40" y1="74.50" x2="69.54" y2="74.50" stroke="#000" stroke-width="1.11"/><line x1="74.40" y1="78.50" x2="69.54" y2="78.50" stroke="#000" stroke-width="1.11"/><line x1="74.40" y1="83.50" x2="69.54" y2="83.50" stroke="#000" stroke-width="1.11"/><line x1="74.40" y1="87.50" x2="69.54" y2="87.50" stroke="#000" stroke-width="1.11"/><line x1="74.40" y1="91.50" x2="69.54" y2="91.50" stroke="#000" stroke-width="1.11"/><line x1="74.40" y1="96.50" x2="69.54" y2="96.50" stroke="#000" stroke-width="1.11"/><line x1="74.40" y1="100.50" x2="69.54" y2="100.50" stroke="#000" stroke-width="1.11"/><line x1="74.40" y1="104.50" x2="69.54" y2="104.50" stroke="#000" stroke-width="1.11"/><line x1="74.40" y1="109.50" x2="69.54" y2="109.50" stroke="#000" stroke-width="1.11"/><line x1="74.40" y1="113.50" x2="69.54" y2="113.50" stroke="#000" stroke-width="1.11"/><line x1="74.40" y1="117.50" x2="69.54" y2="117.50" stroke="#000" stroke-width="1.11"/><line x1="74.40" y1="122.50" x2="69.54" y2="122.50" stroke="#000" stroke-width="1.11"/><line x1="74.40" y1="126.50" x2="69.54" y2="126.50" stroke="#000" stroke-width="1.11"/><line x1="74.40" y1="130.50" x2="69.54" y2="130.50" stroke="#000" stroke-width="1.11"/><line x1="74.40" y1="135.50" x2="69.54" y2="135.50" stroke="#000" stroke-width="1.11"/><line x1="74.40" y1="139.50" x2="69.54" y2="139.50" stroke="#000" stroke-width="1.11"/><line x1="74.40" y1="143.50" x2="69.54" y2="143.50" stroke="#000" stroke-width="1.11"/><line x1="74.40" y1="148.50" x2="69.54" y2="148.50" stroke="#000" stroke-width="1.11"/><line x1="74.40" y1="152.50" x2="69.54" y2="152.50" stroke="#000" stroke-width="1.11"/><line x1="74.40" y1="156.50" x2="69.54" y2="156.50" stroke="#000" stroke-width="1.11"/><line x1="74.40" y1="161.50" x2="69.54" y2="161.50" stroke="#000" stroke-width="1.11"/><line x1="74.40" y1="165.50" x2="69.54" y2="165.50" stroke="#000" stroke-width="1.11"/><line x1="74.40" y1="169.50" x2="69.54" y2="169.50" stroke="#000" stroke-width="1.11"/><line x1="74.40" y1="174.50" x2="69.54" y2="174.50" stroke="#000" stroke-width="1.11"/><line x1="74.40" y1="178.50" x2="69.54" y2="178.50" stroke="#000" stroke-width="1.11"/><line x1="74.40" y1="182.50" x2="69.54" y2="182.50" stroke="#000" stroke-width="1.11"/><line x1="74.40" y1="187.50" x2="69.54" y2="187.50" stroke="#000" stroke-width="1.11"/><line x1="74.40" y1="191.50" x2="69.54" y2="191.50" stroke="#000" stroke-width="1.11"/><line x1="74.40" y1="195.50" x2="69.54" y2="195.50" stroke="#000" stroke-width="1.11"/><line x1="74.40" y1="200.50" x2="69.54" y2="200.50" stroke="#000" stroke-width="1.11"/><line x1="74.40" y1="204.50" x2="69.54" y2="204.50" stroke="#000" stroke-width="1.11"/><line x1="74.40" y1="208.50" x2="69.54" y2="208.50" stroke="#000" stroke-width="1.11"/><line x1="74.40" y1="213.50" x2="69.54" y2="213.50" stroke="#000" stroke-width="1.11"/><line x1="74.40" y1="217.50" x2="69.54" y2="217.50" stroke="#000" stroke-width="1.11"/><line x1="74.40" y1="221.50" x2="69.54" y2="221.50" stroke="#000" stroke-width="1.11"/><line x1="74.40" y1="226.50" x2="69.54" y2="226.50" stroke="#000" stroke-width="1.11"/><line x1="74.40" y1="230.50" x2="69.54" y2="230.50" stroke="#000" stroke-width="1.11"/><line x1="74.40" y1="234.50" x2="69.54" y2="234.50" stroke="#000" stroke-width="1.11"/><line x1="74.40" y1="239.50" x2="69.54" y2="239.50" stroke="#000" stroke-width="1.11"/><line x1="74.40" y1="243.50" x2="69.54" y2="243.50" stroke="#000" stroke-width="1.11"/><line x1="74.40" y1="247.50" x2="69.54" y2="247.50" stroke="#000" stroke-width="1.11"/><line x1="74.40" y1="252.50" x2="69.54" y2="252.50" stroke="#000" stroke-width="1.11"/><line x1="74.40" y1="256.50" x2="69.54" y2="256.50" stroke="#000" stroke-width="1.11"/><line x1="74.40" y1="260.50" x2="69.54" y2="260.50" stroke="#000" stroke-width="1.11"/><line x1="74.40" y1="265.50" x2="69.54" y2="265.50" stroke="#000" stroke-width="1.11"/><line x1="74.40" y1="269.50" x2="69.54" y2="269.50" stroke="#000" stroke-width="1.11"/><line x1="74.40" y1="273.50" x2="69.54" y2="273.50" stroke="#000" stroke-width="1.11"/><line x1="74.40" y1="273.50" x2="69.54" y2="273.50" stroke="#000" stroke-width="1.11"/><line x1="74.40" y1="278.50" x2="69.54" y2="278.50" stroke="#000" stroke-width="1.11"/><line x1="74.40" y1="282.50" x2="69.54" y2="282.50" stroke="#000" stroke-width="1.11"/><line x1="74.40" y1="286.50" x2="69.54" y2="286.50" stroke="#000" stroke-width="1.11"/><line x1="74.40" y1="291.50" x2="69.54" y2="291.50" stroke="#000" stroke-width="1.11"/><line x1="74.40" y1="295.50" x2="69.54" y2="295.50" stroke="#000" stroke-width="1.11"/><line x1="74.40" y1="299.50" x2="69.54" y2="299.50" stroke="#000" stroke-width="1.11"/><line x1="74.40" y1="304.50" x2="69.54" y2="304.50" stroke="#000" stroke-width="1.11"/><line x1="74.40" y1="308.50" x2="69.54" y2="308.50" stroke="#000" stroke-width="1.11"/><line x1="74.40" y1="312.50" x2="69.54" y2="312.50" stroke="#000" stroke-width="1.11"/><line x1="74.40" y1="317.50" x2="69.54" y2="317.50" stroke="#000" stroke-width="1.11"/><line x1="74.40" y1="321.50" x2="69.54" y2="321.50" stroke="#000" stroke-width="1.11"/><line x1="74.40" y1="325.50" x2="69.54" y2="325.50" stroke="#000" stroke-width="1.11"/><line x1="74.40" y1="330.50" x2="69.54" y2="330.50" stroke="#000" stroke-width="1.11"/><line x1="74.40" y1="334.50" x2="69.54" y2="334.50" stroke="#000" stroke-width="1.11"/><line x1="74.40" y1="338.50" x2="69.54" y2="338.50" stroke="#000" stroke-width="1.11"/><line x1="74.40" y1="343.50" x2="69.54" y2="343.50" stroke="#000" stroke-width="1.11"/><line x1="74.40" y1="347.50" x2="69.54" y2="347.50" stroke="#000" stroke-width="1.11"/><line x1="74.40" y1="351.50" x2="69.54" y2="351.50" stroke="#000" stroke-width="1.11"/><line x1="74.40" y1="356.50" x2="69.54" y2="356.50" stroke="#000" stroke-width="1.11"/><line x1="74.40" y1="360.50" x2="69.54" y2="360.50" stroke="#000" stroke-width="1.11"/><line x1="74.40" y1="364.50" x2="69.54" y2="364.50" stroke="#000" stroke-width="1.11"/><line x1="74.40" y1="369.50" x2="69.54" y2="369.50" stroke="#000" stroke-width="1.11"/><line x1="74.40" y1="373.50" x2="69.54" y2="373.50" stroke="#000" stroke-width="1.11"/><line x1="74.40" y1="377.50" x2="69.54" y2="377.50" stroke="#000" stroke-width="1.11"/><line x1="74.40" y1="382.50" x2="69.54" y2="382.50" stroke="#000" stroke-width="1.11"/><line x1="74.40" y1="386.50" x2="69.54" y2="386.50" stroke="#000" stroke-width="1.11"/><line x1="74.40" y1="390.50" x2="69.54" y2="390.50" stroke="#000" stroke-width="1.11"/><line x1="74.40" y1="395.50" x2="69.54" y2="395.50" stroke="#000" stroke-width="1.11"/><line x1="74.40" y1="399.50" x2="69.54" y2="399.50" stroke="#000" stroke-width="1.11"/><line x1="74.40" y1="403.50" x2="69.54" y2="403.50" stroke="#000" stroke-width="1.11"/><line x1="74.40" y1="408.50" x2="69.54" y2="408.50" stroke="#000" stroke-width="1.11"/><line x1="74.40" y1="412.50" x2="69.54" y2="412.50" stroke="#000" stroke-width="1.11"/><line x1="74.40" y1="416.50" x2="69.54" y2="416.50" stroke="#000" stroke-width="1.11"/><line x1="74.40" y1="421.50" x2="69.54" y2="421.50" stroke="#000" stroke-width="1.11"/><line x1="74.40" y1="425.50" x2="69.54" y2="425.50" stroke="#000" stroke-width="1.11"/><line x1="74.40" y1="429.50" x2="69.54" y2="429.50" stroke="#000" stroke-width="1.11"/><line x1="74.40" y1="434.50" x2="69.54" y2="434.50" stroke="#000" stroke-width="1.11"/><line x1="74.40" y1="438.50" x2="69.54" y2="438.50" stroke="#000" stroke-width="1.11"/><line x1="74.40" y1="442.50" x2="69.54" y2="442.50" stroke="#000" stroke-width="1.11"/><line x1="74.40" y1="447.50" x2="69.54" y2="447.50" stroke="#000" stroke-width="1.11"/><line x1="74.40" y1="451.50" x2="69.54" y2="451.50" stroke="#000" stroke-width="1.11"/><line x1="74.40" y1="455.50" x2="69.54" y2="455.50" stroke="#000" stroke-width="1.11"/><line x1="74.40" y1="460.50" x2="69.54" y2="460.50" stroke="#000" stroke-width="1.11"/><line x1="74.40" y1="464.50" x2="69.54" y2="464.50" stroke="#000" stroke-width="1.11"/><line x1="74.40" y1="468.50" x2="69.54" y2="468.50" stroke="#000" stroke-width="1.11"/><line x1="74.40" y1="473.50" x2="69.54" y2="473.50" stroke="#000" stroke-width="1.11"/><line x1="74.40" y1="477.50" x2="69.54" y2="477.50" stroke="#000" stroke-width="1.11"/><line x1="74.40" y1="481.50" x2="69.54" y2="481.50" stroke="#000" stroke-width="1.11"/><line x1="74.40" y1="682.50" x2="69.54" y2="682.50" stroke="#000" stroke-width="1.11"/><line x1="74.40" y1="649.50" x2="69.54" y2="649.50" stroke="#000" stroke-width="1.11"/><line x1="74.40" y1="615.50" x2="69.54" y2="615.50" stroke="#000" stroke-width="1.11"/><line x1="74.40" y1="581.50" x2="69.54" y2="581.50" stroke="#000" stroke-width="1.11"/><line x1="74.40" y1="548.50" x2="69.54" y2="548.50" stroke="#000" stroke-width="1.11"/><line x1="74.40" y1="514.50" x2="69.54" y2="514.50" stroke="#000" stroke-width="1.11"/><line x1="74.40" y1="481.50" x2="69.54" y2="481.50" stroke="#000" stroke-width="1.11"/></g><g font-family="Liberation Sans, sans-serif"><g font-size="17.64" fill="#000"><text x="165.51" y="27.80" textLength="96.76" lengthAdjust="spacingAndGlyphs">2026-02-12</text><text x="272.86" y="27.80" textLength="96.70" lengthAdjust="spacingAndGlyphs">SOLARSPEL</text><text x="380.14" y="27.80" textLength="37.79" lengthAdjust="spacingAndGlyphs">3-24</text><text x="423.22" y="27.80" textLength="34.16" lengthAdjust="spacingAndGlyphs">GHz</text><text x="462.67" y="27.80" textLength="158.97" lengthAdjust="spacingAndGlyphs">spectropolarimeter</text><text x="626.94" y="27.80" textLength="37.50" lengthAdjust="spacingAndGlyphs">data</text><text x="680.32" y="27.80" textLength="55.25" lengthAdjust="spacingAndGlyphs">Stokes</text><text x="740.86" y="27.80" textLength="21.59" lengthAdjust="spacingAndGlyphs">I,V</text><text x="778.33" y="27.80" textLength="21.19" lengthAdjust="spacingAndGlyphs">48</text><text x="804.80" y="27.80" textLength="83.51" lengthAdjust="spacingAndGlyphs">frequency</text><text x="893.61" y="27.80" textLength="74.56" lengthAdjust="spacingAndGlyphs">channels</text><text x="984.04" y="27.80" textLength="94.61" lengthAdjust="spacingAndGlyphs">(calibration</text><text x="1083.95" y="27.80" textLength="101.34" lengthAdjust="spacingAndGlyphs">preliminary)</text></g><g font-size="14.70" fill="#000"><text x="90.46" y="56.90" textLength="40.06" lengthAdjust="spacingAndGlyphs">00:00</text></g><g font-size="14.70" fill="#000"><text x="90.46" y="708.90" textLength="40.06" lengthAdjust="spacingAndGlyphs">00:00</text></g><g font-size="14.70" fill="#000"><text x="198.75" y="56.90" textLength="40.06" lengthAdjust="spacingAndGlyphs">01:00</text></g><g font-size="14.70" fill="#000"><text x="198.75" y="708.90" textLength="40.06" lengthAdjust="spacingAndGlyphs">01:00</text></g><g font-size="14.70" fill="#000"><text x="307.03" y="56.90" textLength="40.06" lengthAdjust="spacingAndGlyphs">02:00</text></g><g font-size="14.70" fill="#000"><text x="307.03" y="708.90" textLength="40.06" lengthAdjust="spacingAndGlyphs">02:00</text></g><g font-size="14.70" fill="#000"><text x="415.31" y="56.90" textLength="40.06" lengthAdjust="spacingAndGlyphs">03:00</text></g><g font-size="14.70" fill="#000"><text x="415.31" y="708.90" textLength="40.06" lengthAdjust="spacingAndGlyphs">03:00</text></g><g font-size="14.70" fill="#000"><text x="523.59" y="56.90" textLength="40.06" lengthAdjust="spacingAndGlyphs">04:00</text></g><g font-size="14.70" fill="#000"><text x="523.59" y="708.90" textLength="40.06" lengthAdjust="spacingAndGlyphs">04:00</text></g><g font-size="14.70" fill="#000"><text x="631.87" y="56.90" textLength="40.06" lengthAdjust="spacingAndGlyphs">05:00</text></g><g font-size="14.70" fill="#000"><text x="631.87" y="708.90" textLength="40.06" lengthAdjust="spacingAndGlyphs">05:00</text></g><g font-size="14.70" fill="#000"><text x="740.15" y="56.90" textLength="40.06" lengthAdjust="spacingAndGlyphs">06:00</text></g><g font-size="14.70" fill="#000"><text x="740.15" y="708.90" textLength="40.06" lengthAdjust="spacingAndGlyphs">06:00</text></g><g font-size="14.70" fill="#000"><text x="848.43" y="56.90" textLength="40.06" lengthAdjust="spacingAndGlyphs">07:00</text></g><g font-size="14.70" fill="#000"><text x="848.43" y="708.90" textLength="40.06" lengthAdjust="spacingAndGlyphs">07:00</text></g><g font-size="14.70" fill="#000"><text x="956.71" y="56.90" textLength="40.06" lengthAdjust="spacingAndGlyphs">08:00</text></g><g font-size="14.70" fill="#000"><text x="956.71" y="708.90" textLength="40.06" lengthAdjust="spacingAndGlyphs">08:00</text></g><g font-size="14.70" fill="#000"><text x="1065.00" y="56.90" textLength="40.06" lengthAdjust="spacingAndGlyphs">09:00</text></g><g font-size="14.70" fill="#000"><text x="1065.00" y="708.90" textLength="40.06" lengthAdjust="spacingAndGlyphs">09:00</text></g><g font-size="14.70" fill="#000"><text x="1173.28" y="56.90" textLength="40.06" lengthAdjust="spacingAndGlyphs">10:00</text></g><g font-size="14.70" fill="#000"><text x="1173.28" y="708.90" textLength="40.06" lengthAdjust="spacingAndGlyphs">10:00</text></g><g font-size="14.70" fill="#000"><text x="33.75" y="70.54" textLength="30.95" lengthAdjust="spacingAndGlyphs">24.0</text></g><g font-size="14.70" fill="#000"><text x="33.75" y="93.14" textLength="30.95" lengthAdjust="spacingAndGlyphs">20.0</text></g><g font-size="14.70" fill="#000"><text x="33.75" y="115.54" textLength="30.95" lengthAdjust="spacingAndGlyphs">16.0</text></g><g font-size="14.70" fill="#000"><text x="33.75" y="142.34" textLength="30.95" lengthAdjust="spacingAndGlyphs">12.0</text></g><g font-size="14.70" fill="#000"><text x="33.75" y="164.54" textLength="30.95" lengthAdjust="spacingAndGlyphs">10.0</text></g><g font-size="14.70" fill="#000"><text x="42.59" y="186.24" textLength="22.11" lengthAdjust="spacingAndGlyphs">8.0</text></g><g font-size="14.70" fill="#000"><text x="42.59" y="212.24" textLength="22.11" lengthAdjust="spacingAndGlyphs">6.0</text></g><g font-size="14.70" fill="#000"><text x="42.59" y="234.24" textLength="22.11" lengthAdjust="spacingAndGlyphs">5.0</text></g><g font-size="14.70" fill="#000"><text x="42.59" y="256.64" textLength="22.11" lengthAdjust="spacingAndGlyphs">4.0</text></g><g font-size="14.70" fill="#000"><text x="42.59" y="278.84" textLength="22.11" lengthAdjust="spacingAndGlyphs">3.0</text></g><g font-size="14.70" fill="#000"><text x="33.75" y="300.54" textLength="30.95" lengthAdjust="spacingAndGlyphs">20.0</text></g><g font-size="14.70" fill="#000"><text x="33.75" y="322.74" textLength="30.95" lengthAdjust="spacingAndGlyphs">16.0</text></g><g font-size="14.70" fill="#000"><text x="33.75" y="348.84" textLength="30.95" lengthAdjust="spacingAndGlyphs">12.0</text></g><g font-size="14.70" fill="#000"><text x="33.75" y="371.04" textLength="30.95" lengthAdjust="spacingAndGlyphs">10.0</text></g><g font-size="14.70" fill="#000"><text x="42.59" y="394.24" textLength="22.11" lengthAdjust="spacingAndGlyphs">8.0</text></g><g font-size="14.70" fill="#000"><text x="42.59" y="420.24" textLength="22.11" lengthAdjust="spacingAndGlyphs">6.0</text></g><g font-size="14.70" fill="#000"><text x="42.59" y="442.24" textLength="22.11" lengthAdjust="spacingAndGlyphs">5.0</text></g><g font-size="14.70" fill="#000"><text x="42.59" y="464.64" textLength="22.11" lengthAdjust="spacingAndGlyphs">4.0</text></g><g font-size="14.70" fill="#000"><text x="42.59" y="486.84" textLength="22.11" lengthAdjust="spacingAndGlyphs">3.0</text></g><g font-size="14.70" fill="#000"><text x="55.86" y="687.65" textLength="8.84" lengthAdjust="spacingAndGlyphs">0</text></g><g font-size="14.70" fill="#000"><text x="38.17" y="654.10" textLength="26.53" lengthAdjust="spacingAndGlyphs">500</text></g><g font-size="14.70" fill="#000"><text x="29.33" y="620.55" textLength="35.38" lengthAdjust="spacingAndGlyphs">1000</text></g><g font-size="14.70" fill="#000"><text x="29.33" y="587.01" textLength="35.38" lengthAdjust="spacingAndGlyphs">1500</text></g><g font-size="14.70" fill="#000"><text x="29.33" y="553.46" textLength="35.38" lengthAdjust="spacingAndGlyphs">2000</text></g><g font-size="14.70" fill="#000"><text x="29.33" y="519.91" textLength="35.38" lengthAdjust="spacingAndGlyphs">2500</text></g><g font-size="17.64" fill="#000" transform="rotate(-90 23.60 169.30)"><text x="-41.78" y="169.30" textLength="91.31" lengthAdjust="spacingAndGlyphs">Frequency,</text><text x="54.82" y="169.30" textLength="34.16" lengthAdjust="spacingAndGlyphs">GHz</text></g><g font-size="17.64" fill="#000" transform="rotate(-90 23.60 377.30)"><text x="-41.78" y="377.30" textLength="91.31" lengthAdjust="spacingAndGlyphs">Frequency,</text><text x="54.82" y="377.30" textLength="34.16" lengthAdjust="spacingAndGlyphs">GHz</text></g><g font-size="17.64" fill="#000" transform="rotate(-90 19.30 585.20)"><text x="-58.20" y="585.20" textLength="55.25" lengthAdjust="spacingAndGlyphs">Stokes</text><text x="2.34" y="585.20" textLength="21.59" lengthAdjust="spacingAndGlyphs">I,V</text><text x="29.22" y="585.20" textLength="37.20" lengthAdjust="spacingAndGlyphs">plot,</text><text x="71.72" y="585.20" textLength="25.09" lengthAdjust="spacingAndGlyphs">sfu</text></g><g font-size="16.17" fill="#000"><text x="1233.70" y="708.60" textLength="30.33" lengthAdjust="spacingAndGlyphs">UTC</text><text x="1268.89" y="708.60" textLength="37.44" lengthAdjust="spacingAndGlyphs">Time</text></g></g><g font-family="Liberation Sans, sans-serif"><rect x="1239.20" y="75.70" width="9.40" height="187.20" fill="url(#cbg0)" stroke="#000" stroke-width="1.11"/><line x1="1248.60" y1="262.90" x2="1253.46" y2="262.90" stroke="#000" stroke-width="1.11"/><g font-size="14.70" fill="#000"><text x="1258.32" y="267.96" textLength="8.84" lengthAdjust="spacingAndGlyphs">0</text></g><line x1="1248.60" y1="231.70" x2="1253.46" y2="231.70" stroke="#000" stroke-width="1.11"/><g font-size="14.70" fill="#000"><text x="1258.32" y="236.76" textLength="26.53" lengthAdjust="spacingAndGlyphs">500</text></g><line x1="1248.60" y1="200.50" x2="1253.46" y2="200.50" stroke="#000" stroke-width="1.11"/><g font-size="14.70" fill="#000"><text x="1258.32" y="205.56" textLength="35.38" lengthAdjust="spacingAndGlyphs">1000</text></g><line x1="1248.60" y1="169.30" x2="1253.46" y2="169.30" stroke="#000" stroke-width="1.11"/><g font-size="14.70" fill="#000"><text x="1258.32" y="174.36" textLength="35.38" lengthAdjust="spacingAndGlyphs">1500</text></g><line x1="1248.60" y1="138.10" x2="1253.46" y2="138.10" stroke="#000" stroke-width="1.11"/><g font-size="14.70" fill="#000"><text x="1258.32" y="143.16" textLength="35.38" lengthAdjust="spacingAndGlyphs">2000</text></g><line x1="1248.60" y1="106.90" x2="1253.46" y2="106.90" stroke="#000" stroke-width="1.11"/><g font-size="14.70" fill="#000"><text x="1258.32" y="111.96" textLength="35.38" lengthAdjust="spacingAndGlyphs">2500</text></g><line x1="1248.60" y1="75.70" x2="1253.46" y2="75.70" stroke="#000" stroke-width="1.11"/><g font-size="14.70" fill="#000"><text x="1258.32" y="80.76" textLength="35.38" lengthAdjust="spacingAndGlyphs">3000</text></g><g font-size="17.64" fill="#000" transform="rotate(-90 1311.90 169.80)"><text x="1240.20" y="169.80" textLength="55.25" lengthAdjust="spacingAndGlyphs">Stokes</text><text x="1300.74" y="169.80" textLength="4.91" lengthAdjust="spacingAndGlyphs">I</text><text x="1310.94" y="169.80" textLength="42.28" lengthAdjust="spacingAndGlyphs">map,</text><text x="1358.52" y="169.80" textLength="25.09" lengthAdjust="spacingAndGlyphs">sfu</text></g><rect x="1239.20" y="283.70" width="9.40" height="187.20" fill="url(#cbg1)" stroke="#000" stroke-width="1.11"/><line x1="1248.60" y1="470.90" x2="1253.46" y2="470.90" stroke="#000" stroke-width="1.11"/><g font-size="14.70" fill="#000"><text x="1258.32" y="475.96" textLength="38.18" lengthAdjust="spacingAndGlyphs">−200</text></g><line x1="1248.60" y1="424.10" x2="1253.46" y2="424.10" stroke="#000" stroke-width="1.11"/><g font-size="14.70" fill="#000"><text x="1258.32" y="429.16" textLength="38.18" lengthAdjust="spacingAndGlyphs">−100</text></g><line x1="1248.60" y1="377.30" x2="1253.46" y2="377.30" stroke="#000" stroke-width="1.11"/><g font-size="14.70" fill="#000"><text x="1258.32" y="382.36" textLength="8.84" lengthAdjust="spacingAndGlyphs">0</text></g><line x1="1248.60" y1="330.50" x2="1253.46" y2="330.50" stroke="#000" stroke-width="1.11"/><g font-size="14.70" fill="#000"><text x="1258.32" y="335.56" textLength="26.53" lengthAdjust="spacingAndGlyphs">100</text></g><line x1="1248.60" y1="283.70" x2="1253.46" y2="283.70" stroke="#000" stroke-width="1.11"/><g font-size="14.70" fill="#000"><text x="1258.32" y="288.76" textLength="26.53" lengthAdjust="spacingAndGlyphs">200</text></g><g font-size="17.64" fill="#000" transform="rotate(-90 1314.30 377.80)"><text x="1239.36" y="377.80" textLength="55.25" lengthAdjust="spacingAndGlyphs">Stokes</text><text x="1299.90" y="377.80" textLength="11.39" lengthAdjust="spacingAndGlyphs">V</text><text x="1316.58" y="377.80" textLength="42.28" lengthAdjust="spacingAndGlyphs">map,</text><text x="1364.16" y="377.80" textLength="25.09" lengthAdjust="spacingAndGlyphs">sfu</text></g></g><g font-family="Liberation Sans, sans-serif"><rect x="1234.8" y="487.8" width="109.4" height="175.6" rx="2.8" ry="2.8" fill="#fff" fill-opacity="0.8" stroke="#cccccc" stroke-width="1.11"/><circle cx="1251.5" cy="498.40" r="3.9" fill="#0000ff"/><g font-size="13.23" fill="#000"><text x="1273.80" y="502.90" textLength="35.79" lengthAdjust="spacingAndGlyphs">19.69</text><text x="1313.56" y="502.90" textLength="25.65" lengthAdjust="spacingAndGlyphs">GHz</text></g><circle cx="1251.5" cy="517.66" r="3.9" fill="#0020c0"/><g font-size="13.23" fill="#000"><text x="1273.80" y="522.16" textLength="35.79" lengthAdjust="spacingAndGlyphs">15.69</text><text x="1313.56" y="522.16" textLength="25.65" lengthAdjust="spacingAndGlyphs">GHz</text></g><circle cx="1251.5" cy="536.92" r="3.9" fill="#004080"/><g font-size="13.23" fill="#000"><text x="1273.80" y="541.42" textLength="35.79" lengthAdjust="spacingAndGlyphs">11.83</text><text x="1313.56" y="541.42" textLength="25.65" lengthAdjust="spacingAndGlyphs">GHz</text></g><circle cx="1251.5" cy="556.18" r="3.9" fill="#005a50"/><g font-size="13.23" fill="#000"><text x="1273.80" y="560.68" textLength="27.83" lengthAdjust="spacingAndGlyphs">9.83</text><text x="1305.61" y="560.68" textLength="25.65" lengthAdjust="spacingAndGlyphs">GHz</text></g><circle cx="1251.5" cy="575.44" r="3.9" fill="#008000"/><g font-size="13.23" fill="#000"><text x="1273.80" y="579.94" textLength="27.83" lengthAdjust="spacingAndGlyphs">7.83</text><text x="1305.61" y="579.94" textLength="25.65" lengthAdjust="spacingAndGlyphs">GHz</text></g><circle cx="1251.5" cy="594.70" r="3.9" fill="#406000"/><g font-size="13.23" fill="#000"><text x="1273.80" y="599.20" textLength="27.83" lengthAdjust="spacingAndGlyphs">5.90</text><text x="1305.61" y="599.20" textLength="25.65" lengthAdjust="spacingAndGlyphs">GHz</text></g><circle cx="1251.5" cy="613.96" r="3.9" fill="#804000"/><g font-size="13.23" fill="#000"><text x="1273.80" y="618.46" textLength="27.83" lengthAdjust="spacingAndGlyphs">4.90</text><text x="1305.61" y="618.46" textLength="25.65" lengthAdjust="spacingAndGlyphs">GHz</text></g><circle cx="1251.5" cy="633.22" r="3.9" fill="#c02000"/><g font-size="13.23" fill="#000"><text x="1273.80" y="637.72" textLength="27.83" lengthAdjust="spacingAndGlyphs">3.90</text><text x="1305.61" y="637.72" textLength="25.65" lengthAdjust="spacingAndGlyphs">GHz</text></g><circle cx="1251.5" cy="652.48" r="3.9" fill="#ff0000"/><g font-size="13.23" fill="#000"><text x="1273.80" y="656.98" textLength="27.83" lengthAdjust="spacingAndGlyphs">3.00</text><text x="1305.61" y="656.98" textLength="25.65" lengthAdjust="spacingAndGlyphs">GHz</text></g></g></svg></body></html>
